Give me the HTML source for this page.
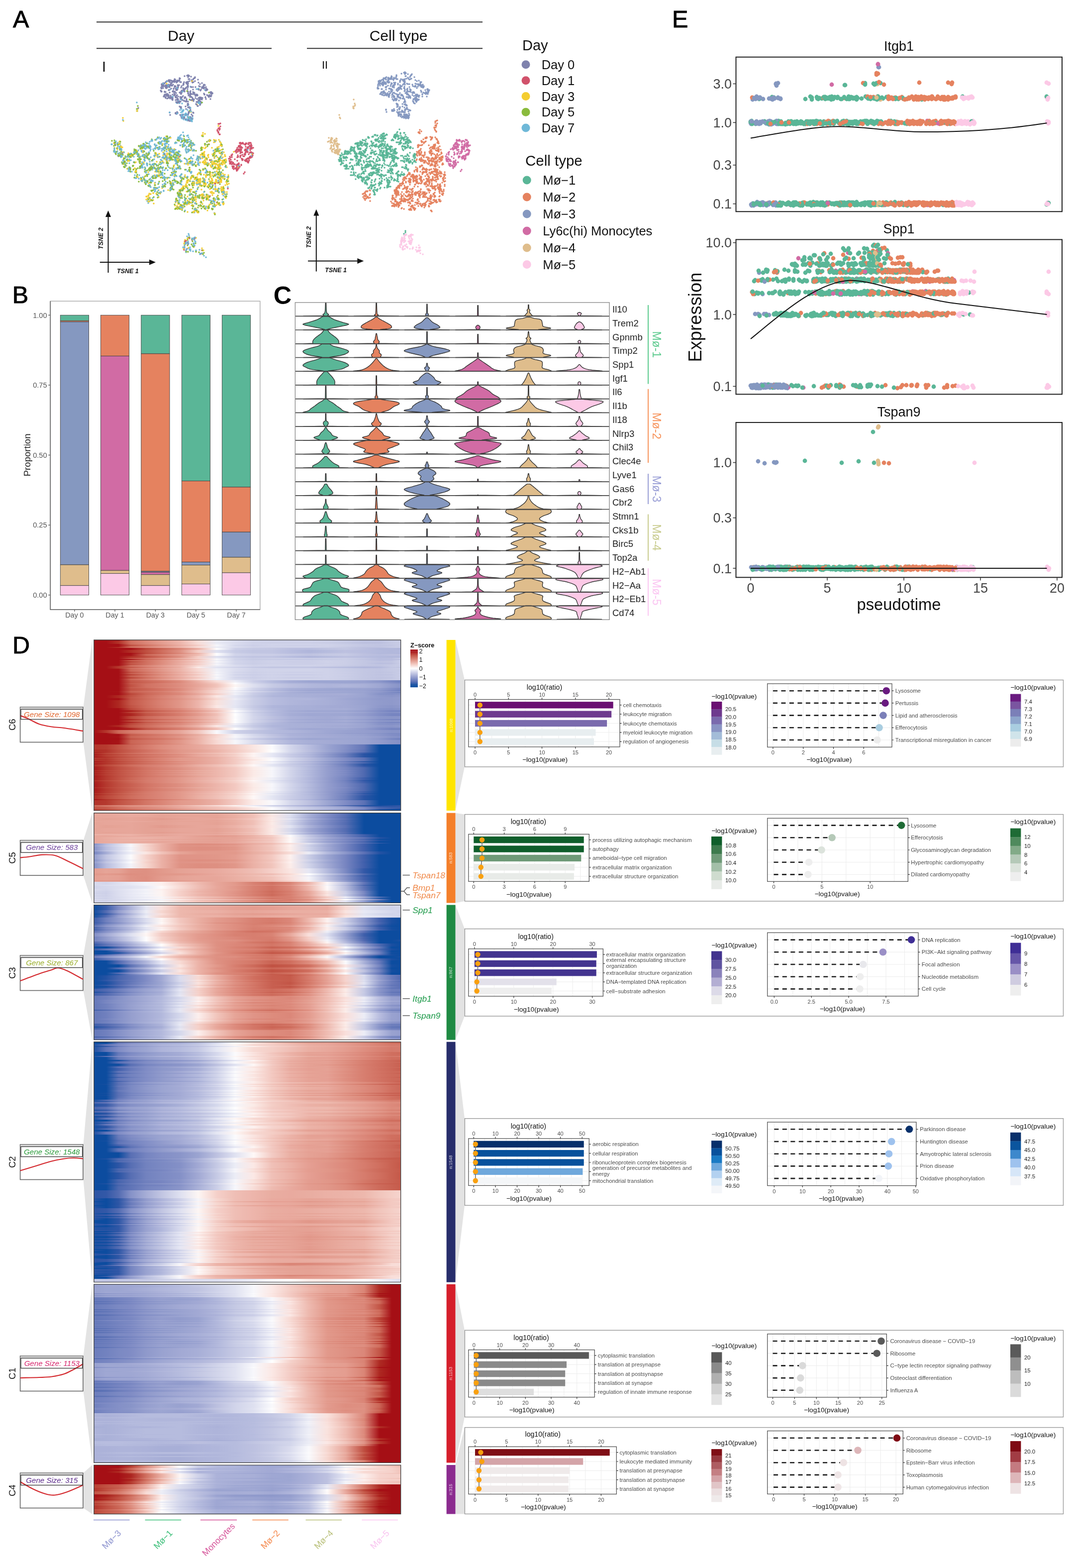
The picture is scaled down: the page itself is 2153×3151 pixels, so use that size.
<!DOCTYPE html>
<html><head><meta charset="utf-8"><title>Figure</title>
<style>html,body{margin:0;padding:0;background:#fff}svg{display:block}text{font-family:"Liberation Sans",Arial,sans-serif}</style>
</head><body>
<svg width="2153" height="3151" viewBox="0 0 2153 3151">
<rect width="2153" height="3151" fill="#fff"/>
<text x="26" y="55.3" font-size="48.5" stroke="#000" stroke-width="0.9">A</text>
<line x1="194" y1="44.2" x2="970" y2="44.2" stroke="#333" stroke-width="2" />
<line x1="194" y1="97.3" x2="546" y2="97.3" stroke="#333" stroke-width="2" />
<line x1="617" y1="97.3" x2="970" y2="97.3" stroke="#333" stroke-width="2" />
<text x="364" y="82" font-size="30" fill="#111" text-anchor="middle">Day</text>
<text x="801" y="82" font-size="30" fill="#111" text-anchor="middle">Cell type</text>
<text x="205" y="143.6" font-size="29" fill="#111">I</text>
<text x="647" y="137.5" font-size="21.5" fill="#111">II</text>
<path d="M831 205h0M807 191h0M816 238h0M791 161h0M823 195h0M814 230h0M836 202h0M818 184h0M786 170h0M806 229h0M781 194h0M798 179h0M856 189h0M800 226h0M810 170h0M759 176h0M818 230h0M818 212h0M818 235h0M819 183h0M787 179h0M847 171h0M839 193h0M817 186h0M785 173h0M776 176h0M786 179h0M771 170h0M811 169h0M835 161h0M839 193h0M814 149h0M769 191h0M813 199h0M808 236h0M789 223h0M770 171h0M765 164h0M813 183h0M839 191h0M805 162h0M815 187h0M824 222h0M813 204h0M837 196h0M764 172h0M837 191h0M813 178h0M785 159h0M796 155h0M799 195h0M827 151h0M789 173h0M814 202h0M813 205h0M834 208h0M794 200h0M807 231h0M811 162h0M841 171h0M821 238h0M855 181h0M761 178h0M847 185h0M803 220h0M782 190h0M822 195h0M801 231h0M835 173h0M778 189h0M832 193h0M820 234h0M829 187h0M814 226h0M818 185h0M794 169h0M794 199h0M813 235h0M845 169h0M774 168h0M849 189h0M792 173h0M803 218h0M776 159h0M801 176h0M793 222h0M851 176h0M819 237h0M814 163h0M776 221h0M802 218h0M812 226h0M839 201h0M817 218h0M767 179h0M804 162h0M797 159h0M768 179h0M788 155h0M860 183h0M859 179h0M825 159h0M849 190h0M782 194h0M796 198h0M793 168h0M792 157h0M780 172h0M774 157h0M810 162h0M781 156h0M767 161h0M811 198h0M850 176h0M835 199h0M760 171h0M800 191h0M800 214h0M770 168h0M773 187h0M820 190h0M763 169h0M829 170h0M825 197h0M807 173h0M833 187h0M809 225h0M796 157h0M859 180h0M839 193h0M825 180h0M790 223h0M789 175h0M809 191h0M799 190h0M798 199h0M810 225h0M787 159h0M861 182h0M804 217h0M776 180h0M770 185h0M782 178h0M803 231h0M760 177h0M863 181h0M796 157h0M780 162h0M764 164h0M780 166h0M818 232h0M814 163h0M825 195h0M810 198h0M782 191h0M776 169h0M801 181h0M760 173h0M775 167h0M817 195h0M775 169h0M785 157h0M814 220h0M797 208h0M803 176h0M763 165h0M792 196h0M800 168h0M827 158h0M841 201h0M783 191h0M793 158h0M816 153h0M841 169h0M844 170h0M822 236h0M760 170h0M860 179h0M847 175h0M811 195h0M769 170h0M783 178h0M802 178h0M778 191h0M814 145h0M776 220h0M838 199h0M839 190h0M775 175h0M838 201h0M826 181h0M771 157h0M772 183h0M803 179h0M793 194h0M782 195h0M838 202h0M804 230h0M838 169h0M830 203h0M838 177h0M799 209h0M803 231h0M799 159h0M831 199h0M818 195h0M804 164h0M811 235h0M818 180h0M837 190h0M787 154h0M799 221h0M809 234h0M823 184h0M785 173h0M803 229h0M829 191h0M777 192h0M771 185h0M800 211h0M832 185h0M819 188h0M815 236h0M759 178h0M779 187h0M838 203h0M775 191h0M813 236h0M860 189h0M832 207h0M845 167h0M814 223h0M790 187h0M788 191h0M840 193h0M795 166h0M813 147h0M816 231h0M817 187h0M820 156h0M789 173h0M792 157h0M767 190h0M802 230h0M849 173h0M819 181h0M809 198h0M764 189h0M767 179h0M827 151h0M792 202h0M839 199h0M823 169h0M788 221h0M853 187h0M792 194h0M780 190h0M788 223h0M791 223h0M813 174h0M837 201h0M842 162h0M825 222h0M803 229h0M810 161h0M833 155h0M816 187h0M763 162h0M805 174h0M857 188h0M774 186h0M820 169h0M822 228h0M809 225h0M792 186h0M765 163h0M787 184h0M775 156h0M836 174h0M835 202h0M773 187h0M792 156h0M766 168h0M802 225h0M824 155h0M842 200h0M815 231h0M838 199h0M804 225h0M769 169h0M821 184h0M789 181h0M809 223h0M782 195h0M772 165h0M846 182h0M836 190h0M838 163h0M770 171h0M791 171h0M799 183h0M821 197h0M797 181h0M823 231h0M798 225h0M806 178h0M790 159h0M799 183h0M771 159h0M771 186h0M817 158h0M803 231h0M800 228h0M812 230h0M761 164h0M763 167h0M760 171h0M858 188h0M770 172h0M818 190h0M809 160h0M834 198h0M846 165h0M783 158h0M792 222h0M768 170h0M856 185h0M786 184h0M808 173h0M850 170h0M791 194h0M831 204h0M787 167h0M806 174h0M852 174h0M844 170h0M804 171h0M805 176h0M825 153h0M843 170h0M771 162h0M839 200h0M776 167h0M822 228h0M814 170h0M772 183h0M806 159h0M818 168h0M791 201h0M797 189h0M782 191h0M769 160h0M806 231h0M797 151h0M782 193h0M781 191h0M831 200h0M814 159h0M812 146h0M812 177h0M814 236h0M777 225h0M813 177h0M815 147h0M783 165h0M804 165h0M770 188h0M787 168h0M787 158h0M815 209h0M766 187h0M836 203h0M821 224h0M780 157h0M858 186h0M813 169h0M776 160h0M835 161h0M774 165h0M792 157h0M813 210h0M851 174h0M805 177h0M797 152h0M813 216h0M816 212h0M781 190h0M804 162h0M815 153h0M771 168h0M835 196h0M805 234h0M818 216h0M775 156h0M785 157h0M840 174h0M807 179h0M788 195h0M764 168h0M797 201h0M833 199h0M792 219h0M793 222h0M782 166h0M784 178h0M807 225h0M807 190h0M770 167h0M778 164h0M782 184h0M786 157h0M822 233h0M781 191h0M803 177h0M806 191h0M769 165h0M846 171h0M798 215h0M820 220h0M819 232h0M794 188h0M819 184h0M810 225h0M814 234h0M814 222h0M767 185h0M821 238h0M839 192h0M789 199h0M793 200h0M824 193h0M821 158h0M820 169h0M814 180h0M851 186h0M847 165h0M835 168h0M857 188h0M817 211h0M861 181h0M861 183h0M850 174h0M805 196h0M789 189h0M862 183h0M770 184h0M801 194h0M786 156h0M825 195h0M835 192h0M810 162h0M789 189h0M810 161h0M823 221h0M835 200h0M764 162h0M783 159h0M843 192h0M808 235h0M855 188h0M787 153h0M800 178h0M815 205h0M822 192h0M791 192h0M828 149h0M780 164h0M775 168h0M836 202h0M837 193h0M778 164h0M810 224h0M816 235h0M812 160h0M814 166h0M818 230h0M762 164h0M771 157h0M837 205h0M821 158h0M774 167h0M776 189h0M826 185h0M815 146h0M835 202h0M812 233h0M798 210h0M830 187h0M809 198h0M785 157h0M794 198h0M805 174h0M784 178h0M813 160h0M772 168h0M761 163h0M799 192h0M781 166h0M793 194h0M785 187h0M800 170h0M852 173h0M774 158h0M847 184h0M802 196h0M788 168h0M832 185h0M803 196h0M819 219h0M775 188h0M816 147h0M820 232h0M801 233h0M777 174h0M839 200h0M793 158h0M773 191h0M823 194h0M833 174h0M792 166h0M809 234h0M793 222h0M799 193h0M820 149h0M774 187h0M792 171h0M842 195h0M794 170h0M786 181h0M766 186h0M812 164h0M792 176h0M802 226h0M785 158h0M804 175h0M775 191h0M842 192h0M810 193h0M835 174h0M777 155h0M788 184h0M816 233h0M781 162h0M812 237h0M772 192h0M802 190h0M846 173h0M844 172h0M836 199h0M830 185h0M809 214h0M816 219h0M823 160h0M823 175h0M811 225h0M830 186h0M780 160h0M826 151h0M805 198h0M844 172h0M765 168h0M837 195h0M783 188h0M835 172h0M842 192h0M804 187h0M782 158h0M787 167h0M818 212h0M814 183h0M821 190h0M781 191h0M799 193h0M798 211h0M789 221h0M764 168h0M809 209h0M830 173h0M815 231h0M861 186h0M816 230h0M807 148h0M819 178h0M780 191h0M768 167h0M802 179h0M784 159h0M797 153h0M813 167h0M818 235h0M776 167h0M805 173h0M825 182h0M769 191h0M761 167h0M832 185h0M813 162h0M808 222h0M796 199h0M791 202h0M845 165h0M813 230h0M858 194h0M807 225h0M802 202h0M849 194h0M804 215h0M812 206h0M830 185h0M767 186h0M820 195h0M834 197h0M816 220h0M807 192h0M800 228h0M799 194h0M764 163h0M796 202h0M824 179h0M811 160h0" stroke="#8598c0" stroke-width="3.5" stroke-linecap="round" fill="none"/>
<path d="M666 293h0M678 294h0M672 282h0M661 277h0M683 300h0M673 302h0M666 294h0M668 287h0M666 277h0M683 300h0M677 308h0M678 288h0M674 308h0M678 303h0M664 287h0M671 283h0M661 284h0M670 293h0M665 297h0M668 278h0M664 283h0M676 301h0M674 303h0M664 299h0M684 301h0M679 307h0M678 294h0M668 301h0M667 286h0M676 306h0M672 306h0M679 290h0M667 281h0M665 280h0M676 278h0M668 300h0M672 285h0M666 297h0M677 301h0M674 283h0M681 302h0M678 295h0M679 292h0M675 285h0M671 291h0M659 285h0M675 289h0M677 279h0M678 288h0M678 293h0M672 298h0M681 310h0M673 282h0M674 285h0M677 295h0M667 302h0M674 308h0M680 305h0M668 305h0M679 289h0M677 304h0M666 292h0M677 305h0M671 294h0M679 310h0M666 281h0M667 281h0M679 299h0M673 307h0M673 281h0M676 292h0M670 300h0M679 296h0M679 294h0M672 289h0M676 279h0M674 306h0M682 290h0M682 305h0M668 300h0M672 285h0M667 303h0M677 283h0M682 303h0M679 295h0M679 299h0M673 285h0M666 285h0M680 307h0M665 297h0M684 301h0M672 286h0M679 304h0M710 214h0M710 217h0M713 213h0M714 211h0M711 200h0M713 208h0M711 217h0M711 218h0M684 238h0M682 231h0M683 236h0" stroke="#dfbd8c" stroke-width="3.5" stroke-linecap="round" fill="none"/>
<path d="M723 323h0M756 348h0M718 290h0M696 305h0M732 304h0M694 339h0M729 312h0M696 339h0M772 313h0M793 333h0M708 339h0M720 288h0M796 275h0M727 357h0M749 339h0M777 312h0M793 300h0M791 324h0M729 308h0M769 275h0M714 309h0M824 327h0M815 295h0M740 277h0M707 303h0M825 285h0M784 309h0M707 352h0M735 291h0M792 321h0M707 321h0M769 291h0M822 327h0M758 382h0M730 362h0M763 295h0M799 286h0M794 275h0M727 288h0M787 311h0M813 295h0M767 337h0M806 350h0M735 300h0M714 305h0M747 379h0M778 292h0M723 299h0M782 366h0M812 279h0M780 293h0M746 307h0M726 312h0M767 298h0M780 371h0M778 332h0M780 373h0M768 333h0M802 286h0M698 310h0M761 343h0M794 317h0M693 305h0M819 310h0M714 315h0M762 341h0M713 308h0M692 317h0M732 360h0M775 317h0M780 342h0M727 317h0M765 291h0M825 284h0M694 306h0M814 314h0M766 313h0M727 317h0M690 315h0M774 352h0M764 274h0M762 373h0M784 339h0M717 332h0M819 321h0M693 317h0M778 305h0M686 323h0M753 377h0M713 296h0M717 316h0M798 273h0M788 342h0M821 340h0M724 284h0M794 331h0M716 317h0M796 329h0M790 308h0M755 280h0M813 326h0M756 347h0M802 273h0M730 345h0M762 346h0M833 309h0M819 318h0M796 299h0M731 324h0M793 320h0M716 323h0M763 319h0M739 289h0M783 300h0M779 307h0M732 306h0M741 378h0M788 313h0M774 293h0M732 358h0M779 373h0M736 315h0M773 292h0M743 324h0M783 300h0M751 373h0M745 347h0M758 273h0M747 334h0M691 317h0M763 331h0M833 318h0M771 312h0M782 375h0M737 336h0M768 272h0M694 333h0M795 304h0M700 304h0M702 307h0M778 310h0M727 362h0M758 341h0M805 283h0M715 347h0M747 302h0M770 322h0M825 296h0M746 379h0M764 309h0M799 359h0M702 306h0M751 335h0M765 377h0M687 323h0M757 290h0M740 332h0M754 272h0M797 331h0M743 326h0M769 334h0M776 298h0M738 330h0M800 345h0M724 289h0M747 376h0M685 330h0M756 324h0M774 331h0M737 331h0M747 362h0M693 307h0M817 314h0M742 359h0M736 366h0M820 312h0M781 333h0M772 328h0M765 290h0M753 294h0M724 308h0M791 308h0M747 324h0M755 310h0M795 274h0M755 348h0M741 277h0M734 341h0M728 341h0M801 351h0M778 377h0M819 287h0M818 286h0M785 299h0M712 299h0M770 289h0M785 310h0M704 305h0M709 334h0M763 322h0M767 278h0M725 356h0M728 358h0M732 360h0M764 312h0M783 363h0M738 288h0M779 376h0M762 331h0M754 391h0M743 358h0M726 350h0M757 309h0M801 365h0M817 287h0M783 343h0M817 336h0M708 339h0M686 318h0M727 308h0M734 290h0M725 324h0M742 333h0M811 316h0M768 364h0M833 313h0M770 318h0M736 368h0M806 313h0M735 332h0M701 339h0M835 317h0M792 326h0M780 361h0M742 331h0M724 354h0M705 309h0M776 308h0M795 300h0M767 369h0M724 300h0M735 313h0M742 277h0M779 346h0M731 346h0M744 333h0M770 275h0M762 352h0M753 338h0M785 297h0M798 307h0M778 312h0M755 304h0M747 285h0M782 334h0M766 271h0M710 297h0M759 315h0M749 302h0M711 304h0M726 317h0M769 332h0M833 311h0M785 343h0M712 304h0M719 315h0M738 354h0M817 320h0M753 365h0M730 303h0M686 320h0M758 351h0M772 278h0M735 344h0M771 273h0M721 329h0M779 301h0M822 325h0M768 288h0M801 344h0M756 347h0M764 331h0M731 323h0M738 295h0M793 307h0M781 374h0M727 356h0M746 292h0M788 312h0M811 294h0M757 339h0M800 360h0M756 343h0M778 299h0M819 281h0M757 281h0M757 382h0M796 317h0M792 362h0M744 326h0M690 328h0M794 273h0M722 350h0M772 320h0M793 332h0M767 292h0M778 271h0M740 361h0M704 327h0M781 371h0M834 324h0M753 271h0M740 277h0M812 349h0M823 319h0M714 289h0M766 278h0M793 276h0M780 371h0M749 289h0M767 364h0M795 362h0M726 287h0M786 354h0M831 312h0M793 331h0M757 320h0M732 291h0M730 337h0M788 282h0M773 323h0M737 361h0M695 305h0M781 373h0M835 310h0M686 312h0M731 310h0M743 376h0M751 327h0M705 352h0M806 277h0M781 373h0M788 323h0M698 334h0M801 352h0M786 357h0M719 353h0M813 338h0M733 288h0M777 299h0M730 348h0M711 351h0M764 306h0M723 300h0M788 295h0M769 283h0M721 298h0M705 298h0M788 304h0M767 293h0M699 307h0M723 298h0M763 353h0M740 318h0M785 298h0M768 312h0M716 309h0M722 307h0M729 340h0M771 318h0M761 297h0M711 348h0M781 307h0M766 304h0M747 284h0M713 305h0M684 318h0M765 368h0M755 360h0M774 297h0M734 301h0M766 277h0M816 285h0M825 298h0M787 310h0M711 346h0M767 363h0M718 319h0M734 369h0M808 278h0M787 356h0M797 286h0M816 280h0M779 361h0M748 293h0M743 294h0M686 322h0M784 366h0M686 321h0M705 321h0M766 293h0M707 333h0M725 316h0M696 331h0M796 315h0M781 374h0M736 302h0M767 283h0M734 306h0M772 305h0M754 339h0M728 361h0M791 334h0M794 306h0M735 315h0M683 324h0M768 279h0M808 276h0M834 314h0M754 281h0M713 332h0M703 328h0M771 303h0M806 287h0M772 269h0M715 360h0M766 294h0M793 301h0M763 283h0M751 339h0M706 320h0M766 285h0M795 317h0M720 357h0M753 388h0M797 329h0M738 325h0M820 282h0M787 345h0M783 315h0M735 356h0M752 332h0M777 308h0M812 282h0M782 334h0M810 336h0M697 309h0M752 391h0M775 278h0M812 295h0M722 298h0M793 307h0M746 372h0M790 322h0M752 309h0M701 309h0M764 305h0M822 314h0M760 294h0M750 348h0M735 303h0M824 326h0M746 307h0M789 300h0M810 301h0M693 307h0M820 321h0M733 307h0M796 349h0M782 344h0M768 307h0M797 308h0M712 350h0M778 317h0M727 339h0M692 333h0M760 280h0M777 295h0M697 336h0M748 294h0M771 280h0M820 321h0M772 278h0M743 349h0M718 355h0M741 358h0M813 323h0M817 332h0M717 312h0M706 298h0M745 330h0M755 335h0M718 294h0M750 383h0M727 336h0M754 377h0M717 310h0M778 362h0M697 309h0M786 349h0M686 330h0M729 309h0M722 293h0M693 310h0M793 302h0M832 325h0M726 288h0M834 313h0M697 332h0M719 297h0M783 309h0M727 336h0M816 288h0M766 350h0M763 370h0M748 307h0M766 352h0M703 328h0M712 303h0M758 347h0M754 362h0M801 278h0M686 324h0M820 343h0M722 327h0M782 357h0M719 288h0M728 288h0M767 355h0M742 350h0M682 324h0M706 299h0M811 324h0M751 372h0M690 316h0M719 355h0M726 305h0M763 370h0M776 352h0M763 359h0M696 322h0M786 302h0M717 329h0M725 291h0M801 318h0M770 310h0M822 282h0M808 351h0M806 273h0M774 289h0M689 311h0M751 385h0M805 354h0M749 324h0M699 307h0M799 317h0M724 310h0M747 347h0M809 323h0M776 296h0M798 333h0M724 320h0M681 321h0M805 289h0M763 301h0M775 312h0M687 327h0M684 312h0M778 302h0M686 320h0M814 289h0M744 352h0M798 347h0M761 277h0M820 321h0M750 336h0M763 294h0M754 338h0M792 333h0M760 317h0M763 292h0M697 304h0M771 313h0M766 278h0M758 324h0M711 304h0M721 293h0M736 337h0M836 310h0M800 356h0M693 316h0M771 268h0M737 362h0M747 302h0M720 289h0M690 316h0M700 305h0M720 324h0M779 315h0M742 378h0M759 272h0M786 315h0M789 280h0M733 367h0M786 294h0M776 304h0M771 320h0M704 301h0M694 303h0M732 327h0M715 313h0M814 299h0M799 319h0M818 286h0M739 311h0M754 292h0M764 379h0M728 364h0M744 326h0M792 363h0M748 293h0M823 325h0M732 291h0M782 370h0M806 323h0M757 321h0M697 304h0M818 297h0M815 319h0M731 311h0M829 321h0M745 308h0M714 353h0M836 326h0M746 366h0M740 360h0M792 324h0M796 328h0M765 312h0M775 272h0M790 322h0M802 290h0M815 335h0M716 319h0M731 323h0M693 307h0M772 354h0M768 290h0M819 281h0M763 352h0M725 310h0M778 364h0M705 302h0M781 294h0M812 351h0M823 325h0M682 321h0M798 364h0M770 284h0M734 314h0M762 286h0M771 279h0M750 373h0M783 366h0M732 313h0M801 279h0M820 320h0M811 278h0M738 336h0M742 353h0M740 357h0M770 311h0M730 282h0M763 332h0M785 375h0M736 367h0M748 375h0M780 312h0M738 291h0M796 328h0M721 309h0M758 280h0M826 296h0M759 324h0M720 353h0M811 352h0M691 323h0M745 352h0M737 331h0M741 357h0M760 317h0M796 309h0M705 320h0M732 349h0M766 356h0M744 330h0M816 336h0M698 309h0M791 318h0M749 306h0M727 286h0M736 334h0M737 320h0M792 276h0M752 381h0M793 303h0M735 288h0M789 312h0M736 324h0M713 304h0M738 357h0M684 323h0M752 306h0M765 303h0M808 336h0M836 310h0M759 331h0M808 346h0M789 347h0M769 269h0M720 300h0M800 352h0M746 315h0M762 337h0M779 367h0M768 275h0M706 346h0M707 297h0M728 293h0M721 287h0M744 323h0M793 271h0M780 367h0M696 334h0M686 320h0M807 279h0M698 309h0M769 315h0M826 296h0M759 344h0M812 277h0M727 289h0M747 339h0M816 339h0M787 361h0M751 339h0M796 334h0M803 278h0M758 347h0M779 313h0M771 277h0M785 295h0M727 285h0M793 273h0M820 295h0M738 369h0M785 341h0M776 302h0M722 292h0M823 283h0M743 331h0M691 315h0M823 319h0M731 291h0M714 307h0M750 325h0M771 294h0M747 353h0M825 295h0M778 307h0M792 274h0M726 292h0M693 308h0M748 275h0M820 341h0M768 364h0M734 334h0M717 309h0M710 352h0M771 321h0M817 338h0M688 328h0M755 310h0M763 369h0M818 323h0M751 287h0M775 313h0M761 311h0M763 341h0M752 305h0M685 314h0M708 296h0M780 370h0M724 287h0M740 333h0M746 371h0M724 284h0M712 304h0M696 335h0M750 373h0M754 328h0M790 317h0M785 348h0M720 324h0M740 378h0M799 271h0M755 283h0M732 306h0M800 353h0M777 358h0M722 356h0M755 370h0M799 353h0M795 299h0M757 283h0M772 273h0M719 292h0M790 312h0M712 302h0M818 279h0M729 365h0M728 293h0M725 315h0M755 271h0M725 298h0M776 297h0M750 275h0M734 304h0M750 339h0M819 292h0M703 305h0M691 318h0M718 314h0M746 306h0M769 314h0M777 308h0M772 316h0M755 348h0M717 328h0M757 282h0M809 299h0M822 281h0M801 353h0M761 346h0M795 270h0M824 285h0M821 288h0M770 279h0M807 278h0M719 327h0M780 312h0M795 273h0M789 342h0M763 366h0M706 298h0M683 323h0M778 291h0M734 363h0M706 300h0M776 311h0M813 351h0M741 276h0M800 275h0M715 310h0M707 340h0M709 301h0M776 306h0M721 358h0M775 313h0M780 363h0M778 374h0M696 317h0M707 352h0M717 318h0M768 359h0M815 297h0M751 337h0M728 293h0M767 293h0M798 267h0M797 317h0M769 273h0M721 321h0M721 358h0M820 312h0M801 352h0M781 299h0M792 306h0M705 321h0M726 357h0M820 284h0M809 351h0M816 296h0M758 281h0M819 340h0M697 305h0M733 313h0M791 282h0M766 354h0M785 305h0M795 306h0M720 294h0M788 282h0M721 287h0M763 352h0M741 333h0M808 295h0M685 331h0M773 322h0M786 357h0M776 298h0M697 305h0M718 331h0M710 341h0M772 268h0M771 304h0M709 337h0M773 290h0M684 313h0M811 280h0M765 278h0M738 325h0M768 306h0M791 303h0M767 343h0M820 321h0M746 332h0M788 318h0M732 345h0M780 375h0M735 366h0M748 362h0M793 360h0M756 334h0M758 281h0M781 370h0M813 281h0M709 297h0M727 307h0M736 315h0M814 294h0M826 286h0M759 345h0M790 349h0M748 372h0M785 341h0M817 324h0M744 332h0M807 350h0M816 314h0M821 293h0M698 339h0M781 346h0M738 370h0M810 279h0M694 333h0M811 289h0M723 305h0M696 309h0M819 281h0M717 289h0M767 276h0M751 292h0M759 340h0M716 289h0M783 367h0M740 275h0M759 346h0M720 331h0M794 309h0M721 331h0M694 318h0M718 287h0M770 352h0M745 298h0M816 284h0M766 313h0M760 284h0M709 335h0M799 362h0M749 337h0M757 331h0M741 331h0M801 345h0M831 315h0M807 279h0M726 286h0M789 319h0M713 314h0M715 288h0M738 371h0M747 367h0M748 350h0M747 349h0M687 308h0M772 279h0M732 304h0M799 265h0M758 381h0M753 372h0M787 303h0M770 307h0M821 325h0M815 296h0M764 370h0M685 324h0M789 318h0M764 322h0M758 330h0M798 364h0M791 321h0M796 329h0M762 322h0M752 346h0M819 284h0M726 355h0M779 307h0M717 330h0M745 373h0M771 314h0M759 381h0M817 322h0M783 296h0M709 321h0M728 332h0M793 361h0M771 282h0M779 311h0M694 306h0M752 348h0M814 275h0M771 269h0M769 312h0M783 363h0M735 284h0M805 353h0M740 334h0M722 332h0M742 318h0M726 330h0M773 361h0M834 310h0M825 323h0M756 347h0M750 349h0M773 337h0M749 351h0M834 324h0M737 334h0M781 346h0M817 323h0M758 381h0M713 305h0M767 364h0M825 285h0M731 304h0M817 285h0M786 326h0M829 327h0M783 316h0M692 310h0M785 328h0M766 367h0M750 338h0M739 329h0M784 310h0M736 280h0M726 310h0M788 314h0M743 315h0M754 332h0M741 335h0M751 372h0M787 282h0M746 284h0M736 293h0M789 315h0M793 313h0M821 282h0M763 370h0M773 273h0M731 357h0M760 350h0M686 319h0M694 334h0M733 337h0M774 278h0M731 345h0M752 386h0M698 317h0M694 309h0M772 311h0M752 385h0M732 327h0M719 356h0M795 306h0M792 316h0M741 350h0M815 286h0M751 319h0M803 352h0M688 328h0M687 325h0M755 382h0M774 285h0M692 334h0M759 380h0M826 325h0M833 322h0M736 368h0M789 340h0M811 277h0M771 277h0M758 384h0M819 311h0M811 316h0M734 290h0M748 292h0M755 291h0M806 282h0M800 280h0M789 333h0M823 282h0M735 302h0M829 329h0M696 315h0M830 298h0M772 303h0M719 352h0M735 367h0M778 315h0M812 319h0M750 346h0M725 323h0M795 278h0M761 344h0M756 292h0M807 287h0M734 290h0M748 288h0M755 295h0M721 358h0M746 309h0M699 309h0M695 333h0M695 335h0M811 280h0M761 369h0M780 310h0M749 337h0M739 332h0M782 346h0M796 316h0M773 274h0M796 270h0M706 300h0M738 332h0M725 300h0M779 372h0M804 288h0M770 298h0M682 322h0M753 310h0M767 272h0M767 293h0M759 339h0M785 294h0M684 321h0M819 291h0M787 339h0M748 352h0M759 343h0M822 282h0M785 302h0M811 302h0M773 324h0M795 299h0M768 310h0M777 311h0M733 282h0M767 355h0M821 322h0M815 298h0M779 315h0M793 316h0M716 309h0M721 324h0M823 297h0M741 325h0M822 287h0M722 356h0M767 302h0M731 359h0M713 306h0M706 302h0M810 277h0M741 333h0M791 312h0M754 311h0M761 332h0M735 293h0M695 334h0M704 335h0M732 326h0M770 314h0M777 304h0M765 304h0M757 294h0M706 295h0M726 310h0M729 287h0M825 285h0M722 299h0M727 285h0M717 308h0M765 291h0M815 297h0M728 348h0M777 270h0M723 305h0M777 307h0M820 281h0M715 288h0M779 290h0M824 307h0M805 287h0M711 302h0M683 317h0M729 281h0M773 377h0M782 299h0M799 350h0M780 376h0M784 331h0M792 318h0M789 358h0M816 331h0M710 338h0M778 374h0M703 335h0M801 278h0M718 329h0M750 274h0M768 351h0M805 285h0M686 321h0M809 293h0M737 298h0M736 367h0M720 324h0M786 335h0M809 313h0M720 355h0M792 275h0M809 276h0M805 269h0M812 267h0M803 260h0M805 267h0M820 277h0M817 275h0M815 271h0M813 267h0M815 464h0M815 467h0M812 470h0" stroke="#5ab697" stroke-width="3.5" stroke-linecap="round" fill="none"/>
<path d="M823 367h0M840 293h0M863 404h0M852 327h0M890 328h0M845 322h0M853 413h0M848 367h0M818 376h0M866 399h0M862 357h0M877 315h0M857 342h0M891 361h0M849 291h0M851 322h0M810 380h0M794 387h0M865 400h0M856 396h0M839 338h0M839 343h0M845 302h0M859 361h0M851 346h0M865 400h0M849 350h0M831 362h0M807 395h0M869 332h0M794 405h0M865 374h0M844 334h0M874 363h0M868 332h0M881 288h0M882 305h0M878 354h0M883 380h0M876 380h0M839 387h0M867 398h0M791 398h0M876 374h0M849 364h0M875 394h0M881 347h0M832 358h0M884 311h0M884 384h0M879 309h0M844 336h0M812 400h0M807 403h0M885 376h0M877 344h0M872 296h0M879 351h0M876 333h0M867 398h0M876 404h0M822 390h0M801 410h0M817 376h0M850 412h0M857 359h0M878 342h0M822 347h0M887 306h0M798 411h0M865 409h0M873 395h0M866 296h0M866 408h0M804 406h0M895 364h0M879 373h0M834 363h0M812 405h0M863 368h0M853 346h0M894 371h0M860 401h0M828 415h0M795 401h0M826 421h0M836 341h0M883 318h0M842 304h0M875 326h0M863 322h0M852 323h0M883 385h0M840 306h0M830 384h0M846 364h0M864 298h0M797 380h0M839 360h0M846 363h0M893 352h0M823 399h0M838 309h0M879 325h0M876 361h0M825 360h0M868 345h0M825 366h0M850 338h0M814 402h0M799 406h0M807 401h0M874 377h0M870 357h0M864 324h0M882 288h0M832 354h0M869 309h0M837 322h0M859 362h0M801 416h0M843 359h0M847 363h0M807 369h0M800 384h0M885 321h0M824 359h0M861 360h0M846 310h0M856 369h0M872 350h0M878 406h0M793 384h0M877 344h0M892 381h0M798 383h0M853 286h0M871 402h0M878 327h0M847 363h0M823 399h0M839 341h0M876 312h0M852 313h0M845 359h0M816 386h0M865 275h0M823 407h0M839 313h0M884 380h0M817 359h0M868 375h0M821 364h0M862 292h0M795 403h0M845 359h0M813 356h0M867 363h0M824 380h0M875 382h0M797 414h0M825 367h0M876 315h0M847 305h0M799 389h0M874 327h0M862 415h0M824 409h0M857 316h0M867 409h0M833 363h0M845 355h0M884 376h0M848 413h0M861 383h0M854 306h0M863 387h0M881 302h0M862 380h0M879 357h0M843 368h0M818 385h0M867 310h0M803 408h0M829 386h0M885 346h0M859 380h0M788 414h0M814 376h0M822 421h0M807 396h0M866 401h0M800 390h0M823 393h0M874 341h0M840 296h0M855 414h0M836 361h0M840 375h0M878 342h0M860 402h0M846 334h0M849 341h0M872 389h0M874 297h0M879 302h0M868 304h0M797 377h0M875 362h0M890 314h0M836 354h0M874 387h0M796 404h0M879 357h0M846 359h0M870 356h0M867 409h0M831 358h0M822 364h0M878 280h0M853 326h0M866 409h0M860 398h0M882 377h0M880 358h0M794 389h0M803 413h0M862 330h0M808 400h0M825 364h0M881 350h0M867 340h0M877 319h0M826 361h0M876 329h0M837 368h0M875 357h0M824 400h0M815 356h0M880 358h0M794 384h0M838 410h0M840 292h0M856 389h0M888 390h0M797 406h0M808 418h0M793 415h0M827 422h0M874 352h0M849 324h0M854 327h0M883 336h0M828 380h0M831 353h0M867 346h0M851 345h0M860 350h0M847 357h0M878 329h0M839 402h0M871 390h0M894 374h0M820 393h0M877 342h0M806 409h0M875 404h0M878 353h0M875 290h0M809 367h0M833 345h0M852 286h0M855 278h0M875 335h0M858 359h0M872 339h0M873 345h0M842 394h0M862 323h0M890 392h0M794 401h0M875 332h0M887 322h0M863 382h0M848 320h0M876 340h0M838 388h0M867 396h0M872 391h0M789 414h0M884 375h0M866 348h0M797 391h0M863 318h0M816 401h0M844 388h0M795 412h0M881 286h0M876 339h0M792 409h0M865 398h0M865 398h0M891 389h0M883 325h0M852 323h0M846 311h0M796 386h0M841 414h0M831 351h0M867 301h0M812 379h0M878 341h0M821 393h0M869 331h0M882 301h0M844 292h0M865 333h0M792 398h0M833 343h0M797 410h0M878 279h0M789 396h0M878 347h0M824 366h0M874 332h0M856 390h0M789 396h0M880 284h0M846 381h0M855 277h0M832 357h0M877 402h0M830 356h0M867 330h0M870 345h0M849 313h0M851 393h0M884 325h0M853 391h0M861 354h0M862 354h0M889 367h0M834 391h0M860 321h0M859 404h0M855 408h0M800 385h0M863 383h0M830 404h0M804 400h0M871 407h0M838 363h0M889 321h0M861 317h0M848 321h0M828 352h0M848 284h0M801 373h0M838 320h0M822 364h0M854 324h0M876 312h0M863 347h0M848 414h0M872 324h0M837 356h0M808 403h0M844 394h0M866 397h0M848 415h0M875 374h0M797 377h0M887 354h0M837 355h0M854 311h0M838 344h0M822 364h0M815 357h0M894 350h0M846 369h0M837 366h0M863 415h0M880 370h0M869 276h0M879 343h0M851 386h0M869 295h0M833 375h0M859 361h0M845 409h0M887 317h0M858 359h0M865 397h0M839 360h0M823 407h0M858 364h0M874 326h0M878 298h0M854 324h0M796 381h0M876 327h0M824 380h0M841 293h0M828 391h0M884 401h0M857 375h0M870 355h0M857 278h0M869 374h0M825 399h0M830 413h0M867 279h0M884 344h0M869 298h0M804 370h0M808 393h0M870 318h0M849 285h0M860 401h0M810 368h0M869 317h0M821 384h0M868 425h0M848 332h0M831 365h0M873 401h0M833 388h0M860 354h0M881 296h0M823 398h0M847 292h0M845 345h0M843 306h0M881 287h0M851 313h0M855 392h0M817 402h0M883 372h0M875 316h0M877 350h0M846 413h0M871 318h0M797 391h0M799 378h0M859 371h0M828 413h0M885 349h0M859 404h0M823 359h0M814 356h0M855 323h0M809 403h0M847 317h0M885 382h0M812 420h0M883 376h0M874 352h0M836 336h0M793 382h0M889 330h0M872 345h0M873 396h0M821 394h0M872 291h0M815 405h0M814 359h0M798 379h0M812 398h0M868 408h0M789 393h0M869 330h0M875 343h0M813 402h0M872 339h0M874 341h0M828 390h0M866 396h0M829 416h0M827 382h0M866 331h0M855 369h0M846 299h0M890 359h0M885 349h0M813 373h0M829 392h0M789 414h0M877 365h0M863 357h0M801 408h0M828 354h0M812 398h0M854 323h0M788 414h0M886 301h0M802 374h0M816 365h0M857 368h0M830 391h0M840 401h0M866 303h0M850 386h0M866 399h0M880 332h0M843 321h0M840 386h0M844 410h0M864 308h0M853 395h0M844 360h0M875 328h0M847 361h0M810 361h0M796 413h0M874 405h0M884 371h0M864 306h0M892 384h0M867 340h0M888 308h0M834 388h0M836 392h0M874 374h0M879 316h0M838 305h0M833 358h0M807 398h0M868 371h0M836 361h0M866 332h0M806 405h0M881 360h0M835 419h0M806 390h0M872 378h0M885 378h0M847 363h0M829 380h0M884 348h0M792 411h0M867 361h0M869 408h0M820 351h0M793 412h0M801 389h0M819 401h0M888 384h0M875 344h0M887 323h0M819 376h0M864 366h0M874 320h0M884 353h0M867 423h0M807 403h0M807 394h0M883 377h0M835 356h0M876 302h0M789 399h0M808 386h0M879 281h0M814 378h0M798 377h0M869 394h0M830 379h0M851 337h0M796 387h0M801 386h0M869 331h0M875 352h0M838 353h0M825 420h0M882 299h0M850 346h0M846 355h0M871 362h0M853 368h0M842 309h0M821 394h0M871 296h0M838 356h0M810 394h0M811 403h0M856 366h0M878 350h0M802 392h0M884 394h0M879 345h0M871 294h0M863 409h0M863 305h0M860 329h0M895 352h0M869 323h0M843 310h0M847 356h0M841 385h0M829 351h0M877 407h0M871 295h0M866 305h0M841 389h0M868 364h0M830 404h0M844 384h0M875 326h0M832 357h0M891 330h0M810 368h0M869 361h0M869 378h0M872 294h0M871 299h0M809 370h0M888 349h0M867 346h0M868 325h0M866 397h0M853 324h0M870 359h0M810 365h0M846 321h0M866 410h0M841 291h0M878 303h0M813 378h0M842 392h0M824 407h0M818 387h0M824 349h0M831 361h0M824 393h0M879 406h0M824 386h0M886 379h0M863 415h0M855 285h0M860 319h0M857 406h0M803 408h0M877 324h0M884 317h0M884 294h0M830 417h0M820 407h0M811 358h0M874 319h0M833 354h0M867 312h0M843 390h0M854 369h0M839 345h0M824 359h0M870 319h0M820 403h0M828 386h0M854 369h0M862 329h0M826 419h0M875 276h0M840 400h0M829 395h0M863 370h0M873 291h0M845 410h0M797 384h0M866 281h0M845 392h0M821 385h0M839 365h0M821 364h0M868 332h0M855 354h0M882 376h0M876 324h0M800 387h0M851 347h0M844 302h0M792 410h0M799 406h0M824 393h0M822 413h0M877 351h0M880 377h0M867 319h0M866 322h0M819 395h0M869 375h0M793 401h0M862 325h0M795 401h0M891 357h0M853 388h0M835 358h0M847 368h0M877 355h0M854 386h0M853 324h0M872 321h0M827 415h0M796 392h0M845 355h0M860 365h0M801 412h0M804 372h0M820 401h0M807 403h0M826 415h0M877 328h0M852 389h0M859 341h0M868 279h0M786 405h0M871 345h0M816 367h0M846 386h0M857 339h0M843 352h0M882 301h0M846 362h0M796 396h0M872 296h0M889 331h0M822 364h0M886 355h0M854 388h0M871 296h0M804 369h0M895 358h0M847 307h0M860 316h0M884 388h0M844 410h0M874 351h0M830 399h0M824 422h0M818 385h0M855 341h0M839 355h0M831 417h0M873 310h0M883 317h0M847 317h0M800 387h0M796 380h0M817 379h0M881 284h0M811 403h0M811 404h0M885 349h0M893 355h0M869 360h0M876 334h0M889 385h0M800 410h0M811 403h0M831 357h0M848 364h0M879 311h0M870 308h0M838 312h0M849 410h0M828 353h0M887 381h0M885 318h0M839 407h0M801 376h0M796 382h0M862 413h0M850 312h0M852 409h0M858 345h0M807 419h0M815 393h0M844 392h0M830 358h0M868 278h0M853 340h0M887 309h0M855 345h0M858 388h0M859 360h0M852 361h0M883 395h0M873 295h0M840 368h0M792 398h0M827 404h0M857 276h0M863 342h0M868 368h0M877 279h0M847 357h0M814 378h0M869 323h0M875 352h0M882 378h0M884 320h0M790 393h0M823 406h0M841 409h0M862 329h0M798 409h0M824 351h0M812 390h0M876 314h0M869 348h0M838 355h0M854 368h0M880 378h0M841 369h0M858 327h0M818 354h0M886 404h0M885 370h0M878 361h0M827 397h0M850 389h0M833 420h0M798 392h0M799 408h0M845 357h0M855 413h0M879 341h0M880 355h0M834 421h0M872 375h0M891 388h0M860 373h0M829 352h0M882 303h0M893 365h0M862 414h0M853 396h0M866 374h0M838 407h0M858 276h0M863 328h0M832 417h0M883 320h0M811 369h0M801 413h0M856 284h0M863 366h0M875 341h0M798 386h0M857 396h0M847 283h0M840 402h0M873 334h0M850 348h0M824 420h0M858 277h0M855 389h0M813 357h0M870 325h0M887 319h0M892 360h0M888 385h0M800 374h0M880 322h0M806 404h0M874 357h0M866 396h0M825 409h0M813 403h0M867 308h0M853 339h0M800 409h0M848 390h0M867 276h0M879 287h0M883 404h0M884 319h0M887 346h0M818 384h0M813 362h0M870 298h0M878 342h0M887 315h0M882 300h0M844 319h0M860 363h0M894 346h0M837 389h0M863 364h0M831 419h0M885 320h0M796 389h0M881 313h0M795 401h0M848 286h0M835 407h0M833 419h0M823 398h0M798 378h0M789 413h0M834 412h0M863 341h0M834 357h0M882 401h0M808 404h0M817 395h0M847 362h0M881 376h0M885 373h0M823 361h0M854 370h0M874 343h0M823 359h0M832 356h0M837 365h0M868 329h0M834 371h0M865 350h0M820 375h0M874 403h0M856 411h0M795 411h0M842 405h0M814 401h0M876 345h0M803 407h0M819 379h0M886 374h0M791 414h0M823 367h0M870 379h0M883 318h0M874 344h0M828 388h0M868 407h0M855 369h0M826 355h0M882 381h0M856 324h0M869 277h0M788 408h0M847 355h0M811 405h0M846 380h0M878 316h0M845 302h0M846 321h0M848 363h0M789 401h0M862 362h0M800 375h0M842 303h0M844 388h0M856 369h0M797 384h0M865 302h0M857 347h0M844 309h0M877 403h0M868 332h0M853 388h0M863 399h0M853 417h0M804 369h0M865 383h0M814 378h0M871 361h0M854 308h0M839 313h0M845 359h0M800 411h0M891 363h0M798 393h0M847 284h0M837 360h0M881 300h0M875 317h0M800 375h0M872 296h0M802 373h0M848 284h0M875 329h0M879 325h0M824 391h0M874 393h0M828 355h0M791 409h0M865 361h0M866 423h0M825 395h0M871 294h0M885 405h0M801 414h0M874 343h0M788 399h0M812 362h0M878 346h0M843 312h0M807 373h0M857 278h0M853 327h0M878 350h0M846 357h0M850 396h0M868 324h0M852 316h0M797 383h0M836 364h0M867 322h0M821 394h0M880 341h0M892 351h0M871 299h0M860 399h0M824 361h0M804 373h0M832 419h0M851 280h0M824 371h0M821 350h0M865 394h0M844 397h0M849 333h0M828 402h0M888 315h0M860 401h0M879 352h0M803 412h0M844 393h0M858 351h0M854 306h0M867 423h0M795 388h0M835 371h0M822 401h0M865 398h0M865 410h0M866 392h0M817 381h0M889 390h0M841 295h0M836 386h0M833 422h0M853 370h0M829 404h0M815 400h0M820 351h0M874 299h0M803 375h0M866 405h0M801 388h0M865 395h0M866 398h0M873 294h0M843 307h0M876 346h0M834 357h0M849 341h0M873 344h0M875 345h0M881 304h0M867 310h0M852 288h0M873 379h0M792 411h0M868 331h0M890 317h0M872 296h0M875 293h0M831 363h0M882 379h0M864 341h0M862 358h0M837 341h0M883 320h0M824 409h0M826 392h0M867 322h0M874 393h0M886 318h0M854 410h0M844 320h0M797 381h0M870 357h0M846 324h0M879 303h0M824 348h0M813 400h0M803 378h0M875 395h0M882 302h0M874 394h0M855 371h0M861 373h0M821 392h0M819 352h0M879 309h0M841 291h0M848 363h0M850 340h0M873 332h0M822 359h0M851 394h0M857 316h0M849 347h0M873 257h0M875 252h0M877 251h0M873 256h0M877 264h0M879 242h0M877 243h0M877 265h0M875 262h0M877 253h0M879 248h0M874 260h0M875 244h0M876 256h0M875 247h0M874 260h0M844 261h0M847 264h0M844 268h0M841 266h0M843 265h0M842 267h0M736 392h0M738 397h0M731 389h0M733 394h0M735 391h0M732 399h0M734 386h0M741 398h0M733 399h0M739 395h0M744 390h0M738 395h0M734 402h0M736 392h0M744 383h0M739 384h0M737 398h0M729 390h0M732 393h0M740 396h0M736 384h0M743 392h0M743 382h0M744 397h0M735 394h0M734 388h0M738 385h0M730 396h0M744 404h0M736 399h0M733 388h0M734 395h0" stroke="#e5825f" stroke-width="3.5" stroke-linecap="round" fill="none"/>
<path d="M915 325h0M913 311h0M936 281h0M919 294h0M918 283h0M921 283h0M940 288h0M928 285h0M937 282h0M913 299h0M929 319h0M938 291h0M923 283h0M930 297h0M920 308h0M898 324h0M932 313h0M918 286h0M928 304h0M935 313h0M922 314h0M928 301h0M933 299h0M914 333h0M929 298h0M908 333h0M918 282h0M919 308h0M935 293h0M928 316h0M937 311h0M910 332h0M943 302h0M929 285h0M929 305h0M899 321h0M904 330h0M903 321h0M933 300h0M900 316h0M921 326h0M902 308h0M916 327h0M919 282h0M917 330h0M939 289h0M907 324h0M911 335h0M906 300h0M898 310h0M914 335h0M899 320h0M902 311h0M936 314h0M896 314h0M913 306h0M941 291h0M928 305h0M922 314h0M932 295h0M914 331h0M915 298h0M924 281h0M903 332h0M932 317h0M897 321h0M924 314h0M916 289h0M932 283h0M935 304h0M905 321h0M910 297h0M916 289h0M904 331h0M912 294h0M916 297h0M924 309h0M943 304h0M941 287h0M938 301h0M930 298h0M938 287h0M919 302h0M938 302h0M939 289h0M917 290h0M934 290h0M938 294h0M915 324h0M915 288h0M915 289h0M914 310h0M923 281h0M917 297h0M928 286h0M905 329h0M928 297h0M914 327h0M929 317h0M915 327h0M942 294h0M944 303h0M918 296h0M937 281h0M912 329h0M919 310h0M905 330h0M920 289h0M927 308h0M935 289h0M917 288h0M932 318h0M941 292h0M899 320h0M911 298h0M929 294h0M938 293h0M934 321h0M919 282h0M908 315h0M930 316h0M921 294h0M902 329h0M934 285h0M916 332h0M920 291h0M911 338h0M900 321h0M916 294h0M913 291h0M923 291h0M899 321h0M905 324h0M929 302h0M915 294h0M934 313h0M901 307h0M937 312h0M904 323h0M918 281h0M905 334h0M916 327h0M939 288h0M919 289h0M940 301h0M935 293h0M925 283h0M917 295h0M933 292h0M937 310h0M899 323h0M943 307h0M940 309h0M942 292h0M938 290h0M912 324h0M941 308h0M910 297h0M932 317h0M924 315h0M941 311h0M942 301h0M932 295h0M929 290h0M918 290h0M940 292h0M933 318h0M929 283h0M916 322h0M916 287h0M916 290h0M931 297h0M918 299h0M898 323h0M916 327h0M922 305h0M916 327h0M917 329h0M934 321h0M919 291h0M917 289h0M941 285h0M922 315h0M942 310h0M911 326h0M939 311h0M898 310h0M936 319h0M914 309h0M931 299h0M930 314h0M940 300h0M921 301h0M939 296h0M920 326h0M933 318h0M939 282h0M921 296h0M918 295h0M906 330h0M928 295h0M942 303h0M911 337h0M945 292h0M922 282h0M940 291h0M937 282h0M922 301h0M936 317h0M934 320h0M910 333h0M902 319h0M911 335h0M914 296h0M918 296h0M912 292h0M901 325h0M903 305h0M909 299h0M929 295h0M897 314h0M912 318h0M897 318h0M934 296h0M922 301h0M922 317h0M911 301h0M939 311h0M934 291h0M931 297h0M933 314h0M924 283h0M926 305h0M926 344h0M928 341h0" stroke="#d16ba4" stroke-width="3.5" stroke-linecap="round" fill="none"/>
<path d="M807 482h0M807 480h0M804 492h0M808 485h0M813 483h0M823 475h0M823 480h0M804 495h0M827 488h0M813 475h0M822 476h0M827 473h0M823 489h0M850 511h0M808 484h0M821 485h0M819 498h0M822 477h0M811 501h0M826 472h0M808 477h0M814 493h0M814 485h0M807 492h0M838 505h0M809 501h0M830 499h0M812 473h0M807 487h0M824 488h0M845 503h0M819 496h0M817 471h0M824 485h0M824 500h0M824 484h0M830 497h0M824 490h0M811 495h0M844 497h0M810 502h0M809 482h0M807 489h0M840 505h0M842 498h0M828 484h0M810 495h0M810 484h0M809 500h0M844 498h0M843 498h0M821 474h0M823 474h0M842 503h0M807 480h0M817 491h0M809 479h0M825 472h0M814 479h0M806 489h0M825 489h0M826 476h0M826 473h0M815 484h0M830 472h0M843 503h0M816 473h0M812 482h0M805 497h0M806 484h0M826 483h0M827 487h0M815 494h0M806 486h0M827 473h0M812 478h0M826 473h0M814 500h0M826 474h0M825 489h0M817 496h0M836 502h0M822 476h0M810 497h0M838 506h0M839 504h0M810 482h0M845 509h0M827 479h0M807 492h0M812 487h0M815 471h0M823 488h0M841 503h0M829 500h0M829 481h0M814 472h0M826 491h0M827 471h0M826 487h0M813 482h0M837 497h0M842 493h0M843 505h0M809 498h0" stroke="#fcc9e6" stroke-width="3.5" stroke-linecap="round" fill="none"/>
<path d="M400 179h0M339 163h0M368 237h0M335 168h0M241 284h0M236 297h0M238 290h0M232 307h0M236 300h0M243 305h0M240 285h0M237 291h0M275 223h0M371 356h0M347 371h0M291 322h0M379 320h0M257 323h0M343 313h0M335 317h0M274 340h0M319 396h0M290 356h0M347 348h0M341 314h0M288 306h0M335 281h0M336 284h0M320 353h0M345 380h0M254 333h0M279 294h0M275 356h0M287 306h0M332 317h0M271 338h0M348 321h0M342 313h0M287 303h0M266 314h0M286 298h0M396 331h0M276 308h0M328 306h0M357 338h0M257 322h0M265 311h0M383 291h0M312 299h0M387 331h0M371 329h0M356 330h0M257 313h0M334 274h0M292 291h0M385 301h0M381 344h0M341 313h0M342 379h0M281 324h0M327 358h0M249 318h0M301 320h0M382 329h0M281 295h0M324 351h0M359 315h0M317 352h0M251 324h0M317 392h0M356 321h0M322 389h0M336 309h0M289 329h0M311 315h0M260 339h0M275 308h0M338 382h0M381 337h0M250 327h0M427 363h0M414 296h0M375 385h0M358 393h0M420 402h0M433 337h0M438 368h0M404 392h0M355 404h0M396 363h0M448 316h0M408 342h0M371 409h0M441 338h0M452 311h0M431 302h0M376 411h0M410 370h0M361 385h0M387 404h0M402 315h0M390 365h0M421 374h0M441 350h0M426 297h0M378 362h0M440 320h0M427 420h0M422 321h0M398 369h0M419 419h0M445 363h0M373 406h0M432 345h0M441 325h0M388 405h0M379 361h0M416 350h0M424 355h0M442 335h0M385 399h0M440 295h0M397 351h0M417 291h0M406 399h0M427 324h0M385 399h0M408 297h0M398 349h0M443 353h0M389 372h0M354 402h0M419 283h0M395 362h0M417 397h0M424 409h0M428 388h0M413 327h0M386 369h0M430 403h0M419 316h0M422 369h0M434 361h0M433 380h0M389 404h0M368 376h0M412 338h0M387 404h0M412 298h0M415 318h0M424 410h0M387 365h0M377 426h0M437 296h0M377 403h0M439 348h0M393 421h0M420 375h0M353 420h0M427 362h0M353 419h0M409 365h0M429 312h0M453 314h0M443 322h0M431 338h0M411 369h0M357 416h0M452 390h0M452 329h0M441 307h0M444 287h0M415 352h0M406 391h0M395 409h0M439 332h0M456 336h0M374 374h0M433 384h0M437 300h0M433 330h0M388 355h0M367 413h0M449 322h0M431 318h0M419 375h0M389 365h0M394 401h0M386 370h0M437 326h0M368 378h0M371 409h0M442 333h0M432 285h0M410 367h0M436 302h0M425 321h0M394 405h0M389 427h0M420 346h0M437 316h0M458 360h0M452 386h0M395 363h0M392 409h0M412 363h0M378 384h0M433 329h0M355 399h0M377 395h0M402 361h0M405 374h0M423 332h0M449 375h0M444 347h0M426 420h0M366 419h0M428 372h0M439 347h0M414 354h0M422 283h0M377 362h0M365 414h0M412 396h0M448 325h0M452 351h0M377 367h0M409 324h0M427 369h0M449 378h0M388 365h0M385 381h0M360 416h0M378 407h0M438 350h0M420 375h0M352 413h0M411 360h0M411 327h0M406 308h0M409 314h0M368 374h0M403 318h0M365 416h0M412 289h0M436 301h0M439 335h0M392 360h0M429 367h0M389 401h0M449 411h0M371 379h0M421 283h0M361 389h0M431 327h0M384 356h0M438 385h0M455 323h0M428 347h0M402 347h0M431 328h0M439 398h0M444 309h0M414 352h0M301 397h0M297 399h0M299 397h0M299 392h0M294 395h0M308 388h0M308 402h0M300 399h0M302 390h0M478 336h0M504 294h0M372 482h0M371 492h0M394 478h0M377 483h0" stroke="#f4cd31" stroke-width="3.5" stroke-linecap="round" fill="none"/>
<path d="M401 207h0M365 231h0M374 176h0M340 181h0M351 184h0M376 175h0M399 166h0M403 198h0M333 196h0M378 204h0M329 169h0M403 196h0M328 177h0M401 196h0M349 164h0M392 156h0M353 178h0M359 206h0M375 167h0M325 184h0M411 190h0M387 200h0M385 240h0M393 193h0M341 164h0M365 182h0M416 181h0M378 168h0M341 226h0M404 207h0M369 168h0M333 185h0M424 188h0M389 165h0M347 199h0M357 162h0M375 204h0M327 174h0M397 192h0M374 231h0M360 162h0M390 186h0M373 196h0M374 231h0M351 165h0M427 187h0M344 168h0M378 168h0M389 200h0M346 196h0M365 187h0M361 214h0M365 173h0M406 175h0M333 175h0M403 205h0M402 206h0M391 187h0M335 163h0M367 184h0M394 209h0M369 170h0M352 160h0M373 240h0M368 234h0M393 197h0M379 241h0M403 209h0M340 196h0M353 196h0M385 161h0M356 162h0M383 187h0M374 203h0M329 194h0M331 184h0M418 192h0M406 167h0M375 166h0M398 160h0M381 192h0M370 179h0M339 191h0M330 168h0M400 180h0M337 192h0M356 162h0M368 230h0M333 175h0M410 188h0M402 169h0M361 186h0M362 231h0M335 191h0M364 234h0M334 177h0M399 203h0M410 171h0M348 163h0M333 176h0M371 180h0M409 176h0M389 158h0M403 205h0M387 233h0M378 175h0M370 165h0M347 196h0M370 237h0M361 157h0M376 152h0M351 173h0M352 163h0M401 208h0M422 192h0M378 174h0M399 166h0M415 180h0M369 182h0M369 168h0M349 163h0M329 173h0M361 207h0M346 172h0M387 239h0M368 183h0M358 194h0M388 199h0M386 164h0M385 175h0M400 173h0M365 199h0M350 162h0M375 167h0M375 167h0M388 226h0M365 184h0M356 197h0M392 155h0M344 169h0M327 169h0M336 163h0M402 211h0M340 195h0M391 190h0M363 215h0M369 180h0M348 183h0M378 165h0M336 174h0M364 198h0M364 176h0M380 153h0M403 205h0M338 197h0M388 199h0M398 179h0M356 181h0M369 181h0M375 199h0M399 180h0M342 161h0M352 190h0M345 167h0M401 205h0M394 192h0M344 166h0M329 173h0M402 200h0M406 197h0M368 193h0M346 163h0M352 173h0M346 197h0M425 192h0M383 183h0M367 184h0M341 172h0M389 187h0M333 197h0M325 173h0M397 191h0M361 204h0M394 190h0M399 203h0M380 226h0M236 289h0M378 491h0M376 500h0" stroke="#7f82ad" stroke-width="3.5" stroke-linecap="round" fill="none"/>
<path d="M291 315h0M439 367h0M410 398h0M420 290h0M422 322h0M477 316h0M482 288h0M504 293h0M502 287h0M494 324h0M487 288h0M495 303h0M462 329h0M483 292h0M500 319h0M493 307h0M478 339h0M472 338h0M499 298h0M492 322h0M501 317h0M494 290h0M493 311h0M468 327h0M463 316h0M506 297h0M492 310h0M468 338h0M496 323h0M480 295h0M468 337h0M481 303h0M503 306h0M483 308h0M481 303h0M470 334h0M493 323h0M502 287h0M475 304h0M503 299h0M494 322h0M467 334h0M476 343h0M481 300h0M465 312h0M502 317h0M468 329h0M505 306h0M499 298h0M502 315h0M504 314h0M503 295h0M505 316h0M482 295h0M494 288h0M480 293h0M483 305h0M462 329h0M480 332h0M481 335h0M487 320h0M500 324h0M495 305h0M498 324h0M509 297h0M501 288h0M486 306h0M501 322h0M498 326h0M466 325h0M479 302h0M462 319h0M487 306h0M487 322h0M475 307h0M498 296h0M406 503h0M374 484h0M370 502h0M374 503h0M371 498h0" stroke="#d1526b" stroke-width="3.5" stroke-linecap="round" fill="none"/>
<path d="M381 223h0M230 282h0M242 314h0M239 313h0M235 298h0M241 307h0M249 306h0M230 286h0M242 300h0M243 294h0M242 298h0M244 305h0M282 295h0M260 310h0M294 314h0M388 332h0M356 326h0M322 388h0M352 317h0M343 298h0M342 338h0M345 378h0M367 291h0M278 321h0M345 347h0M251 328h0M288 289h0M353 318h0M339 299h0M312 339h0M267 312h0M321 295h0M301 372h0M346 338h0M366 357h0M384 292h0M382 291h0M276 305h0M292 363h0M348 368h0M321 315h0M250 324h0M307 337h0M289 359h0M300 319h0M343 352h0M318 370h0M294 308h0M359 367h0M294 343h0M315 333h0M270 357h0M264 313h0M305 323h0M275 354h0M329 374h0M320 365h0M276 351h0M331 369h0M373 283h0M312 299h0M361 320h0M315 345h0M317 397h0M339 284h0M314 354h0M354 306h0M375 306h0M291 345h0M262 341h0M378 328h0M381 337h0M328 375h0M312 312h0M267 334h0M347 363h0M331 360h0M307 356h0M313 330h0M363 339h0M340 318h0M252 333h0M251 326h0M328 300h0M262 309h0M286 298h0M353 286h0M298 373h0M336 325h0M280 318h0M293 370h0M296 296h0M346 375h0M382 302h0M296 316h0M393 326h0M329 317h0M354 328h0M296 329h0M376 357h0M299 320h0M385 326h0M375 284h0M376 358h0M255 328h0M331 362h0M262 315h0M357 309h0M354 353h0M271 302h0M334 321h0M367 283h0M307 337h0M295 296h0M279 313h0M312 281h0M345 375h0M310 377h0M261 340h0M320 289h0M286 362h0M283 320h0M366 359h0M270 305h0M377 356h0M272 346h0M344 369h0M260 323h0M291 363h0M261 310h0M282 337h0M336 274h0M273 343h0M338 295h0M352 323h0M345 380h0M324 350h0M312 377h0M350 346h0M302 375h0M260 315h0M305 280h0M381 290h0M321 337h0M365 350h0M312 372h0M252 314h0M326 327h0M344 313h0M281 335h0M382 328h0M292 338h0M399 315h0M314 357h0M295 310h0M393 333h0M349 334h0M316 378h0M259 340h0M297 342h0M284 362h0M360 311h0M256 339h0M388 288h0M342 320h0M372 292h0M313 293h0M319 300h0M286 364h0M260 339h0M368 293h0M323 345h0M351 344h0M280 315h0M386 293h0M277 311h0M300 298h0M270 300h0M294 293h0M283 335h0M370 274h0M454 333h0M418 418h0M382 381h0M422 348h0M440 379h0M444 314h0M387 396h0M417 329h0M394 389h0M441 366h0M378 407h0M366 422h0M411 368h0M425 366h0M437 356h0M417 291h0M449 386h0M433 380h0M440 387h0M362 420h0M352 420h0M360 409h0M444 362h0M390 367h0M357 420h0M414 330h0M442 348h0M371 415h0M432 402h0M436 396h0M448 380h0M408 393h0M455 395h0M360 392h0M432 306h0M439 337h0M424 326h0M365 391h0M395 410h0M402 368h0M412 290h0M419 330h0M441 318h0M402 361h0M402 349h0M427 421h0M397 380h0M449 406h0M374 373h0M392 419h0M449 355h0M412 322h0M401 341h0M357 387h0M453 335h0M438 401h0M354 399h0M391 387h0M449 354h0M394 397h0M442 370h0M430 308h0M431 404h0M449 377h0M456 390h0M401 398h0M398 364h0M372 403h0M372 392h0M440 358h0M436 302h0M420 371h0M366 398h0M428 414h0M433 369h0M388 399h0M428 420h0M407 396h0M404 405h0M441 330h0M356 415h0M364 412h0M387 419h0M427 331h0M408 358h0M386 370h0M435 302h0M459 364h0M364 393h0M441 340h0M413 370h0M443 317h0M365 382h0M424 365h0M440 358h0M420 418h0M447 309h0M423 282h0M427 333h0M457 365h0M445 328h0M370 409h0M401 395h0M360 395h0M398 417h0M372 409h0M450 379h0M393 394h0M427 367h0M422 352h0M441 408h0M417 394h0M388 396h0M439 399h0M442 352h0M443 356h0M415 401h0M386 400h0M388 377h0M387 407h0M417 375h0M380 405h0M431 410h0M417 294h0M419 416h0M362 386h0M367 383h0M384 358h0M413 369h0M406 273h0M306 403h0M372 488h0M387 485h0M377 481h0M385 491h0M394 505h0M410 508h0M408 503h0M393 489h0M407 503h0M391 479h0M377 493h0M387 494h0" stroke="#8abb3d" stroke-width="3.5" stroke-linecap="round" fill="none"/>
<path d="M379 235h0M404 199h0M386 244h0M339 174h0M368 222h0M406 206h0M412 181h0M364 226h0M378 229h0M401 207h0M399 207h0M335 164h0M377 235h0M383 174h0M355 206h0M381 217h0M369 240h0M379 240h0M373 240h0M342 180h0M376 242h0M380 237h0M373 228h0M355 207h0M360 207h0M248 306h0M242 293h0M225 290h0M242 299h0M232 291h0M237 312h0M232 287h0M236 304h0M241 309h0M241 311h0M243 316h0M240 298h0M244 301h0M249 306h0M287 329h0M258 344h0M261 344h0M357 338h0M360 281h0M349 314h0M300 296h0M377 285h0M296 366h0M352 347h0M385 345h0M320 285h0M295 351h0M361 305h0M344 378h0M337 297h0M327 337h0M346 380h0M323 346h0M369 289h0M389 301h0M328 315h0M305 338h0M362 337h0M333 339h0M302 336h0M364 351h0M311 381h0M302 337h0M257 313h0M307 364h0M320 315h0M360 279h0M350 316h0M302 293h0M306 338h0M269 315h0M306 283h0M309 338h0M350 302h0M330 277h0M397 317h0M299 350h0M344 306h0M333 293h0M295 328h0M303 300h0M365 365h0M384 287h0M321 287h0M360 322h0M357 368h0M309 331h0M358 278h0M287 356h0M358 282h0M396 318h0M352 287h0M400 316h0M333 288h0M285 303h0M288 303h0M335 324h0M325 303h0M345 312h0M299 307h0M390 303h0M362 292h0M380 285h0M331 298h0M331 289h0M355 340h0M247 329h0M370 292h0M331 291h0M284 363h0M310 378h0M325 299h0M310 313h0M384 326h0M361 354h0M325 285h0M291 294h0M262 337h0M330 355h0M286 333h0M386 288h0M253 316h0M315 390h0M363 323h0M379 294h0M308 358h0M363 353h0M328 298h0M275 309h0M301 343h0M296 332h0M378 305h0M329 384h0M310 313h0M383 287h0M247 327h0M334 289h0M336 284h0M296 318h0M365 285h0M335 317h0M324 329h0M380 342h0M292 292h0M354 318h0M324 337h0M358 276h0M261 339h0M324 349h0M352 366h0M360 339h0M315 331h0M385 346h0M333 370h0M382 328h0M315 292h0M326 317h0M289 292h0M363 277h0M276 307h0M326 352h0M385 293h0M327 371h0M306 281h0M341 312h0M333 365h0M315 342h0M362 273h0M384 318h0M346 304h0M383 346h0M341 303h0M300 372h0M292 313h0M371 355h0M346 352h0M374 284h0M331 318h0M395 321h0M311 354h0M353 323h0M361 335h0M383 289h0M335 319h0M323 386h0M259 312h0M307 323h0M291 336h0M337 342h0M306 341h0M352 287h0M295 363h0M263 322h0M296 333h0M305 356h0M380 292h0M376 325h0M321 297h0M298 295h0M337 280h0M360 276h0M289 305h0M331 277h0M331 298h0M384 296h0M324 349h0M342 316h0M285 330h0M331 308h0M296 331h0M385 287h0M247 322h0M357 324h0M315 279h0M302 303h0M301 372h0M357 281h0M376 273h0M430 404h0M416 351h0M395 368h0M429 380h0M437 400h0M444 330h0M446 294h0M433 314h0M442 333h0M431 316h0M378 381h0M365 396h0M358 394h0M372 423h0M391 427h0M439 410h0M423 365h0M362 397h0M385 390h0M419 329h0M373 408h0M431 401h0M404 407h0M366 394h0M428 372h0M433 400h0M365 392h0M433 337h0M424 370h0M365 418h0M449 393h0M383 391h0M414 415h0M380 399h0M417 367h0M362 397h0M402 413h0M396 422h0M421 402h0M434 330h0M389 414h0M359 406h0M428 347h0M447 406h0M445 382h0M434 384h0M365 381h0M421 374h0M431 428h0M436 299h0M429 415h0M393 409h0M413 347h0M357 416h0M389 414h0M440 401h0M415 345h0M296 404h0M298 408h0M307 398h0M368 497h0M371 498h0M383 501h0M374 507h0M386 479h0M374 488h0M410 514h0M379 470h0M380 473h0" stroke="#6fb8d8" stroke-width="3.5" stroke-linecap="round" fill="none"/>
<path d="M396 210h0M384 225h0M386 163h0M244 297h0M243 294h0M230 297h0M239 312h0M246 296h0M236 290h0M277 219h0M248 243h0M247 237h0M271 327h0M287 304h0M345 299h0M291 318h0M340 323h0M326 378h0M281 322h0M378 331h0M327 324h0M312 307h0M298 346h0M335 294h0M269 310h0M382 293h0M382 341h0M301 373h0M317 343h0M320 309h0M375 300h0M346 378h0M328 312h0M281 314h0M339 302h0M336 311h0M336 308h0M358 306h0M327 289h0M277 356h0M256 339h0M319 382h0M284 293h0M375 329h0M343 307h0M325 323h0M322 326h0M336 359h0M387 331h0M314 378h0M309 335h0M314 311h0M249 328h0M372 352h0M312 345h0M350 353h0M299 368h0M340 316h0M360 312h0M284 299h0M336 310h0M332 281h0M259 323h0M313 356h0M329 327h0M336 275h0M305 340h0M299 308h0M361 321h0M358 322h0M281 314h0M342 313h0M349 337h0M274 344h0M284 361h0M387 372h0M409 327h0M413 373h0M442 321h0M416 327h0M430 406h0M404 349h0M409 307h0M424 366h0M358 410h0M446 293h0M446 311h0M414 370h0M449 389h0M377 406h0M449 381h0M432 403h0M366 415h0M421 364h0M460 369h0M399 369h0M390 426h0M400 347h0M439 332h0M447 390h0M405 311h0M458 357h0M389 372h0M429 330h0M456 386h0M412 369h0M409 365h0M411 311h0M438 333h0M412 418h0M425 388h0M427 392h0M443 362h0M408 373h0M393 392h0M400 360h0M418 331h0M446 382h0M426 336h0M441 335h0M444 364h0M404 298h0M452 395h0M362 411h0M439 358h0M392 385h0M432 352h0M403 407h0M443 358h0M373 373h0M426 329h0M451 327h0M441 346h0M402 393h0M381 406h0M359 417h0M417 329h0M396 356h0M446 307h0M357 403h0M444 290h0M397 362h0M441 408h0M431 336h0M448 330h0M435 412h0M427 352h0M361 382h0M452 359h0M445 376h0M416 391h0M423 366h0M422 364h0M403 366h0M418 330h0M448 349h0M433 304h0M435 323h0M425 407h0M434 323h0M445 301h0M410 351h0M408 311h0M447 377h0M442 356h0M436 324h0M361 397h0M448 381h0M437 351h0M385 399h0M380 410h0M433 413h0M378 408h0M392 359h0M450 306h0M366 379h0M394 397h0M407 326h0M405 391h0M418 400h0M412 367h0M432 367h0M385 357h0M439 349h0M448 358h0M432 429h0M372 400h0M418 374h0M436 300h0M427 310h0M424 335h0M459 357h0M434 329h0M406 395h0M408 390h0M396 362h0M433 366h0M431 402h0M417 330h0M434 365h0M374 370h0M388 413h0M425 324h0M421 411h0M385 413h0M376 363h0M419 375h0M427 334h0M437 297h0M410 415h0M430 286h0M409 308h0M430 327h0M434 380h0M442 361h0M418 330h0M384 407h0M424 347h0M369 375h0M411 313h0M447 323h0M412 322h0M360 385h0M403 318h0M417 415h0M423 351h0M452 314h0M421 281h0M433 373h0M362 414h0M419 373h0M383 360h0M443 366h0M398 426h0M399 427h0M437 340h0M388 426h0M420 395h0M452 390h0M364 380h0M439 363h0M431 314h0M448 409h0M452 321h0M424 368h0M459 352h0M412 292h0M419 375h0M439 348h0M433 334h0M368 413h0M375 411h0M430 388h0M418 313h0M456 369h0M440 323h0M364 380h0M367 378h0M413 290h0M444 330h0M353 405h0M407 318h0M432 329h0M416 321h0M386 355h0M409 403h0M452 321h0M418 312h0M431 429h0M399 376h0M397 427h0M365 394h0M408 312h0M431 315h0M433 336h0M447 384h0M447 326h0M391 398h0M389 353h0M303 403h0M298 405h0M300 389h0M298 393h0M298 394h0M480 333h0M388 481h0M375 506h0M409 503h0M378 488h0" stroke="#f4cd31" stroke-width="3.5" stroke-linecap="round" fill="none"/>
<path d="M371 197h0M323 182h0M382 241h0M382 192h0M336 176h0M353 228h0M334 177h0M369 168h0M401 202h0M360 161h0M378 208h0M398 213h0M406 177h0M343 194h0M378 231h0M358 175h0M357 227h0M383 243h0M331 185h0M352 160h0M360 203h0M344 178h0M400 205h0M372 178h0M423 186h0M404 198h0M363 195h0M363 204h0M425 188h0M341 186h0M335 190h0M367 236h0M361 162h0M328 170h0M344 172h0M375 204h0M340 172h0M340 175h0M379 225h0M368 181h0M358 163h0M324 176h0M348 183h0M342 197h0M339 181h0M336 189h0M369 236h0M382 185h0M388 189h0M342 198h0M335 191h0M364 216h0M396 190h0M383 194h0M343 192h0M409 172h0M404 199h0M414 178h0M391 157h0M357 207h0M404 205h0M353 227h0M344 196h0M384 175h0M387 233h0M351 190h0M340 161h0M403 204h0M385 189h0M354 187h0M346 200h0M336 171h0M401 196h0M335 177h0M364 189h0M371 183h0M363 188h0M381 163h0M325 170h0M327 172h0M421 191h0M373 178h0M414 175h0M356 200h0M369 181h0M341 172h0M362 195h0M333 165h0M346 199h0M395 205h0M379 242h0M342 231h0M379 152h0M385 230h0M339 170h0M356 162h0M378 216h0M361 158h0M383 221h0M339 161h0M404 180h0M371 184h0M353 201h0M356 225h0M372 195h0M347 190h0M350 162h0M371 197h0M410 176h0M383 189h0M331 190h0M404 198h0M412 171h0M382 216h0M425 187h0M425 189h0M415 180h0M427 188h0M354 195h0M328 167h0M347 165h0M407 197h0M387 197h0M401 199h0M343 170h0M375 230h0M376 165h0M378 172h0M380 152h0M395 192h0M339 163h0M366 201h0M353 174h0M396 191h0M367 201h0M339 194h0M384 237h0M384 154h0M356 176h0M406 200h0M358 176h0M350 187h0M377 170h0M340 196h0M406 197h0M380 239h0M336 198h0M366 195h0M374 219h0M380 225h0M387 166h0M388 180h0M375 231h0M379 189h0M385 195h0M329 173h0M381 236h0M333 173h0M377 173h0M370 179h0M410 170h0M414 199h0M377 212h0M363 199h0M328 169h0M388 185h0M375 165h0M231 290h0M278 217h0M378 488h0M403 510h0" stroke="#7f82ad" stroke-width="3.5" stroke-linecap="round" fill="none"/>
<path d="M336 319h0M361 315h0M436 407h0M432 369h0M422 394h0M437 263h0M441 257h0M437 261h0M441 270h0M439 267h0M439 249h0M441 261h0M439 265h0M485 289h0M478 305h0M493 310h0M483 288h0M483 313h0M475 337h0M507 308h0M468 335h0M464 321h0M485 332h0M466 313h0M482 335h0M504 294h0M472 330h0M475 340h0M486 319h0M496 301h0M488 287h0M462 326h0M488 320h0M469 327h0M476 300h0M506 293h0M494 303h0M502 292h0M482 296h0M480 329h0M480 294h0M493 291h0M492 302h0M480 333h0M469 336h0M491 314h0M500 295h0M482 293h0M463 325h0M494 300h0M484 287h0M485 300h0M464 326h0M464 327h0M479 300h0M498 318h0M470 340h0M506 297h0M477 330h0M475 302h0M497 323h0M488 321h0M507 307h0M497 301h0M504 297h0M480 328h0M487 311h0M499 326h0M484 297h0M482 295h0M505 290h0M507 315h0M475 332h0M503 317h0M478 315h0M505 306h0M503 302h0M485 331h0M504 287h0M485 302h0M482 301h0M470 335h0M476 343h0M476 340h0M477 323h0M461 323h0M497 319h0M488 288h0M490 349h0M373 490h0M386 482h0M404 510h0M380 477h0" stroke="#d1526b" stroke-width="3.5" stroke-linecap="round" fill="none"/>
<path d="M420 186h0M380 236h0M225 283h0M229 293h0M229 303h0M238 309h0M241 312h0M244 311h0M232 286h0M247 311h0M241 289h0M230 303h0M277 213h0M320 353h0M284 294h0M334 281h0M271 357h0M358 280h0M291 294h0M263 316h0M257 311h0M277 314h0M330 319h0M338 357h0M329 279h0M281 338h0M384 327h0M354 313h0M320 352h0M281 328h0M305 384h0M297 364h0M307 330h0M259 339h0M264 309h0M363 364h0M251 329h0M249 335h0M381 319h0M330 296h0M311 329h0M319 354h0M342 383h0M349 305h0M299 296h0M371 318h0M300 338h0M357 332h0M332 375h0M295 351h0M276 310h0M283 320h0M250 325h0M358 312h0M322 344h0M317 276h0M345 376h0M322 326h0M302 366h0M260 310h0M251 318h0M295 315h0M370 282h0M346 378h0M351 363h0M297 294h0M270 303h0M331 282h0M299 374h0M351 361h0M343 366h0M349 371h0M260 336h0M346 380h0M298 311h0M399 320h0M318 287h0M267 333h0M336 275h0M279 365h0M385 287h0M347 340h0M262 315h0M258 313h0M342 300h0M307 354h0M281 317h0M319 340h0M281 316h0M342 368h0M262 315h0M357 307h0M291 341h0M380 293h0M246 329h0M327 364h0M282 335h0M369 360h0M245 326h0M400 316h0M365 362h0M255 321h0M285 330h0M344 321h0M363 325h0M309 332h0M311 372h0M340 277h0M290 316h0M300 373h0M286 314h0M284 359h0M269 326h0M355 323h0M316 386h0M278 310h0M333 281h0M345 373h0M251 325h0M381 344h0M340 308h0M388 288h0M256 320h0M335 300h0M312 358h0M299 340h0M253 333h0M328 375h0M276 310h0M304 383h0M341 364h0M314 344h0M384 297h0M256 323h0M282 334h0M371 283h0M271 303h0M274 306h0M334 279h0M323 286h0M350 362h0M262 311h0M274 347h0M331 349h0M384 326h0M296 351h0M357 365h0M346 375h0M381 319h0M283 292h0M306 336h0M290 292h0M336 285h0M323 335h0M355 326h0M317 354h0M337 367h0M320 353h0M390 291h0M256 315h0M331 373h0M304 334h0M307 321h0M358 318h0M259 315h0M316 391h0M319 388h0M391 330h0M301 373h0M354 345h0M336 283h0M384 316h0M299 295h0M394 303h0M376 286h0M326 375h0M350 300h0M296 365h0M271 307h0M355 317h0M326 338h0M335 319h0M292 354h0M280 294h0M354 364h0M366 284h0M384 283h0M403 343h0M443 359h0M440 400h0M436 301h0M427 374h0M417 352h0M407 309h0M433 350h0M423 368h0M364 389h0M442 412h0M357 389h0M381 392h0M389 386h0M372 401h0M404 302h0M439 303h0M438 393h0M390 369h0M446 355h0M418 332h0M448 342h0M411 362h0M440 340h0M446 291h0M441 344h0M405 419h0M377 385h0M421 396h0M398 397h0M413 420h0M402 371h0M410 414h0M387 413h0M388 386h0M437 406h0M381 407h0M439 321h0M378 362h0M439 347h0M455 365h0M377 378h0M365 413h0M380 371h0M422 374h0M415 391h0M408 416h0M398 394h0M439 379h0M371 411h0M399 425h0M437 384h0M357 418h0M372 408h0M399 361h0M379 383h0M374 376h0M378 384h0M382 392h0M388 392h0M397 360h0M434 324h0M427 376h0M361 390h0M385 390h0M365 392h0M383 400h0M456 362h0M411 374h0M351 411h0M381 372h0M451 360h0M409 415h0M439 356h0M395 423h0M445 290h0M376 409h0M435 313h0M393 358h0M361 388h0M426 419h0M409 398h0M420 351h0M447 401h0M357 403h0M428 347h0M387 412h0M415 394h0M394 357h0M377 408h0M417 345h0M431 282h0M396 425h0M429 355h0M420 417h0M432 413h0M362 389h0M430 308h0M379 384h0M436 366h0M410 365h0M446 306h0M369 378h0M416 285h0M424 407h0M444 357h0M453 396h0M439 304h0M368 381h0M430 401h0M431 403h0M437 299h0M437 349h0M436 301h0M450 324h0M438 399h0M309 396h0M388 495h0M389 490h0M407 509h0M391 479h0M400 507h0M386 481h0M378 478h0M408 511h0" stroke="#8abb3d" stroke-width="3.5" stroke-linecap="round" fill="none"/>
<path d="M371 234h0M373 241h0M367 225h0M368 223h0M366 223h0M365 219h0M367 184h0M341 226h0M366 236h0M356 228h0M372 231h0M374 231h0M400 205h0M379 211h0M383 235h0M399 207h0M358 203h0M395 179h0M377 235h0M366 208h0M230 298h0M233 284h0M229 305h0M243 312h0M232 305h0M237 291h0M230 303h0M238 289h0M246 308h0M240 295h0M245 315h0M237 287h0M276 223h0M342 318h0M356 329h0M387 332h0M295 367h0M328 301h0M378 300h0M312 384h0M310 313h0M344 377h0M330 297h0M291 323h0M348 344h0M318 383h0M278 302h0M362 279h0M359 337h0M361 334h0M366 279h0M327 352h0M397 314h0M303 295h0M348 305h0M297 311h0M322 279h0M255 322h0M280 352h0M311 385h0M329 383h0M318 278h0M308 331h0M339 336h0M384 317h0M318 300h0M306 283h0M293 347h0M327 327h0M332 283h0M343 381h0M365 371h0M376 322h0M265 345h0M399 323h0M342 318h0M311 291h0M347 339h0M277 309h0M336 279h0M365 350h0M291 361h0M311 298h0M343 304h0M331 298h0M398 330h0M331 369h0M350 360h0M296 297h0M353 329h0M377 344h0M327 358h0M269 326h0M293 366h0M332 284h0M318 393h0M361 334h0M316 338h0M374 341h0M377 301h0M357 313h0M355 327h0M300 309h0M347 349h0M312 299h0M384 326h0M336 284h0M309 336h0M292 341h0M351 355h0M284 303h0M322 352h0M319 368h0M292 294h0M341 357h0M260 328h0M289 297h0M338 295h0M341 302h0M324 277h0M303 316h0M318 297h0M262 309h0M304 366h0M345 300h0M347 372h0M327 338h0M312 381h0M301 340h0M301 325h0M300 293h0M401 316h0M310 320h0M271 352h0M292 299h0M372 284h0M390 302h0M322 352h0M335 283h0M350 301h0M358 279h0M357 280h0M291 298h0M274 358h0M319 315h0M327 347h0M296 311h0M320 376h0M360 304h0M337 278h0M355 317h0M383 284h0M290 320h0M311 312h0M336 322h0M374 304h0M344 317h0M360 279h0M353 347h0M365 281h0M272 358h0M379 302h0M293 299h0M332 299h0M356 311h0M270 326h0M373 356h0M352 288h0M286 292h0M332 312h0M312 367h0M379 300h0M375 295h0M324 289h0M314 342h0M296 309h0M364 271h0M380 301h0M347 302h0M336 288h0M334 317h0M300 289h0M287 337h0M315 355h0M322 387h0M278 310h0M311 290h0M301 298h0M386 288h0M367 358h0M253 333h0M324 386h0M398 327h0M313 297h0M319 296h0M364 286h0M354 338h0M260 320h0M283 357h0M300 372h0M315 352h0M263 315h0M314 343h0M304 337h0M346 352h0M335 304h0M246 328h0M337 330h0M332 316h0M297 288h0M379 304h0M387 303h0M375 283h0M306 339h0M341 309h0M321 299h0M329 297h0M342 275h0M288 311h0M369 293h0M293 286h0M344 381h0M284 329h0M351 341h0M373 319h0M374 281h0M368 266h0M369 272h0M379 276h0M378 272h0M372 401h0M440 385h0M458 376h0M402 327h0M389 365h0M386 370h0M388 398h0M410 340h0M414 347h0M435 362h0M424 403h0M439 363h0M436 396h0M420 283h0M358 407h0M410 316h0M368 406h0M440 380h0M361 387h0M372 399h0M413 290h0M424 376h0M450 388h0M418 328h0M432 346h0M395 384h0M447 305h0M376 409h0M443 356h0M435 301h0M452 355h0M384 408h0M403 371h0M418 392h0M409 361h0M410 392h0M381 384h0M453 391h0M364 416h0M442 284h0M446 384h0M447 306h0M446 318h0M363 383h0M428 404h0M392 408h0M382 386h0M440 299h0M385 398h0M387 365h0M301 404h0M503 296h0M506 313h0M506 309h0M391 494h0M392 478h0M414 517h0M373 490h0M383 504h0M391 478h0M402 510h0M374 506h0M389 494h0M382 497h0M389 495h0M391 482h0M390 489h0M380 499h0M371 492h0M390 480h0M390 494h0M402 511h0M392 485h0M393 486h0M392 477h0M390 493h0M401 502h0" stroke="#6fb8d8" stroke-width="3.5" stroke-linecap="round" fill="none"/>
<path d="M386 202h0M247 306h0M242 308h0M229 288h0M243 295h0M239 290h0M237 288h0M276 223h0M297 310h0M273 344h0M333 338h0M358 323h0M257 323h0M383 323h0M315 378h0M311 368h0M272 345h0M335 324h0M344 367h0M275 303h0M314 308h0M320 348h0M343 277h0M358 336h0M366 358h0M295 353h0M250 328h0M316 314h0M283 360h0M314 389h0M284 360h0M373 356h0M263 313h0M289 315h0M311 352h0M289 326h0M318 343h0M351 300h0M258 308h0M380 325h0M302 337h0M349 347h0M285 329h0M333 319h0M320 354h0M280 315h0M337 327h0M322 387h0M335 313h0M249 330h0M273 326h0M344 316h0M350 332h0M325 356h0M315 325h0M270 305h0M318 316h0M269 340h0M287 304h0M455 366h0M414 356h0M431 403h0M441 349h0M444 357h0M442 347h0M430 414h0M369 411h0M444 379h0M447 323h0M428 327h0M403 365h0M410 368h0M435 362h0M396 359h0M372 374h0M449 327h0M430 281h0M388 413h0M390 372h0M364 394h0M431 414h0M409 360h0M449 381h0M419 311h0M426 385h0M450 352h0M423 386h0M400 367h0M405 381h0M437 395h0M444 308h0M432 309h0M454 320h0M395 363h0M442 285h0M402 373h0M402 415h0M395 358h0M436 345h0M438 351h0M454 398h0M440 338h0M428 388h0M413 325h0M356 414h0M430 404h0M447 331h0M434 337h0M442 285h0M434 351h0M413 319h0M426 359h0M426 360h0M453 372h0M366 378h0M402 326h0M413 419h0M436 330h0M401 360h0M386 370h0M379 362h0M434 282h0M443 348h0M438 332h0M440 332h0M392 396h0M422 380h0M421 284h0M394 419h0M432 285h0M425 359h0M445 293h0M419 397h0M438 358h0M378 364h0M362 385h0M433 336h0M436 344h0M393 396h0M411 305h0M377 403h0M444 338h0M439 333h0M375 366h0M438 410h0M403 311h0M401 367h0M445 366h0M450 383h0M433 413h0M384 407h0M383 381h0M447 383h0M403 359h0M390 425h0M436 367h0M386 399h0M403 362h0M407 315h0M412 362h0M393 357h0M441 412h0M431 351h0M410 327h0M406 297h0M442 308h0M396 367h0M441 329h0M391 424h0M440 281h0M432 338h0M446 381h0M415 352h0M445 383h0M358 407h0M418 393h0M400 363h0M391 421h0M416 394h0M446 307h0M418 393h0M403 361h0M450 354h0M434 365h0M450 324h0M414 317h0M448 325h0M445 383h0M450 409h0M363 413h0M409 362h0M445 361h0M437 381h0M424 378h0M457 371h0M418 401h0M431 380h0M448 325h0M376 374h0M452 324h0M431 401h0M443 292h0M449 326h0M397 424h0M354 418h0M399 363h0M387 367h0M401 371h0M439 408h0M407 410h0M440 350h0M383 385h0M356 419h0M447 324h0M391 360h0M420 329h0M434 283h0M442 322h0M410 308h0M413 369h0M353 407h0M409 393h0M433 338h0M417 423h0M401 366h0M356 414h0M365 420h0M439 349h0M376 367h0M389 367h0M396 425h0M368 417h0M422 356h0M429 403h0M441 352h0M399 362h0M395 368h0M426 363h0M409 326h0M434 362h0M411 330h0M446 307h0M437 338h0M439 253h0M408 267h0M412 269h0M406 272h0M408 271h0M295 395h0M303 401h0M302 401h0M308 388h0M303 390h0M297 399h0M294 401h0M309 409h0M300 405h0M470 305h0M507 310h0M371 485h0M369 500h0M379 498h0M377 479h0M371 494h0M370 489h0M390 496h0M406 499h0" stroke="#f4cd31" stroke-width="3.5" stroke-linecap="round" fill="none"/>
<path d="M395 210h0M381 243h0M355 166h0M387 200h0M382 189h0M351 175h0M346 199h0M363 185h0M420 195h0M382 235h0M384 189h0M352 185h0M411 176h0M349 179h0M378 155h0M378 188h0M379 192h0M389 227h0M377 209h0M378 184h0M378 210h0M371 237h0M346 195h0M365 237h0M396 199h0M383 190h0M359 205h0M377 240h0M409 174h0M413 195h0M357 179h0M362 165h0M423 185h0M413 196h0M358 173h0M375 168h0M345 162h0M331 167h0M414 182h0M324 177h0M365 196h0M334 173h0M337 193h0M385 195h0M393 175h0M389 203h0M355 229h0M354 181h0M347 184h0M324 183h0M341 175h0M325 178h0M349 163h0M328 171h0M356 201h0M392 163h0M347 197h0M381 159h0M409 175h0M425 185h0M375 201h0M378 151h0M404 196h0M358 199h0M347 201h0M402 174h0M403 182h0M364 215h0M364 165h0M396 205h0M383 201h0M402 196h0M349 178h0M324 184h0M378 242h0M424 194h0M397 213h0M354 193h0M360 171h0M378 152h0M382 192h0M354 179h0M332 195h0M388 175h0M357 200h0M353 228h0M377 179h0M389 227h0M421 193h0M374 231h0M356 191h0M331 173h0M388 160h0M354 164h0M368 237h0M325 177h0M422 193h0M382 195h0M374 166h0M351 190h0M352 173h0M417 180h0M368 177h0M407 175h0M337 189h0M346 197h0M378 164h0M377 183h0M348 170h0M368 171h0M335 193h0M380 215h0M331 193h0M344 162h0M341 165h0M345 196h0M379 159h0M336 173h0M399 201h0M397 205h0M357 227h0M348 184h0M335 172h0M343 169h0M345 196h0M333 171h0M384 237h0M379 228h0M354 205h0M357 205h0M378 186h0M416 191h0M421 194h0M370 202h0M353 194h0M334 189h0M390 200h0M399 197h0M419 194h0M351 159h0M339 173h0M373 204h0M350 162h0M325 169h0M346 172h0M358 200h0M350 192h0M416 179h0M411 190h0M357 164h0M357 171h0M374 240h0M357 227h0M364 198h0M339 192h0M330 192h0M367 231h0M350 163h0M410 178h0M409 177h0M395 191h0M391 157h0M370 203h0M408 177h0M382 218h0M363 199h0M363 217h0M353 227h0M373 214h0M371 153h0M345 197h0M349 164h0M362 158h0M378 168h0M423 199h0M332 191h0M385 201h0M371 197h0M238 314h0M246 308h0M377 488h0" stroke="#7f82ad" stroke-width="3.5" stroke-linecap="round" fill="none"/>
<path d="M331 310h0M458 379h0M439 258h0M443 248h0M441 249h0M442 270h0M442 259h0M443 254h0M439 266h0M480 331h0M500 287h0M484 300h0M492 290h0M484 313h0M497 319h0M486 319h0M498 305h0M493 303h0M464 326h0M498 306h0M483 287h0M478 341h0M464 326h0M466 316h0M500 319h0M460 319h0M478 312h0M479 303h0M496 288h0M500 310h0M475 302h0M480 295h0M489 314h0M502 307h0M503 294h0M498 296h0M503 299h0M480 295h0M479 315h0M488 287h0M478 332h0M506 299h0M509 308h0M483 302h0M476 335h0M483 316h0M485 295h0M496 324h0M506 298h0M499 327h0M472 320h0M499 290h0M480 338h0M485 296h0M477 297h0M487 297h0M470 330h0M494 307h0M482 287h0M483 295h0M489 289h0M481 300h0M497 298h0M464 329h0M508 312h0M494 295h0M497 324h0M480 295h0M496 303h0M480 332h0M462 315h0M495 320h0M485 306h0M493 300h0M487 288h0M505 296h0M474 339h0M483 302h0M477 297h0M466 330h0M467 310h0M473 304h0M493 300h0M504 317h0M496 302h0M491 310h0M492 346h0M372 485h0M381 479h0M391 479h0" stroke="#d1526b" stroke-width="3.5" stroke-linecap="round" fill="none"/>
<path d="M381 200h0M406 206h0M376 183h0M232 292h0M233 307h0M242 285h0M241 301h0M233 310h0M231 287h0M238 313h0M234 305h0M232 308h0M237 291h0M243 309h0M275 219h0M357 306h0M271 309h0M333 296h0M279 310h0M331 303h0M325 348h0M258 312h0M255 321h0M342 311h0M281 321h0M358 326h0M300 321h0M301 342h0M359 309h0M342 316h0M291 367h0M335 328h0M267 311h0M315 340h0M341 303h0M288 295h0M320 330h0M337 333h0M356 313h0M290 361h0M296 365h0M327 337h0M332 370h0M398 319h0M327 357h0M363 312h0M334 338h0M382 325h0M323 357h0M353 317h0M336 326h0M358 337h0M304 367h0M268 333h0M330 283h0M338 328h0M308 382h0M262 339h0M284 358h0M341 304h0M353 310h0M331 298h0M352 316h0M282 325h0M251 326h0M300 307h0M318 345h0M372 282h0M277 338h0M270 326h0M360 323h0M352 351h0M300 361h0M376 287h0M388 331h0M297 312h0M336 285h0M271 304h0M282 299h0M251 336h0M294 314h0M348 314h0M366 284h0M315 378h0M291 311h0M334 315h0M370 279h0M249 318h0M336 274h0M302 367h0M312 308h0M285 294h0M306 383h0M340 310h0M356 368h0M367 295h0M380 341h0M280 325h0M343 370h0M270 307h0M362 369h0M326 292h0M303 341h0M307 358h0M304 362h0M295 288h0M349 381h0M345 318h0M361 334h0M390 302h0M309 358h0M296 354h0M357 282h0M301 330h0M372 341h0M365 358h0M262 315h0M376 282h0M343 318h0M287 297h0M387 324h0M335 327h0M340 318h0M317 311h0M249 320h0M273 301h0M304 338h0M289 289h0M318 333h0M364 358h0M284 297h0M293 370h0M290 304h0M299 309h0M267 311h0M389 291h0M335 285h0M284 333h0M247 329h0M285 363h0M366 358h0M380 301h0M297 318h0M350 311h0M306 338h0M250 336h0M330 283h0M311 337h0M377 286h0M273 303h0M262 345h0M384 287h0M316 297h0M323 346h0M309 303h0M274 340h0M363 368h0M372 285h0M277 320h0M279 293h0M351 308h0M328 376h0M290 360h0M357 367h0M378 281h0M369 359h0M301 339h0M381 290h0M347 321h0M314 343h0M348 315h0M318 337h0M353 321h0M328 375h0M337 279h0M296 351h0M252 331h0M394 334h0M360 283h0M344 316h0M302 337h0M343 377h0M249 326h0M313 357h0M386 288h0M331 360h0M343 320h0M330 310h0M290 316h0M389 290h0M363 356h0M268 341h0M332 357h0M404 298h0M427 409h0M417 332h0M408 340h0M433 337h0M440 409h0M381 382h0M386 353h0M430 414h0M424 407h0M364 412h0M372 407h0M438 383h0M407 365h0M411 315h0M362 389h0M440 318h0M416 319h0M382 364h0M359 408h0M410 365h0M388 415h0M445 307h0M386 427h0M439 347h0M361 382h0M432 415h0M386 369h0M358 390h0M421 395h0M354 419h0M431 353h0M443 347h0M429 339h0M354 401h0M415 398h0M420 414h0M454 326h0M393 357h0M373 408h0M408 399h0M459 355h0M411 375h0M433 300h0M451 322h0M442 303h0M405 299h0M432 431h0M397 394h0M411 419h0M363 384h0M431 337h0M428 313h0M360 419h0M371 396h0M438 325h0M363 382h0M360 393h0M374 399h0M444 350h0M430 311h0M436 304h0M406 397h0M420 290h0M448 300h0M394 423h0M438 325h0M404 351h0M420 360h0M389 398h0M431 324h0M422 345h0M376 409h0M403 412h0M371 425h0M417 346h0M438 300h0M405 373h0M405 414h0M389 356h0M441 320h0M433 353h0M391 402h0M455 394h0M412 289h0M405 407h0M382 390h0M435 304h0M443 347h0M399 413h0M387 403h0M382 401h0M411 367h0M396 361h0M387 373h0M446 386h0M411 385h0M363 398h0M417 333h0M445 346h0M436 304h0M425 405h0M429 399h0M413 339h0M409 398h0M360 393h0M430 398h0M406 301h0M401 392h0M439 351h0M419 377h0M425 378h0M405 296h0M416 399h0M408 274h0M305 402h0M298 401h0M381 477h0M389 496h0M374 505h0M378 506h0M394 506h0" stroke="#8abb3d" stroke-width="3.5" stroke-linecap="round" fill="none"/>
<path d="M383 217h0M364 200h0M376 231h0M382 238h0M386 241h0M402 207h0M376 241h0M381 236h0M368 235h0M328 168h0M366 230h0M374 228h0M356 177h0M387 237h0M356 228h0M377 221h0M362 221h0M385 243h0M400 207h0M381 240h0M338 172h0M376 239h0M384 224h0M366 238h0M347 194h0M399 178h0M383 241h0M371 230h0M369 221h0M365 233h0M243 299h0M236 288h0M237 308h0M230 300h0M241 307h0M224 290h0M244 302h0M244 300h0M237 294h0M232 306h0M245 313h0M275 206h0M247 241h0M293 317h0M291 362h0M314 344h0M279 315h0M380 301h0M304 283h0M389 291h0M363 292h0M331 342h0M299 306h0M384 316h0M326 347h0M389 290h0M295 330h0M347 306h0M309 353h0M398 323h0M332 278h0M288 313h0M329 317h0M307 363h0M292 314h0M289 330h0M359 305h0M323 321h0M291 323h0M349 349h0M302 359h0M286 334h0M386 330h0M328 336h0M321 387h0M345 377h0M304 283h0M377 355h0M387 325h0M313 294h0M290 292h0M353 301h0M350 303h0M286 313h0M294 346h0M311 290h0M277 311h0M248 323h0M380 291h0M308 300h0M290 321h0M359 311h0M300 320h0M330 299h0M302 331h0M329 310h0M387 319h0M333 313h0M362 314h0M342 322h0M306 363h0M258 315h0M398 319h0M331 357h0M251 329h0M384 348h0M271 305h0M254 321h0M327 376h0M350 307h0M365 324h0M374 329h0M370 294h0M326 283h0M385 326h0M315 341h0M335 319h0M330 284h0M323 330h0M351 321h0M269 307h0M279 359h0M400 332h0M360 334h0M332 295h0M328 357h0M302 296h0M322 286h0M305 363h0M325 322h0M303 363h0M317 311h0M329 308h0M285 305h0M327 342h0M343 372h0M285 293h0M309 329h0M292 294h0M315 344h0M302 375h0M390 301h0M343 312h0M257 314h0M282 315h0M314 379h0M354 323h0M364 358h0M322 289h0M292 299h0M320 276h0M341 303h0M314 281h0M322 287h0M386 287h0M360 276h0M342 297h0M285 364h0M340 319h0M362 322h0M286 326h0M384 289h0M355 287h0M331 359h0M373 301h0M375 285h0M302 331h0M356 309h0M321 339h0M322 287h0M391 291h0M355 354h0M309 337h0M385 299h0M258 339h0M288 311h0M281 295h0M348 372h0M284 337h0M285 336h0M335 357h0M353 324h0M303 376h0M317 378h0M386 331h0M363 370h0M309 378h0M347 368h0M390 329h0M399 329h0M346 351h0M382 328h0M331 369h0M301 285h0M352 319h0M339 284h0M337 316h0M339 291h0M375 283h0M375 321h0M370 287h0M326 349h0M259 341h0M317 316h0M350 308h0M375 307h0M359 304h0M386 327h0M306 331h0M286 362h0M291 290h0M380 302h0M343 296h0M389 312h0M346 305h0M342 380h0M369 291h0M374 298h0M381 280h0M429 405h0M448 386h0M445 353h0M414 418h0M362 416h0M393 420h0M360 406h0M429 303h0M415 343h0M388 405h0M403 346h0M403 319h0M382 391h0M368 413h0M431 406h0M443 347h0M425 408h0M411 365h0M431 415h0M367 418h0M429 404h0M362 416h0M410 386h0M425 322h0M429 403h0M396 371h0M433 376h0M394 385h0M449 353h0M353 405h0M415 342h0M411 360h0M407 315h0M449 400h0M430 415h0M443 412h0M450 385h0M393 392h0M441 357h0M360 406h0M391 421h0M360 397h0M435 351h0M361 402h0M454 336h0M376 409h0M395 363h0M432 284h0M427 334h0M363 391h0M398 377h0M410 363h0M400 370h0M457 356h0M446 309h0M377 406h0M443 315h0M301 398h0M480 333h0M498 301h0M387 481h0M388 505h0M389 489h0M394 503h0M374 487h0M371 495h0M375 501h0M374 489h0M388 480h0M406 509h0M390 478h0M378 485h0M379 489h0M391 493h0M381 502h0M405 509h0M374 503h0M376 475h0" stroke="#6fb8d8" stroke-width="3.5" stroke-linecap="round" fill="none"/>
<line x1="217.5" y1="548" x2="217.5" y2="434" stroke="#111" stroke-width="2" />
<polygon points="212,436 223,436 217.5,423" fill="#111" />
<line x1="200.8" y1="527" x2="302" y2="527" stroke="#111" stroke-width="2" />
<polygon points="300,521.5 300,532.5 313,527" fill="#111" />
<text x="235" y="549" font-size="12.5" fill="#111" font-weight="bold" font-style="italic">TSNE 1</text>
<text x="207" y="501" font-size="12.5" fill="#111" font-weight="bold" font-style="italic" transform="rotate(-90 207 501)">TSNE 2</text>
<line x1="635.8" y1="545.5" x2="635.8" y2="431.5" stroke="#111" stroke-width="2" />
<polygon points="630.3,433.5 641.3,433.5 635.8,420.5" fill="#111" />
<line x1="619.1" y1="524.5" x2="720.3" y2="524.5" stroke="#111" stroke-width="2" />
<polygon points="718.3,519 718.3,530 731.3,524.5" fill="#111" />
<text x="653.3" y="546.5" font-size="12.5" fill="#111" font-weight="bold" font-style="italic">TSNE 1</text>
<text x="625.3" y="498.5" font-size="12.5" fill="#111" font-weight="bold" font-style="italic" transform="rotate(-90 625.3 498.5)">TSNE 2</text>
<text x="1050" y="100.8" font-size="29" fill="#111">Day</text>
<circle cx="1057" cy="129.7" r="8.5" fill="#7f82ad"/>
<text x="1088.7" y="138.9" font-size="25.5" fill="#111">Day 0</text>
<circle cx="1057" cy="161.7" r="8.5" fill="#d1526b"/>
<text x="1088.7" y="170.9" font-size="25.5" fill="#111">Day 1</text>
<circle cx="1057" cy="193.5" r="8.5" fill="#f4cd31"/>
<text x="1088.7" y="202.7" font-size="25.5" fill="#111">Day 3</text>
<circle cx="1057" cy="225.2" r="8.5" fill="#8abb3d"/>
<text x="1088.7" y="234.4" font-size="25.5" fill="#111">Day 5</text>
<circle cx="1057" cy="257" r="8.5" fill="#6fb8d8"/>
<text x="1088.7" y="266.2" font-size="25.5" fill="#111">Day 7</text>
<text x="1056" y="332.5" font-size="29.5" fill="#111">Cell type</text>
<circle cx="1059.2" cy="362" r="8.5" fill="#5ab697"/>
<text x="1091.2" y="371.2" font-size="25.5" fill="#111">Mø−1</text>
<circle cx="1059.2" cy="396" r="8.5" fill="#e5825f"/>
<text x="1091.2" y="405.2" font-size="25.5" fill="#111">Mø−2</text>
<circle cx="1059.2" cy="430" r="8.5" fill="#8598c0"/>
<text x="1091.2" y="439.2" font-size="25.5" fill="#111">Mø−3</text>
<circle cx="1059.2" cy="464" r="8.5" fill="#d16ba4"/>
<text x="1091.2" y="473.2" font-size="25.5" fill="#111">Ly6c(hi) Monocytes</text>
<circle cx="1059.2" cy="498" r="8.5" fill="#dfbd8c"/>
<text x="1091.2" y="507.2" font-size="25.5" fill="#111">Mø−4</text>
<circle cx="1059.2" cy="531.5" r="8.5" fill="#fcc9e6"/>
<text x="1091.2" y="540.7" font-size="25.5" fill="#111">Mø−5</text>
<text x="24.8" y="609.3" font-size="48.5" stroke="#000" stroke-width="0.9">B</text>
<rect x="101.2" y="605.2" width="421.6" height="619.8" fill="none" stroke="#b0b0b0" stroke-width="1.5" />
<path d="M101.2 605.2V1225H522.8" fill="none" stroke="#666" stroke-width="1.6"/>
<text x="94.5" y="638.5" font-size="14.5" fill="#555" text-anchor="end">1.00</text>
<line x1="97" y1="633.3" x2="101.2" y2="633.3" stroke="#555" stroke-width="1.2" />
<text x="94.5" y="779.1" font-size="14.5" fill="#555" text-anchor="end">0.75</text>
<line x1="97" y1="773.9" x2="101.2" y2="773.9" stroke="#555" stroke-width="1.2" />
<text x="94.5" y="919.8" font-size="14.5" fill="#555" text-anchor="end">0.50</text>
<line x1="97" y1="914.5" x2="101.2" y2="914.5" stroke="#555" stroke-width="1.2" />
<text x="94.5" y="1060.4" font-size="14.5" fill="#555" text-anchor="end">0.25</text>
<line x1="97" y1="1055.2" x2="101.2" y2="1055.2" stroke="#555" stroke-width="1.2" />
<text x="94.5" y="1201" font-size="14.5" fill="#555" text-anchor="end">0.00</text>
<line x1="97" y1="1195.8" x2="101.2" y2="1195.8" stroke="#555" stroke-width="1.2" />
<text x="61.5" y="914.4" font-size="18.6" fill="#222" text-anchor="middle" transform="rotate(-90 61.5 914.4)">Proportion</text>
<rect x="121.3" y="633.3" width="57.2" height="11.2" fill="#5ab697" stroke="#444" stroke-width="0.9" />
<rect x="121.3" y="644.5" width="57.2" height="2.2" fill="#e5825f" stroke="#444" stroke-width="0.9" />
<rect x="121.3" y="646.8" width="57.2" height="488.2" fill="#8598c0" stroke="#444" stroke-width="0.9" />
<rect x="121.3" y="1135" width="57.2" height="41.6" fill="#dfbd8c" stroke="#444" stroke-width="0.9" />
<rect x="121.3" y="1176.7" width="57.2" height="19.1" fill="#fcc9e6" stroke="#444" stroke-width="0.9" />
<line x1="149.9" y1="1225" x2="149.9" y2="1229" stroke="#555" stroke-width="1.2" />
<text x="149.9" y="1240.5" font-size="14.3" fill="#555" text-anchor="middle">Day 0</text>
<rect x="202.4" y="633.3" width="57.2" height="82.1" fill="#e5825f" stroke="#444" stroke-width="0.9" />
<rect x="202.4" y="715.4" width="57.2" height="430.9" fill="#d16ba4" stroke="#444" stroke-width="0.9" />
<rect x="202.4" y="1146.3" width="57.2" height="6.2" fill="#dfbd8c" stroke="#444" stroke-width="0.9" />
<rect x="202.4" y="1152.5" width="57.2" height="43.3" fill="#fcc9e6" stroke="#444" stroke-width="0.9" />
<line x1="231" y1="1225" x2="231" y2="1229" stroke="#555" stroke-width="1.2" />
<text x="231" y="1240.5" font-size="14.3" fill="#555" text-anchor="middle">Day 1</text>
<rect x="283.8" y="633.3" width="57.2" height="77.6" fill="#5ab697" stroke="#444" stroke-width="0.9" />
<rect x="283.8" y="710.9" width="57.2" height="437.1" fill="#e5825f" stroke="#444" stroke-width="0.9" />
<rect x="283.8" y="1148" width="57.2" height="2" fill="#8598c0" stroke="#444" stroke-width="0.9" />
<rect x="283.8" y="1150" width="57.2" height="4.8" fill="#d16ba4" stroke="#444" stroke-width="0.9" />
<rect x="283.8" y="1154.7" width="57.2" height="21.9" fill="#dfbd8c" stroke="#444" stroke-width="0.9" />
<rect x="283.8" y="1176.7" width="57.2" height="19.1" fill="#fcc9e6" stroke="#444" stroke-width="0.9" />
<line x1="312.4" y1="1225" x2="312.4" y2="1229" stroke="#555" stroke-width="1.2" />
<text x="312.4" y="1240.5" font-size="14.3" fill="#555" text-anchor="middle">Day 3</text>
<rect x="365.3" y="633.3" width="57.2" height="333.3" fill="#5ab697" stroke="#444" stroke-width="0.9" />
<rect x="365.3" y="966.6" width="57.2" height="162.8" fill="#e5825f" stroke="#444" stroke-width="0.9" />
<rect x="365.3" y="1129.4" width="57.2" height="6.2" fill="#8598c0" stroke="#444" stroke-width="0.9" />
<rect x="365.3" y="1135.6" width="57.2" height="38" fill="#dfbd8c" stroke="#444" stroke-width="0.9" />
<rect x="365.3" y="1173.6" width="57.2" height="22.2" fill="#fcc9e6" stroke="#444" stroke-width="0.9" />
<line x1="393.9" y1="1225" x2="393.9" y2="1229" stroke="#555" stroke-width="1.2" />
<text x="393.9" y="1240.5" font-size="14.3" fill="#555" text-anchor="middle">Day 5</text>
<rect x="446.4" y="633.3" width="57.2" height="345.6" fill="#5ab697" stroke="#444" stroke-width="0.9" />
<rect x="446.4" y="978.9" width="57.2" height="90.3" fill="#e5825f" stroke="#444" stroke-width="0.9" />
<rect x="446.4" y="1069.2" width="57.2" height="50.6" fill="#8598c0" stroke="#444" stroke-width="0.9" />
<rect x="446.4" y="1119.9" width="57.2" height="31.2" fill="#dfbd8c" stroke="#444" stroke-width="0.9" />
<rect x="446.4" y="1151" width="57.2" height="44.8" fill="#fcc9e6" stroke="#444" stroke-width="0.9" />
<line x1="475" y1="1225" x2="475" y2="1229" stroke="#555" stroke-width="1.2" />
<text x="475" y="1240.5" font-size="14.3" fill="#555" text-anchor="middle">Day 7</text>
<text x="549.7" y="611" font-size="50.5" font-weight="bold">C</text>
<g stroke="#333" stroke-width="1.4" stroke-linejoin="round">
<path d="M609.9 635.3 651.9 634.5 651.2 634.1 650.2 633.4 649.3 632.7 648.9 632.1 649.3 631.6 650.1 631.1 651.1 630.6 651.9 629.9 652.4 629.1 652.8 628.2 653.1 627.1 653.4 625.9 653.6 624.5 653.7 622.9 653.8 621.2 653.9 619.2 654 616.5 654.1 613.4 654.2 610.4 654.3 608.4 655.5 608.4 655.6 610.4 655.7 613.4 655.8 616.5 655.9 619.2 656 621.2 656.1 622.9 656.2 624.5 656.4 625.9 656.7 627.1 657 628.2 657.4 629.1 657.9 629.9 658.7 630.6 659.7 631.1 660.5 631.6 660.9 632.1 660.5 632.7 659.6 633.4 658.6 634.1 657.9 634.5 699.9 635.3Z" fill="#5ab697"/>
<path d="M711.6 635.3 754.6 634.5 754.1 634.2 753.4 633.7 752.8 633.2 752.6 632.6 752.9 632.4 753.7 632.5 754.5 631.9 755.1 629.9 755.5 625.4 755.7 619 755.9 612.7 756 608.4 757.2 608.4 757.3 612.7 757.5 619 757.7 625.4 758.1 629.9 758.7 631.9 759.5 632.5 760.3 632.4 760.6 632.6 760.4 633.2 759.8 633.7 759.1 634.2 758.6 634.5 801.6 635.3Z" fill="#e5825f"/>
<path d="M813.4 635.3 856.4 634.5 856.1 633.9 855.8 633 855.5 632.1 855.4 631.3 855.7 630.9 856.3 630.8 856.9 630.3 857.4 628.6 857.6 624.8 857.7 619.7 857.8 614.6 857.8 611.1 859 611.1 859 614.6 859.1 619.7 859.2 624.8 859.4 628.6 859.9 630.3 860.5 630.8 861.1 630.9 861.4 631.3 861.3 632.1 861 633 860.6 633.9 860.4 634.5 903.4 635.3Z" fill="#8598c0"/>
<path d="M915.7 635.3 959.7 634.5 960.1 613.8 961.3 613.8 961.7 634.5 1005.7 635.3Z" fill="#d16ba4"/>
<path d="M1017.4 635.3 1054.4 634.5 1054.9 633.9 1055.7 633.1 1056.6 632.2 1057.4 631.3 1058.2 630.3 1059.2 629.3 1059.9 628.3 1060.4 627.2 1060.4 626.2 1060 625.1 1059.5 624.1 1059.4 623.2 1059.7 622.6 1060.3 622.1 1060.9 621.5 1061.4 620.5 1061.6 618.7 1061.7 616.3 1061.8 614 1061.8 612.4 1063 612.4 1063 614 1063.1 616.3 1063.2 618.7 1063.4 620.5 1063.9 621.5 1064.5 622.1 1065.1 622.6 1065.4 623.2 1065.3 624.1 1064.8 625.1 1064.4 626.2 1064.4 627.2 1064.9 628.3 1065.7 629.3 1066.6 630.3 1067.4 631.3 1068.2 632.2 1069.1 633.1 1069.9 633.9 1070.4 634.5 1107.4 635.3Z" fill="#dfbd8c"/>
<path d="M1119.7 635.3 1163.7 634.5 1163.3 634.1 1162.8 633.4 1162.2 632.7 1161.7 632.1 1161.3 631.5 1160.9 631 1160.6 630.5 1160.7 629.9 1161.2 629.3 1162.1 628.7 1163.1 628.2 1163.7 627.8 1165.7 627.8 1166.3 628.2 1167.3 628.7 1168.2 629.3 1168.7 629.9 1168.8 630.5 1168.5 631 1168.1 631.5 1167.7 632.1 1167.2 632.7 1166.6 633.4 1166.1 634.1 1165.7 634.5 1209.7 635.3Z" fill="#fcc9e6"/>
<path d="M609.9 663 652.9 662.2 650.7 661.6 647.6 660.8 643.9 659.9 639.9 658.9 635.2 658 629.8 656.9 624.4 655.8 619.9 654.9 616 654 612.5 653.2 609.9 652.4 608.9 651.6 610 650.8 612.6 650 616.2 649.1 619.9 648.1 623.9 646.8 628.5 645.4 633 644 636.9 642.6 640.1 641.2 642.8 639.6 645.1 638.2 646.9 637.2 648.2 636.5 649 636.1 649.5 635.9 649.9 635.8 659.9 635.8 660.3 635.9 660.8 636.1 661.6 636.5 662.9 637.2 664.7 638.2 667 639.6 669.7 641.2 672.9 642.6 676.8 644 681.3 645.4 685.9 646.8 689.9 648.1 693.6 649.1 697.1 650 699.8 650.8 700.9 651.6 699.9 652.4 697.3 653.2 693.8 654 689.9 654.9 685.4 655.8 680 656.9 674.6 658 669.9 658.9 665.9 659.9 662.1 660.8 659.1 661.6 656.9 662.2 699.9 663Z" fill="#5ab697"/>
<path d="M711.6 663 748.6 662.2 744.6 661.8 738.7 661.3 732.8 660.6 728.6 659.8 726.6 658.7 725.9 657.5 726 656.2 726.6 654.9 727.9 653.5 729.9 652.2 732.2 650.8 734.6 649.4 737 648 739.7 646.6 742.3 645.2 744.6 644 746.7 642.8 748.5 641.8 750.2 640.8 751.6 639.9 752.7 639 753.5 638.3 754.2 637.6 754.6 637.2 758.6 637.2 759 637.6 759.7 638.3 760.5 639 761.6 639.9 763 640.8 764.7 641.8 766.5 642.8 768.6 644 770.9 645.2 773.5 646.6 776.2 648 778.6 649.4 781 650.8 783.4 652.2 785.4 653.5 786.6 654.9 787.2 656.2 787.4 657.5 786.6 658.7 784.6 659.8 780.4 660.6 774.5 661.3 768.6 661.8 764.6 662.2 801.6 663Z" fill="#e5825f"/>
<path d="M813.4 663 852.4 662.2 848.5 661.7 842.7 660.9 837 660 833.4 658.9 832.4 657.7 833.1 656.4 834.6 654.9 836.4 653.5 838.5 652.1 841.2 650.8 844 649.4 846.4 648.1 848.2 646.7 849.8 645.2 851.1 643.9 852.4 642.6 853.6 641.4 854.8 640.2 855.7 639.2 856.4 638.5 860.4 638.5 861.1 639.2 862 640.2 863.2 641.4 864.4 642.6 865.7 643.9 867 645.2 868.6 646.7 870.4 648.1 872.8 649.4 875.6 650.8 878.3 652.1 880.4 653.5 882.2 654.9 883.7 656.4 884.4 657.7 883.4 658.9 879.8 660 874.1 660.9 868.3 661.7 864.4 662.2 903.4 663Z" fill="#8598c0"/>
<path d="M915.7 663 959.7 662.2 959.1 661.8 958.2 661.2 957.3 660.5 956.7 659.8 956.4 658.9 956.3 658 956.4 657.1 956.7 656.2 957.3 655.4 958.2 654.6 959.1 654 959.7 653.5 961.7 653.5 962.3 654 963.2 654.6 964.1 655.4 964.7 656.2 965 657.1 965.1 658 965 658.9 964.7 659.8 964.1 660.5 963.2 661.2 962.3 661.8 961.7 662.2 1005.7 663Z" fill="#d16ba4"/>
<path d="M1017.4 663 1042.4 662.2 1037 661.8 1029 661.2 1021.4 660.5 1017.4 659.8 1018.6 659 1023.2 658.2 1028.6 657.3 1032.4 656.2 1033.8 655.1 1034.2 653.8 1034.1 652.4 1034.4 650.8 1034.8 648.8 1035.2 646.5 1035.9 644.3 1037.4 642.6 1040 641.5 1043.5 640.9 1047.2 640.4 1050.4 639.9 1053.1 639.1 1055.7 638.4 1057.9 637.7 1059.4 637.2 1065.4 637.2 1066.9 637.7 1069.1 638.4 1071.7 639.1 1074.4 639.9 1077.6 640.4 1081.3 640.9 1084.8 641.5 1087.4 642.6 1088.9 644.3 1089.6 646.5 1090 648.8 1090.4 650.8 1090.7 652.4 1090.7 653.8 1091 655.1 1092.4 656.2 1096.2 657.3 1101.6 658.2 1106.2 659 1107.4 659.8 1103.4 660.5 1095.8 661.2 1087.8 661.8 1082.4 662.2 1107.4 663Z" fill="#dfbd8c"/>
<path d="M1119.7 663 1160.7 662.2 1159.4 661.7 1157.6 660.9 1155.8 660 1154.7 658.9 1154.6 657.7 1155.1 656.3 1155.9 654.8 1156.7 653.5 1157.4 652.4 1158.1 651.3 1158.9 650.3 1159.7 649.4 1160.7 648.6 1161.9 647.8 1163 647.1 1163.7 646.7 1165.7 646.7 1166.4 647.1 1167.5 647.8 1168.7 648.6 1169.7 649.4 1170.5 650.3 1171.3 651.3 1172 652.4 1172.7 653.5 1173.5 654.8 1174.3 656.3 1174.8 657.7 1174.7 658.9 1173.6 660 1171.8 660.9 1170 661.7 1168.7 662.2 1209.7 663Z" fill="#fcc9e6"/>
<path d="M609.9 690.8 628.9 689.9 628.8 689.1 628.6 688 628.6 686.6 628.9 685.3 629.5 684 630.5 682.6 631.6 681.2 632.9 679.9 634.4 678.5 636.2 677.1 638.1 675.8 639.9 674.4 641.7 673.1 643.6 671.7 645.4 670.3 646.9 669 648.2 667.5 649.3 665.9 650.3 664.5 650.9 663.5 658.9 663.5 659.5 664.5 660.5 665.9 661.6 667.5 662.9 669 664.4 670.3 666.2 671.7 668.1 673.1 669.9 674.4 671.7 675.8 673.6 677.1 675.4 678.5 676.9 679.9 678.2 681.2 679.3 682.6 680.3 684 680.9 685.3 681.2 686.6 681.1 688 681 689.1 680.9 689.9 699.9 690.8Z" fill="#5ab697"/>
<path d="M711.6 690.8 752.6 689.9 752.1 689.4 751.4 688.6 750.8 687.6 750.6 686.7 751 685.7 751.9 684.8 752.9 683.7 753.6 682.6 754 681.4 754.2 680 754.4 678.6 754.6 677.1 755 675.4 755.4 673.4 755.7 671.6 756 670.3 757.2 670.3 757.5 671.6 757.8 673.4 758.2 675.4 758.6 677.1 758.8 678.6 759 680 759.2 681.4 759.6 682.6 760.3 683.7 761.3 684.8 762.2 685.7 762.6 686.7 762.4 687.6 761.8 688.6 761.1 689.4 760.6 689.9 801.6 690.8Z" fill="#e5825f"/>
<path d="M813.4 690.8 857.4 689.9 857.8 666.3 859 666.3 859.4 689.9 903.4 690.8Z" fill="#8598c0"/>
<path d="M915.7 690.8 959.7 689.9 960.1 671.7 961.3 671.7 961.7 689.9 1005.7 690.8Z" fill="#d16ba4"/>
<path d="M1017.4 690.8 1056.4 689.9 1056.8 689.4 1057.3 688.6 1057.9 687.6 1058.4 686.7 1058.8 685.7 1059.2 684.6 1059.4 683.5 1059.4 682.6 1059 681.8 1058.3 681.1 1057.6 680.5 1057.4 679.9 1057.8 679.4 1058.7 679 1059.6 678.4 1060.4 677.1 1060.9 674.7 1061.3 671.5 1061.6 668.4 1061.8 666.3 1063 666.3 1063.2 668.4 1063.5 671.5 1063.9 674.7 1064.4 677.1 1065.2 678.4 1066.1 679 1067 679.4 1067.4 679.9 1067.2 680.5 1066.5 681.1 1065.8 681.8 1065.4 682.6 1065.4 683.5 1065.7 684.6 1066 685.7 1066.4 686.7 1066.9 687.6 1067.5 688.6 1068 689.4 1068.4 689.9 1107.4 690.8Z" fill="#dfbd8c"/>
<path d="M1119.7 690.8 1163.7 689.9 1163.2 689.3 1162.6 688.5 1162 687.5 1161.7 686.7 1162 685.9 1162.6 685.1 1163.2 684.4 1163.7 684 1165.7 684 1166.2 684.4 1166.8 685.1 1167.4 685.9 1167.7 686.7 1167.4 687.5 1166.8 688.5 1166.2 689.3 1165.7 689.9 1209.7 690.8Z" fill="#fcc9e6"/>
<path d="M609.9 718.5 646.9 717.7 641.7 716.9 634.1 715.8 626.2 714.5 619.9 713 615.5 711.5 612 709.7 609.7 707.9 608.9 706.2 609.9 704.8 612.5 703.4 616 702.1 619.9 700.8 624.6 699.4 630.1 698 635.6 696.6 639.9 695.3 642.7 694.1 644.6 693 645.9 692 646.9 691.3 662.9 691.3 663.9 692 665.1 693 667.1 694.1 669.9 695.3 674.2 696.6 679.6 698 685.2 699.4 689.9 700.8 693.8 702.1 697.3 703.4 699.9 704.8 700.9 706.2 700.1 707.9 697.8 709.7 694.3 711.5 689.9 713 683.6 714.5 675.7 715.8 668.1 716.9 662.9 717.7 699.9 718.5Z" fill="#5ab697"/>
<path d="M711.6 718.5 748.6 717.7 748.1 716.8 747.4 715.6 746.7 714.3 746.6 713 747.3 712 748.5 711 749.7 710 750.6 709 750.8 708 750.6 707 750.4 706 750.6 704.9 751.4 703.6 752.5 702.3 753.7 700.9 754.6 699.4 755.2 697.7 755.6 695.7 755.8 693.9 756 692.6 757.2 692.6 757.4 693.9 757.6 695.7 758 697.7 758.6 699.4 759.5 700.9 760.7 702.3 761.8 703.6 762.6 704.9 762.8 706 762.6 707 762.4 708 762.6 709 763.5 710 764.7 711 765.9 712 766.6 713 766.5 714.3 765.9 715.6 765.1 716.8 764.6 717.7 801.6 718.5Z" fill="#e5825f"/>
<path d="M813.4 718.5 854.4 717.7 853.3 717.1 851.8 716.4 849.6 715.5 846.4 714.4 841.4 713.2 835.1 711.7 828.7 710.3 823.4 709 819.3 707.8 815.8 706.8 813.3 705.9 812.4 704.9 813.4 703.9 816 702.8 819.5 701.8 823.4 700.8 828 699.8 833.3 698.7 838.8 697.7 843.4 696.7 847.2 695.6 850.5 694.5 853.3 693.5 855.4 692.6 856.6 692.1 857.1 691.7 857.3 691.4 857.4 691.3 859.4 691.3 859.5 691.4 859.6 691.7 860.1 692.1 861.4 692.6 863.5 693.5 866.3 694.5 869.6 695.6 873.4 696.7 878 697.7 883.5 698.7 888.8 699.8 893.4 700.8 897.3 701.8 900.8 702.8 903.4 703.9 904.4 704.9 903.5 705.9 901 706.8 897.5 707.8 893.4 709 888.1 710.3 881.7 711.7 875.4 713.2 870.4 714.4 867.2 715.5 865 716.4 863.5 717.1 862.4 717.7 903.4 718.5Z" fill="#8598c0"/>
<path d="M915.7 718.5 959.7 717.7 960.1 709 961.3 709 961.7 717.7 1005.7 718.5Z" fill="#d16ba4"/>
<path d="M1017.4 718.5 1032.4 717.7 1029 717.1 1024 716.3 1019.4 715.4 1017.4 714.4 1019.4 713.5 1024 712.6 1029 711.6 1032.4 710.3 1033.4 708.8 1033.1 707 1032.5 705.2 1032.4 703.5 1032.9 702 1033.5 700.6 1034.6 699.3 1036.4 698.1 1039.4 696.9 1043.2 695.9 1047.2 694.9 1050.4 694 1052.8 693.1 1054.8 692.4 1056.3 691.7 1057.4 691.3 1067.4 691.3 1068.5 691.7 1070 692.4 1072 693.1 1074.4 694 1077.6 694.9 1081.6 695.9 1085.4 696.9 1088.4 698.1 1090.2 699.3 1091.3 700.6 1091.9 702 1092.4 703.5 1092.3 705.2 1091.7 707 1091.4 708.8 1092.4 710.3 1095.8 711.6 1100.8 712.6 1105.4 713.5 1107.4 714.4 1105.4 715.4 1100.8 716.3 1095.8 717.1 1092.4 717.7 1107.4 718.5Z" fill="#dfbd8c"/>
<path d="M1119.7 718.5 1159.7 717.7 1159 717.1 1158 716.3 1157.1 715.4 1156.7 714.4 1157 713.4 1157.8 712.4 1158.8 711.4 1159.7 710.3 1160.5 709.4 1161.3 708.6 1162.1 707.6 1162.7 706.2 1163.2 704 1163.6 701.2 1163.9 698.5 1164.1 696.7 1165.3 696.7 1165.5 698.5 1165.8 701.2 1166.2 704 1166.7 706.2 1167.3 707.6 1168.1 708.6 1168.9 709.4 1169.7 710.3 1170.6 711.4 1171.6 712.4 1172.4 713.4 1172.7 714.4 1172.3 715.4 1171.4 716.3 1170.4 717.1 1169.7 717.7 1209.7 718.5Z" fill="#fcc9e6"/>
<path d="M609.9 746.2 649.9 745.4 645.1 744.8 638 744 630.7 743.1 624.9 742.1 621.3 741.2 618.7 740.1 616.8 739.1 614.9 738.1 612.8 737.1 610.8 736.1 609.3 735.1 608.9 734 609.7 732.7 611.4 731.3 613.9 729.9 616.9 728.5 620.8 727.1 625.6 725.7 630.6 724.3 634.9 723.1 638.6 721.9 642 720.7 644.9 719.7 646.9 719 662.9 719 664.9 719.7 667.8 720.7 671.2 721.9 674.9 723.1 679.2 724.3 684.1 725.7 689 727.1 692.9 728.5 695.9 729.9 698.4 731.3 700.1 732.7 700.9 734 700.5 735.1 699 736.1 697 737.1 694.9 738.1 693 739.1 691.1 740.1 688.5 741.2 684.9 742.1 679.1 743.1 671.8 744 664.7 744.8 659.9 745.4 699.9 746.2Z" fill="#5ab697"/>
<path d="M711.6 746.2 710.6 745.4 713.6 745.1 717.9 744.8 722.5 744.3 726.6 743.5 730 742.4 733.1 741.1 736 739.6 738.6 738.1 740.9 736.4 743 734.7 744.8 733 746.6 731.2 748.3 729.5 749.9 727.7 751.4 725.9 752.6 724.4 753.6 723.1 754.5 722 755.1 721 755.6 720.4 757.6 720.4 758.1 721 758.7 722 759.6 723.1 760.6 724.4 761.8 725.9 763.3 727.7 764.9 729.5 766.6 731.2 768.4 733 770.2 734.7 772.3 736.4 774.6 738.1 777.2 739.6 780.1 741.1 783.2 742.4 786.6 743.5 790.7 744.3 795.4 744.8 799.6 745.1 802.6 745.4 801.6 746.2Z" fill="#e5825f"/>
<path d="M813.4 746.2 856.4 745.4 856.2 745.1 856 744.7 855.7 744.2 855.4 743.5 854.9 742.6 854.1 741.5 853.6 740.4 853.4 739.4 853.8 738.7 854.7 738.2 855.6 737.6 856.4 736.7 856.9 735.1 857.3 733.1 857.6 731.2 857.8 729.9 859 729.9 859.2 731.2 859.5 733.1 859.9 735.1 860.4 736.7 861.2 737.6 862.1 738.2 863 738.7 863.4 739.4 863.2 740.4 862.6 741.5 861.9 742.6 861.4 743.5 861.1 744.2 860.8 744.7 860.6 745.1 860.4 745.4 903.4 746.2Z" fill="#8598c0"/>
<path d="M915.7 746.2 914.7 745.4 917.3 744.9 921.1 744.2 925.2 743.3 928.7 742.1 931.5 740.7 934 739 936.3 737.1 938.7 735.3 941.2 733.6 943.8 731.8 946.3 730.1 948.7 728.5 951 727 953.1 725.5 955.1 724.2 956.7 723.1 957.9 722.1 958.7 721.4 959.3 720.8 959.7 720.4 961.7 720.4 962.1 720.8 962.7 721.4 963.5 722.1 964.7 723.1 966.3 724.2 968.3 725.5 970.4 727 972.7 728.5 975.1 730.1 977.6 731.8 980.2 733.6 982.7 735.3 985.1 737.1 987.5 739 989.9 740.7 992.7 742.1 996.2 743.3 1000.3 744.2 1004.1 744.9 1006.7 745.4 1005.7 746.2Z" fill="#d16ba4"/>
<path d="M1017.4 746.2 1016.4 745.4 1017.3 745 1018.7 744.4 1020.3 743.7 1022.4 743 1025.3 742.2 1028.8 741.5 1032.1 740.6 1034.4 739.4 1035.2 737.9 1035 736.2 1034.5 734.4 1034.4 732.6 1034.4 730.8 1034.4 729 1034.9 727.3 1036.4 725.8 1039.7 724.6 1044.2 723.5 1048.8 722.6 1052.4 721.7 1054.7 720.9 1056.4 720.1 1057.6 719.4 1058.4 719 1066.4 719 1067.2 719.4 1068.4 720.1 1070.1 720.9 1072.4 721.7 1076 722.6 1080.7 723.5 1085.2 724.6 1088.4 725.8 1089.9 727.3 1090.4 729 1090.4 730.8 1090.4 732.6 1090.3 734.4 1089.8 736.2 1089.6 737.9 1090.4 739.4 1092.7 740.6 1096 741.5 1099.5 742.2 1102.4 743 1104.5 743.7 1106.2 744.4 1107.5 745 1108.4 745.4 1107.4 746.2Z" fill="#dfbd8c"/>
<path d="M1119.7 746.2 1118.7 745.4 1123.7 745 1131 744.4 1138.6 743.7 1144.7 743 1148.8 742.2 1152 741.3 1154.5 740.4 1156.7 739.4 1158.5 738.4 1159.8 737.3 1160.8 736.3 1161.7 735.3 1162.5 734.5 1163 733.7 1163.4 733.1 1163.7 732.6 1165.7 732.6 1166 733.1 1166.4 733.7 1166.9 734.5 1167.7 735.3 1168.6 736.3 1169.6 737.3 1170.9 738.4 1172.7 739.4 1174.9 740.4 1177.4 741.3 1180.6 742.2 1184.7 743 1190.8 743.7 1198.5 744.4 1205.7 745 1210.7 745.4 1209.7 746.2Z" fill="#fcc9e6"/>
<path d="M609.9 773.9 636.9 773.1 636.8 771.8 636.6 769.9 636.6 767.8 636.9 765.8 637.6 764 638.5 762.3 639.7 760.7 640.9 759 642.3 757.2 643.8 755.5 645.4 753.8 646.9 752.2 648.3 750.6 649.8 749 651 747.7 651.9 746.7 657.9 746.7 658.8 747.7 660 749 661.5 750.6 662.9 752.2 664.4 753.8 666 755.5 667.5 757.2 668.9 759 670.1 760.7 671.3 762.3 672.2 764 672.9 765.8 673.2 767.8 673.1 769.9 673 771.8 672.9 773.1 699.9 773.9Z" fill="#5ab697"/>
<path d="M711.6 773.9 755.6 773.1 756 754.9 757.2 754.9 757.6 773.1 801.6 773.9Z" fill="#e5825f"/>
<path d="M813.4 773.9 838.4 773.1 836.5 772.3 833.8 771.1 831.3 769.7 830.4 768.5 831.8 767.5 834.6 766.5 837.9 765.5 840.4 764.4 841.8 763.2 842.6 761.8 843.4 760.4 844.4 759 845.8 757.6 847.3 756.2 848.9 754.8 850.4 753.5 852 752.3 853.8 751.1 855.3 750.1 856.4 749.4 860.4 749.4 861.5 750.1 863 751.1 864.8 752.3 866.4 753.5 867.9 754.8 869.5 756.2 871 757.6 872.4 759 873.4 760.4 874.1 761.8 875 763.2 876.4 764.4 878.9 765.5 882.1 766.5 885 767.5 886.4 768.5 885.5 769.7 883 771.1 880.3 772.3 878.4 773.1 903.4 773.9Z" fill="#8598c0"/>
<path d="M915.7 773.9 959.7 773.1 960.1 767.1 961.3 767.1 961.7 773.1 1005.7 773.9Z" fill="#d16ba4"/>
<path d="M1017.4 773.9 1048.4 773.1 1049.1 772.4 1050.2 771.2 1051.3 769.9 1052.4 768.5 1053.4 767 1054.5 765.2 1055.5 763.4 1056.4 761.7 1057.2 760 1058 758.2 1058.7 756.5 1059.4 754.9 1060 753.3 1060.6 751.7 1061.1 750.4 1061.4 749.4 1063.4 749.4 1063.7 750.4 1064.2 751.7 1064.8 753.3 1065.4 754.9 1066.1 756.5 1066.8 758.2 1067.6 760 1068.4 761.7 1069.3 763.4 1070.3 765.2 1071.4 767 1072.4 768.5 1073.5 769.9 1074.7 771.2 1075.7 772.4 1076.4 773.1 1107.4 773.9Z" fill="#dfbd8c"/>
<path d="M1119.7 773.9 1162.7 773.1 1162.5 772.5 1162.1 771.7 1161.8 770.7 1161.7 769.9 1162 769.1 1162.6 768.3 1163.3 767.6 1163.7 767.1 1165.7 767.1 1166.1 767.6 1166.8 768.3 1167.4 769.1 1167.7 769.9 1167.6 770.7 1167.3 771.7 1167 772.5 1166.7 773.1 1209.7 773.9Z" fill="#fcc9e6"/>
<path d="M609.9 801.7 653.9 800.9 654.3 775.8 655.5 775.8 655.9 800.9 699.9 801.7Z" fill="#5ab697"/>
<path d="M711.6 801.7 754.6 800.9 754.4 800.3 754 799.5 753.7 798.5 753.6 797.6 753.9 797 754.5 796.5 755.1 795.6 755.6 793.5 755.8 789.4 755.9 783.7 756 778.2 756 774.4 757.2 774.4 757.2 778.2 757.3 783.7 757.4 789.4 757.6 793.5 758.1 795.6 758.7 796.5 759.3 797 759.6 797.6 759.5 798.5 759.2 799.5 758.9 800.3 758.6 800.9 801.6 801.7Z" fill="#e5825f"/>
<path d="M813.4 801.7 856.4 800.9 856.1 800 855.8 798.7 855.5 797.4 855.4 796.2 855.7 795.7 856.3 795.5 856.9 795 857.4 793.5 857.6 790.3 857.7 785.9 857.8 781.5 857.8 778.5 859 778.5 859 781.5 859.1 785.9 859.2 790.3 859.4 793.5 859.9 795 860.5 795.5 861.1 795.7 861.4 796.2 861.3 797.4 861 798.7 860.6 800 860.4 800.9 903.4 801.7Z" fill="#8598c0"/>
<path d="M915.7 801.7 916.7 800.9 917.3 800.3 918.1 799.6 919.2 798.6 920.7 797.6 922.8 796.4 925.5 795.1 928.2 793.7 930.7 792.1 932.8 790.5 934.7 788.7 936.6 787 938.7 785.3 941.1 783.9 943.7 782.4 946.3 781.1 948.7 779.9 951 778.7 953.3 777.6 955.2 776.6 956.7 775.8 957.5 775.2 957.7 774.9 957.7 774.6 957.7 774.4 963.7 774.4 963.7 774.6 963.7 774.9 963.9 775.2 964.7 775.8 966.2 776.6 968.1 777.6 970.4 778.7 972.7 779.9 975.1 781.1 977.7 782.4 980.3 783.9 982.7 785.3 984.8 787 986.7 788.7 988.6 790.5 990.7 792.1 993.2 793.7 996 795.1 998.6 796.4 1000.7 797.6 1002.2 798.6 1003.3 799.6 1004.1 800.3 1004.7 800.9 1005.7 801.7Z" fill="#d16ba4"/>
<path d="M1017.4 801.7 1060.4 800.9 1060.2 800.3 1059.8 799.4 1059.5 798.5 1059.4 797.6 1059.7 797.3 1060.3 797.3 1060.9 796.8 1061.4 794.9 1061.6 790.5 1061.7 784.5 1061.8 778.5 1061.8 774.4 1063 774.4 1063 778.5 1063.1 784.5 1063.2 790.5 1063.4 794.9 1063.9 796.8 1064.5 797.3 1065.1 797.3 1065.4 797.6 1065.3 798.5 1065 799.4 1064.7 800.3 1064.4 800.9 1107.4 801.7Z" fill="#dfbd8c"/>
<path d="M1119.7 801.7 1160.7 800.9 1160.9 800.3 1161.1 799.5 1161.4 798.5 1161.7 797.6 1161.9 796.8 1162.2 796 1162.4 795 1162.7 793.5 1163.1 791 1163.5 787.8 1163.8 784.7 1164.1 782.6 1165.3 782.6 1165.6 784.7 1165.9 787.8 1166.3 791 1166.7 793.5 1167 795 1167.2 796 1167.5 796.8 1167.7 797.6 1168 798.5 1168.3 799.5 1168.5 800.3 1168.7 800.9 1209.7 801.7Z" fill="#fcc9e6"/>
<path d="M609.9 829.4 608.9 828.6 611 828 614.1 827.2 617.3 826.3 619.9 825.3 621.5 824.4 622.6 823.4 623.6 822.4 624.9 821.2 626.7 820 628.8 818.6 630.9 817.2 632.9 815.8 634.7 814.4 636.3 813.1 638 811.7 639.9 810.3 642.1 808.9 644.6 807.5 647 806.1 648.9 804.9 650.1 804 651 803.2 651.5 802.6 651.9 802.2 657.9 802.2 658.3 802.6 658.8 803.2 659.7 804 660.9 804.9 662.8 806.1 665.1 807.5 667.6 808.9 669.9 810.3 671.8 811.7 673.5 813.1 675.1 814.4 676.9 815.8 678.9 817.2 681 818.6 683.1 820 684.9 821.2 686.2 822.4 687.2 823.4 688.3 824.4 689.9 825.3 692.5 826.3 695.7 827.2 698.8 828 700.9 828.6 699.9 829.4Z" fill="#5ab697"/>
<path d="M711.6 829.4 746.6 828.6 743.8 827.8 739.7 826.7 735.4 825.4 731.6 824 728.8 822.4 726.4 820.6 724.1 818.8 721.6 817.2 718.5 815.7 715.1 814.3 712.2 812.9 710.6 811.7 710.5 810.6 711.4 809.6 713.4 808.6 716.6 807.6 721.9 806.5 729 805.4 736.2 804.4 741.6 803.5 744.8 803 746.7 802.6 747.8 802.4 748.6 802.2 764.6 802.2 765.4 802.4 766.5 802.6 768.4 803 771.6 803.5 777 804.4 784.2 805.4 791.3 806.5 796.6 807.6 799.8 808.6 801.9 809.6 802.7 810.6 802.6 811.7 801 812.9 798.1 814.3 794.7 815.7 791.6 817.2 789.1 818.8 786.9 820.6 784.4 822.4 781.6 824 777.9 825.4 773.5 826.7 769.4 827.8 766.6 828.6 801.6 829.4Z" fill="#e5825f"/>
<path d="M813.4 829.4 848.4 828.6 840.8 828 829.5 827.2 818.7 826.3 812.4 825.3 812.6 824.4 816.9 823.4 822.4 822.4 826.4 821.2 828 820 828.6 818.7 829.2 817.3 830.4 815.8 832.4 814.2 834.8 812.4 837.5 810.6 840.4 809 843.7 807.4 847.4 805.9 850.9 804.6 853.4 803.5 854.7 802.9 855.2 802.5 855.3 802.3 855.4 802.2 861.4 802.2 861.5 802.3 861.6 802.5 862.1 802.9 863.4 803.5 865.9 804.6 869.4 805.9 873.1 807.4 876.4 809 879.3 810.6 882 812.4 884.4 814.2 886.4 815.8 887.6 817.3 888.1 818.7 888.8 820 890.4 821.2 894.4 822.4 899.9 823.4 904.2 824.4 904.4 825.3 898.1 826.3 887.3 827.2 876 828 868.4 828.6 903.4 829.4Z" fill="#8598c0"/>
<path d="M915.7 829.4 959.7 828.6 958.3 827.8 956.5 826.8 953.9 825.5 950.7 824 946.3 822.1 941 820 935.5 817.8 930.7 815.8 926.5 813.9 922.6 812.1 919.2 810.5 916.7 809 915.2 807.7 914.5 806.7 914.4 805.8 914.7 804.9 915.8 804.1 917.6 803.3 919.4 802.6 920.7 802.2 1000.7 802.2 1002 802.6 1003.8 803.3 1005.6 804.1 1006.7 804.9 1007 805.8 1007 806.7 1006.2 807.7 1004.7 809 1002.2 810.5 998.8 812.1 994.9 813.9 990.7 815.8 985.9 817.8 980.4 820 975.1 822.1 970.7 824 967.5 825.5 965 826.8 963.1 827.8 961.7 828.6 1005.7 829.4Z" fill="#d16ba4"/>
<path d="M1017.4 829.4 1016.4 828.6 1018.2 828.2 1020.8 827.7 1024 827 1027.4 826.1 1031.4 825.1 1036.1 824 1040.6 822.7 1044.4 821.2 1047.1 819.7 1049.1 818 1050.8 816.2 1052.4 814.4 1054.1 812.7 1055.7 810.9 1057.2 809.2 1058.4 807.6 1059.4 806 1060.3 804.5 1060.9 803.1 1061.4 802.2 1063.4 802.2 1063.9 803.1 1064.5 804.5 1065.4 806 1066.4 807.6 1067.6 809.2 1069.1 810.9 1070.7 812.7 1072.4 814.4 1074 816.2 1075.7 818 1077.7 819.7 1080.4 821.2 1084.2 822.7 1088.7 824 1093.4 825.1 1097.4 826.1 1100.8 827 1104 827.7 1106.6 828.2 1108.4 828.6 1107.4 829.4Z" fill="#dfbd8c"/>
<path d="M1119.7 829.4 1161.7 828.6 1160.2 827.8 1158 826.7 1155.4 825.4 1152.7 824 1149.9 822.4 1146.8 820.7 1143.5 818.9 1139.7 817.2 1135 815.4 1129.5 813.6 1124.4 811.9 1120.7 810.3 1118.3 809.1 1116.9 808.1 1116.8 807.1 1118.7 806.3 1123.5 805.5 1130.6 804.7 1138.3 804.1 1144.7 803.5 1149.6 803.1 1153.8 802.7 1157.3 802.4 1159.7 802.2 1169.7 802.2 1172.1 802.4 1175.6 802.7 1179.8 803.1 1184.7 803.5 1191.1 804.1 1198.8 804.7 1205.9 805.5 1210.7 806.3 1212.6 807.1 1212.5 808.1 1211.1 809.1 1208.7 810.3 1205 811.9 1199.9 813.6 1194.4 815.4 1189.7 817.2 1185.9 818.9 1182.6 820.7 1179.5 822.4 1176.7 824 1174 825.4 1171.4 826.7 1169.2 827.8 1167.7 828.6 1209.7 829.4Z" fill="#fcc9e6"/>
<path d="M609.9 857.1 652.9 856.3 652.3 855.5 651.3 854.3 650.4 852.9 649.9 851.7 649.8 850.6 650 849.5 650.4 848.5 650.9 847.6 651.6 847.1 652.4 846.8 653.3 846.3 653.9 844.9 654.2 841.9 654.3 837.9 654.3 834 654.3 831.3 655.5 831.3 655.5 834 655.5 837.9 655.6 841.9 655.9 844.9 656.5 846.3 657.4 846.8 658.2 847.1 658.9 847.6 659.4 848.5 659.8 849.5 660 850.6 659.9 851.7 659.4 852.9 658.5 854.3 657.5 855.5 656.9 856.3 699.9 857.1Z" fill="#5ab697"/>
<path d="M711.6 857.1 750.6 856.3 749.7 855.5 748.4 854.3 747.1 852.9 746.6 851.7 747.1 850.6 748.2 849.6 749.6 848.6 750.6 847.6 751.2 846.6 751.7 845.7 752.1 844.6 752.6 843.5 753.1 842.3 753.6 841 754.1 839.6 754.6 838.1 755 836.3 755.4 834.3 755.8 832.5 756 831.3 757.2 831.3 757.4 832.5 757.8 834.3 758.2 836.3 758.6 838.1 759.1 839.6 759.6 841 760.1 842.3 760.6 843.5 761.1 844.6 761.5 845.7 762 846.6 762.6 847.6 763.6 848.6 765 849.6 766.1 850.6 766.6 851.7 766.1 852.9 764.9 854.3 763.5 855.5 762.6 856.3 801.6 857.1Z" fill="#e5825f"/>
<path d="M813.4 857.1 857.4 856.3 857.3 855.5 857.1 854.3 856.8 852.9 856.4 851.7 855.6 850.6 854.6 849.6 853.8 848.6 853.4 847.6 853.8 846.7 854.6 845.8 855.6 844.8 856.4 843.5 856.9 841.6 857.3 839.2 857.6 836.9 857.8 835.4 859 835.4 859.2 836.9 859.5 839.2 859.9 841.6 860.4 843.5 861.2 844.8 862.2 845.8 863 846.7 863.4 847.6 863 848.6 862.1 849.6 861.1 850.6 860.4 851.7 860 852.9 859.7 854.3 859.5 855.5 859.4 856.3 903.4 857.1Z" fill="#8598c0"/>
<path d="M915.7 857.1 959.7 856.3 960.1 836.7 961.3 836.7 961.7 856.3 1005.7 857.1Z" fill="#d16ba4"/>
<path d="M1017.4 857.1 1059.4 856.3 1059.2 855.5 1058.8 854.3 1058.5 852.9 1058.4 851.7 1058.7 850.7 1059.2 849.8 1059.9 848.8 1060.4 847.6 1060.8 845.9 1061.2 844 1061.6 842.1 1061.8 840.8 1063 840.8 1063.2 842.1 1063.6 844 1064 845.9 1064.4 847.6 1064.9 848.8 1065.6 849.8 1066.1 850.7 1066.4 851.7 1066.3 852.9 1066 854.3 1065.7 855.5 1065.4 856.3 1107.4 857.1Z" fill="#dfbd8c"/>
<path d="M1119.7 857.1 1161.7 856.3 1160.8 855.5 1159.6 854.3 1158.4 852.9 1157.7 851.7 1157.8 850.6 1158.3 849.6 1159 848.6 1159.7 847.6 1160.4 846.7 1161.2 845.7 1162 844.7 1162.7 843.5 1163.2 841.9 1163.6 839.9 1163.9 838 1164.1 836.7 1165.3 836.7 1165.5 838 1165.8 839.9 1166.2 841.9 1166.7 843.5 1167.4 844.7 1168.2 845.7 1169 846.7 1169.7 847.6 1170.4 848.6 1171.1 849.6 1171.6 850.6 1171.7 851.7 1171 852.9 1169.8 854.3 1168.6 855.5 1167.7 856.3 1209.7 857.1Z" fill="#fcc9e6"/>
<path d="M609.9 884.9 642.9 884.1 640.2 883.2 636.3 882 632.6 880.7 630.9 879.4 632 878.4 634.9 877.4 638.3 876.4 640.9 875.3 642.3 874.1 643.1 872.7 643.9 871.3 644.9 869.9 646.3 868.5 648 867.2 649.6 865.8 650.9 864.4 651.9 863 652.8 861.4 653.4 860 653.9 859 655.9 859 656.4 860 657 861.4 657.9 863 658.9 864.4 660.2 865.8 661.8 867.2 663.5 868.5 664.9 869.9 665.9 871.3 666.6 872.7 667.5 874.1 668.9 875.3 671.5 876.4 674.9 877.4 677.8 878.4 678.9 879.4 677.2 880.7 673.5 882 669.6 883.2 666.9 884.1 699.9 884.9Z" fill="#5ab697"/>
<path d="M711.6 884.9 744.6 884.1 741.1 883.2 735.9 882 731 880.7 728.6 879.4 729.8 878.4 733.4 877.4 737.5 876.4 740.6 875.3 742.1 874.1 743 872.7 743.6 871.3 744.6 869.9 746 868.5 747.5 867.2 749.1 865.8 750.6 864.4 752 863 753.5 861.4 754.7 860 755.6 859 757.6 859 758.5 860 759.7 861.4 761.2 863 762.6 864.4 764.1 865.8 765.7 867.2 767.2 868.5 768.6 869.9 769.6 871.3 770.2 872.7 771.1 874.1 772.6 875.3 775.7 876.4 779.9 877.4 783.4 878.4 784.6 879.4 782.2 880.7 777.4 882 772.1 883.2 768.6 884.1 801.6 884.9Z" fill="#e5825f"/>
<path d="M813.4 884.9 854.4 884.1 852.3 883.5 849.3 882.7 846.3 881.7 844.4 880.8 844 879.9 844.5 879 845.5 877.9 846.4 876.7 847.3 875.2 848.3 873.4 849.4 871.6 850.4 869.9 851.4 868.4 852.5 867.1 853.5 865.8 854.4 864.4 855.3 863 856.1 861.4 856.9 860 857.4 859 859.4 859 859.9 860 860.6 861.4 861.5 863 862.4 864.4 863.3 865.8 864.3 867.1 865.4 868.4 866.4 869.9 867.4 871.6 868.5 873.4 869.5 875.2 870.4 876.7 871.3 877.9 872.3 879 872.8 879.9 872.4 880.8 870.5 881.7 867.5 882.7 864.5 883.5 862.4 884.1 903.4 884.9Z" fill="#8598c0"/>
<path d="M915.7 884.9 952.7 884.1 946.3 883.5 936.9 882.7 927.9 881.7 922.7 880.8 923.2 879.9 927.1 879 932.1 877.9 935.7 876.7 937 875.2 937.4 873.4 937.7 871.6 938.7 869.9 940.7 868.4 943.3 867.1 946 865.8 948.7 864.4 951.4 863 954.3 861.4 956.9 860 958.7 859 962.7 859 964.5 860 967.1 861.4 970 863 972.7 864.4 975.4 865.8 978.1 867.1 980.7 868.4 982.7 869.9 983.7 871.6 984 873.4 984.4 875.2 985.7 876.7 989.3 877.9 994.3 879 998.2 879.9 998.7 880.8 993.5 881.7 984.5 882.7 975.1 883.5 968.7 884.1 1005.7 884.9Z" fill="#d16ba4"/>
<path d="M1017.4 884.9 1058.4 884.1 1056.2 883.5 1053 882.8 1050 881.8 1048.4 880.8 1048.8 879.6 1050.5 878.3 1052.7 876.8 1054.4 875.3 1055.6 873.7 1056.6 871.9 1057.5 870.2 1058.4 868.5 1059.3 866.9 1060.2 865.4 1060.9 864 1061.4 863.1 1063.4 863.1 1063.9 864 1064.7 865.4 1065.5 866.9 1066.4 868.5 1067.3 870.2 1068.2 871.9 1069.2 873.7 1070.4 875.3 1072.1 876.8 1074.3 878.3 1076 879.6 1076.4 880.8 1074.8 881.8 1071.8 882.8 1068.6 883.5 1066.4 884.1 1107.4 884.9Z" fill="#dfbd8c"/>
<path d="M1119.7 884.9 1158.7 884.1 1155.7 883.5 1151.2 882.8 1147 881.8 1144.7 880.8 1145.2 879.6 1147.4 878.2 1150.3 876.8 1152.7 875.3 1154.6 873.9 1156.5 872.5 1158.2 871.2 1159.7 869.9 1161 868.7 1162.1 867.5 1163.1 866.5 1163.7 865.8 1165.7 865.8 1166.3 866.5 1167.3 867.5 1168.4 868.7 1169.7 869.9 1171.2 871.2 1173 872.5 1174.8 873.9 1176.7 875.3 1179.1 876.8 1182 878.2 1184.2 879.6 1184.7 880.8 1182.4 881.8 1178.2 882.8 1173.7 883.5 1170.7 884.1 1209.7 884.9Z" fill="#fcc9e6"/>
<path d="M609.9 912.6 651.9 911.8 650.8 911 649.1 909.9 647.6 908.6 646.9 907.2 647.3 905.6 648.5 903.9 649.8 902.1 650.9 900.3 651.6 898.6 652.1 896.8 652.5 895 652.9 893.5 653.3 892.2 653.7 891.1 654.1 890.1 654.3 889.5 655.5 889.5 655.7 890.1 656.1 891.1 656.5 892.2 656.9 893.5 657.3 895 657.7 896.8 658.2 898.6 658.9 900.3 660 902.1 661.3 903.9 662.5 905.6 662.9 907.2 662.2 908.6 660.6 909.9 659 911 657.9 911.8 699.9 912.6Z" fill="#5ab697"/>
<path d="M711.6 912.6 751.6 911.8 747.5 911.2 741.4 910.5 735.5 909.6 731.6 908.5 731.1 907.3 732.7 905.9 734.4 904.5 734.6 903.1 732.4 901.7 729 900.3 725.1 899 721.6 897.6 718.2 896.2 714.6 894.8 711.8 893.4 710.6 892.2 711.7 891 714.5 890 718.1 889 721.6 888.1 725.4 887.3 729.8 886.5 733.8 885.8 736.6 885.4 776.6 885.4 779.4 885.8 783.4 886.5 787.8 887.3 791.6 888.1 795.1 889 798.7 890 801.5 891 802.6 892.2 801.4 893.4 798.6 894.8 795 896.2 791.6 897.6 788.1 899 784.2 900.3 780.8 901.7 778.6 903.1 778.8 904.5 780.5 905.9 782.1 907.3 781.6 908.5 777.7 909.6 771.8 910.5 765.7 911.2 761.6 911.8 801.6 912.6Z" fill="#e5825f"/>
<path d="M813.4 912.6 857.4 911.8 857.8 908.5 859 908.5 859.4 911.8 903.4 912.6Z" fill="#8598c0"/>
<path d="M915.7 912.6 955.7 911.8 953 911.3 949.1 910.6 944.8 909.7 940.7 908.5 936.8 907.1 932.8 905.3 929 903.5 925.7 901.7 922.9 899.9 920.4 898.1 918.3 896.4 916.7 894.9 915.3 893.7 914.1 892.6 913.8 891.7 914.7 890.8 917.5 889.9 921.6 889.1 926.3 888.3 930.7 887.5 934.9 886.9 939.2 886.3 943 885.7 945.7 885.4 975.7 885.4 978.4 885.7 982.2 886.3 986.5 886.9 990.7 887.5 995.1 888.3 999.8 889.1 1003.9 889.9 1006.7 890.8 1007.6 891.7 1007.3 892.6 1006.1 893.7 1004.7 894.9 1003.1 896.4 1001 898.1 998.5 899.9 995.7 901.7 992.4 903.5 988.6 905.3 984.6 907.1 980.7 908.5 976.6 909.7 972.3 910.6 968.4 911.3 965.7 911.8 1005.7 912.6Z" fill="#d16ba4"/>
<path d="M1017.4 912.6 1059.4 911.8 1059.2 910.9 1058.8 909.7 1058.5 908.4 1058.4 907.2 1058.7 906.2 1059.2 905.4 1059.9 904.5 1060.4 903.1 1060.8 900.8 1061.2 898 1061.6 895.4 1061.8 893.5 1063 893.5 1063.2 895.4 1063.6 898 1064 900.8 1064.4 903.1 1064.9 904.5 1065.6 905.4 1066.1 906.2 1066.4 907.2 1066.3 908.4 1066 909.7 1065.7 910.9 1065.4 911.8 1107.4 912.6Z" fill="#dfbd8c"/>
<path d="M1119.7 912.6 1161.7 911.8 1160.8 911.2 1159.5 910.4 1158.2 909.5 1157.7 908.5 1158.2 907.5 1159.3 906.4 1160.7 905.4 1161.7 904.4 1162.4 903.6 1163 902.8 1163.4 902.2 1163.7 901.7 1165.7 901.7 1166 902.2 1166.5 902.8 1167 903.6 1167.7 904.4 1168.7 905.4 1170.1 906.4 1171.2 907.5 1171.7 908.5 1171.2 909.5 1170 910.4 1168.6 911.2 1167.7 911.8 1209.7 912.6Z" fill="#fcc9e6"/>
<path d="M609.9 940.3 628.9 939.5 628.7 939 628.3 938.2 628.2 937.3 628.9 936.2 630.7 935.1 633.4 933.7 636.3 932.3 638.9 930.8 641.1 929.2 643.1 927.5 645.1 925.7 646.9 924 648.7 922.1 650.4 920.2 651.9 918.4 652.9 917.2 656.9 917.2 657.9 918.4 659.4 920.2 661.1 922.1 662.9 924 664.7 925.7 666.6 927.5 668.7 929.2 670.9 930.8 673.5 932.3 676.4 933.7 679.1 935.1 680.9 936.2 681.6 937.3 681.5 938.2 681.1 939 680.9 939.5 699.9 940.3Z" fill="#5ab697"/>
<path d="M711.6 940.3 751.6 939.5 749.2 938.4 745.7 936.9 741.5 935.1 736.6 933.5 730 932.1 722 930.7 714.8 929.3 710.6 928.1 710.5 927 713.2 926 717.3 925.1 721.6 924 726.4 922.7 732.1 921.3 737.8 919.8 742.6 918.5 746.3 917.3 749.4 916.2 751.9 915.2 753.6 914.5 759.6 914.5 761.3 915.2 763.8 916.2 766.9 917.3 770.6 918.5 775.4 919.8 781.1 921.3 786.8 922.7 791.6 924 795.9 925.1 800 926 802.7 927 802.6 928.1 798.4 929.3 791.2 930.7 783.2 932.1 776.6 933.5 771.7 935.1 767.5 936.9 764 938.4 761.6 939.5 801.6 940.3Z" fill="#e5825f"/>
<path d="M813.4 940.3 856.4 939.5 855.9 938.9 855.3 938.1 854.7 937.2 854.4 936.2 854.6 935.3 855.2 934.3 855.9 933.2 856.4 932.2 856.7 931 857 929.9 857.2 928.8 857.4 928.1 859.4 928.1 859.6 928.8 859.8 929.9 860.1 931 860.4 932.2 860.9 933.2 861.6 934.3 862.2 935.3 862.4 936.2 862.1 937.2 861.5 938.1 860.9 938.9 860.4 939.5 903.4 940.3Z" fill="#8598c0"/>
<path d="M915.7 940.3 959.7 939.5 958.7 938.7 957.5 937.6 955.1 936.3 950.7 934.9 942.4 933.3 931.1 931.4 920.7 929.6 914.7 928.1 915 926.9 919.2 925.9 925.2 925 930.7 924 935.7 922.7 941.2 921.2 946.5 919.7 950.7 918.5 953.7 917.6 956 916.8 957.5 916.2 958.7 915.8 962.7 915.8 963.9 916.2 965.5 916.8 967.7 917.6 970.7 918.5 975 919.7 980.2 921.2 985.7 922.7 990.7 924 996.2 925 1002.2 925.9 1006.5 926.9 1006.7 928.1 1000.7 929.6 990.3 931.4 979 933.3 970.7 934.9 966.3 936.3 964 937.6 962.7 938.7 961.7 939.5 1005.7 940.3Z" fill="#d16ba4"/>
<path d="M1017.4 940.3 1044.4 939.5 1045.1 938.7 1046 937.5 1047.2 936.2 1048.4 934.9 1049.8 933.6 1051.3 932.2 1052.9 930.8 1054.4 929.4 1055.8 928 1057.2 926.6 1058.4 925.3 1059.4 924 1060.2 922.8 1060.7 921.6 1061.1 920.6 1061.4 919.9 1063.4 919.9 1063.7 920.6 1064.1 921.6 1064.6 922.8 1065.4 924 1066.4 925.3 1067.7 926.6 1069 928 1070.4 929.4 1071.9 930.8 1073.5 932.2 1075 933.6 1076.4 934.9 1077.6 936.2 1078.8 937.5 1079.7 938.7 1080.4 939.5 1107.4 940.3Z" fill="#dfbd8c"/>
<path d="M1119.7 940.3 1148.7 939.5 1148.5 939 1148.2 938.2 1148.1 937.3 1148.7 936.2 1150.2 935 1152.5 933.6 1154.8 932.1 1156.7 930.8 1158 929.7 1159 928.6 1159.9 927.6 1160.7 926.7 1161.6 925.9 1162.5 925.1 1163.2 924.4 1163.7 924 1165.7 924 1166.2 924.4 1167 925.1 1167.8 925.9 1168.7 926.7 1169.5 927.6 1170.4 928.6 1171.4 929.7 1172.7 930.8 1174.6 932.1 1177 933.6 1179.2 935 1180.7 936.2 1181.3 937.3 1181.2 938.2 1180.9 939 1180.7 939.5 1209.7 940.3Z" fill="#fcc9e6"/>
<path d="M609.9 968.1 653.9 967.2 654.3 951.7 655.5 951.7 655.9 967.2 699.9 968.1Z" fill="#5ab697"/>
<path d="M711.6 968.1 755.6 967.2 756 951.7 757.2 951.7 757.6 967.2 801.6 968.1Z" fill="#e5825f"/>
<path d="M813.4 968.1 850.4 967.2 849.1 966.4 847.3 965.3 845.5 963.9 844.4 962.6 844.5 961.3 845.4 959.9 846.3 958.5 846.4 957.2 845.2 955.8 843.3 954.4 841.4 953.1 840.4 951.7 840.6 950.3 841.5 948.9 842.8 947.5 844.4 946.3 846.4 945.1 849 944 851.5 943 853.4 942.2 854.6 941.6 855.5 941.3 856 941 856.4 940.8 860.4 940.8 860.8 941 861.3 941.3 862.2 941.6 863.4 942.2 865.3 943 867.8 944 870.4 945.1 872.4 946.3 874 947.5 875.3 948.9 876.2 950.3 876.4 951.7 875.4 953.1 873.5 954.4 871.6 955.8 870.4 957.2 870.5 958.5 871.4 959.9 872.3 961.3 872.4 962.6 871.3 963.9 869.5 965.3 867.7 966.4 866.4 967.2 903.4 968.1Z" fill="#8598c0"/>
<path d="M915.7 968.1 959.7 967.2 960.1 962.6 961.3 962.6 961.7 967.2 1005.7 968.1Z" fill="#d16ba4"/>
<path d="M1017.4 968.1 1059.4 967.2 1059.2 966.4 1058.8 965.2 1058.5 963.8 1058.4 962.6 1058.7 961.6 1059.2 960.7 1059.9 959.7 1060.4 958.5 1060.8 956.9 1061.2 954.9 1061.6 953 1061.8 951.7 1063 951.7 1063.2 953 1063.6 954.9 1064 956.9 1064.4 958.5 1064.9 959.7 1065.6 960.7 1066.1 961.6 1066.4 962.6 1066.3 963.8 1066 965.2 1065.7 966.4 1065.4 967.2 1107.4 968.1Z" fill="#dfbd8c"/>
<path d="M1119.7 968.1 1163.7 967.2 1163.7 964 1165.7 964 1165.7 967.2 1209.7 968.1Z" fill="#fcc9e6"/>
<path d="M609.9 995.8 648.9 995 647.2 994.4 644.8 993.7 642.4 992.8 640.9 991.7 640.6 990.5 641 989.2 641.9 987.8 642.9 986.3 644.2 984.7 645.8 982.9 647.4 981.2 648.9 979.5 650.1 977.6 651.3 975.6 652.2 973.9 652.9 972.6 656.9 972.6 657.6 973.9 658.5 975.6 659.7 977.6 660.9 979.5 662.4 981.2 664 982.9 665.6 984.7 666.9 986.3 667.9 987.8 668.8 989.2 669.2 990.5 668.9 991.7 667.4 992.8 665 993.7 662.6 994.4 660.9 995 699.9 995.8Z" fill="#5ab697"/>
<path d="M711.6 995.8 755.6 995 755.4 994.4 755 993.5 754.7 992.2 754.6 990.3 754.8 987.3 755.2 983.2 755.7 979.4 756 976.7 757.2 976.7 757.5 979.4 758 983.2 758.4 987.3 758.6 990.3 758.5 992.2 758.2 993.5 757.8 994.4 757.6 995 801.6 995.8Z" fill="#e5825f"/>
<path d="M813.4 995.8 852.4 995 847.9 994.2 841.4 993.1 834.4 991.8 828.4 990.3 823.1 988.8 817.9 987 814 985.2 812.4 983.5 814.1 982.1 818.3 980.7 823.5 979.4 828.4 978.1 833 976.7 837.9 975.3 842.6 973.9 846.4 972.6 849.3 971.4 851.5 970.3 853.2 969.3 854.4 968.6 862.4 968.6 863.6 969.3 865.3 970.3 867.5 971.4 870.4 972.6 874.2 973.9 878.9 975.3 883.8 976.7 888.4 978.1 893.3 979.4 898.5 980.7 902.7 982.1 904.4 983.5 902.8 985.2 898.9 987 893.7 988.8 888.4 990.3 882.4 991.8 875.4 993.1 868.9 994.2 864.4 995 903.4 995.8Z" fill="#8598c0"/>
<path d="M915.7 995.8 960.2 995 960.2 994.4 961.2 994.4 961.2 995 1005.7 995.8Z" fill="#d16ba4"/>
<path d="M1017.4 995.8 1032.4 995 1033 994.5 1033.9 993.8 1035 992.8 1036.4 991.7 1038.1 990.3 1040.2 988.5 1042.3 986.7 1044.4 984.9 1046.4 983.2 1048.5 981.4 1050.5 979.7 1052.4 978.1 1054.4 976.5 1056.4 974.9 1058.2 973.6 1059.4 972.6 1065.4 972.6 1066.6 973.6 1068.4 974.9 1070.4 976.5 1072.4 978.1 1074.3 979.7 1076.3 981.4 1078.4 983.2 1080.4 984.9 1082.5 986.7 1084.7 988.5 1086.7 990.3 1088.4 991.7 1089.8 992.8 1090.9 993.8 1091.8 994.5 1092.4 995 1107.4 995.8Z" fill="#dfbd8c"/>
<path d="M1119.7 995.8 1163.7 995 1163.3 994.5 1162.7 993.9 1162.1 993.2 1161.7 992.5 1161.5 991.8 1161.5 991.1 1161.5 990.4 1161.7 989.8 1162.1 989.2 1162.7 988.5 1163.3 988 1163.7 987.6 1165.7 987.6 1166.1 988 1166.7 988.5 1167.3 989.2 1167.7 989.8 1167.9 990.4 1168 991.1 1167.9 991.8 1167.7 992.5 1167.3 993.2 1166.7 993.9 1166.1 994.5 1165.7 995 1209.7 995.8Z" fill="#fcc9e6"/>
<path d="M609.9 1023.5 650.9 1022.7 650.6 1022.1 650.3 1021.3 650 1020.4 649.9 1019.4 650.2 1018.5 650.7 1017.5 651.3 1016.5 651.9 1015.4 652.4 1014.1 653 1012.8 653.5 1011.4 653.9 1009.9 654.1 1008.1 654.2 1006.2 654.3 1004.4 654.3 1003.1 655.5 1003.1 655.5 1004.4 655.6 1006.2 655.7 1008.1 655.9 1009.9 656.3 1011.4 656.8 1012.8 657.4 1014.1 657.9 1015.4 658.5 1016.5 659.1 1017.5 659.6 1018.5 659.9 1019.4 659.8 1020.4 659.5 1021.3 659.1 1022.1 658.9 1022.7 699.9 1023.5Z" fill="#5ab697"/>
<path d="M711.6 1023.5 754.6 1022.7 754.6 1022.5 754.5 1022.3 754.5 1021.5 754.6 1019.4 754.9 1015.1 755.3 1009 755.7 1003.1 756 999 757.2 999 757.5 1003.1 757.9 1009 758.3 1015.1 758.6 1019.4 758.7 1021.5 758.7 1022.3 758.6 1022.5 758.6 1022.7 801.6 1023.5Z" fill="#e5825f"/>
<path d="M813.4 1023.5 838.4 1022.7 834.5 1021.9 828.8 1020.7 822.9 1019.4 818.4 1018.1 815.6 1016.8 813.8 1015.4 812.7 1014 812.4 1012.6 813 1011.3 814.4 1009.9 816.3 1008.5 818.4 1007.2 820.6 1005.8 823.1 1004.4 825.8 1003 828.4 1001.7 831 1000.6 833.7 999.4 836.3 998.4 838.4 997.7 840.1 997.1 841.5 996.7 842.6 996.5 843.4 996.3 873.4 996.3 874.2 996.5 875.3 996.7 876.7 997.1 878.4 997.7 880.5 998.4 883.1 999.4 885.8 1000.6 888.4 1001.7 891 1003 893.6 1004.4 896.2 1005.8 898.4 1007.2 900.5 1008.5 902.4 1009.9 903.8 1011.3 904.4 1012.6 904.1 1014 903 1015.4 901.2 1016.8 898.4 1018.1 893.9 1019.4 888 1020.7 882.3 1021.9 878.4 1022.7 903.4 1023.5Z" fill="#8598c0"/>
<path d="M915.7 1023.5 959.7 1022.7 960.1 1018.1 961.3 1018.1 961.7 1022.7 1005.7 1023.5Z" fill="#d16ba4"/>
<path d="M1017.4 1023.5 1032.4 1022.7 1034.2 1022.2 1036.9 1021.4 1039.8 1020.5 1042.4 1019.4 1044.6 1018.2 1046.7 1016.8 1048.6 1015.4 1050.4 1014 1052.1 1012.7 1053.7 1011.4 1055.1 1010 1056.4 1008.5 1057.6 1006.9 1058.7 1005.1 1059.7 1003.4 1060.4 1001.7 1060.9 1000.2 1061.2 998.6 1061.3 997.2 1061.4 996.3 1063.4 996.3 1063.5 997.2 1063.7 998.6 1063.9 1000.2 1064.4 1001.7 1065.1 1003.4 1066.1 1005.1 1067.2 1006.9 1068.4 1008.5 1069.7 1010 1071.2 1011.4 1072.7 1012.7 1074.4 1014 1076.2 1015.4 1078.2 1016.8 1080.2 1018.2 1082.4 1019.4 1085 1020.5 1087.9 1021.4 1090.6 1022.2 1092.4 1022.7 1107.4 1023.5Z" fill="#dfbd8c"/>
<path d="M1119.7 1023.5 1161.7 1022.7 1161.2 1022.1 1160.6 1021.3 1160 1020.4 1159.7 1019.4 1159.9 1018.5 1160.5 1017.4 1161.1 1016.4 1161.7 1015.4 1162.2 1014.2 1162.8 1013.1 1163.3 1012 1163.7 1011.3 1165.7 1011.3 1166.1 1012 1166.6 1013.1 1167.2 1014.2 1167.7 1015.4 1168.3 1016.4 1169 1017.4 1169.5 1018.5 1169.7 1019.4 1169.4 1020.4 1168.8 1021.3 1168.2 1022.1 1167.7 1022.7 1209.7 1023.5Z" fill="#fcc9e6"/>
<path d="M609.9 1051.2 644.9 1050.4 644.4 1049.9 643.5 1049.1 642.9 1048.2 642.9 1047.2 643.9 1046 645.6 1044.7 647.4 1043.2 648.9 1041.7 649.9 1040.1 650.6 1038.4 651.3 1036.6 651.9 1034.9 652.5 1033.1 653.1 1031.1 653.6 1029.3 653.9 1028.1 655.9 1028.1 656.2 1029.3 656.7 1031.1 657.3 1033.1 657.9 1034.9 658.5 1036.6 659.1 1038.4 659.9 1040.1 660.9 1041.7 662.4 1043.2 664.2 1044.7 665.9 1046 666.9 1047.2 666.9 1048.2 666.3 1049.1 665.4 1049.9 664.9 1050.4 699.9 1051.2Z" fill="#5ab697"/>
<path d="M711.6 1051.2 754.6 1050.4 754.1 1049.8 753.5 1049 752.9 1048 752.6 1047.2 752.8 1046.8 753.4 1046.6 754 1046.1 754.6 1044.4 755 1040.9 755.4 1036.1 755.8 1031.4 756 1028.1 757.2 1028.1 757.4 1031.4 757.8 1036.1 758.2 1040.9 758.6 1044.4 759.2 1046.1 759.8 1046.6 760.4 1046.8 760.6 1047.2 760.3 1048 759.7 1049 759.1 1049.8 758.6 1050.4 801.6 1051.2Z" fill="#e5825f"/>
<path d="M813.4 1051.2 854.4 1050.4 853.3 1049.9 851.7 1049.1 850.2 1048.1 849.4 1047.2 849.6 1046.2 850.4 1045.3 851.5 1044.2 852.4 1043.1 853.2 1041.8 854 1040.4 854.7 1039 855.4 1037.6 856 1036.1 856.6 1034.6 857.1 1033.2 857.4 1032.2 859.4 1032.2 859.7 1033.2 860.2 1034.6 860.8 1036.1 861.4 1037.6 862.1 1039 862.8 1040.4 863.6 1041.8 864.4 1043.1 865.3 1044.2 866.4 1045.3 867.2 1046.2 867.4 1047.2 866.6 1048.1 865.1 1049.1 863.5 1049.9 862.4 1050.4 903.4 1051.2Z" fill="#8598c0"/>
<path d="M915.7 1051.2 958.7 1050.4 958.5 1049.9 958.1 1049.1 957.8 1048.1 957.7 1047.2 957.8 1046.3 958.1 1045.4 958.4 1044.4 958.7 1043.1 959.1 1041.1 959.5 1038.7 959.8 1036.5 960.1 1034.9 961.3 1034.9 961.6 1036.5 961.9 1038.7 962.3 1041.1 962.7 1043.1 963 1044.4 963.4 1045.4 963.6 1046.3 963.7 1047.2 963.6 1048.1 963.3 1049.1 962.9 1049.9 962.7 1050.4 1005.7 1051.2Z" fill="#d16ba4"/>
<path d="M1017.4 1051.2 1022.4 1050.4 1024.2 1050.1 1026.9 1049.5 1029.8 1048.8 1032.4 1048 1034.9 1046.9 1037.4 1045.7 1039.4 1044.4 1040.4 1043.1 1040.1 1041.8 1038.8 1040.4 1036.8 1039 1034.4 1037.6 1031.2 1036.2 1027.3 1034.8 1023.4 1033.5 1020.4 1032.2 1018.6 1031.1 1017.4 1030.1 1016.7 1029.1 1016.4 1028.1 1016.5 1027 1017.2 1025.8 1017.9 1024.8 1018.4 1024 1106.4 1024 1106.9 1024.8 1107.7 1025.8 1108.3 1027 1108.4 1028.1 1108.1 1029.1 1107.4 1030.1 1106.2 1031.1 1104.4 1032.2 1101.4 1033.5 1097.5 1034.8 1093.6 1036.2 1090.4 1037.6 1088 1039 1086 1040.4 1084.7 1041.8 1084.4 1043.1 1085.4 1044.4 1087.4 1045.7 1089.9 1046.9 1092.4 1048 1095 1048.8 1097.9 1049.5 1100.6 1050.1 1102.4 1050.4 1107.4 1051.2Z" fill="#dfbd8c"/>
<path d="M1119.7 1051.2 1159.7 1050.4 1159.4 1049.9 1159 1049.1 1158.7 1048.1 1158.7 1047.2 1159.2 1046.2 1160 1045.3 1160.9 1044.2 1161.7 1043.1 1162.3 1041.8 1162.9 1040.4 1163.3 1038.9 1163.7 1037.6 1163.9 1036.4 1164 1035.3 1164.1 1034.3 1164.1 1033.6 1165.3 1033.6 1165.3 1034.3 1165.4 1035.3 1165.5 1036.4 1165.7 1037.6 1166.1 1038.9 1166.5 1040.4 1167.1 1041.8 1167.7 1043.1 1168.5 1044.2 1169.4 1045.3 1170.2 1046.2 1170.7 1047.2 1170.7 1048.1 1170.4 1049.1 1170 1049.9 1169.7 1050.4 1209.7 1051.2Z" fill="#fcc9e6"/>
<path d="M609.9 1079 652.9 1078.2 652.7 1077.6 652.3 1076.7 652 1075.8 651.9 1074.9 652 1074.5 652.2 1074.3 652.6 1073.7 652.9 1072.2 653.3 1068.9 653.7 1064.5 654 1060.2 654.3 1057.2 655.5 1057.2 655.8 1060.2 656.1 1064.5 656.5 1068.9 656.9 1072.2 657.2 1073.7 657.5 1074.3 657.8 1074.5 657.9 1074.9 657.8 1075.8 657.5 1076.7 657.1 1077.6 656.9 1078.2 699.9 1079Z" fill="#5ab697"/>
<path d="M711.6 1079 755.6 1078.2 755.4 1077.6 755 1076.8 754.7 1075.8 754.6 1074.9 754.7 1074.2 755 1073.5 755.3 1072.5 755.6 1070.8 755.8 1067.8 755.9 1063.7 755.9 1059.9 756 1057.2 757.2 1057.2 757.3 1059.9 757.3 1063.7 757.4 1067.8 757.6 1070.8 757.9 1072.5 758.2 1073.5 758.5 1074.2 758.6 1074.9 758.5 1075.8 758.2 1076.8 757.8 1077.6 757.6 1078.2 801.6 1079Z" fill="#e5825f"/>
<path d="M813.4 1079 857.4 1078.2 857.8 1062.6 859 1062.6 859.4 1078.2 903.4 1079Z" fill="#8598c0"/>
<path d="M915.7 1079 958.7 1078.2 958 1077.3 957.1 1076.1 956.2 1074.8 955.7 1073.5 955.8 1072.6 956.4 1071.8 957.1 1070.8 957.7 1069.4 958.3 1067.2 959 1064.4 959.7 1061.8 960.1 1059.9 961.3 1059.9 961.7 1061.8 962.4 1064.4 963.1 1067.2 963.7 1069.4 964.3 1070.8 965 1071.8 965.6 1072.6 965.7 1073.5 965.2 1074.8 964.3 1076.1 963.4 1077.3 962.7 1078.2 1005.7 1079Z" fill="#d16ba4"/>
<path d="M1017.4 1079 1026.4 1078.2 1027.4 1077.6 1028.9 1076.8 1030.6 1075.8 1032.4 1074.9 1034.8 1074 1037.6 1073 1039.8 1071.9 1040.4 1070.8 1038.2 1069.5 1034 1068.2 1029.7 1066.8 1027.4 1065.4 1027.6 1064 1029.3 1062.6 1031.8 1061.2 1034.4 1059.9 1037.3 1058.8 1040.8 1057.8 1044.3 1056.8 1047.4 1055.8 1050.1 1054.7 1052.7 1053.5 1054.9 1052.5 1056.4 1051.8 1068.4 1051.8 1069.9 1052.5 1072.1 1053.5 1074.7 1054.7 1077.4 1055.8 1080.5 1056.8 1084 1057.8 1087.5 1058.8 1090.4 1059.9 1093 1061.2 1095.5 1062.6 1097.2 1064 1097.4 1065.4 1095.1 1066.8 1090.8 1068.2 1086.6 1069.5 1084.4 1070.8 1085 1071.9 1087.2 1073 1090 1074 1092.4 1074.9 1094.2 1075.8 1095.9 1076.8 1097.4 1077.6 1098.4 1078.2 1107.4 1079Z" fill="#dfbd8c"/>
<path d="M1119.7 1079 1161.7 1078.2 1160.8 1077.3 1159.5 1076.1 1158.3 1074.8 1157.7 1073.5 1158 1072.5 1158.8 1071.5 1159.8 1070.5 1160.7 1069.4 1161.5 1068.3 1162.4 1067.2 1163.2 1066.1 1163.7 1065.4 1165.7 1065.4 1166.2 1066.1 1167 1067.2 1167.9 1068.3 1168.7 1069.4 1169.6 1070.5 1170.6 1071.5 1171.4 1072.5 1171.7 1073.5 1171.1 1074.8 1169.9 1076.1 1168.6 1077.3 1167.7 1078.2 1209.7 1079Z" fill="#fcc9e6"/>
<path d="M609.9 1106.7 653.9 1105.9 654.3 1082.2 655.5 1082.2 655.9 1105.9 699.9 1106.7Z" fill="#5ab697"/>
<path d="M711.6 1106.7 755.6 1105.9 756 1082.2 757.2 1082.2 757.6 1105.9 801.6 1106.7Z" fill="#e5825f"/>
<path d="M813.4 1106.7 857.4 1105.9 857.8 1097.2 859 1097.2 859.4 1105.9 903.4 1106.7Z" fill="#8598c0"/>
<path d="M915.7 1106.7 959.7 1105.9 960.1 1098.5 961.3 1098.5 961.7 1105.9 1005.7 1106.7Z" fill="#d16ba4"/>
<path d="M1017.4 1106.7 1017.4 1105.9 1019.1 1105.5 1021.6 1105 1024.5 1104.3 1027.4 1103.4 1031 1102.4 1035.3 1101.2 1038.9 1099.9 1040.4 1098.5 1038.6 1097.2 1034.4 1095.8 1030 1094.4 1027.4 1093.1 1027.2 1092 1028.2 1091.1 1030 1090.1 1032.4 1089 1035.6 1087.7 1039.7 1086.3 1043.8 1084.9 1047.4 1083.6 1050.3 1082.4 1052.8 1081.2 1054.9 1080.2 1056.4 1079.5 1068.4 1079.5 1069.9 1080.2 1072 1081.2 1074.5 1082.4 1077.4 1083.6 1081 1084.9 1085.2 1086.3 1089.2 1087.7 1092.4 1089 1094.8 1090.1 1096.7 1091.1 1097.7 1092 1097.4 1093.1 1094.8 1094.4 1090.4 1095.8 1086.2 1097.2 1084.4 1098.5 1085.9 1099.9 1089.5 1101.2 1093.8 1102.4 1097.4 1103.4 1100.3 1104.3 1103.2 1105 1105.7 1105.5 1107.4 1105.9 1107.4 1106.7Z" fill="#dfbd8c"/>
<path d="M1119.7 1106.7 1163.7 1105.9 1164.1 1098.5 1165.3 1098.5 1165.7 1105.9 1209.7 1106.7Z" fill="#fcc9e6"/>
<path d="M609.9 1134.4 653.9 1133.6 654.3 1115.4 655.5 1115.4 655.9 1133.6 699.9 1134.4Z" fill="#5ab697"/>
<path d="M711.6 1134.4 755.6 1133.6 756 1115.4 757.2 1115.4 757.6 1133.6 801.6 1134.4Z" fill="#e5825f"/>
<path d="M813.4 1134.4 857.4 1133.6 857.8 1112.7 859 1112.7 859.4 1133.6 903.4 1134.4Z" fill="#8598c0"/>
<path d="M915.7 1134.4 959.7 1133.6 960.1 1118.1 961.3 1118.1 961.7 1133.6 1005.7 1134.4Z" fill="#d16ba4"/>
<path d="M1017.4 1134.4 1017.4 1133.6 1020 1133.2 1023.8 1132.7 1028.1 1132 1032.4 1131.2 1037.3 1130.1 1043 1128.9 1047.8 1127.6 1050.4 1126.3 1049.6 1124.9 1046.4 1123.5 1042.7 1122.1 1040.4 1120.8 1039.8 1119.7 1040 1118.8 1040.9 1117.8 1042.4 1116.7 1044.8 1115.4 1048.2 1114 1051.6 1112.6 1054.4 1111.3 1056.5 1110.1 1058.2 1108.9 1059.5 1107.9 1060.4 1107.2 1064.4 1107.2 1065.3 1107.9 1066.7 1108.9 1068.3 1110.1 1070.4 1111.3 1073.2 1112.6 1076.7 1114 1080 1115.4 1082.4 1116.7 1083.9 1117.8 1084.8 1118.8 1085 1119.7 1084.4 1120.8 1082.1 1122.1 1078.4 1123.5 1075.2 1124.9 1074.4 1126.3 1077 1127.6 1081.8 1128.9 1087.5 1130.1 1092.4 1131.2 1096.7 1132 1101 1132.7 1104.8 1133.2 1107.4 1133.6 1107.4 1134.4Z" fill="#dfbd8c"/>
<path d="M1119.7 1134.4 1162.7 1133.6 1162.5 1133.1 1162.1 1132.2 1161.8 1131.3 1161.7 1130.4 1162 1129.7 1162.6 1129.1 1163.2 1128.2 1163.7 1126.3 1163.9 1122.7 1164 1117.8 1164.1 1113.2 1164.1 1109.9 1165.3 1109.9 1165.3 1113.2 1165.4 1117.8 1165.5 1122.7 1165.7 1126.3 1166.2 1128.2 1166.8 1129.1 1167.4 1129.7 1167.7 1130.4 1167.6 1131.3 1167.3 1132.2 1167 1133.1 1166.7 1133.6 1209.7 1134.4Z" fill="#fcc9e6"/>
<path d="M609.9 1162.2 614.9 1161.4 613.4 1160.8 611.2 1160 609.3 1159 608.9 1158.1 610.5 1157.2 613.5 1156.2 616.9 1155.1 619.9 1154 622.4 1152.7 624.7 1151.4 626.9 1149.9 628.9 1148.6 630.5 1147.2 631.7 1145.8 633 1144.5 634.9 1143.1 637.6 1141.7 641 1140.2 644.3 1138.8 646.9 1137.7 648.8 1136.7 650.1 1136 651.2 1135.4 651.9 1134.9 657.9 1134.9 658.6 1135.4 659.6 1136 661 1136.7 662.9 1137.7 665.5 1138.8 668.8 1140.2 672.2 1141.7 674.9 1143.1 676.8 1144.5 678.1 1145.8 679.3 1147.2 680.9 1148.6 682.9 1149.9 685.1 1151.4 687.4 1152.7 689.9 1154 692.9 1155.1 696.3 1156.2 699.3 1157.2 700.9 1158.1 700.5 1159 698.6 1160 696.4 1160.8 694.9 1161.4 699.9 1162.2Z" fill="#5ab697"/>
<path d="M711.6 1162.2 710.6 1161.4 712.6 1161 715.5 1160.4 718.7 1159.7 721.6 1158.9 724.3 1157.9 727 1156.7 729.5 1155.4 731.6 1154 733.2 1152.4 734.4 1150.6 735.4 1148.8 736.6 1147.2 738 1145.7 739.4 1144.3 740.9 1143 742.6 1141.7 744.6 1140.6 746.8 1139.5 748.9 1138.6 750.6 1137.7 751.8 1136.8 752.6 1136 753.2 1135.4 753.6 1134.9 759.6 1134.9 760 1135.4 760.6 1136 761.4 1136.8 762.6 1137.7 764.3 1138.6 766.4 1139.5 768.6 1140.6 770.6 1141.7 772.3 1143 773.8 1144.3 775.2 1145.7 776.6 1147.2 777.8 1148.8 778.9 1150.6 780 1152.4 781.6 1154 783.7 1155.4 786.2 1156.7 788.9 1157.9 791.6 1158.9 794.5 1159.7 797.7 1160.4 800.6 1161 802.6 1161.4 801.6 1162.2Z" fill="#e5825f"/>
<path d="M813.4 1162.2 856.4 1161.4 854.8 1160.5 852.5 1159.4 849.7 1158 846.4 1156.7 841.8 1155.4 836.1 1154 831.1 1152.6 828.4 1151.3 829.4 1150.2 832.9 1149.2 836.6 1148.3 838.4 1147.2 837.4 1145.9 835 1144.5 831.8 1143 828.4 1141.7 824.3 1140.6 819.4 1139.5 815 1138.6 812.4 1137.7 812.5 1136.8 814.4 1136 816.8 1135.4 818.4 1134.9 898.4 1134.9 900 1135.4 902.4 1136 904.3 1136.8 904.4 1137.7 901.8 1138.6 897.4 1139.5 892.5 1140.6 888.4 1141.7 885 1143 881.8 1144.5 879.4 1145.9 878.4 1147.2 880.1 1148.3 883.9 1149.2 887.4 1150.2 888.4 1151.3 885.7 1152.6 880.6 1154 875 1155.4 870.4 1156.7 867.1 1158 864.3 1159.4 862 1160.5 860.4 1161.4 903.4 1162.2Z" fill="#8598c0"/>
<path d="M915.7 1162.2 918.7 1161.4 923.9 1161 931.5 1160.4 939.4 1159.7 945.7 1158.9 949.8 1157.9 952.8 1156.6 955 1155.3 956.7 1154 957.9 1152.6 958.5 1151.2 958.7 1149.8 958.7 1148.6 958.4 1147.4 957.7 1146.4 957 1145.5 956.7 1144.5 956.9 1143.4 957.5 1142.3 958.2 1141.3 958.7 1140.4 959 1139.5 959.3 1138.8 959.5 1138.1 959.7 1137.7 961.7 1137.7 961.9 1138.1 962.1 1138.8 962.4 1139.5 962.7 1140.4 963.2 1141.3 963.9 1142.3 964.5 1143.4 964.7 1144.5 964.4 1145.5 963.7 1146.4 963 1147.4 962.7 1148.6 962.7 1149.8 962.9 1151.2 963.5 1152.6 964.7 1154 966.4 1155.3 968.6 1156.6 971.6 1157.9 975.7 1158.9 982 1159.7 989.9 1160.4 997.5 1161 1002.7 1161.4 1005.7 1162.2Z" fill="#d16ba4"/>
<path d="M1017.4 1162.2 1016.4 1161.4 1016.5 1160.8 1016.5 1160.1 1017 1159.1 1018.4 1158.1 1021.3 1156.9 1025.4 1155.5 1029.5 1154.1 1032.4 1152.6 1033.7 1151.3 1034.1 1149.9 1034.1 1148.6 1034.4 1147.2 1034.9 1145.8 1035.4 1144.4 1036.1 1143 1037.4 1141.7 1039.4 1140.6 1042 1139.5 1044.8 1138.6 1047.4 1137.7 1049.9 1136.8 1052.5 1136 1054.8 1135.4 1056.4 1134.9 1068.4 1134.9 1070 1135.4 1072.3 1136 1074.9 1136.8 1077.4 1137.7 1080 1138.6 1082.8 1139.5 1085.4 1140.6 1087.4 1141.7 1088.7 1143 1089.4 1144.4 1089.9 1145.8 1090.4 1147.2 1090.7 1148.6 1090.7 1149.9 1091.1 1151.3 1092.4 1152.6 1095.3 1154.1 1099.4 1155.5 1103.5 1156.9 1106.4 1158.1 1107.8 1159.1 1108.3 1160.1 1108.3 1160.8 1108.4 1161.4 1107.4 1162.2Z" fill="#dfbd8c"/>
<path d="M1119.7 1162.2 1162.7 1161.4 1162.3 1160.8 1161.8 1160 1161.2 1159 1160.7 1158.1 1160.3 1157.2 1160 1156.2 1159.5 1155.1 1158.7 1154 1157.8 1152.8 1156.7 1151.4 1155.1 1150 1152.7 1148.6 1149 1146.9 1144.3 1145.1 1139.3 1143.3 1134.7 1141.7 1130 1140.5 1125.2 1139.4 1121.1 1138.5 1118.7 1137.7 1118.8 1136.8 1120.7 1136 1123.1 1135.4 1124.7 1134.9 1204.7 1134.9 1206.3 1135.4 1208.7 1136 1210.6 1136.8 1210.7 1137.7 1208.3 1138.5 1204.2 1139.4 1199.4 1140.5 1194.7 1141.7 1190.1 1143.3 1185.1 1145.1 1180.4 1146.9 1176.7 1148.6 1174.3 1150 1172.7 1151.4 1171.6 1152.8 1170.7 1154 1169.9 1155.1 1169.5 1156.2 1169.1 1157.2 1168.7 1158.1 1168.2 1159 1167.6 1160 1167.1 1160.8 1166.7 1161.4 1209.7 1162.2Z" fill="#fcc9e6"/>
<path d="M609.9 1189.9 608.9 1189.1 608.6 1188.2 608 1187 607.9 1185.7 608.9 1184.5 611.6 1183.4 615.6 1182.5 619.8 1181.5 622.9 1180.4 624.6 1179.1 625.5 1177.7 626.1 1176.3 626.9 1174.9 627.7 1173.5 628.3 1172.1 629.2 1170.8 630.9 1169.5 633.9 1168.2 637.8 1167 641.7 1165.8 644.9 1164.8 647.1 1164.1 648.8 1163.5 650 1163 650.9 1162.7 658.9 1162.7 659.8 1163 661 1163.5 662.7 1164.1 664.9 1164.8 668.1 1165.8 672 1167 675.9 1168.2 678.9 1169.5 680.6 1170.8 681.5 1172.1 682.1 1173.5 682.9 1174.9 683.7 1176.3 684.3 1177.7 685.2 1179.1 686.9 1180.4 690 1181.5 694.1 1182.5 698.1 1183.4 700.9 1184.5 701.9 1185.7 701.8 1187 701.2 1188.2 700.9 1189.1 699.9 1189.9Z" fill="#5ab697"/>
<path d="M711.6 1189.9 710.6 1189.1 713.6 1188.7 718 1188.2 722.6 1187.5 726.6 1186.6 729.6 1185.6 732.2 1184.5 734.5 1183.1 736.6 1181.7 738.4 1180.1 740 1178.4 741.3 1176.6 742.6 1174.9 743.7 1173.4 744.7 1172 745.6 1170.7 746.6 1169.5 747.8 1168.3 749.2 1167.3 750.5 1166.3 751.6 1165.4 752.6 1164.6 753.4 1163.8 754.1 1163.1 754.6 1162.7 758.6 1162.7 759.1 1163.1 759.8 1163.8 760.6 1164.6 761.6 1165.4 762.7 1166.3 764 1167.3 765.4 1168.3 766.6 1169.5 767.6 1170.7 768.5 1172 769.5 1173.4 770.6 1174.9 771.9 1176.6 773.2 1178.4 774.8 1180.1 776.6 1181.7 778.7 1183.1 781 1184.5 783.6 1185.6 786.6 1186.6 790.6 1187.5 795.2 1188.2 799.6 1188.7 802.6 1189.1 801.6 1189.9Z" fill="#e5825f"/>
<path d="M813.4 1189.9 856.4 1189.1 854.8 1188.3 852.5 1187.1 849.7 1185.8 846.4 1184.5 841.8 1183.1 836.1 1181.7 831.1 1180.3 828.4 1179 829.5 1177.9 833.2 1177 837 1176 838.4 1174.9 836.3 1173.6 832.2 1172.2 827.5 1170.8 823.4 1169.5 820 1168.3 816.6 1167.3 813.9 1166.3 812.4 1165.4 812.8 1164.6 814.7 1163.8 816.9 1163.1 818.4 1162.7 898.4 1162.7 899.9 1163.1 902.1 1163.8 904 1164.6 904.4 1165.4 902.9 1166.3 900.2 1167.3 896.8 1168.3 893.4 1169.5 889.3 1170.8 884.6 1172.2 880.5 1173.6 878.4 1174.9 879.8 1176 883.6 1177 887.3 1177.9 888.4 1179 885.7 1180.3 880.6 1181.7 875 1183.1 870.4 1184.5 867.1 1185.8 864.3 1187.1 862 1188.3 860.4 1189.1 903.4 1189.9Z" fill="#8598c0"/>
<path d="M915.7 1189.9 948.7 1189.1 949.4 1188.7 950.4 1188.1 951.5 1187.4 952.7 1186.6 954 1185.9 955.3 1185.1 956.6 1184.2 957.7 1183.1 958.4 1181.8 959 1180.3 959.4 1178.5 959.7 1176.3 959.9 1173 960 1169.1 960.1 1165.3 960.1 1162.7 961.3 1162.7 961.3 1165.3 961.4 1169.1 961.5 1173 961.7 1176.3 962 1178.5 962.4 1180.3 963 1181.8 963.7 1183.1 964.8 1184.2 966.1 1185.1 967.5 1185.9 968.7 1186.6 969.9 1187.4 971 1188.1 972 1188.7 972.7 1189.1 1005.7 1189.9Z" fill="#d16ba4"/>
<path d="M1017.4 1189.9 1016.4 1189.1 1016.5 1188.5 1016.5 1187.8 1017 1186.9 1018.4 1185.8 1021.3 1184.6 1025.4 1183.2 1029.5 1181.8 1032.4 1180.4 1033.8 1179 1034.3 1177.6 1034.3 1176.3 1034.4 1174.9 1034.2 1173.5 1033.7 1172.1 1033.5 1170.7 1034.4 1169.5 1036.8 1168.3 1040.3 1167.3 1044.1 1166.3 1047.4 1165.4 1050.1 1164.6 1052.7 1163.8 1054.9 1163.1 1056.4 1162.7 1068.4 1162.7 1069.9 1163.1 1072.1 1163.8 1074.7 1164.6 1077.4 1165.4 1080.7 1166.3 1084.5 1167.3 1088 1168.3 1090.4 1169.5 1091.3 1170.7 1091.1 1172.1 1090.6 1173.5 1090.4 1174.9 1090.5 1176.3 1090.5 1177.6 1091 1179 1092.4 1180.4 1095.3 1181.8 1099.4 1183.2 1103.5 1184.6 1106.4 1185.8 1107.8 1186.9 1108.3 1187.8 1108.3 1188.5 1108.4 1189.1 1107.4 1189.9Z" fill="#dfbd8c"/>
<path d="M1119.7 1189.9 1162.7 1189.1 1162.3 1188.3 1161.8 1187.1 1161.2 1185.8 1160.7 1184.5 1160.2 1183.1 1159.8 1181.7 1159.3 1180.3 1158.7 1179 1158.1 1177.9 1157.5 1177 1156.5 1176 1154.7 1174.9 1151.9 1173.6 1148.3 1172.2 1144.1 1170.8 1139.7 1169.5 1134.4 1168.3 1128.3 1167.3 1122.6 1166.3 1118.7 1165.4 1117.2 1164.6 1117.4 1163.8 1118.2 1163.1 1118.7 1162.7 1210.7 1162.7 1211.2 1163.1 1212 1163.8 1212.2 1164.6 1210.7 1165.4 1206.8 1166.3 1201.1 1167.3 1195 1168.3 1189.7 1169.5 1185.3 1170.8 1181.1 1172.2 1177.5 1173.6 1174.7 1174.9 1172.9 1176 1171.9 1177 1171.3 1177.9 1170.7 1179 1170.1 1180.3 1169.6 1181.7 1169.2 1183.1 1168.7 1184.5 1168.2 1185.8 1167.6 1187.1 1167.1 1188.3 1166.7 1189.1 1209.7 1189.9Z" fill="#fcc9e6"/>
<path d="M609.9 1217.6 608.9 1216.8 609 1216.3 609.1 1215.5 609.6 1214.6 610.9 1213.5 613.4 1212.3 616.8 1211 620.2 1209.5 622.9 1208.1 624.4 1206.7 625.3 1205.4 625.9 1204 626.9 1202.7 628.1 1201.3 629.4 1199.9 630.9 1198.5 632.9 1197.2 635.6 1195.9 638.9 1194.7 642.2 1193.5 644.9 1192.6 647 1191.8 648.6 1191.2 650 1190.7 650.9 1190.4 658.9 1190.4 659.8 1190.7 661.1 1191.2 662.8 1191.8 664.9 1192.6 667.6 1193.5 670.9 1194.7 674.2 1195.9 676.9 1197.2 678.9 1198.5 680.4 1199.9 681.7 1201.3 682.9 1202.7 683.9 1204 684.5 1205.4 685.4 1206.7 686.9 1208.1 689.6 1209.5 693 1211 696.4 1212.3 698.9 1213.5 700.1 1214.6 700.6 1215.5 700.8 1216.3 700.9 1216.8 699.9 1217.6Z" fill="#5ab697"/>
<path d="M711.6 1217.6 716.6 1216.8 719.2 1216.4 723 1215.9 727.1 1215.2 730.6 1214.4 733.5 1213.4 736.1 1212.2 738.5 1210.9 740.6 1209.5 742.5 1207.9 744.1 1206.1 745.5 1204.3 746.6 1202.7 747.4 1201.2 747.8 1199.8 748.1 1198.4 748.6 1197.2 749.3 1196.1 750 1195 750.8 1194 751.6 1193.1 752.4 1192.3 753.3 1191.5 754.1 1190.9 754.6 1190.4 758.6 1190.4 759.1 1190.9 759.9 1191.5 760.8 1192.3 761.6 1193.1 762.4 1194 763.2 1195 763.9 1196.1 764.6 1197.2 765.1 1198.4 765.4 1199.8 765.8 1201.2 766.6 1202.7 767.7 1204.3 769.1 1206.1 770.7 1207.9 772.6 1209.5 774.7 1210.9 777.1 1212.2 779.7 1213.4 782.6 1214.4 786.1 1215.2 790.2 1215.9 794 1216.4 796.6 1216.8 801.6 1217.6Z" fill="#e5825f"/>
<path d="M813.4 1217.6 856.4 1216.8 854.8 1216 852.5 1214.8 849.7 1213.5 846.4 1212.2 841.8 1210.8 836.1 1209.4 831.1 1208 828.4 1206.7 829.5 1205.7 833.2 1204.7 837 1203.7 838.4 1202.7 836.3 1201.4 832.2 1199.9 827.5 1198.5 823.4 1197.2 820 1196.1 816.6 1195 813.9 1194 812.4 1193.1 812.8 1192.3 814.7 1191.5 816.9 1190.9 818.4 1190.4 898.4 1190.4 899.9 1190.9 902.1 1191.5 904 1192.3 904.4 1193.1 902.9 1194 900.2 1195 896.8 1196.1 893.4 1197.2 889.3 1198.5 884.6 1199.9 880.5 1201.4 878.4 1202.7 879.8 1203.7 883.6 1204.7 887.3 1205.7 888.4 1206.7 885.7 1208 880.6 1209.4 875 1210.8 870.4 1212.2 867.1 1213.5 864.3 1214.8 862 1216 860.4 1216.8 903.4 1217.6Z" fill="#8598c0"/>
<path d="M915.7 1217.6 952.7 1216.8 953.2 1216.4 954 1215.8 954.9 1215.1 955.7 1214.4 956.5 1213.6 957.3 1212.9 958.1 1212 958.7 1210.8 959.1 1209.5 959.4 1208 959.5 1206.2 959.7 1204 959.9 1201 960 1197.5 960 1194.1 960.1 1191.8 961.3 1191.8 961.4 1194.1 961.4 1197.5 961.5 1201 961.7 1204 961.9 1206.2 962 1208 962.3 1209.5 962.7 1210.8 963.3 1212 964.1 1212.9 964.9 1213.6 965.7 1214.4 966.5 1215.1 967.4 1215.8 968.2 1216.4 968.7 1216.8 1005.7 1217.6Z" fill="#d16ba4"/>
<path d="M1017.4 1217.6 1016.4 1216.8 1016.5 1216.3 1016.5 1215.5 1017 1214.6 1018.4 1213.5 1021.3 1212.3 1025.4 1211 1029.5 1209.5 1032.4 1208.1 1033.8 1206.7 1034.3 1205.4 1034.3 1204 1034.4 1202.7 1034.2 1201.3 1033.7 1199.8 1033.5 1198.5 1034.4 1197.2 1036.8 1196.1 1040.3 1195 1044.1 1194 1047.4 1193.1 1050.1 1192.3 1052.7 1191.5 1054.9 1190.9 1056.4 1190.4 1068.4 1190.4 1069.9 1190.9 1072.1 1191.5 1074.7 1192.3 1077.4 1193.1 1080.7 1194 1084.5 1195 1088 1196.1 1090.4 1197.2 1091.3 1198.5 1091.1 1199.8 1090.6 1201.3 1090.4 1202.7 1090.5 1204 1090.5 1205.4 1091 1206.7 1092.4 1208.1 1095.3 1209.5 1099.4 1211 1103.5 1212.3 1106.4 1213.5 1107.8 1214.6 1108.3 1215.5 1108.3 1216.3 1108.4 1216.8 1107.4 1217.6Z" fill="#dfbd8c"/>
<path d="M1119.7 1217.6 1162.7 1216.8 1162.3 1216 1161.8 1214.8 1161.2 1213.5 1160.7 1212.2 1160.2 1210.8 1159.8 1209.4 1159.3 1208 1158.7 1206.7 1158.1 1205.7 1157.5 1204.7 1156.5 1203.7 1154.7 1202.7 1151.9 1201.4 1148.3 1199.9 1144.1 1198.5 1139.7 1197.2 1134.3 1196.1 1128.1 1195 1122.5 1194 1118.7 1193.1 1117.6 1192.3 1118.4 1191.5 1119.8 1190.9 1120.7 1190.4 1208.7 1190.4 1209.6 1190.9 1211 1191.5 1211.8 1192.3 1210.7 1193.1 1206.9 1194 1201.3 1195 1195.1 1196.1 1189.7 1197.2 1185.3 1198.5 1181.1 1199.9 1177.5 1201.4 1174.7 1202.7 1172.9 1203.7 1171.9 1204.7 1171.3 1205.7 1170.7 1206.7 1170.1 1208 1169.6 1209.4 1169.2 1210.8 1168.7 1212.2 1168.2 1213.5 1167.6 1214.8 1167.1 1216 1166.7 1216.8 1209.7 1217.6Z" fill="#fcc9e6"/>
<path d="M609.9 1244.5 608.9 1243.7 609 1243.1 609 1242.4 609.5 1241.5 610.9 1240.4 613.8 1239.2 617.9 1237.8 622 1236.4 624.9 1235 626.1 1233.6 626.4 1232.2 626.4 1230.9 626.9 1229.5 628 1228.1 629.3 1226.7 630.9 1225.3 632.9 1224.1 635.6 1222.9 638.9 1221.9 642.2 1220.9 644.9 1220 647 1219.2 648.6 1218.4 650 1217.7 650.9 1217.3 658.9 1217.3 659.8 1217.7 661.1 1218.4 662.8 1219.2 664.9 1220 667.6 1220.9 670.9 1221.9 674.2 1222.9 676.9 1224.1 678.9 1225.3 680.5 1226.7 681.8 1228.1 682.9 1229.5 683.4 1230.9 683.4 1232.2 683.6 1233.6 684.9 1235 687.8 1236.4 691.9 1237.8 696 1239.2 698.9 1240.4 700.3 1241.5 700.8 1242.4 700.8 1243.1 700.9 1243.7 699.9 1244.5Z" fill="#5ab697"/>
<path d="M711.6 1244.5 710.6 1243.7 712.7 1243.1 715.8 1242.4 719 1241.5 721.6 1240.4 723.3 1239.2 724.7 1237.8 725.7 1236.4 726.6 1235 727.1 1233.6 727.3 1232.2 727.6 1230.9 728.6 1229.5 730.5 1228.1 733.1 1226.7 735.9 1225.3 738.6 1224.1 741.2 1222.9 743.9 1221.9 746.5 1220.9 748.6 1220 750.3 1219.2 751.7 1218.4 752.8 1217.7 753.6 1217.3 759.6 1217.3 760.4 1217.7 761.5 1218.4 762.9 1219.2 764.6 1220 766.7 1220.9 769.3 1221.9 772 1222.9 774.6 1224.1 777.3 1225.3 780.1 1226.7 782.7 1228.1 784.6 1229.5 785.6 1230.9 785.9 1232.2 786.1 1233.6 786.6 1235 787.5 1236.4 788.5 1237.8 789.9 1239.2 791.6 1240.4 794.2 1241.5 797.4 1242.4 800.5 1243.1 802.6 1243.7 801.6 1244.5Z" fill="#e5825f"/>
<path d="M813.4 1244.5 856.4 1243.7 855.2 1242.9 853.5 1241.7 851.3 1240.4 848.4 1239.1 844 1237.7 838.4 1236.3 833.3 1234.9 830.4 1233.6 831.1 1232.5 834.2 1231.6 837.4 1230.6 838.4 1229.5 836.2 1228.2 832.1 1226.8 827.4 1225.4 823.4 1224.1 820 1222.9 816.6 1221.9 813.9 1220.9 812.4 1220 812.8 1219.2 814.7 1218.4 816.9 1217.7 818.4 1217.3 898.4 1217.3 899.9 1217.7 902.1 1218.4 904 1219.2 904.4 1220 902.9 1220.9 900.2 1221.9 896.8 1222.9 893.4 1224.1 889.4 1225.4 884.7 1226.8 880.6 1228.2 878.4 1229.5 879.4 1230.6 882.6 1231.6 885.7 1232.5 886.4 1233.6 883.5 1234.9 878.4 1236.3 872.8 1237.7 868.4 1239.1 865.5 1240.4 863.3 1241.7 861.6 1242.9 860.4 1243.7 903.4 1244.5Z" fill="#8598c0"/>
<path d="M915.7 1244.5 914.7 1243.7 918.6 1243.3 924.1 1242.8 930.2 1242.1 935.7 1241.2 940.5 1240.2 945.3 1239 949.5 1237.7 952.7 1236.3 954.8 1235 955.9 1233.6 956.4 1232.2 956.7 1230.9 956.5 1229.8 955.7 1228.8 954.9 1227.8 954.7 1226.8 955.3 1225.7 956.5 1224.7 957.8 1223.6 958.7 1222.7 959.2 1221.9 959.5 1221.1 959.6 1220.5 959.7 1220 961.7 1220 961.8 1220.5 962 1221.1 962.2 1221.9 962.7 1222.7 963.6 1223.6 964.9 1224.7 966.1 1225.7 966.7 1226.8 966.5 1227.8 965.7 1228.8 964.9 1229.8 964.7 1230.9 965 1232.2 965.5 1233.6 966.6 1235 968.7 1236.3 971.9 1237.7 976.1 1239 980.9 1240.2 985.7 1241.2 991.2 1242.1 997.3 1242.8 1002.8 1243.3 1006.7 1243.7 1005.7 1244.5Z" fill="#d16ba4"/>
<path d="M1017.4 1244.5 1016.4 1243.7 1016.5 1243.1 1016.5 1242.4 1017 1241.5 1018.4 1240.4 1021.3 1239.2 1025.4 1237.8 1029.5 1236.4 1032.4 1235 1033.7 1233.6 1034.2 1232.2 1034.2 1230.9 1034.4 1229.5 1034.7 1228.1 1034.8 1226.7 1035.2 1225.3 1036.4 1224.1 1038.8 1222.9 1042 1221.9 1045.4 1220.9 1048.4 1220 1050.9 1219.2 1053.2 1218.4 1055.1 1217.7 1056.4 1217.3 1068.4 1217.3 1069.7 1217.7 1071.7 1218.4 1073.9 1219.2 1076.4 1220 1079.4 1220.9 1082.8 1221.9 1086 1222.9 1088.4 1224.1 1089.6 1225.3 1090 1226.7 1090.1 1228.1 1090.4 1229.5 1090.6 1230.9 1090.7 1232.2 1091.1 1233.6 1092.4 1235 1095.3 1236.4 1099.4 1237.8 1103.5 1239.2 1106.4 1240.4 1107.8 1241.5 1108.3 1242.4 1108.3 1243.1 1108.4 1243.7 1107.4 1244.5Z" fill="#dfbd8c"/>
<path d="M1119.7 1244.5 1162.7 1243.7 1162.5 1242.9 1162.3 1241.7 1162 1240.4 1161.7 1239.1 1161.3 1237.7 1160.8 1236.4 1160.3 1235 1159.7 1233.6 1159.5 1232.2 1159.5 1230.9 1158.8 1229.5 1156.7 1228.2 1152.4 1226.7 1146.5 1225.3 1140.2 1223.9 1134.7 1222.7 1129.8 1221.7 1125 1220.9 1121 1220.1 1118.7 1219.4 1118.8 1218.8 1120.7 1218.2 1123.1 1217.6 1124.7 1217.3 1204.7 1217.3 1206.3 1217.6 1208.7 1218.2 1210.6 1218.8 1210.7 1219.4 1208.4 1220.1 1204.5 1220.9 1199.6 1221.7 1194.7 1222.7 1189.2 1223.9 1182.9 1225.3 1177 1226.7 1172.7 1228.2 1170.6 1229.5 1170 1230.9 1169.9 1232.2 1169.7 1233.6 1169.1 1235 1168.6 1236.4 1168.1 1237.7 1167.7 1239.1 1167.4 1240.4 1167.1 1241.7 1166.9 1242.9 1166.7 1243.7 1209.7 1244.5Z" fill="#fcc9e6"/>
</g>
<line x1="593.4" y1="635.3" x2="1225" y2="635.3" stroke="#444" stroke-width="1.7" />
<line x1="593.4" y1="663" x2="1225" y2="663" stroke="#444" stroke-width="1.7" />
<line x1="593.4" y1="690.8" x2="1225" y2="690.8" stroke="#444" stroke-width="1.7" />
<line x1="593.4" y1="718.5" x2="1225" y2="718.5" stroke="#444" stroke-width="1.7" />
<line x1="593.4" y1="746.2" x2="1225" y2="746.2" stroke="#444" stroke-width="1.7" />
<line x1="593.4" y1="773.9" x2="1225" y2="773.9" stroke="#444" stroke-width="1.7" />
<line x1="593.4" y1="801.7" x2="1225" y2="801.7" stroke="#444" stroke-width="1.7" />
<line x1="593.4" y1="829.4" x2="1225" y2="829.4" stroke="#444" stroke-width="1.7" />
<line x1="593.4" y1="857.1" x2="1225" y2="857.1" stroke="#444" stroke-width="1.7" />
<line x1="593.4" y1="884.9" x2="1225" y2="884.9" stroke="#444" stroke-width="1.7" />
<line x1="593.4" y1="912.6" x2="1225" y2="912.6" stroke="#444" stroke-width="1.7" />
<line x1="593.4" y1="940.3" x2="1225" y2="940.3" stroke="#444" stroke-width="1.7" />
<line x1="593.4" y1="968.1" x2="1225" y2="968.1" stroke="#444" stroke-width="1.7" />
<line x1="593.4" y1="995.8" x2="1225" y2="995.8" stroke="#444" stroke-width="1.7" />
<line x1="593.4" y1="1023.5" x2="1225" y2="1023.5" stroke="#444" stroke-width="1.7" />
<line x1="593.4" y1="1051.2" x2="1225" y2="1051.2" stroke="#444" stroke-width="1.7" />
<line x1="593.4" y1="1079" x2="1225" y2="1079" stroke="#444" stroke-width="1.7" />
<line x1="593.4" y1="1106.7" x2="1225" y2="1106.7" stroke="#444" stroke-width="1.7" />
<line x1="593.4" y1="1134.4" x2="1225" y2="1134.4" stroke="#444" stroke-width="1.7" />
<line x1="593.4" y1="1162.2" x2="1225" y2="1162.2" stroke="#444" stroke-width="1.7" />
<line x1="593.4" y1="1189.9" x2="1225" y2="1189.9" stroke="#444" stroke-width="1.7" />
<line x1="593.4" y1="1217.6" x2="1225" y2="1217.6" stroke="#444" stroke-width="1.7" />
<rect x="593.4" y="607.9" width="631.6" height="637.4" fill="none" stroke="#8c8c8c" stroke-width="1.4" />
<text x="1231" y="628" font-size="18.5" fill="#222">Il10</text>
<text x="1231" y="655.8" font-size="18.5" fill="#222">Trem2</text>
<text x="1231" y="683.5" font-size="18.5" fill="#222">Gpnmb</text>
<text x="1231" y="711.2" font-size="18.5" fill="#222">Timp2</text>
<text x="1231" y="739" font-size="18.5" fill="#222">Spp1</text>
<text x="1231" y="766.7" font-size="18.5" fill="#222">Igf1</text>
<text x="1231" y="794.4" font-size="18.5" fill="#222">Il6</text>
<text x="1231" y="822.1" font-size="18.5" fill="#222">Il1b</text>
<text x="1231" y="849.9" font-size="18.5" fill="#222">Il18</text>
<text x="1231" y="877.6" font-size="18.5" fill="#222">Nlrp3</text>
<text x="1231" y="905.3" font-size="18.5" fill="#222">Chil3</text>
<text x="1231" y="933.1" font-size="18.5" fill="#222">Clec4e</text>
<text x="1231" y="960.8" font-size="18.5" fill="#222">Lyve1</text>
<text x="1231" y="988.5" font-size="18.5" fill="#222">Gas6</text>
<text x="1231" y="1016.3" font-size="18.5" fill="#222">Cbr2</text>
<text x="1231" y="1044" font-size="18.5" fill="#222">Stmn1</text>
<text x="1231" y="1071.7" font-size="18.5" fill="#222">Cks1b</text>
<text x="1231" y="1099.4" font-size="18.5" fill="#222">Birc5</text>
<text x="1231" y="1127.2" font-size="18.5" fill="#222">Top2a</text>
<text x="1231" y="1154.9" font-size="18.5" fill="#222">H2−Ab1</text>
<text x="1231" y="1182.6" font-size="18.5" fill="#222">H2−Aa</text>
<text x="1231" y="1210.4" font-size="18.5" fill="#222">H2−Eb1</text>
<text x="1231" y="1238.1" font-size="18.5" fill="#222">Cd74</text>
<line x1="1303" y1="613" x2="1303" y2="771.6" stroke="#5ecb8f" stroke-width="2" />
<text x="1311.5" y="692.3" font-size="23" fill="#5ecb8f" text-anchor="middle" transform="rotate(90 1311.5 692.3)">Mø-1</text>
<line x1="1303" y1="781.7" x2="1303" y2="930" stroke="#f7955e" stroke-width="2" />
<text x="1311.5" y="855.9" font-size="23" fill="#f7955e" text-anchor="middle" transform="rotate(90 1311.5 855.9)">Mø-2</text>
<line x1="1303" y1="952" x2="1303" y2="1013" stroke="#9a9fd6" stroke-width="2" />
<text x="1311.5" y="982.5" font-size="23" fill="#9a9fd6" text-anchor="middle" transform="rotate(90 1311.5 982.5)">Mø-3</text>
<line x1="1303" y1="1033.5" x2="1303" y2="1126.7" stroke="#c9cc8f" stroke-width="2" />
<text x="1311.5" y="1080.1" font-size="23" fill="#c9cc8f" text-anchor="middle" transform="rotate(90 1311.5 1080.1)">Mø-4</text>
<line x1="1303" y1="1142" x2="1303" y2="1237.6" stroke="#fbc6f2" stroke-width="2" />
<text x="1311.5" y="1189.8" font-size="23" fill="#fbc6f2" text-anchor="middle" transform="rotate(90 1311.5 1189.8)">Mø-5</text>
<text x="25" y="1312.6" font-size="48.5" stroke="#000" stroke-width="0.9">D</text>
<style>.hm b{position:absolute;left:0;width:100%;overflow:hidden;display:block}.hm i{display:block;height:2px}.a{background:linear-gradient(90deg,#a50f15,#a50f15 4%,#ad2821 8%,#ba4336 12%,#cc6859 17%,#de8e80 22%,#f0c0b7 28%,#f5f5fa 34%,#d1d4ea 40%,#bfc3e1 46%,#b8bddf 52%,#b4badd 58%,#b2b8dc 64%,#aeb4da 70%,#aab1d8 76%,#aeb4da 82%,#b0b6db 88%,#b2b8dc 93%,#b8bddf 97%,#b4badd)}.b{background:linear-gradient(90deg,#a50f15,#a50f15 4%,#b13127 8%,#bf4d3f 12%,#cf6d5d 17%,#de8e80 22%,#f3cbc4 28%,#e4e6f3 34%,#cbcee7 40%,#bbbfdf 46%,#b6bcde 52%,#b4badd 58%,#b2b8dc 64%,#acb2d9 70%,#aab1d8 76%,#acb2d9 82%,#acb2d9 88%,#b6bcde 93%,#bbbfdf 97%,#b4badd)}.c{background:linear-gradient(90deg,#a50f15,#b02e25 4%,#bc483a 8%,#c75d4e 12%,#d77e6f 17%,#e39b8e 22%,#f5d0c9 28%,#e4e6f3 34%,#cdd0e8 40%,#c1c5e2 46%,#bdc1e0 52%,#bfc3e1 58%,#bdc1e0 64%,#b6bcde 70%,#b4badd 76%,#b4badd 82%,#b0b6db 88%,#b4badd 93%,#bbbfdf 97%,#bdc1e0)}.d{background:linear-gradient(90deg,#a50f15,#a50f15 4%,#b94134 8%,#c35647 12%,#d17162 17%,#de8e80 22%,#ebb1a6 28%,#fdf6f4 34%,#dadcee 40%,#c9cde6 46%,#c3c7e3 52%,#c5c9e4 58%,#c5c9e4 64%,#bfc3e1 70%,#b8bddf 76%,#b4badd 82%,#aeb4da 88%,#b0b6db 93%,#bfc3e1 97%,#bdc1e0)}.e{background:linear-gradient(90deg,#a50f15,#a50f15 12%,#ba4336 17%,#c96252 22%,#da8576 28%,#edb5ab 34%,#ffffff 40%,#d5d8ec 46%,#c1c5e2 52%,#bdc1e0 58%,#bdc1e0 64%,#b8bddf 70%,#b2b8dc 76%,#acb2d9 82%,#a8afd7 88%,#a8afd7 93%,#b0b6db 97%,#b2b8dc)}.f{background:linear-gradient(90deg,#a50f15,#a50f15 4%,#b63b30 8%,#c15243 12%,#d27364 17%,#de8e80 22%,#e9ada1 28%,#fcefed 34%,#dee0f0 40%,#cdd0e8 46%,#c3c7e3 52%,#bfc3e1 58%,#bfc3e1 70%,#b8bddf 76%,#b4badd 82%,#aeb4da 88%,#b2b8dc 93%,#c1c5e2 97%,#bfc3e1)}.g{background:linear-gradient(90deg,#a50f15,#a50f15 4%,#b13127 8%,#d06f5f 12%,#db8779 17%,#e49d90 22%,#edb5ab 28%,#f8ddd8 34%,#eaebf5 40%,#dadcee 46%,#cfd2e9 52%,#cdd0e8 58%,#cdd0e8 70%,#cbcee7 76%,#c5c9e4 82%,#bdc1e0 88%,#bdc1e0 93%,#c5c9e4 97%,#c9cde6)}.h{background:linear-gradient(90deg,#a50f15,#a50f15 8%,#cb6656 12%,#d77e6f 17%,#e19789 22%,#ecb3a8 28%,#f7d9d3 34%,#f0f1f8 40%,#dadcee 46%,#cfd2e9 52%,#d1d4ea 58%,#d1d4ea 70%,#cfd2e9 76%,#c9cde6 82%,#c3c7e3 88%,#c1c5e2 93%,#c5c9e4 97%,#c7cbe5)}.i{background:linear-gradient(90deg,#a50f15,#a50f15 8%,#bd4a3c 12%,#d06f5f 17%,#dd8c7d 22%,#e9aa9f 28%,#f3cbc4 34%,#f7f7fb 40%,#d3d6eb 46%,#cbcee7 52%,#cfd2e9 58%,#cbcee7 64%,#cbcee7 70%,#cfd2e9 76%,#cbcee7 82%,#c3c7e3 88%,#bfc3e1 93%,#c1c5e2 97%,#cbcee7)}.j{background:linear-gradient(90deg,#a50f15,#a50f15 8%,#c65b4b 12%,#d17162 17%,#dd8c7d 22%,#eaafa3 28%,#f6d4ce 34%,#eeeff7 40%,#d1d4ea 46%,#c9cde6 52%,#cdd0e8 58%,#cdd0e8 64%,#cbcee7 70%,#cdd0e8 76%,#cbcee7 82%,#c3c7e3 88%,#b8bddf 93%,#bbbfdf 97%,#c9cde6)}.k{background:linear-gradient(90deg,#a50f15,#a50f15 12%,#c96252 17%,#d57a6b 22%,#e39b8e 28%,#f0c0b7 34%,#fbfbfd 40%,#cfd2e9 46%,#c5c9e4 52%,#c5c9e4 58%,#c3c7e3 64%,#c3c7e3 70%,#c7cbe5 76%,#c9cde6 82%,#bfc3e1 88%,#b8bddf 93%,#b8bddf 97%,#bbbfdf)}.l{background:linear-gradient(90deg,#a50f15,#a50f15 8%,#a61417 12%,#ca6454 17%,#d67c6d 22%,#e39b8e 28%,#efbcb2 34%,#fdfdfe 40%,#d1d4ea 46%,#cbcee7 52%,#cbcee7 58%,#c5c9e4 64%,#bfc3e1 70%,#c5c9e4 76%,#c7cbe5 82%,#bdc1e0 88%,#b8bddf 93%,#bbbfdf 97%,#bbbfdf)}.m{background:linear-gradient(90deg,#a50f15,#a50f15 12%,#bb4638 17%,#ca6454 22%,#da8576 28%,#ebb1a6 34%,#fdfdfe 40%,#cdd0e8 46%,#c5c9e4 52%,#c3c7e3 58%,#bbbfdf 64%,#b8bddf 70%,#bfc3e1 76%,#c3c7e3 82%,#bbbfdf 88%,#b2b8dc 93%,#b2b8dc 97%,#b0b6db)}.n{background:linear-gradient(90deg,#a50f15,#a50f15 8%,#b02e25 12%,#c04f41 17%,#cf6d5d 22%,#de9082 28%,#f4cec6 34%,#e0e2f1 40%,#c7cbe5 46%,#c1c5e2 52%,#c1c5e2 58%,#b8bddf 64%,#b0b6db 70%,#b6bcde 76%,#bdc1e0 82%,#b8bddf 88%,#b4badd 93%,#b2b8dc 97%,#b4badd)}.o{background:linear-gradient(90deg,#a50f15,#a50f15 8%,#bf4d3f 12%,#cb6656 17%,#d88172 22%,#e7a69a 28%,#fae4e0 34%,#d8daed 40%,#cdd0e8 46%,#c7cbe5 52%,#c3c7e3 58%,#bbbfdf 64%,#b8bddf 70%,#bdc1e0 76%,#c1c5e2 82%,#c1c5e2 88%,#bfc3e1 93%,#bfc3e1 97%,#c5c9e4)}.p{background:linear-gradient(90deg,#a50f15,#a50f15 8%,#c35647 12%,#d06f5f 17%,#da8576 22%,#e8a89c 28%,#fbe8e5 34%,#d5d8ec 40%,#cbcee7 46%,#c7cbe5 52%,#c7cbe5 58%,#c1c5e2 64%,#b8bddf 70%,#bbbfdf 76%,#c1c5e2 82%,#bfc3e1 88%,#bdc1e0 93%,#c5c9e4 97%,#cbcee7)}.q{background:linear-gradient(90deg,#a50f15,#c65b4b 4%,#d06f5f 8%,#d98374 12%,#de9082 17%,#e19789 22%,#ebb1a6 28%,#f9dfdb 34%,#eaebf5 40%,#cdd0e8 46%,#bbbfdf 52%,#b0b6db 58%,#acb2d9 64%,#aab1d8 70%,#9fa7d3 76%,#959ece 82%,#8f99cb 88%,#8a95c9 93%,#8894c8 97%,#8490c7)}.r{background:linear-gradient(90deg,#a50f15,#b4362c 4%,#cc6859 8%,#d67c6d 12%,#dc897b 17%,#df9284 22%,#e7a69a 28%,#f2c7bf 34%,#f9f9fc 40%,#cfd2e9 46%,#c1c5e2 52%,#b6bcde 58%,#b0b6db 64%,#a8afd7 70%,#9fa7d3 76%,#99a2d0 82%,#959ece 88%,#8f99cb 93%,#8894c8 97%,#8894c8)}.s{background:linear-gradient(90deg,#a50f15,#a50f15 4%,#c65b4b 8%,#d17162 12%,#d98374 17%,#de9082 22%,#e6a497 28%,#f1c5bc 34%,#fbfbfd 40%,#d3d6eb 46%,#c5c9e4 52%,#b4badd 58%,#aab1d8 64%,#a4abd5 70%,#9da6d2 76%,#959ece 82%,#919bcc 88%,#8894c8 93%,#7d8bc4 97%,#7d8bc4)}.t{background:linear-gradient(90deg,#a50f15,#a50f15 8%,#c65b4b 12%,#cf6d5d 17%,#d67c6d 22%,#de9082 28%,#e9ada1 34%,#f6d4ce 40%,#f5f5fa 46%,#d5d8ec 52%,#bfc3e1 58%,#acb2d9 64%,#a6add6 70%,#a2a9d4 76%,#9da6d2 82%,#97a0cf 88%,#8c97ca 93%,#828ec6 97%,#7d8bc4)}.u{background:linear-gradient(90deg,#a50f15,#a50f15 4%,#a61417 8%,#ca6454 12%,#d27364 17%,#d88172 22%,#e19789 28%,#ecb3a8 34%,#f7d9d3 40%,#f7f7fb 46%,#dadcee 52%,#c3c7e3 58%,#b0b6db 64%,#a8afd7 70%,#a4abd5 76%,#9fa7d3 82%,#9ba4d1 88%,#939ccd 93%,#8894c8 97%,#8490c7)}.v{background:linear-gradient(90deg,#a50f15,#a50f15 8%,#c35647 12%,#cc6859 17%,#d37666 22%,#dd8c7d 28%,#ebb1a6 34%,#f8ddd8 40%,#ecedf6 46%,#cbcee7 52%,#b6bcde 58%,#a6add6 64%,#9da6d2 70%,#9da6d2 82%,#99a2d0 88%,#8c97ca 93%,#7b89c3 97%,#7282bf)}.w{background:linear-gradient(90deg,#a50f15,#a50f15 8%,#c15243 12%,#ca6454 17%,#d27364 22%,#dc897b 28%,#e9aa9f 34%,#f5d0c9 40%,#f9f9fc 46%,#d1d4ea 52%,#b8bddf 58%,#a8afd7 64%,#a2a9d4 70%,#9da6d2 76%,#9ba4d1 82%,#99a2d0 88%,#919bcc 93%,#828ec6 97%,#7584c0)}.x{background:linear-gradient(90deg,#a50f15,#a50f15 8%,#c75d4e 12%,#d06f5f 17%,#d88172 22%,#df9284 28%,#e9aa9f 34%,#f3c9c1 40%,#ffffff 46%,#d8daed 52%,#c3c7e3 58%,#b6bcde 64%,#b0b6db 70%,#aab1d8 76%,#a8afd7 82%,#a6add6 88%,#9da6d2 93%,#8c97ca 97%,#8490c7)}.y{background:linear-gradient(90deg,#a50f15,#a50f15 8%,#c15243 12%,#d17162 17%,#d67c6d 22%,#de8e80 28%,#e7a69a 34%,#f1c3ba 40%,#fdf6f4 46%,#dee0f0 52%,#c7cbe5 58%,#bbbfdf 64%,#b2b8dc 70%,#aeb4da 76%,#b0b6db 82%,#aab1d8 88%,#9fa7d3 93%,#919bcc 97%,#8894c8)}.z{background:linear-gradient(90deg,#a50f15,#a50f15 8%,#bb4638 12%,#cd6b5b 17%,#d47868 22%,#dc897b 28%,#e5a295 34%,#f1c3ba 40%,#ffffff 46%,#d3d6eb 52%,#bdc1e0 58%,#acb2d9 64%,#a8afd7 70%,#a4abd5 76%,#a4abd5 82%,#9ba4d1 88%,#939ccd 93%,#8c97ca 97%,#8692c8)}.A{background:linear-gradient(90deg,#a50f15,#a50f15 8%,#bb4638 12%,#cc6859 17%,#d57a6b 22%,#dd8c7d 28%,#e7a69a 34%,#f2c7bf 40%,#fdfdfe 46%,#d3d6eb 52%,#bdc1e0 58%,#acb2d9 64%,#a6add6 70%,#a2a9d4 76%,#a6add6 82%,#9ba4d1 88%,#8c97ca 93%,#8894c8 97%,#8a95c9)}.B{background:linear-gradient(90deg,#a50f15,#a50f15 8%,#ac241f 12%,#c25445 17%,#cc6859 22%,#d77e6f 28%,#e39b8e 34%,#f0c0b7 40%,#ffffff 46%,#d1d4ea 52%,#b8bddf 58%,#a6add6 64%,#9fa7d3 70%,#9fa7d3 76%,#9da6d2 82%,#939ccd 88%,#828ec6 93%,#7785c1 97%,#7785c1)}.C{background:linear-gradient(90deg,#a50f15,#a50f15 8%,#bc483a 12%,#cb6656 17%,#d47868 22%,#dc897b 28%,#e8a89c 34%,#f5d0c9 40%,#f0f1f8 46%,#c9cde6 52%,#b4badd 58%,#aab1d8 64%,#a8afd7 70%,#a6add6 76%,#a6add6 82%,#9ba4d1 88%,#8894c8 93%,#8490c7 97%,#8894c8)}.D{background:linear-gradient(90deg,#a50f15,#a50f15 4%,#ad2821 8%,#c15243 12%,#cf6d5d 17%,#d88172 22%,#e19789 28%,#edb5ab 34%,#fbe8e5 40%,#e4e6f3 46%,#c5c9e4 52%,#b0b6db 58%,#aab1d8 64%,#a8afd7 70%,#a4abd5 76%,#a2a9d4 82%,#9ba4d1 88%,#8f99cb 93%,#8a95c9 97%,#8f99cb)}.E{background:linear-gradient(90deg,#a50f15,#a50f15 4%,#ad2821 8%,#c55849 12%,#d06f5f 17%,#d98374 22%,#e19789 28%,#edb5ab 34%,#f9e2dd 40%,#e6e7f4 46%,#c9cde6 52%,#b8bddf 58%,#b0b6db 64%,#acb2d9 70%,#a8afd7 76%,#a2a9d4 82%,#99a2d0 88%,#919bcc 93%,#8f99cb 97%,#939ccd)}.F{background:linear-gradient(90deg,#a50f15,#a50f15 8%,#c25445 12%,#cd6b5b 17%,#d77e6f 22%,#df9284 28%,#e9ada1 34%,#f7d9d3 40%,#ecedf6 46%,#cbcee7 52%,#b8bddf 58%,#b0b6db 64%,#b0b6db 70%,#a8afd7 76%,#9fa7d3 82%,#97a0cf 88%,#8f99cb 93%,#8f99cb 97%,#919bcc)}.G{background:linear-gradient(90deg,#c04f41,#ca6454 4%,#d47868 8%,#d77e6f 12%,#dd8c7d 17%,#e2998b 22%,#e8a89c 28%,#eebab0 34%,#f5d0c9 40%,#fcefed 46%,#e6e7f4 52%,#c7cbe5 58%,#b0b6db 64%,#939ccd 70%,#7785c1 76%,#4562ad 82%,#0c4c9f 88%,#0c4c9f)}.H{background:linear-gradient(90deg,#cd6b5b,#d57a6b 4%,#dc897b 8%,#df9284 12%,#e39b8e 17%,#e5a295 22%,#ebb1a6 28%,#f3c9c1 34%,#f9dfdb 40%,#fdf6f4 46%,#e8e9f5 52%,#cdd0e8 58%,#b8bddf 64%,#a2a9d4 70%,#8894c8 76%,#546cb2 82%,#2452a3 88%,#144ea0 93%,#2452a3 97%,#2f57a6)}.I{background:linear-gradient(90deg,#c75d4e,#cf6d5d 4%,#d57a6b 8%,#dd8c7d 12%,#df9284 17%,#e39b8e 22%,#e8a89c 28%,#eebab0 34%,#f3c9c1 40%,#f9dfdb 46%,#fefafa 52%,#e4e6f3 58%,#cdd0e8 64%,#b8bddf 70%,#a6add6 76%,#919bcc 82%,#596fb4 88%,#365aa8 93%,#2f57a6 97%,#3358a7)}.J{background:linear-gradient(90deg,#c15243,#c55849 4%,#d06f5f 8%,#d67c6d 12%,#db8779 17%,#e09487 22%,#e8a89c 28%,#edb5ab 34%,#f0c0b7 40%,#f5d0c9 46%,#fbebe7 52%,#fbfbfd 58%,#dadcee 64%,#c7cbe5 70%,#b2b8dc 76%,#9da6d2 82%,#808cc5 88%,#4a65ae 93%,#3c5daa 97%,#395ca9)}.K{background:linear-gradient(90deg,#c25445,#c75d4e 4%,#d06f5f 8%,#d67c6d 12%,#dc897b 17%,#de9082 22%,#e59f93 28%,#ebb1a6 34%,#f0c0b7 40%,#f3cbc4 46%,#fae4e0 52%,#fdfdfe 58%,#dcdeef 64%,#c7cbe5 70%,#b4badd 76%,#9fa7d3 82%,#808cc5 88%,#4d67af 93%,#3c5daa 97%,#2854a4)}.L{background:linear-gradient(90deg,#b4362c,#bc483a 4%,#c65b4b 8%,#cc6859 12%,#d57a6b 17%,#da8576 22%,#e19789 28%,#e7a69a 34%,#edb5ab 40%,#f2c7bf 46%,#fae4e0 52%,#fbfbfd 58%,#d8daed 64%,#bfc3e1 70%,#a6add6 76%,#8c97ca 82%,#6c7dbc 88%,#1f51a2 93%,#0c4c9f 97%,#0c4c9f)}.M{background:linear-gradient(90deg,#a50f15,#a50f15 4%,#b13127 8%,#bc483a 12%,#ca6454 17%,#d17162 22%,#d88172 28%,#e09487 34%,#e7a69a 40%,#edb8ad 46%,#f8ddd8 52%,#f7f7fb 58%,#cdd0e8 64%,#b0b6db 70%,#919bcc 76%,#7785c1 82%,#4d67af 88%,#0c4c9f 93%,#0c4c9f)}.N{background:linear-gradient(90deg,#a50f15,#ad2821 4%,#bc483a 8%,#c55849 12%,#cd6b5b 17%,#d37666 22%,#dc897b 28%,#e59f93 34%,#eaafa3 40%,#efbeb5 46%,#f9e2dd 52%,#f7f7fb 58%,#cfd2e9 64%,#b0b6db 70%,#8f99cb 76%,#7785c1 82%,#526ab1 88%,#0c4c9f 93%,#0c4c9f)}.O{background:linear-gradient(90deg,#ad2821,#ba4336 4%,#c25445 8%,#cb6656 12%,#d47868 17%,#dc897b 22%,#e39b8e 28%,#e9ada1 34%,#edb8ad 40%,#f3c9c1 46%,#fbe8e5 52%,#f5f5fa 58%,#d1d4ea 64%,#b2b8dc 70%,#959ece 76%,#808cc5 82%,#4f69b0 88%,#0c4c9f 93%,#0c4c9f)}.P{background:linear-gradient(90deg,#a81919,#b5392e 4%,#c04f41 8%,#c85f50 12%,#d27364 17%,#d88172 22%,#de9082 28%,#e6a497 34%,#edb5ab 40%,#f3c9c1 46%,#fbebe7 52%,#f7f7fb 58%,#d3d6eb 64%,#b6bcde 70%,#959ece 76%,#7987c2 82%,#4f69b0 88%,#0c4c9f 93%,#0c4c9f)}.Q{background:linear-gradient(90deg,#a91d1b,#b63b30 4%,#c15243 8%,#cb6656 12%,#d57a6b 17%,#db8779 22%,#e2998b 28%,#e9aa9f 34%,#efbcb2 40%,#f5d0c9 46%,#fcefed 52%,#eeeff7 58%,#cfd2e9 64%,#b2b8dc 70%,#939ccd 76%,#7584c0 82%,#3f5fab 88%,#0c4c9f 93%,#0c4c9f)}.R{background:linear-gradient(90deg,#b02e25,#bc483a 4%,#c65b4b 8%,#cf6d5d 12%,#d67c6d 17%,#db8779 22%,#e2998b 28%,#eaafa3 34%,#f0c0b7 40%,#f6d7d0 46%,#fef8f7 52%,#e4e6f3 58%,#cbcee7 64%,#b6bcde 70%,#959ece 76%,#6e7fbd 82%,#2c55a5 88%,#0c4c9f 93%,#0c4c9f)}.S{background:linear-gradient(90deg,#a50f15,#b13127 4%,#ba4336 8%,#c35647 12%,#cc6859 17%,#d47868 22%,#dc897b 28%,#e59f93 34%,#ebb1a6 40%,#f3c9c1 46%,#fcefed 52%,#e8e9f5 58%,#c5c9e4 64%,#aeb4da 70%,#8c97ca 76%,#697bbb 82%,#2854a4 88%,#0c4c9f 93%,#0c4c9f)}.T{background:linear-gradient(90deg,#b2332a,#b5392e 4%,#c15243 8%,#c96252 12%,#d37666 17%,#da8576 22%,#e2998b 28%,#e5a295 34%,#ebb1a6 40%,#f3cbc4 46%,#fcedea 52%,#f9f9fc 58%,#d5d8ec 64%,#bdc1e0 70%,#9da6d2 76%,#808cc5 82%,#5c71b5 88%,#0c4c9f 93%,#0c4c9f)}.U{background:linear-gradient(90deg,#ae2b23,#b2332a 4%,#bf4d3f 8%,#c85f50 12%,#d17162 17%,#d98374 22%,#e19789 28%,#e5a295 34%,#ecb3a8 40%,#f3c9c1 46%,#f9e2dd 52%,#ffffff 58%,#d5d8ec 64%,#bbbfdf 70%,#9da6d2 76%,#828ec6 82%,#5e73b6 88%,#0c4c9f 93%,#0c4c9f)}.V{background:linear-gradient(90deg,#b4362c,#b63b30 4%,#c15243 8%,#cc6859 12%,#d67c6d 17%,#dd8c7d 22%,#e39b8e 28%,#e8a89c 34%,#eebab0 40%,#f4cec6 46%,#fae6e2 52%,#fbfbfd 58%,#d3d6eb 64%,#b8bddf 70%,#9ba4d1 76%,#8490c7 82%,#6376b8 88%,#0c4c9f 93%,#0c4c9f)}.W{background:linear-gradient(90deg,#edb5ab,#ebb1a6 4%,#e9ada1 8%,#ebb1a6 12%,#eaafa3 17%,#e9ada1 22%,#e9aa9f 28%,#e8a89c 34%,#e9aa9f 40%,#ecb3a8 46%,#f1c5bc 52%,#f9dfdb 58%,#f0f1f8 64%,#bfc3e1 70%,#99a2d0 76%,#808cc5 82%,#4f69b0 88%,#1f51a2 93%,#1a4fa1 97%,#1a4fa1)}.X{background:linear-gradient(90deg,#eaafa3,#eaafa3 4%,#e9ada1 8%,#ebb1a6 12%,#ecb3a8 17%,#e9aa9f 22%,#e59f93 28%,#e49d90 34%,#e59f93 40%,#e7a69a 46%,#eaafa3 52%,#efbeb5 58%,#f9dfdb 64%,#e6e7f4 70%,#b2b8dc 76%,#8a95c9 82%,#697bbb 88%,#365aa8 93%,#0c4c9f 97%,#0c4c9f)}.Y{background:linear-gradient(90deg,#e9aa9f,#eaafa3 4%,#eaafa3 8%,#ebb1a6 12%,#ecb3a8 17%,#eaafa3 22%,#e7a69a 28%,#e5a295 34%,#e7a69a 40%,#e9aa9f 46%,#eaafa3 52%,#efbcb2 58%,#f7d9d3 64%,#f0f1f8 70%,#bbbfdf 76%,#8f99cb 82%,#6c7dbc 88%,#4562ad 93%,#0c4c9f 97%,#0c4c9f)}.Z{background:linear-gradient(90deg,#e7a69a,#e9aa9f 4%,#eaafa3 8%,#eaafa3 12%,#e9aa9f 17%,#e7a69a 22%,#e7a69a 28%,#e5a295 34%,#e59f93 40%,#e7a69a 46%,#eebab0 52%,#f3cbc4 58%,#fefafa 64%,#c3c7e3 70%,#97a0cf 76%,#7785c1 82%,#4a65ae 88%,#0c4c9f 93%,#0c4c9f)}.aa{background:linear-gradient(90deg,#e7a69a,#e9ada1 4%,#ebb1a6 8%,#ecb3a8 12%,#ecb3a8 17%,#eaafa3 22%,#e9aa9f 28%,#e6a497 34%,#e5a295 40%,#e6a497 46%,#ecb3a8 52%,#f2c7bf 58%,#fef8f7 64%,#cbcee7 70%,#a2a9d4 76%,#808cc5 82%,#5c71b5 88%,#2452a3 93%,#0c4c9f 97%,#0c4c9f)}.ab{background:linear-gradient(90deg,#e7a69a,#e7a69a 4%,#e8a89c 8%,#e9aa9f 12%,#e9aa9f 28%,#e59f93 34%,#e2998b 40%,#e59f93 46%,#ecb3a8 52%,#f4cec6 58%,#fbfbfd 64%,#c1c5e2 70%,#959ece 76%,#7080be 82%,#3c5daa 88%,#0c4c9f 93%,#0c4c9f)}.ac{background:linear-gradient(90deg,#e9aa9f,#e8a89c 4%,#eaafa3 8%,#ebb1a6 12%,#e7a69a 17%,#e5a295 22%,#e8a89c 28%,#e6a497 34%,#e49d90 40%,#e5a295 46%,#ecb3a8 52%,#f3cbc4 58%,#fffdfc 64%,#c7cbe5 70%,#99a2d0 76%,#7282bf 82%,#4562ad 88%,#0c4c9f 93%,#0c4c9f)}.ad{background:linear-gradient(90deg,#e9ada1,#e9ada1 8%,#eaafa3 12%,#e9aa9f 17%,#e6a497 22%,#e9aa9f 28%,#e9aa9f 34%,#e7a69a 40%,#e6a497 46%,#edb5ab 52%,#f6d4ce 58%,#f9f9fc 64%,#c1c5e2 70%,#919bcc 76%,#6e7fbd 82%,#395ca9 88%,#0c4c9f 93%,#0c4c9f)}.ae{background:linear-gradient(90deg,#eaafa3,#e9ada1 4%,#eaafa3 8%,#ecb3a8 12%,#e9ada1 17%,#e8a89c 22%,#e9aa9f 28%,#e8a89c 34%,#e6a497 40%,#e6a497 46%,#edb5ab 52%,#f5d2cb 58%,#f9f9fc 64%,#bfc3e1 70%,#919bcc 76%,#6e7fbd 82%,#365aa8 88%,#0c4c9f 93%,#0c4c9f)}.af{background:linear-gradient(90deg,#e8a89c,#e7a69a 4%,#e8a89c 8%,#e9aa9f 12%,#e8a89c 17%,#e5a295 22%,#e6a497 28%,#e6a497 40%,#eaafa3 46%,#f0c0b7 52%,#fae6e2 58%,#dcdeef 64%,#a8afd7 70%,#808cc5 76%,#596fb4 82%,#0c4c9f 88%,#0c4c9f)}.ag{background:linear-gradient(90deg,#e6a497,#e7a69a 4%,#e7a69a 12%,#e5a295 17%,#e5a295 22%,#e7a69a 28%,#e7a69a 34%,#e5a295 40%,#e9ada1 46%,#f0c0b7 52%,#fbebe7 58%,#d5d8ec 64%,#a2a9d4 70%,#7b89c3 76%,#546cb2 82%,#0c4c9f 88%,#0c4c9f)}.ah{background:linear-gradient(90deg,#e7a69a,#e5a295 4%,#e6a497 8%,#e7a69a 12%,#e5a295 17%,#e39b8e 22%,#e5a295 28%,#e7a69a 34%,#e7a69a 40%,#ecb3a8 46%,#f2c7bf 52%,#fbe8e5 58%,#e2e4f2 64%,#aeb4da 70%,#8490c7 76%,#5c71b5 82%,#0c4c9f 88%,#0c4c9f)}.ai{background:linear-gradient(90deg,#e6a497,#e6a497 4%,#e8a89c 8%,#e9aa9f 12%,#e6a497 17%,#e59f93 22%,#e5a295 28%,#e5a295 40%,#e9aa9f 46%,#f1c3ba 52%,#fcedea 58%,#dee0f0 64%,#b0b6db 70%,#8c97ca 76%,#6578b9 82%,#0c4c9f 88%,#0c4c9f)}.aj{background:linear-gradient(90deg,#e7a69a,#e8a89c 4%,#e9ada1 8%,#e9ada1 12%,#e5a295 17%,#e49d90 22%,#e6a497 28%,#e6a497 34%,#e49d90 40%,#e8a89c 46%,#efbeb5 52%,#fbe8e5 58%,#e2e4f2 64%,#b2b8dc 70%,#8a95c9 76%,#6578b9 82%,#0c4c9f 88%,#0c4c9f)}.ak{background:linear-gradient(90deg,#ecb3a8,#ecb3a8 12%,#e9ada1 17%,#e8a89c 22%,#e9aa9f 28%,#e9aa9f 40%,#ecb3a8 46%,#f1c5bc 52%,#fbebe7 58%,#e2e4f2 64%,#b4badd 70%,#919bcc 76%,#7282bf 82%,#395ca9 88%,#0c4c9f 93%,#0c4c9f)}.al{background:linear-gradient(90deg,#e9ada1,#eaafa3 4%,#eaafa3 8%,#e8a89c 12%,#e6a497 17%,#e7a69a 22%,#e8a89c 28%,#e6a497 34%,#e6a497 40%,#edb8ad 46%,#f6d4ce 52%,#f5f5fa 58%,#bdc1e0 64%,#939ccd 70%,#7080be 76%,#3c5daa 82%,#0c4c9f 88%,#0c4c9f)}.am{background:linear-gradient(90deg,#97a0cf,#bfc3e1 4%,#dee0f0 8%,#f0f1f8 12%,#fbe8e5 17%,#f4cec6 22%,#ecb3a8 28%,#e8a89c 34%,#e6a497 40%,#e7a69a 46%,#edb8ad 52%,#f3c9c1 58%,#fbebe7 64%,#e8e9f5 70%,#c1c5e2 76%,#99a2d0 82%,#6e7fbd 88%,#4a65ae 93%,#395ca9 97%,#365aa8)}.an{background:linear-gradient(90deg,#919bcc,#bfc3e1 4%,#dee0f0 8%,#f9f9fc 12%,#f7d9d3 17%,#eebab0 22%,#e59f93 28%,#e39b8e 34%,#e59f93 40%,#e6a497 46%,#ebb1a6 52%,#f0c0b7 58%,#fae6e2 64%,#e2e4f2 70%,#b2b8dc 76%,#8c97ca 82%,#5e73b6 88%,#2c55a5 93%,#0c4c9f 97%,#0c4c9f)}.ao{background:linear-gradient(90deg,#8f99cb,#bbbfdf 4%,#dadcee 8%,#f3f3f9 12%,#f8ddd8 17%,#efbeb5 22%,#e6a497 28%,#e49d90 34%,#e59f93 40%,#e5a295 46%,#eaafa3 52%,#efbcb2 58%,#f9dfdb 64%,#e8e9f5 70%,#b6bcde 76%,#8f99cb 82%,#6376b8 88%,#365aa8 93%,#144ea0 97%,#1a4fa1)}.ap{background:linear-gradient(90deg,#8490c7,#aeb4da 4%,#d3d6eb 8%,#eaebf5 12%,#fae4e0 17%,#efbcb2 22%,#e59f93 28%,#df9284 34%,#e09487 40%,#e09487 46%,#e7a69a 52%,#eebab0 58%,#f8ddd8 64%,#ecedf6 70%,#b2b8dc 76%,#8692c8 82%,#596fb4 88%,#1f51a2 93%,#0c4c9f 97%,#0c4c9f)}.aq{background:linear-gradient(90deg,#7785c1,#9ba4d1 4%,#c7cbe5 8%,#e2e4f2 12%,#fbebe7 17%,#efbcb2 22%,#e39b8e 28%,#de9082 34%,#df9284 40%,#de9082 46%,#e59f93 52%,#ebb1a6 58%,#f6d4ce 64%,#eeeff7 70%,#b4badd 76%,#8894c8 82%,#546cb2 88%,#0c4c9f 93%,#0c4c9f)}.ar{background:linear-gradient(90deg,#8692c8,#b8bddf 4%,#d8daed 8%,#f5f5fa 12%,#f6d7d0 17%,#ecb3a8 22%,#df9284 28%,#dd8c7d 34%,#de8e80 40%,#e09487 46%,#e9aa9f 52%,#efbcb2 58%,#fae4e0 64%,#dadcee 70%,#a6add6 76%,#7987c2 82%,#4260ac 88%,#0c4c9f 93%,#0c4c9f)}.as{background:linear-gradient(90deg,#8692c8,#b8bddf 4%,#d5d8ec 8%,#f3f3f9 12%,#f6d7d0 17%,#ebb1a6 22%,#df9284 28%,#de8e80 34%,#de9082 40%,#e19789 46%,#ebb1a6 52%,#f1c5bc 58%,#fcedea 64%,#d1d4ea 70%,#a4abd5 76%,#7785c1 82%,#4260ac 88%,#0c4c9f 93%,#0c4c9f)}.at{background:linear-gradient(90deg,#939ccd,#c1c5e2 4%,#dcdeef 8%,#fbfbfd 12%,#f5d2cb 17%,#ebb1a6 22%,#e09487 28%,#e09487 34%,#e19789 40%,#e49d90 46%,#ecb3a8 52%,#f3c9c1 58%,#fdf1ef 64%,#c9cde6 70%,#9da6d2 76%,#7785c1 82%,#3f5fab 88%,#0c4c9f 93%,#0c4c9f)}.au{background:linear-gradient(90deg,#7987c2,#a6add6 4%,#d3d6eb 8%,#eeeff7 12%,#fae6e2 17%,#f1c3ba 22%,#e6a497 28%,#e2998b 34%,#e2998b 46%,#e9ada1 52%,#efbeb5 58%,#f8ddd8 64%,#eaebf5 70%,#b4badd 76%,#8c97ca 82%,#5c71b5 88%,#2452a3 93%,#0c4c9f 97%,#0c4c9f)}.av{background:linear-gradient(90deg,#7987c2,#939ccd 4%,#c3c7e3 8%,#e2e4f2 12%,#fcefed 17%,#f0c0b7 22%,#e6a497 28%,#e19789 34%,#e19789 40%,#e09487 46%,#e8a89c 52%,#edb8ad 58%,#f5d2cb 64%,#f7f7fb 70%,#bdc1e0 76%,#959ece 82%,#6779ba 88%,#3358a7 93%,#0c4c9f 97%,#0c4c9f)}.aw{background:linear-gradient(90deg,#7584c0,#9da6d2 4%,#cbcee7 8%,#eaebf5 12%,#fae4e0 17%,#edb8ad 22%,#e2998b 28%,#de8e80 34%,#de8e80 40%,#de9082 46%,#e8a89c 52%,#f0c0b7 58%,#f9dfdb 64%,#eeeff7 70%,#b6bcde 76%,#8c97ca 82%,#5e73b6 88%,#2452a3 93%,#0c4c9f 97%,#0c4c9f)}.ax{background:linear-gradient(90deg,#7080be,#9da6d2 4%,#cdd0e8 8%,#eeeff7 12%,#f8dbd5 17%,#ebb1a6 22%,#e19789 28%,#de9082 34%,#df9284 40%,#de8e80 46%,#e8a89c 52%,#efbeb5 58%,#f8ddd8 64%,#ecedf6 70%,#b4badd 76%,#8c97ca 82%,#596fb4 88%,#0c4c9f 93%,#0c4c9f)}.ay{background:linear-gradient(90deg,#97a0cf,#c7cbe5 4%,#e2e4f2 8%,#ffffff 12%,#f3c9c1 17%,#e8a89c 22%,#dc897b 28%,#de9082 34%,#df9284 40%,#e2998b 46%,#ebb1a6 52%,#f5d2cb 58%,#fdf6f4 64%,#cdd0e8 70%,#9fa7d3 76%,#7080be 82%,#2f57a6 88%,#0c4c9f 93%,#0c4c9f)}.az{background:linear-gradient(90deg,#939ccd,#c3c7e3 4%,#e2e4f2 8%,#fdfdfe 12%,#f3cbc4 17%,#e8a89c 22%,#de8e80 28%,#e2998b 34%,#e2998b 40%,#e49d90 46%,#edb5ab 52%,#f5d2cb 58%,#fdf1ef 64%,#d3d6eb 70%,#a6add6 76%,#7584c0 82%,#3358a7 88%,#0c4c9f 93%,#0c4c9f)}.aA{background:linear-gradient(90deg,#8692c8,#bbbfdf 4%,#dee0f0 8%,#fbfbfd 12%,#f5d2cb 17%,#ecb3a8 22%,#e19789 28%,#e19789 40%,#e39b8e 46%,#edb5ab 52%,#f3c9c1 58%,#fbebe7 64%,#dadcee 70%,#aab1d8 76%,#7b89c3 82%,#3c5daa 88%,#0c4c9f 93%,#0c4c9f)}.aB{background:linear-gradient(90deg,#9fa7d3,#cbcee7 4%,#eeeff7 8%,#fdf1ef 12%,#f4cec6 17%,#edb5ab 22%,#e49d90 28%,#e6a497 34%,#e39b8e 40%,#e5a295 46%,#efbcb2 52%,#f7d9d3 58%,#fefafa 64%,#cbcee7 70%,#9fa7d3 76%,#7282bf 82%,#365aa8 88%,#0c4c9f 93%,#0c4c9f)}.aC{background:linear-gradient(90deg,#e5a295,#e59f93 4%,#e5a295 8%,#e7a69a 12%,#e7a69a 17%,#e6a497 22%,#e9ada1 28%,#ecb3a8 34%,#ecb3a8 40%,#efbcb2 46%,#f0c0b7 52%,#f6d4ce 58%,#fef8f7 64%,#cbcee7 70%,#9da6d2 76%,#7080be 82%,#2f57a6 88%,#0c4c9f 93%,#0c4c9f)}.aD{background:linear-gradient(90deg,#e59f93,#e5a295 4%,#e6a497 8%,#e6a497 12%,#e5a295 17%,#e59f93 22%,#e6a497 28%,#e9aa9f 34%,#e9ada1 40%,#edb5ab 46%,#f0c0b7 52%,#f7d9d3 58%,#fdfdfe 64%,#c1c5e2 70%,#8c97ca 76%,#5c71b5 82%,#0c4c9f 88%,#0c4c9f)}.aE{background:linear-gradient(90deg,#e7a69a,#e6a497 4%,#e5a295 8%,#e7a69a 12%,#e7a69a 17%,#e6a497 22%,#e7a69a 28%,#eaafa3 34%,#ebb1a6 40%,#edb8ad 46%,#f0c0b7 52%,#f6d7d0 58%,#ffffff 64%,#c5c9e4 70%,#959ece 76%,#6074b7 82%,#0c4c9f 88%,#0c4c9f)}.aF{background:linear-gradient(90deg,#ebb1a6,#eaafa3 4%,#e9ada1 8%,#ebb1a6 12%,#ebb1a6 17%,#e8a89c 22%,#eaafa3 28%,#edb8ad 34%,#edb8ad 40%,#efbeb5 46%,#f5d0c9 52%,#fbe8e5 58%,#e4e6f3 64%,#b6bcde 70%,#8692c8 76%,#526ab1 82%,#2c55a5 88%,#0c4c9f 93%,#0c4c9f)}.aG{background:linear-gradient(90deg,#edb5ab,#ebb1a6 4%,#e9ada1 8%,#eaafa3 12%,#eaafa3 17%,#e8a89c 22%,#e9aa9f 28%,#ecb3a8 34%,#edb8ad 40%,#f0c0b7 46%,#f2c7bf 52%,#f9dfdb 58%,#fbfbfd 64%,#c7cbe5 70%,#9da6d2 76%,#6e7fbd 82%,#3c5daa 88%,#2854a4 93%,#144ea0 97%,#144ea0)}.aH{background:linear-gradient(90deg,#e9ada1,#e9aa9f 4%,#e9ada1 8%,#eaafa3 12%,#e9aa9f 17%,#e8a89c 22%,#e9ada1 28%,#ecb3a8 34%,#eebab0 40%,#f0c0b7 46%,#f1c5bc 52%,#f7d9d3 58%,#fefafa 64%,#cbcee7 70%,#99a2d0 76%,#6376b8 82%,#2452a3 88%,#0c4c9f 93%,#0c4c9f)}.aI{background:linear-gradient(90deg,#e7a69a,#e5a295 4%,#e5a295 8%,#e6a497 12%,#e5a295 17%,#e5a295 22%,#e7a69a 28%,#e9ada1 34%,#eaafa3 40%,#edb5ab 46%,#f0c0b7 52%,#f8ddd8 58%,#fbfbfd 64%,#c5c9e4 70%,#8c97ca 76%,#4764ad 82%,#0c4c9f 88%,#0c4c9f)}.aJ{background:linear-gradient(90deg,#e59f93,#e49d90 4%,#e5a295 8%,#e5a295 12%,#e49d90 17%,#e09487 22%,#e2998b 28%,#e6a497 34%,#e9aa9f 40%,#ebb1a6 46%,#eebab0 52%,#f6d4ce 58%,#fcefed 64%,#d3d6eb 70%,#97a0cf 76%,#596fb4 82%,#0c4c9f 88%,#0c4c9f)}.aK{background:linear-gradient(90deg,#e7a69a,#e8a89c 4%,#e9aa9f 8%,#e6a497 12%,#e49d90 17%,#e49d90 22%,#e6a497 28%,#e9aa9f 34%,#e9aa9f 40%,#e9ada1 46%,#edb5ab 52%,#f0c0b7 58%,#f7d9d3 64%,#fdfdfe 70%,#bdc1e0 76%,#8490c7 82%,#4a65ae 88%,#0c4c9f 93%,#0c4c9f)}.aL{background:linear-gradient(90deg,#e6a497,#e5a295 4%,#e59f93 8%,#e2998b 12%,#e39b8e 17%,#e39b8e 22%,#e59f93 28%,#e7a69a 34%,#e9aa9f 40%,#ebb1a6 46%,#edb5ab 52%,#efbeb5 58%,#f6d7d0 64%,#fdf6f4 70%,#cbcee7 76%,#959ece 82%,#5c71b5 88%,#144ea0 93%,#0c4c9f 97%,#0c4c9f)}.aM{background:linear-gradient(90deg,#e2998b,#e2998b 4%,#e19789 8%,#df9284 12%,#e09487 17%,#e19789 22%,#e2998b 28%,#e49d90 34%,#e6a497 40%,#e9ada1 46%,#ebb1a6 52%,#eebab0 58%,#f5d2cb 64%,#fdf6f4 70%,#c7cbe5 76%,#8f99cb 82%,#526ab1 88%,#0c4c9f 93%,#0c4c9f)}.aN{background:linear-gradient(90deg,#e19789,#e2998b 4%,#e19789 8%,#de8e80 12%,#de8e80 17%,#e19789 22%,#e39b8e 28%,#e59f93 34%,#e7a69a 40%,#e9aa9f 46%,#ebb1a6 52%,#eebab0 58%,#f5d2cb 64%,#fdf1ef 70%,#cdd0e8 76%,#919bcc 82%,#4d67af 88%,#0c4c9f 93%,#0c4c9f)}.aO{background:linear-gradient(90deg,#e59f93,#e5a295 4%,#e59f93 8%,#df9284 12%,#de8e80 17%,#e39b8e 22%,#e6a497 28%,#e7a69a 34%,#e7a69a 40%,#eaafa3 46%,#edb8ad 52%,#f1c3ba 58%,#f9dfdb 64%,#f5f5fa 70%,#bfc3e1 76%,#8692c8 82%,#4260ac 88%,#0c4c9f 93%,#0c4c9f)}.aP{background:linear-gradient(90deg,#e49d90,#e6a497 4%,#e5a295 8%,#df9284 12%,#de9082 17%,#e2998b 22%,#e5a295 28%,#e7a69a 34%,#e9aa9f 40%,#ecb3a8 46%,#efbeb5 52%,#f5d0c9 58%,#fae6e2 64%,#e6e7f4 70%,#b4badd 76%,#7b89c3 82%,#3358a7 88%,#0c4c9f 93%,#0c4c9f)}.aQ{background:linear-gradient(90deg,#e2998b,#e39b8e 4%,#e19789 8%,#de8e80 12%,#de9082 17%,#e19789 22%,#e2998b 28%,#e59f93 34%,#e8a89c 40%,#eaafa3 46%,#edb8ad 52%,#efbeb5 58%,#f8dbd5 64%,#ffffff 70%,#c9cde6 76%,#959ece 82%,#4f69b0 88%,#0c4c9f 93%,#0c4c9f)}.aR{background:linear-gradient(90deg,#e09487,#e19789 4%,#e19789 8%,#df9284 12%,#df9284 17%,#e19789 22%,#e49d90 28%,#e7a69a 34%,#eaafa3 40%,#ebb1a6 46%,#edb5ab 52%,#f0c0b7 58%,#f7d9d3 64%,#fdf6f4 70%,#cdd0e8 76%,#939ccd 82%,#4d67af 88%,#0c4c9f 93%,#0c4c9f)}.aS{background:linear-gradient(90deg,#d5d8ec,#dcdeef 4%,#e6e7f4 8%,#eaebf5 12%,#f3f3f9 17%,#fffdfc 22%,#fae6e2 28%,#f6d4ce 34%,#eebab0 40%,#e9aa9f 46%,#e6a497 52%,#e2998b 58%,#e9ada1 64%,#f1c5bc 70%,#fbebe7 76%,#dee0f0 82%,#a2a9d4 88%,#4764ad 93%,#365aa8 97%,#3358a7)}.aT{background:linear-gradient(90deg,#dee0f0,#e4e6f3 4%,#eaebf5 8%,#f0f1f8 12%,#ffffff 17%,#fcedea 22%,#f9dfdb 28%,#f4cec6 34%,#eebab0 40%,#ebb1a6 46%,#e8a89c 52%,#e5a295 58%,#ecb3a8 64%,#f6d4ce 70%,#fbfbfd 76%,#c3c7e3 82%,#7d8bc4 88%,#4a65ae 93%,#4260ac 97%,#3f5fab)}.aU{background:linear-gradient(90deg,#dcdeef,#e8e9f5 4%,#f0f1f8 8%,#f5f5fa 12%,#fefafa 17%,#fbe8e5 22%,#f7d9d3 28%,#f3cbc4 34%,#edb8ad 40%,#e9ada1 46%,#e7a69a 52%,#eaafa3 58%,#efbeb5 64%,#fae4e0 70%,#ecedf6 76%,#b4badd 82%,#6376b8 88%,#4764ad 93%,#4562ad 97%,#3f5fab)}.aV{background:linear-gradient(90deg,#e2e4f2,#eaebf5 4%,#f3f3f9 8%,#fdfdfe 12%,#fcedea 17%,#f8ddd8 22%,#f5d0c9 28%,#f1c3ba 34%,#ebb1a6 40%,#e6a497 46%,#e19789 52%,#e9aa9f 58%,#f2c7bf 64%,#fdf1ef 70%,#d5d8ec 76%,#97a0cf 82%,#3c5daa 88%,#3358a7 93%,#2f57a6 97%,#2f57a6)}.aW{background:linear-gradient(90deg,#e8e9f5,#ecedf6 4%,#f0f1f8 8%,#fbfbfd 12%,#fdf1ef 17%,#fae4e0 22%,#f5d0c9 28%,#f0c0b7 34%,#ecb3a8 40%,#e8a89c 46%,#e2998b 52%,#e7a69a 58%,#f1c3ba 64%,#fcedea 70%,#dadcee 76%,#959ece 82%,#2f57a6 88%,#2c55a5 93%,#2c55a5 97%,#2854a4)}.aX{background:linear-gradient(90deg,#ecedf6,#eeeff7 4%,#f7f7fb 8%,#fdfdfe 12%,#fdf4f2 17%,#fae4e0 22%,#f5d0c9 28%,#efbcb2 34%,#eaafa3 40%,#e6a497 46%,#e2998b 52%,#e8a89c 58%,#f2c7bf 64%,#fdf6f4 70%,#cbcee7 76%,#828ec6 82%,#2854a4 88%,#1f51a2 93%,#2c55a5 97%,#2c55a5)}.aY{background:linear-gradient(90deg,#e6e7f4,#ecedf6 4%,#f0f1f8 8%,#f5f5fa 12%,#fef8f7 17%,#fae4e0 22%,#f3c9c1 28%,#ebb1a6 34%,#e49d90 40%,#df9284 46%,#d98374 52%,#e19789 58%,#edb8ad 64%,#fcedea 70%,#d1d4ea 76%,#8a95c9 82%,#0c4c9f 88%,#0c4c9f)}.aZ{background:linear-gradient(90deg,#e0e2f1,#eaebf5 4%,#f0f1f8 8%,#f0f1f8 12%,#fefafa 17%,#f9e2dd 22%,#f3c9c1 28%,#e8a89c 34%,#df9284 40%,#dc897b 46%,#d67c6d 52%,#de8e80 58%,#ecb3a8 64%,#fbebe7 70%,#cfd2e9 76%,#8490c7 82%,#0c4c9f 88%,#0c4c9f)}.a0{background:linear-gradient(90deg,#e0e2f1,#eaebf5 4%,#f0f1f8 8%,#f3f3f9 12%,#fdf4f2 17%,#f8dbd5 22%,#f3c9c1 28%,#e9ada1 34%,#e2998b 40%,#de9082 46%,#da8576 52%,#e09487 58%,#edb8ad 64%,#fdf1ef 70%,#c3c7e3 76%,#7282bf 82%,#0c4c9f 88%,#0c4c9f)}.a1{background:linear-gradient(90deg,#dcdeef,#e4e6f3 4%,#e8e9f5 8%,#ecedf6 12%,#ffffff 17%,#fbe8e5 22%,#f5d2cb 28%,#edb8ad 34%,#e59f93 40%,#e2998b 46%,#dc897b 52%,#dc897b 58%,#e49d90 64%,#f7d9d3 70%,#e2e4f2 76%,#9da6d2 82%,#144ea0 88%,#0c4c9f 93%,#0c4c9f)}.a2{background:linear-gradient(90deg,#d5d8ec,#dcdeef 4%,#e0e2f1 8%,#e4e6f3 12%,#f3f3f9 17%,#fdf1ef 22%,#f7d9d3 28%,#efbeb5 34%,#e7a69a 40%,#e39b8e 46%,#dc897b 52%,#d77e6f 58%,#e09487 64%,#f3c9c1 70%,#f5f5fa 76%,#aeb4da 82%,#4764ad 88%,#0c4c9f 93%,#0c4c9f)}.a3{background:linear-gradient(90deg,#d1d4ea,#d5d8ec 4%,#dcdeef 8%,#e0e2f1 12%,#eaebf5 17%,#fefafa 22%,#f8dbd5 28%,#efbeb5 34%,#e8a89c 40%,#e19789 46%,#d88172 52%,#d17162 58%,#db8779 64%,#edb8ad 70%,#fefafa 76%,#bbbfdf 82%,#5e73b6 88%,#0c4c9f 93%,#0c4c9f)}.a4{background:linear-gradient(90deg,#d8daed,#d3d6eb 4%,#dee0f0 8%,#e8e9f5 12%,#f3f3f9 17%,#fdf1ef 22%,#f6d4ce 28%,#eebab0 34%,#e7a69a 40%,#e2998b 46%,#d88172 52%,#d17162 58%,#da8576 64%,#edb5ab 70%,#fef8f7 76%,#bdc1e0 82%,#6376b8 88%,#0c4c9f 93%,#0c4c9f)}.a5{background:linear-gradient(90deg,#d3d6eb,#cfd2e9 4%,#dcdeef 8%,#e6e7f4 12%,#f0f1f8 17%,#fdf4f2 22%,#f5d0c9 28%,#edb5ab 34%,#e7a69a 40%,#e09487 46%,#d77e6f 52%,#cd6b5b 58%,#d77e6f 64%,#e7a69a 70%,#fae6e2 76%,#c9cde6 82%,#7785c1 88%,#0c4c9f 93%,#0c4c9f)}.a6{background:linear-gradient(90deg,#cfd2e9,#cdd0e8 4%,#dcdeef 8%,#e8e9f5 12%,#f5f5fa 17%,#fdf4f2 22%,#f5d0c9 28%,#eebab0 34%,#e8a89c 40%,#df9284 46%,#d88172 52%,#d06f5f 58%,#d98374 64%,#e6a497 70%,#f9dfdb 76%,#cfd2e9 82%,#7d8bc4 88%,#0c4c9f 93%,#0c4c9f)}.a7{background:linear-gradient(90deg,#d8daed,#d3d6eb 4%,#d8daed 8%,#e2e4f2 12%,#e8e9f5 17%,#f5f5fa 22%,#fae6e2 28%,#f3cbc4 34%,#efbeb5 40%,#e9aa9f 46%,#e19789 52%,#d98374 58%,#d67c6d 64%,#df9284 70%,#f1c3ba 76%,#fdfdfe 82%,#b4badd 88%,#6c7dbc 93%,#0c4c9f 97%,#0c4c9f)}.a8{background:linear-gradient(90deg,#1f51a2,#3f5fab 4%,#6376b8 8%,#97a0cf 12%,#c9cde6 17%,#f9f9fc 22%,#f3c9c1 28%,#f0c0b7 34%,#edb8ad 40%,#eaafa3 46%,#e9ada1 52%,#e9aa9f 58%,#e9ada1 64%,#ecb3a8 70%,#ecb3a8 76%,#f1c3ba 82%,#fefafa 88%,#e6e7f4 93%,#dee0f0 97%,#dadcee)}.a9{background:linear-gradient(90deg,#0c4c9f,#1a4fa1 4%,#3f5fab 8%,#7d8bc4 12%,#b6bcde 17%,#eaebf5 22%,#f5d2cb 28%,#eebab0 34%,#ecb3a8 40%,#e9ada1 46%,#e6a497 52%,#e7a69a 58%,#e8a89c 64%,#e9ada1 70%,#e9ada1 76%,#ecb3a8 82%,#fcedea 88%,#e6e7f4 93%,#dee0f0 97%,#d5d8ec)}.ba{background:linear-gradient(90deg,#3f5fab,#4562ad 4%,#596fb4 8%,#8f99cb 12%,#bbbfdf 17%,#e8e9f5 22%,#f6d4ce 28%,#f0c0b7 34%,#eebab0 40%,#ecb3a8 46%,#eaafa3 52%,#ebb1a6 58%,#ecb3a8 64%,#edb8ad 70%,#eebab0 76%,#eebab0 82%,#fbe8e5 88%,#ecedf6 93%,#e4e6f3 97%,#dee0f0)}.bb{background:linear-gradient(90deg,#2f57a6,#365aa8 4%,#4f69b0 8%,#8490c7 12%,#b6bcde 17%,#eaebf5 22%,#f5d2cb 28%,#efbcb2 34%,#ecb3a8 40%,#e9aa9f 46%,#e8a89c 52%,#ebb1a6 58%,#edb5ab 64%,#edb5ab 70%,#ecb3a8 76%,#edb5ab 82%,#fbebe7 88%,#ecedf6 93%,#e8e9f5 97%,#e0e2f1)}.bc{background:linear-gradient(90deg,#3c5daa,#4260ac 4%,#526ab1 8%,#7b89c3 12%,#b0b6db 17%,#e4e6f3 22%,#f8ddd8 28%,#f0c0b7 34%,#eebab0 40%,#ebb1a6 46%,#e9aa9f 52%,#ebb1a6 58%,#edb8ad 64%,#ecb3a8 70%,#ebb1a6 76%,#edb5ab 82%,#fae4e0 88%,#f3f3f9 93%,#ecedf6 97%,#e4e6f3)}.bd{background:linear-gradient(90deg,#4562ad,#5c71b5 4%,#808cc5 8%,#a6add6 12%,#cdd0e8 17%,#ffffff 22%,#f1c5bc 28%,#f0c0b7 34%,#efbcb2 40%,#ecb3a8 46%,#ebb1a6 52%,#edb8ad 58%,#efbeb5 64%,#efbcb2 70%,#edb8ad 76%,#f3c9c1 82%,#ffffff 88%,#eaebf5 93%,#e6e7f4 97%,#e4e6f3)}.be{background:linear-gradient(90deg,#2854a4,#3f5fab 4%,#6376b8 8%,#959ece 12%,#c5c9e4 17%,#f9f9fc 22%,#f2c7bf 28%,#f0c0b7 34%,#edb5ab 40%,#e9aa9f 46%,#e7a69a 52%,#ebb1a6 58%,#edb8ad 64%,#edb8ad 70%,#edb5ab 76%,#f0c0b7 82%,#fef8f7 88%,#e8e9f5 93%,#e2e4f2 97%,#e2e4f2)}.bf{background:linear-gradient(90deg,#0c4c9f,#1a4fa1 4%,#4562ad 8%,#7d8bc4 12%,#b6bcde 17%,#f3f3f9 22%,#f1c5bc 28%,#ecb3a8 34%,#e9aa9f 40%,#e5a295 46%,#e49d90 52%,#e7a69a 58%,#e9aa9f 64%,#e9ada1 70%,#e9ada1 76%,#edb5ab 82%,#fbebe7 88%,#ecedf6 93%,#e0e2f1 97%,#dcdeef)}.bg{background:linear-gradient(90deg,#0c4c9f,#0c4c9f 4%,#1f51a2 8%,#7080be 12%,#b2b8dc 17%,#f7f7fb 22%,#eebab0 28%,#e7a69a 34%,#e59f93 40%,#e2998b 46%,#de9082 52%,#df9284 58%,#e2998b 64%,#e59f93 70%,#e7a69a 76%,#eaafa3 82%,#fcedea 88%,#e4e6f3 93%,#dadcee 97%,#cfd2e9)}.bh{background:linear-gradient(90deg,#0c4c9f,#0c4c9f 4%,#4764ad 8%,#8490c7 12%,#bfc3e1 17%,#fefafa 22%,#ecb3a8 28%,#ebb1a6 34%,#e7a69a 40%,#e2998b 46%,#de9082 52%,#e2998b 58%,#e49d90 64%,#e5a295 70%,#e7a69a 76%,#edb5ab 82%,#fefafa 88%,#dadcee 93%,#cdd0e8 97%,#cdd0e8)}.bi{background:linear-gradient(90deg,#0c4c9f,#0c4c9f 4%,#365aa8 8%,#7785c1 12%,#b6bcde 17%,#f7f7fb 22%,#f2c7bf 28%,#edb8ad 34%,#eaafa3 40%,#e5a295 46%,#e19789 52%,#e49d90 58%,#e6a497 64%,#e7a69a 70%,#e9aa9f 76%,#eaafa3 82%,#fbe8e5 88%,#e4e6f3 93%,#dadcee 97%,#dadcee)}.bj{background:linear-gradient(90deg,#0c4c9f,#1f51a2 4%,#5c71b5 8%,#919bcc 12%,#c3c7e3 17%,#fdfdfe 22%,#efbeb5 28%,#efbcb2 34%,#edb8ad 40%,#e9ada1 46%,#e6a497 52%,#e7a69a 58%,#e8a89c 64%,#e9ada1 70%,#ebb1a6 76%,#f0c0b7 82%,#fefafa 88%,#e2e4f2 93%,#d8daed 97%,#d8daed)}.bk{background:linear-gradient(90deg,#0c4c9f,#0c4c9f 4%,#6e7fbd 8%,#a6add6 12%,#dcdeef 17%,#fae4e0 22%,#ecb3a8 28%,#eaafa3 34%,#e7a69a 40%,#e5a295 46%,#e5a295 58%,#e6a497 64%,#e7a69a 70%,#e6a497 76%,#f3c9c1 82%,#ecedf6 88%,#dcdeef 93%,#cfd2e9 97%,#cfd2e9)}.bl{background:linear-gradient(90deg,#144ea0,#5e73b6 4%,#9da6d2 8%,#c9cde6 12%,#fbfbfd 17%,#f2c7bf 22%,#edb5ab 28%,#ebb1a6 34%,#e8a89c 40%,#e6a497 46%,#e7a69a 52%,#e9aa9f 58%,#eaafa3 64%,#e9aa9f 70%,#eaafa3 76%,#fbebe7 82%,#e4e6f3 88%,#dadcee 93%,#d1d4ea 97%,#cbcee7)}.bm{background:linear-gradient(90deg,#144ea0,#546cb2 4%,#959ece 8%,#bdc1e0 12%,#ecedf6 17%,#f6d7d0 22%,#edb8ad 28%,#ecb3a8 34%,#ebb1a6 40%,#e8a89c 46%,#e7a69a 52%,#e9aa9f 58%,#eaafa3 64%,#eaafa3 70%,#ebb1a6 76%,#fae4e0 82%,#e8e9f5 88%,#dee0f0 93%,#d5d8ec 97%,#d1d4ea)}.bn{background:linear-gradient(90deg,#0c4c9f,#395ca9 4%,#808cc5 8%,#aeb4da 12%,#e4e6f3 17%,#f9dfdb 22%,#edb8ad 28%,#eaafa3 34%,#e9aa9f 40%,#e5a295 46%,#e49d90 52%,#e59f93 58%,#e7a69a 64%,#e9aa9f 70%,#e9aa9f 76%,#f8dbd5 82%,#e2e4f2 88%,#d5d8ec 93%,#d1d4ea 97%,#d5d8ec)}.bo{background:linear-gradient(90deg,#6c7dbc,#939ccd 4%,#aeb4da 8%,#c9cde6 12%,#f7f7fb 17%,#f8ddd8 22%,#f1c3ba 28%,#e9ada1 34%,#e39b8e 40%,#de8e80 46%,#d98374 52%,#dd8c7d 58%,#e59f93 64%,#f3c9c1 70%,#f5f5fa 76%,#b2b8dc 82%,#697bbb 88%,#2854a4 93%,#0c4c9f 97%,#0c4c9f)}.bp{background:linear-gradient(90deg,#4764ad,#7b89c3 4%,#9ba4d1 8%,#b8bddf 12%,#e4e6f3 17%,#fcefed 22%,#f3c9c1 28%,#eaafa3 34%,#e39b8e 40%,#de8e80 46%,#d88172 52%,#d98374 58%,#dc897b 64%,#ebb1a6 70%,#fcefed 76%,#cbcee7 82%,#8894c8 88%,#3c5daa 93%,#144ea0 97%,#0c4c9f)}.bq{background:linear-gradient(90deg,#4a65ae,#7b89c3 4%,#97a0cf 8%,#b4badd 12%,#e2e4f2 17%,#fdf1ef 22%,#f4cec6 28%,#ecb3a8 34%,#e49d90 40%,#de8e80 46%,#d77e6f 52%,#d88172 58%,#dd8c7d 64%,#edb5ab 70%,#fcefed 76%,#cfd2e9 82%,#8c97ca 88%,#4260ac 93%,#144ea0 97%,#0c4c9f)}.br{background:linear-gradient(90deg,#3c5daa,#7080be 4%,#919bcc 8%,#b2b8dc 12%,#dcdeef 17%,#fdf6f4 22%,#f2c7bf 28%,#eaafa3 34%,#e39b8e 40%,#de9082 46%,#d88172 52%,#d67c6d 58%,#db8779 64%,#edb8ad 70%,#fdf1ef 76%,#cbcee7 82%,#8a95c9 88%,#4562ad 93%,#1a4fa1 97%,#0c4c9f)}.bs{background:linear-gradient(90deg,#5c71b5,#8490c7 4%,#a4abd5 8%,#c3c7e3 12%,#f5f5fa 17%,#f7d9d3 22%,#edb8ad 28%,#e6a497 34%,#de9082 40%,#d88172 46%,#d17162 52%,#d37666 58%,#de9082 64%,#f2c7bf 70%,#eeeff7 76%,#aab1d8 82%,#6074b7 88%,#0c4c9f 93%,#0c4c9f)}.bt{background:linear-gradient(90deg,#7584c0,#97a0cf 4%,#b6bcde 8%,#d5d8ec 12%,#fef8f7 17%,#f3cbc4 22%,#ebb1a6 28%,#e5a295 34%,#df9284 40%,#d98374 46%,#d67c6d 52%,#d88172 58%,#e5a295 64%,#f7d9d3 70%,#e2e4f2 76%,#9ba4d1 82%,#4a65ae 88%,#0c4c9f 93%,#0c4c9f)}.bu{background:linear-gradient(90deg,#828ec6,#a2a9d4 4%,#bfc3e1 8%,#dee0f0 12%,#fdf6f4 17%,#f3cbc4 22%,#eaafa3 28%,#e39b8e 34%,#de8e80 40%,#d88172 46%,#d77e6f 52%,#d98374 58%,#e8a89c 64%,#f9dfdb 70%,#dcdeef 76%,#97a0cf 82%,#3f5fab 88%,#0c4c9f 93%,#0c4c9f)}.bv{background:linear-gradient(90deg,#7282bf,#919bcc 4%,#b0b6db 8%,#cfd2e9 12%,#fdfdfe 17%,#f5d2cb 22%,#ecb3a8 28%,#e39b8e 34%,#de9082 40%,#db8779 46%,#d77e6f 52%,#d77e6f 58%,#e2998b 64%,#f5d0c9 70%,#e8e9f5 76%,#9da6d2 82%,#4a65ae 88%,#0c4c9f 93%,#0c4c9f)}.bw{background:linear-gradient(90deg,#7584c0,#8f99cb 4%,#acb2d9 8%,#cdd0e8 12%,#fdfdfe 17%,#f5d2cb 22%,#ecb3a8 28%,#e49d90 34%,#df9284 40%,#de9082 46%,#d98374 52%,#d57a6b 58%,#e09487 64%,#f3c9c1 70%,#f5f5fa 76%,#aab1d8 82%,#526ab1 88%,#0c4c9f 93%,#0c4c9f 97%,#1a4fa1)}.bx{background:linear-gradient(90deg,#526ab1,#7584c0 4%,#939ccd 8%,#b2b8dc 12%,#e2e4f2 17%,#fae6e2 22%,#eebab0 28%,#e5a295 34%,#de9082 40%,#dc897b 46%,#d47868 52%,#d06f5f 58%,#d88172 64%,#ecb3a8 70%,#fdf4f2 76%,#b8bddf 82%,#6779ba 88%,#0c4c9f 93%,#0c4c9f)}.by{background:linear-gradient(90deg,#365aa8,#5e73b6 4%,#808cc5 8%,#a4abd5 12%,#cfd2e9 17%,#fffdfc 22%,#f3c9c1 28%,#e9ada1 34%,#de9082 40%,#db8779 46%,#d88172 52%,#d37666 58%,#d98374 64%,#e9aa9f 70%,#f8dbd5 76%,#dadcee 82%,#919bcc 88%,#4f69b0 93%,#1a4fa1 97%,#0c4c9f)}.bz{background:linear-gradient(90deg,#0c4c9f,#0c4c9f 4%,#526ab1 8%,#828ec6 12%,#b0b6db 17%,#e6e7f4 22%,#f8dbd5 28%,#ecb3a8 34%,#df9284 40%,#d98374 46%,#d47868 52%,#ca6454 58%,#d06f5f 64%,#dd8c7d 70%,#efbcb2 76%,#fbfbfd 82%,#aab1d8 88%,#6779ba 93%,#0c4c9f 97%,#0c4c9f)}.bA{background:linear-gradient(90deg,#0c4c9f,#0c4c9f 8%,#5e73b6 12%,#959ece 17%,#cbcee7 22%,#fae6e2 28%,#ecb3a8 34%,#e2998b 40%,#d77e6f 46%,#cd6b5b 52%,#c15243 58%,#c65b4b 64%,#d06f5f 70%,#e5a295 76%,#fbe8e5 82%,#bfc3e1 88%,#7584c0 93%,#144ea0 97%,#0c4c9f)}.bB{background:linear-gradient(90deg,#0c4c9f,#0c4c9f 8%,#365aa8 12%,#7785c1 17%,#a8afd7 22%,#ecedf6 28%,#f5d2cb 34%,#eaafa3 40%,#e09487 46%,#d57a6b 52%,#c96252 58%,#c75d4e 64%,#d17162 70%,#dc897b 76%,#f0c0b7 82%,#eeeff7 88%,#a8afd7 93%,#6779ba 97%,#2854a4)}.bC{background:linear-gradient(90deg,#0c4c9f,#0c4c9f 8%,#4d67af 12%,#8490c7 17%,#b4badd 22%,#f7f7fb 28%,#f3c9c1 34%,#e8a89c 40%,#e09487 46%,#da8576 52%,#cf6d5d 58%,#cb6656 64%,#d27364 70%,#e09487 76%,#f5d0c9 82%,#e2e4f2 88%,#9fa7d3 93%,#6376b8 97%,#1a4fa1)}.bD{background:linear-gradient(90deg,#0c4c9f,#0c4c9f 8%,#4d67af 12%,#808cc5 17%,#acb2d9 22%,#eaebf5 28%,#f6d7d0 34%,#ecb3a8 40%,#e49d90 46%,#dd8c7d 52%,#d67c6d 58%,#d37666 64%,#d88172 70%,#df9284 76%,#f1c5bc 82%,#f5f5fa 88%,#b6bcde 93%,#808cc5 97%,#4a65ae)}.bE{background:linear-gradient(90deg,#4764ad,#6376b8 4%,#7b89c3 8%,#8c97ca 12%,#9fa7d3 17%,#b8bddf 22%,#ecedf6 28%,#f6d4ce 34%,#ecb3a8 40%,#e2998b 46%,#d98374 52%,#d37666 58%,#d88172 64%,#e19789 70%,#efbcb2 76%,#fcefed 82%,#c5c9e4 88%,#959ece 93%,#7d8bc4 97%,#7b89c3)}.bF{background:linear-gradient(90deg,#3f5fab,#576eb3 4%,#6c7dbc 8%,#7b89c3 12%,#919bcc 17%,#b0b6db 22%,#e2e4f2 28%,#f9dfdb 34%,#eebab0 40%,#e49d90 46%,#dc897b 52%,#d47868 58%,#d27364 64%,#dc897b 70%,#eaafa3 76%,#f8ddd8 82%,#dcdeef 88%,#a6add6 93%,#8894c8 97%,#7785c1)}.bG{background:linear-gradient(90deg,#0c4c9f,#3358a7 4%,#526ab1 8%,#6578b9 12%,#808cc5 17%,#a2a9d4 22%,#d8daed 28%,#fae6e2 34%,#eebab0 40%,#df9284 46%,#d47868 52%,#c96252 58%,#c65b4b 64%,#d37666 70%,#e59f93 76%,#f6d4ce 82%,#e0e2f1 88%,#a2a9d4 93%,#7785c1 97%,#5e73b6)}.bH{background:linear-gradient(90deg,#0c4c9f,#2452a3 4%,#4764ad 8%,#6074b7 12%,#808cc5 17%,#9fa7d3 22%,#dadcee 28%,#f7d9d3 34%,#e9ada1 40%,#dc897b 46%,#d06f5f 52%,#c75d4e 58%,#c65b4b 64%,#d67c6d 70%,#e6a497 76%,#f6d4ce 82%,#dadcee 88%,#959ece 93%,#697bbb 97%,#526ab1)}.bI{background:linear-gradient(90deg,#0c4c9f,#1a4fa1 4%,#4562ad 8%,#6578b9 12%,#8490c7 17%,#9da6d2 22%,#cfd2e9 28%,#f9e2dd 34%,#ebb1a6 40%,#de9082 46%,#d47868 52%,#c85f50 58%,#c35647 64%,#d47868 70%,#e59f93 76%,#f4cec6 82%,#e2e4f2 88%,#959ece 93%,#6c7dbc 97%,#5c71b5)}.bJ{background:linear-gradient(90deg,#144ea0,#395ca9 4%,#576eb3 8%,#7785c1 12%,#939ccd 17%,#a4abd5 22%,#dee0f0 28%,#f5d0c9 34%,#e6a497 40%,#db8779 46%,#d27364 52%,#c85f50 58%,#ca6454 64%,#da8576 70%,#ecb3a8 76%,#fae4e0 82%,#c7cbe5 88%,#8692c8 93%,#6074b7 97%,#5c71b5)}.bK{background:linear-gradient(90deg,#3c5daa,#526ab1 4%,#6e7fbd 8%,#8692c8 12%,#9ba4d1 17%,#aab1d8 22%,#e2e4f2 28%,#f5d2cb 34%,#e8a89c 40%,#de8e80 46%,#d57a6b 52%,#cf6d5d 58%,#d47868 64%,#e09487 70%,#efbeb5 76%,#fcedea 82%,#c5c9e4 88%,#8c97ca 93%,#6e7fbd 97%,#697bbb)}.bL{background:linear-gradient(90deg,#3f5fab,#526ab1 4%,#697bbb 8%,#8490c7 12%,#9ba4d1 17%,#aeb4da 22%,#e8e9f5 28%,#f4cec6 34%,#e8a89c 40%,#dc897b 46%,#d27364 52%,#cc6859 58%,#d27364 64%,#dd8c7d 70%,#edb8ad 76%,#fbebe7 82%,#c5c9e4 88%,#8c97ca 93%,#6e7fbd 97%,#6c7dbc)}.bM{background:linear-gradient(90deg,#6578b9,#7282bf 4%,#8692c8 8%,#97a0cf 12%,#a8afd7 17%,#b6bcde 22%,#e4e6f3 28%,#f8ddd8 34%,#edb8ad 40%,#e49d90 46%,#dd8c7d 52%,#d98374 58%,#dd8c7d 64%,#e59f93 70%,#f1c3ba 76%,#fcedea 82%,#d1d4ea 88%,#a4abd5 93%,#8a95c9 97%,#8490c7)}.bN{background:linear-gradient(90deg,#6578b9,#7080be 4%,#8490c7 8%,#959ece 12%,#a4abd5 17%,#b2b8dc 22%,#d5d8ec 28%,#fcefed 34%,#f1c5bc 40%,#e6a497 46%,#e09487 52%,#dd8c7d 58%,#db8779 64%,#e39b8e 70%,#efbcb2 76%,#f9dfdb 82%,#ecedf6 88%,#b8bddf 93%,#99a2d0 97%,#959ece)}.bO{background:linear-gradient(90deg,#6578b9,#7987c2 4%,#8894c8 8%,#959ece 12%,#a6add6 17%,#b6bcde 22%,#e0e2f1 28%,#fbe8e5 34%,#f0c0b7 40%,#e49d90 46%,#dc897b 52%,#da8576 58%,#de8e80 64%,#e5a295 70%,#f0c0b7 76%,#fbe8e5 82%,#e0e2f1 88%,#b2b8dc 93%,#97a0cf 97%,#959ece)}.bP{background:linear-gradient(90deg,#6779ba,#7785c1 4%,#8692c8 8%,#919bcc 12%,#9fa7d3 17%,#b2b8dc 22%,#cfd2e9 28%,#fef8f7 34%,#f3c9c1 40%,#e9ada1 46%,#e39b8e 52%,#de8e80 58%,#db8779 64%,#e49d90 70%,#edb8ad 76%,#f8dbd5 82%,#f3f3f9 88%,#bfc3e1 93%,#a4abd5 97%,#9da6d2)}.bQ{background:linear-gradient(90deg,#6779ba,#7282bf 4%,#8490c7 8%,#939ccd 12%,#a2a9d4 17%,#b2b8dc 22%,#cfd2e9 28%,#fef8f7 34%,#f3c9c1 40%,#ebb1a6 46%,#e6a497 52%,#e19789 58%,#de8e80 64%,#e49d90 70%,#ecb3a8 76%,#f8dbd5 82%,#f3f3f9 88%,#c5c9e4 93%,#acb2d9 97%,#a2a9d4)}.bR{background:linear-gradient(90deg,#576eb3,#697bbb 4%,#7d8bc4 8%,#8c97ca 12%,#9fa7d3 17%,#b2b8dc 22%,#d5d8ec 28%,#fdf1ef 34%,#f1c3ba 40%,#e7a69a 46%,#e39b8e 52%,#de9082 58%,#dc897b 64%,#e39b8e 70%,#edb5ab 76%,#f8dbd5 82%,#eeeff7 88%,#bfc3e1 93%,#a2a9d4 97%,#959ece)}.bS{background:linear-gradient(90deg,#6779ba,#7d8bc4 4%,#8f99cb 8%,#97a0cf 12%,#a8afd7 17%,#c3c7e3 22%,#eaebf5 28%,#f9dfdb 34%,#efbeb5 40%,#e9ada1 46%,#e9aa9f 52%,#e5a295 58%,#e49d90 64%,#e8a89c 70%,#f0c0b7 76%,#fae6e2 82%,#e2e4f2 88%,#b8bddf 93%,#a4abd5 97%,#99a2d0)}.bT{background:linear-gradient(90deg,#6c7dbc,#7785c1 4%,#8692c8 8%,#939ccd 12%,#a4abd5 17%,#bbbfdf 22%,#e0e2f1 28%,#fbe8e5 34%,#f0c0b7 40%,#e9ada1 46%,#e8a89c 52%,#e39b8e 58%,#e2998b 64%,#e7a69a 70%,#efbeb5 76%,#fae4e0 82%,#e6e7f4 88%,#bdc1e0 93%,#a6add6 97%,#9da6d2)}.bU{background:linear-gradient(90deg,#2452a3,#365aa8 4%,#7080be 8%,#8490c7 12%,#919bcc 17%,#9ba4d1 22%,#aab1d8 28%,#bfc3e1 34%,#d5d8ec 40%,#f5f5fa 46%,#fbebe7 52%,#f4cec6 58%,#efbeb5 64%,#ebb1a6 70%,#e9ada1 76%,#e7a69a 82%,#e49d90 88%,#df9284 93%,#dc897b 97%,#da8576)}.bV{background:linear-gradient(90deg,#4764ad,#5c71b5 4%,#8a95c9 8%,#97a0cf 12%,#9fa7d3 17%,#aeb4da 22%,#b8bddf 28%,#c9cde6 34%,#e0e2f1 40%,#fdfdfe 46%,#fae4e0 52%,#f3cbc4 58%,#f0c0b7 64%,#eebab0 70%,#edb8ad 76%,#e9ada1 82%,#e5a295 88%,#e19789 93%,#dd8c7d 97%,#dd8c7d)}.bW{background:linear-gradient(90deg,#144ea0,#2c55a5 4%,#6c7dbc 8%,#8692c8 12%,#959ece 17%,#a4abd5 22%,#aeb4da 28%,#bbbfdf 34%,#d1d4ea 40%,#eeeff7 46%,#fdf1ef 52%,#f6d4ce 58%,#f2c7bf 64%,#ecb3a8 70%,#e9ada1 76%,#e5a295 82%,#e19789 88%,#dd8c7d 93%,#d88172 97%,#d77e6f)}.bX{background:linear-gradient(90deg,#1f51a2,#6074b7 4%,#808cc5 8%,#939ccd 12%,#9da6d2 17%,#aeb4da 22%,#b6bcde 28%,#c5c9e4 34%,#e4e6f3 40%,#fdf6f4 46%,#f7d9d3 52%,#f4cec6 58%,#efbeb5 64%,#eaafa3 70%,#e8a89c 76%,#e49d90 82%,#de8e80 88%,#d98374 93%,#d57a6b 97%,#d67c6d)}.bY{background:linear-gradient(90deg,#0c4c9f,#0c4c9f 4%,#697bbb 8%,#808cc5 12%,#919bcc 17%,#9ba4d1 22%,#a4abd5 28%,#b6bcde 34%,#d5d8ec 40%,#fbfbfd 46%,#fae4e0 52%,#f3c9c1 58%,#ecb3a8 64%,#e5a295 70%,#e59f93 76%,#e09487 82%,#db8779 88%,#d57a6b 93%,#d06f5f 97%,#cf6d5d)}.bZ{background:linear-gradient(90deg,#0c4c9f,#0c4c9f 4%,#6578b9 8%,#7b89c3 12%,#8c97ca 17%,#9ba4d1 22%,#a6add6 28%,#bbbfdf 34%,#d5d8ec 40%,#fbfbfd 46%,#f9dfdb 52%,#f1c5bc 58%,#ebb1a6 64%,#e6a497 70%,#e6a497 76%,#e2998b 82%,#dc897b 88%,#d77e6f 93%,#d06f5f 97%,#cd6b5b)}.b0{background:linear-gradient(90deg,#0c4c9f,#0c4c9f 4%,#5c71b5 8%,#7b89c3 12%,#8f99cb 17%,#9ba4d1 22%,#a4abd5 28%,#b2b8dc 34%,#cbcee7 40%,#f0f1f8 46%,#fcedea 52%,#f4cec6 58%,#eebab0 64%,#eaafa3 70%,#e9aa9f 76%,#e2998b 82%,#dd8c7d 88%,#d77e6f 93%,#d17162 97%,#cc6859)}.b1{background:linear-gradient(90deg,#0c4c9f,#144ea0 4%,#596fb4 8%,#7282bf 12%,#828ec6 17%,#919bcc 22%,#a2a9d4 28%,#b8bddf 34%,#d8daed 40%,#fffdfc 46%,#f7d9d3 52%,#f0c0b7 58%,#e9aa9f 64%,#e49d90 70%,#e2998b 76%,#dd8c7d 82%,#d47868 88%,#cc6859 93%,#c75d4e 97%,#c75d4e)}.b2{background:linear-gradient(90deg,#0c4c9f,#0c4c9f 4%,#6074b7 8%,#7282bf 12%,#828ec6 17%,#919bcc 22%,#a2a9d4 28%,#b4badd 34%,#d1d4ea 40%,#fbfbfd 46%,#fae4e0 52%,#f3c9c1 58%,#ebb1a6 64%,#e6a497 70%,#e59f93 76%,#de8e80 82%,#d77e6f 88%,#d27364 93%,#cd6b5b 97%,#cc6859)}.b3{background:linear-gradient(90deg,#0c4c9f,#0c4c9f 4%,#4260ac 8%,#6779ba 12%,#808cc5 17%,#8c97ca 22%,#959ece 28%,#a6add6 34%,#c9cde6 40%,#f3f3f9 46%,#fcedea 52%,#f2c7bf 58%,#e9aa9f 64%,#e59f93 70%,#e5a295 76%,#df9284 82%,#d77e6f 88%,#d17162 93%,#cc6859 97%,#c85f50)}.b4{background:linear-gradient(90deg,#0c4c9f,#0c4c9f 8%,#596fb4 12%,#7584c0 17%,#828ec6 22%,#8a95c9 28%,#9ba4d1 34%,#bdc1e0 40%,#e0e2f1 46%,#fef8f7 52%,#f3cbc4 58%,#eaafa3 64%,#e5a295 70%,#e39b8e 76%,#dd8c7d 82%,#d67c6d 88%,#d17162 93%,#cc6859 97%,#c96252)}.b5{background:linear-gradient(90deg,#0c4c9f,#0c4c9f 4%,#2854a4 8%,#576eb3 12%,#7584c0 17%,#808cc5 22%,#8894c8 28%,#9fa7d3 34%,#c5c9e4 40%,#f0f1f8 46%,#fbe8e5 52%,#f1c3ba 58%,#e9aa9f 64%,#e39b8e 70%,#e09487 76%,#da8576 82%,#d27364 88%,#cc6859 93%,#c85f50 97%,#c55849)}.b6{background:linear-gradient(90deg,#0c4c9f,#1f51a2 4%,#576eb3 8%,#697bbb 12%,#7d8bc4 17%,#8894c8 22%,#939ccd 28%,#b0b6db 34%,#d8daed 40%,#fef8f7 46%,#f5d0c9 52%,#edb5ab 58%,#e6a497 64%,#e19789 70%,#de9082 76%,#d88172 82%,#cd6b5b 88%,#c85f50 93%,#c65b4b 97%,#c65b4b)}.b7{background:linear-gradient(90deg,#0c4c9f,#0c4c9f 4%,#4764ad 8%,#5e73b6 12%,#7080be 17%,#7785c1 22%,#8692c8 28%,#a6add6 34%,#c9cde6 40%,#f5f5fa 46%,#f9e2dd 52%,#f0c0b7 58%,#eaafa3 64%,#e49d90 70%,#e19789 76%,#dd8c7d 82%,#d47868 88%,#cd6b5b 93%,#c96252 97%,#c65b4b)}.b8{background:linear-gradient(90deg,#0c4c9f,#0c4c9f 4%,#4f69b0 8%,#6074b7 12%,#7584c0 17%,#7d8bc4 22%,#8a95c9 28%,#aab1d8 34%,#cbcee7 40%,#f7f7fb 46%,#f8ddd8 52%,#eebab0 58%,#e9aa9f 64%,#e49d90 70%,#e19789 76%,#dd8c7d 82%,#d57a6b 88%,#cd6b5b 93%,#c96252 97%,#c65b4b)}.b9{background:linear-gradient(90deg,#0c4c9f,#0c4c9f 4%,#2c55a5 8%,#576eb3 12%,#7282bf 17%,#7b89c3 22%,#8490c7 28%,#a2a9d4 34%,#c5c9e4 40%,#ecedf6 46%,#fbe8e5 52%,#f0c0b7 58%,#ebb1a6 64%,#e59f93 70%,#e09487 76%,#dc897b 82%,#d67c6d 88%,#d06f5f 93%,#c96252 97%,#c55849)}.ca{background:linear-gradient(90deg,#0c4c9f,#0c4c9f 8%,#4f69b0 12%,#8490c7 17%,#aeb4da 22%,#dadcee 28%,#fdf4f2 34%,#f2c7bf 40%,#e8a89c 46%,#e19789 52%,#db8779 58%,#d98374 64%,#d88172 70%,#da8576 76%,#de9082 82%,#e5a295 88%,#edb5ab 93%,#f1c3ba 97%,#f5d2cb)}.cb{background:linear-gradient(90deg,#0c4c9f,#0c4c9f 8%,#4260ac 12%,#828ec6 17%,#aeb4da 22%,#d8daed 28%,#fcedea 34%,#f0c0b7 40%,#e7a69a 46%,#e09487 52%,#da8576 58%,#d88172 64%,#d57a6b 70%,#d98374 76%,#de9082 82%,#e59f93 88%,#eaafa3 93%,#f0c0b7 97%,#f6d4ce)}.cc{background:linear-gradient(90deg,#0c4c9f,#0c4c9f 8%,#4a65ae 12%,#8692c8 17%,#b2b8dc 22%,#e0e2f1 28%,#fae4e0 34%,#edb8ad 40%,#e59f93 46%,#de9082 52%,#d98374 58%,#d67c6d 64%,#d47868 70%,#d88172 76%,#de8e80 82%,#e39b8e 88%,#e9ada1 93%,#f1c3ba 97%,#f6d4ce)}.cd{background:linear-gradient(90deg,#0c4c9f,#0c4c9f 8%,#4260ac 12%,#7b89c3 17%,#a2a9d4 22%,#cfd2e9 28%,#fef8f7 34%,#f3cbc4 40%,#eaafa3 46%,#e39b8e 52%,#db8779 58%,#d88172 64%,#d77e6f 70%,#da8576 76%,#de9082 82%,#e09487 88%,#e7a69a 93%,#efbeb5 97%,#f6d4ce)}.ce{background:linear-gradient(90deg,#0c4c9f,#0c4c9f 4%,#4d67af 8%,#828ec6 12%,#acb2d9 17%,#c9cde6 22%,#f5f5fa 28%,#f6d4ce 34%,#ecb3a8 40%,#e8a89c 46%,#e2998b 52%,#de9082 58%,#da8576 64%,#db8779 70%,#de9082 76%,#e2998b 82%,#e9ada1 88%,#efbeb5 93%,#f8dbd5 97%,#f9dfdb)}.cf{background:linear-gradient(90deg,#0c4c9f,#3f5fab 4%,#7080be 8%,#9ba4d1 12%,#c1c5e2 17%,#dadcee 22%,#fef8f7 28%,#f3cbc4 34%,#ecb3a8 40%,#e7a69a 46%,#e59f93 52%,#e2998b 58%,#de9082 64%,#e2998b 70%,#e49d90 76%,#e7a69a 82%,#efbeb5 88%,#f6d4ce 93%,#f9dfdb 97%,#f8ddd8)}.cg{background:linear-gradient(90deg,#0c4c9f,#0c4c9f 4%,#6779ba 8%,#919bcc 12%,#b6bcde 17%,#d1d4ea 22%,#f7f7fb 28%,#f6d4ce 34%,#edb8ad 40%,#e9ada1 46%,#e5a295 52%,#e49d90 58%,#e19789 64%,#e39b8e 70%,#e5a295 76%,#e6a497 82%,#edb8ad 88%,#f3c9c1 93%,#f8ddd8 97%,#fae4e0)}.ch{background:linear-gradient(90deg,#0c4c9f,#1a4fa1 4%,#6376b8 8%,#8a95c9 12%,#b2b8dc 17%,#cfd2e9 22%,#fbfbfd 28%,#f4cec6 34%,#eaafa3 40%,#e5a295 46%,#e09487 52%,#de9082 58%,#dc897b 64%,#de9082 70%,#e2998b 76%,#e6a497 82%,#efbcb2 88%,#f5d0c9 93%,#f9e2dd 97%,#f9e2dd)}.ci{background:linear-gradient(90deg,#0c4c9f,#0c4c9f 4%,#3f5fab 8%,#7584c0 12%,#9fa7d3 17%,#bfc3e1 22%,#ecedf6 28%,#f8dbd5 34%,#efbeb5 40%,#ebb1a6 46%,#e6a497 52%,#e39b8e 58%,#e09487 64%,#e09487 70%,#e2998b 76%,#e59f93 82%,#ecb3a8 88%,#f1c3ba 93%,#f5d0c9 97%,#f9dfdb)}.cj{background:linear-gradient(90deg,#2452a3,#1f51a2 4%,#2f57a6 8%,#7584c0 12%,#99a2d0 17%,#b2b8dc 22%,#d8daed 28%,#fdf6f4 34%,#f5d2cb 40%,#f1c3ba 46%,#edb8ad 52%,#e9aa9f 58%,#e6a497 64%,#e5a295 70%,#e8a89c 76%,#ebb1a6 82%,#eebab0 88%,#f3c9c1 93%,#f5d2cb 97%,#f8dbd5)}.ck{background:linear-gradient(90deg,#2c55a5,#2854a4 4%,#3358a7 8%,#7584c0 12%,#99a2d0 17%,#b0b6db 22%,#d5d8ec 28%,#fefafa 34%,#f6d7d0 40%,#f1c3ba 46%,#ecb3a8 52%,#e7a69a 58%,#e5a295 64%,#e5a295 70%,#e8a89c 76%,#eaafa3 82%,#edb8ad 88%,#f2c7bf 93%,#f4cec6 97%,#f5d2cb)}.cl{background:linear-gradient(90deg,#0c4c9f,#0c4c9f 4%,#2f57a6 8%,#7584c0 12%,#9ba4d1 17%,#b6bcde 22%,#dcdeef 28%,#fdf4f2 34%,#f4cec6 40%,#edb8ad 46%,#e8a89c 52%,#e5a295 58%,#e5a295 64%,#e59f93 70%,#e6a497 76%,#e9aa9f 82%,#ecb3a8 88%,#f0c0b7 93%,#f3c9c1 97%,#f4cec6)}.cm{background:linear-gradient(90deg,#1f51a2,#2854a4 4%,#546cb2 8%,#8692c8 12%,#a8afd7 17%,#c3c7e3 22%,#e6e7f4 28%,#fbe8e5 34%,#f2c7bf 40%,#edb5ab 46%,#e9ada1 52%,#e9aa9f 58%,#e6a497 64%,#e39b8e 70%,#e6a497 76%,#e9ada1 82%,#ecb3a8 88%,#f1c5bc 93%,#f5d2cb 97%,#f6d7d0)}.cn{background:linear-gradient(90deg,#0c4c9f,#0c4c9f 4%,#2f57a6 8%,#7785c1 12%,#9da6d2 17%,#bbbfdf 22%,#dcdeef 28%,#fdf4f2 34%,#f3cbc4 40%,#ebb1a6 46%,#e6a497 52%,#e59f93 58%,#e59f93 64%,#e19789 70%,#e49d90 76%,#e5a295 82%,#e6a497 88%,#edb8ad 93%,#f3c9c1 97%,#f5d2cb)}.co{background:linear-gradient(90deg,#2452a3,#0c4c9f 4%,#2c55a5 8%,#697bbb 12%,#939ccd 17%,#aeb4da 22%,#cdd0e8 28%,#f5f5fa 34%,#f6d7d0 40%,#efbeb5 46%,#edb5ab 52%,#e9aa9f 58%,#e8a89c 64%,#e6a497 70%,#e7a69a 76%,#e9ada1 82%,#eaafa3 88%,#efbeb5 93%,#f3c9c1 97%,#f3cbc4)}.cp{background:linear-gradient(90deg,#2c55a5,#3358a7 4%,#546cb2 8%,#8692c8 12%,#a6add6 17%,#c1c5e2 22%,#dee0f0 28%,#fdf6f4 34%,#f5d0c9 40%,#efbeb5 46%,#edb5ab 52%,#e9ada1 58%,#e9aa9f 64%,#e9ada1 70%,#ebb1a6 76%,#ecb3a8 82%,#edb8ad 88%,#f1c5bc 93%,#f4cec6 97%,#f6d4ce)}.cq{background:linear-gradient(90deg,#aab1d8,#aeb4da 4%,#b2b8dc 8%,#b8bddf 12%,#b8bddf 17%,#bdc1e0 22%,#c3c7e3 28%,#c7cbe5 34%,#cfd2e9 40%,#dee0f0 46%,#eeeff7 52%,#fffdfc 58%,#fae6e2 64%,#f9dfdb 70%,#fcefed 76%,#fdfdfe 82%,#eeeff7 88%,#dee0f0 93%,#cbcee7 97%,#c7cbe5)}.cr{background:linear-gradient(90deg,#b0b6db,#aeb4da 4%,#b0b6db 8%,#b8bddf 12%,#bdc1e0 17%,#bdc1e0 22%,#c5c9e4 28%,#c7cbe5 34%,#cdd0e8 40%,#dcdeef 46%,#ecedf6 52%,#ffffff 58%,#fbebe7 64%,#f8ddd8 70%,#fbebe7 76%,#fffdfc 82%,#eeeff7 88%,#e0e2f1 93%,#cdd0e8 97%,#c7cbe5)}.cs{background:linear-gradient(90deg,#bbbfdf,#bdc1e0 4%,#bfc3e1 8%,#c3c7e3 12%,#c5c9e4 17%,#c7cbe5 22%,#cdd0e8 28%,#cdd0e8 34%,#d3d6eb 40%,#dee0f0 46%,#f3f3f9 52%,#fdf6f4 58%,#f9e2dd 64%,#fae6e2 70%,#fcefed 76%,#ffffff 82%,#ecedf6 88%,#e0e2f1 93%,#d5d8ec 97%,#cfd2e9)}.ct{background:linear-gradient(90deg,#b0b6db,#b2b8dc 4%,#b4badd 8%,#b8bddf 12%,#bdc1e0 17%,#c3c7e3 22%,#c9cde6 28%,#c9cde6 34%,#d1d4ea 40%,#d8daed 46%,#e8e9f5 52%,#fffdfc 58%,#f9e2dd 64%,#f7d9d3 70%,#fae6e2 76%,#fef8f7 82%,#eeeff7 88%,#e2e4f2 93%,#d8daed 97%,#cdd0e8)}.cu{background:linear-gradient(90deg,#aab1d8,#b2b8dc 4%,#b4badd 8%,#b8bddf 12%,#bfc3e1 17%,#c1c5e2 22%,#c5c9e4 28%,#c9cde6 34%,#d3d6eb 40%,#dcdeef 46%,#e8e9f5 52%,#fbfbfd 58%,#fbebe7 64%,#f7d9d3 70%,#fae4e0 76%,#fefafa 82%,#f0f1f8 88%,#e8e9f5 93%,#dee0f0 97%,#d5d8ec)}.cv{background:linear-gradient(90deg,#aab1d8,#b0b6db 4%,#b4badd 8%,#b8bddf 12%,#bfc3e1 17%,#c5c9e4 22%,#c9cde6 28%,#c9cde6 34%,#d1d4ea 40%,#dcdeef 46%,#e8e9f5 52%,#ffffff 58%,#fae6e2 64%,#f6d4ce 70%,#f9e2dd 76%,#fdf6f4 82%,#f5f5fa 88%,#eaebf5 93%,#dcdeef 97%,#cfd2e9)}.cw{background:linear-gradient(90deg,#b6bcde,#b6bcde 8%,#bbbfdf 12%,#bfc3e1 17%,#c5c9e4 22%,#cbcee7 28%,#cfd2e9 34%,#d8daed 40%,#dee0f0 46%,#ecedf6 52%,#fefafa 58%,#fae6e2 64%,#f9dfdb 70%,#fae6e2 76%,#fdf4f2 82%,#f5f5fa 88%,#e8e9f5 93%,#dadcee 97%,#d3d6eb)}.cx{background:linear-gradient(90deg,#b0b6db,#b0b6db 12%,#b8bddf 17%,#c5c9e4 22%,#cbcee7 28%,#cdd0e8 34%,#d5d8ec 40%,#dee0f0 46%,#e0e2f1 52%,#f3f3f9 58%,#fdf6f4 64%,#f9dfdb 70%,#f8dbd5 76%,#fbebe7 82%,#fbfbfd 88%,#eeeff7 93%,#e4e6f3 97%,#dcdeef)}.cy{background:linear-gradient(90deg,#bbbfdf,#bfc3e1 4%,#bfc3e1 12%,#c1c5e2 17%,#cbcee7 22%,#d5d8ec 28%,#d8daed 34%,#dcdeef 40%,#e0e2f1 46%,#e6e7f4 52%,#f9f9fc 58%,#fcefed 64%,#f9dfdb 70%,#fae4e0 76%,#fdf1ef 82%,#f7f7fb 88%,#eaebf5 93%,#e2e4f2 97%,#dee0f0)}.cz{background:linear-gradient(90deg,#bfc3e1,#bfc3e1 8%,#c1c5e2 12%,#c3c7e3 17%,#cbcee7 22%,#d5d8ec 28%,#d8daed 34%,#d8daed 40%,#e0e2f1 46%,#ecedf6 52%,#ffffff 58%,#fcefed 64%,#f9dfdb 70%,#fbebe7 76%,#fefafa 82%,#f3f3f9 88%,#e6e7f4 93%,#dcdeef 97%,#d3d6eb)}.cA{background:linear-gradient(90deg,#c1c5e2,#bdc1e0 4%,#bfc3e1 8%,#c1c5e2 12%,#c1c5e2 17%,#c9cde6 22%,#d5d8ec 28%,#d8daed 34%,#d8daed 40%,#e0e2f1 46%,#e8e9f5 52%,#f5f5fa 58%,#fffdfc 64%,#fbebe7 70%,#fae4e0 76%,#fdf1ef 82%,#fdfdfe 88%,#f0f1f8 93%,#e4e6f3 97%,#dcdeef)}.cB{background:linear-gradient(90deg,#c5c9e4,#c1c5e2 4%,#c1c5e2 8%,#c3c7e3 12%,#c7cbe5 17%,#cfd2e9 22%,#dadcee 28%,#dcdeef 34%,#dcdeef 40%,#e4e6f3 46%,#ecedf6 52%,#fbfbfd 58%,#fef8f7 64%,#fbebe7 70%,#fbebe7 76%,#fefafa 82%,#fbfbfd 88%,#f3f3f9 93%,#e8e9f5 97%,#dee0f0)}.cC{background:linear-gradient(90deg,#bfc3e1,#c3c7e3 4%,#c3c7e3 12%,#c5c9e4 17%,#cbcee7 22%,#d8daed 28%,#dadcee 34%,#dcdeef 40%,#e8e9f5 46%,#f5f5fa 52%,#fffdfc 58%,#fdf1ef 64%,#f9e2dd 70%,#fcedea 76%,#fffdfc 82%,#f7f7fb 88%,#f0f1f8 93%,#e4e6f3 97%,#d5d8ec)}.cD{background:linear-gradient(90deg,#bfc3e1,#c3c7e3 4%,#c5c9e4 8%,#c9cde6 12%,#cbcee7 17%,#cfd2e9 22%,#d8daed 28%,#dcdeef 34%,#dcdeef 40%,#e4e6f3 46%,#ecedf6 52%,#f9f9fc 58%,#fef8f7 64%,#fbe8e5 70%,#fbebe7 76%,#fef8f7 82%,#f9f9fc 88%,#f0f1f8 93%,#e6e7f4 97%,#dadcee)}.cE{background:linear-gradient(90deg,#bdc1e0,#c1c5e2 4%,#c7cbe5 8%,#cdd0e8 12%,#cdd0e8 17%,#cfd2e9 22%,#d8daed 28%,#dadcee 34%,#dcdeef 40%,#e2e4f2 46%,#ecedf6 52%,#fbfbfd 58%,#fdf6f4 64%,#fae6e2 70%,#fcedea 76%,#ffffff 82%,#f0f1f8 88%,#e6e7f4 93%,#dcdeef 97%,#d8daed)}.cF{background:linear-gradient(90deg,#cdd0e8,#c9cde6 4%,#cdd0e8 8%,#d8daed 12%,#d8daed 17%,#d5d8ec 22%,#dcdeef 28%,#e0e2f1 34%,#e2e4f2 40%,#e4e6f3 46%,#eeeff7 52%,#fffdfc 58%,#fcedea 64%,#fae6e2 70%,#fdf4f2 76%,#fffdfc 82%,#f7f7fb 88%,#e8e9f5 93%,#e0e2f1 97%,#dee0f0)}.cG{background:linear-gradient(90deg,#7080be,#7785c1 4%,#808cc5 8%,#8894c8 12%,#959ece 17%,#9fa7d3 22%,#aab1d8 28%,#b0b6db 34%,#bdc1e0 40%,#cbcee7 46%,#dee0f0 52%,#ffffff 58%,#f5d2cb 64%,#edb8ad 70%,#e49d90 76%,#e09487 82%,#d98374 88%,#ae2b23 93%,#a50f15 97%,#a50f15)}.cH{background:linear-gradient(90deg,#6c7dbc,#7282bf 4%,#7b89c3 8%,#808cc5 12%,#8f99cb 17%,#99a2d0 22%,#a2a9d4 28%,#a8afd7 34%,#b4badd 40%,#c5c9e4 46%,#d3d6eb 52%,#f3f3f9 58%,#f9dfdb 64%,#eebab0 70%,#e2998b 76%,#de9082 82%,#db8779 88%,#c35647 93%,#a50f15 97%,#a50f15)}.cI{background:linear-gradient(90deg,#576eb3,#5e73b6 4%,#6c7dbc 8%,#7785c1 12%,#8490c7 17%,#8c97ca 22%,#97a0cf 28%,#a2a9d4 34%,#acb2d9 40%,#bfc3e1 46%,#cbcee7 52%,#e6e7f4 58%,#fbe8e5 64%,#edb8ad 70%,#e19789 76%,#dd8c7d 82%,#d98374 88%,#cb6656 93%,#a50f15 97%,#a50f15)}.cJ{background:linear-gradient(90deg,#697bbb,#6e7fbd 4%,#7785c1 8%,#808cc5 12%,#8f99cb 17%,#99a2d0 22%,#9ba4d1 28%,#a2a9d4 34%,#b2b8dc 40%,#c7cbe5 46%,#d5d8ec 52%,#f5f5fa 58%,#f9dfdb 64%,#edb8ad 70%,#e2998b 76%,#de9082 82%,#de8e80 88%,#d06f5f 93%,#a50f15 97%,#a50f15)}.cK{background:linear-gradient(90deg,#6376b8,#697bbb 4%,#7282bf 8%,#7987c2 12%,#8a95c9 17%,#939ccd 22%,#919bcc 28%,#99a2d0 34%,#b0b6db 40%,#c9cde6 46%,#dadcee 52%,#f9f9fc 58%,#f7d9d3 64%,#ebb1a6 70%,#de9082 76%,#da8576 82%,#d88172 88%,#ba4336 93%,#a50f15 97%,#a50f15)}.cL{background:linear-gradient(90deg,#6e7fbd,#7b89c3 4%,#828ec6 8%,#8490c7 12%,#959ece 17%,#9ba4d1 22%,#959ece 28%,#9ba4d1 34%,#b6bcde 40%,#d1d4ea 46%,#e0e2f1 52%,#fbfbfd 58%,#f8dbd5 64%,#efbcb2 70%,#e49d90 76%,#e09487 82%,#de9082 88%,#c25445 93%,#a50f15 97%,#a50f15)}.cM{background:linear-gradient(90deg,#7080be,#7b89c3 4%,#8490c7 8%,#8894c8 12%,#959ece 17%,#9da6d2 22%,#99a2d0 28%,#a2a9d4 34%,#bbbfdf 40%,#d1d4ea 46%,#dee0f0 52%,#f9f9fc 58%,#f9dfdb 64%,#efbeb5 70%,#e39b8e 76%,#de8e80 82%,#de9082 88%,#cb6656 93%,#a50f15 97%,#a50f15)}.cN{background:linear-gradient(90deg,#7b89c3,#808cc5 4%,#8490c7 8%,#8c97ca 12%,#9ba4d1 17%,#a2a9d4 22%,#a2a9d4 28%,#aeb4da 34%,#c1c5e2 40%,#d1d4ea 46%,#e0e2f1 52%,#fdfdfe 58%,#f8dbd5 64%,#edb8ad 70%,#e2998b 76%,#df9284 82%,#df9284 88%,#c75d4e 93%,#a50f15 97%,#a50f15)}.cO{background:linear-gradient(90deg,#7b89c3,#8a95c9 4%,#919bcc 8%,#959ece 12%,#9fa7d3 17%,#a4abd5 22%,#a4abd5 28%,#aeb4da 34%,#c7cbe5 40%,#dcdeef 46%,#f5f5fa 52%,#fbe8e5 58%,#f3c9c1 64%,#e9aa9f 70%,#df9284 76%,#de8e80 82%,#d47868 88%,#a50f15 93%,#a50f15)}.cP{background:linear-gradient(90deg,#808cc5,#8c97ca 4%,#939ccd 8%,#959ece 12%,#9da6d2 17%,#a4abd5 22%,#aab1d8 28%,#b4badd 34%,#c9cde6 40%,#dee0f0 46%,#fbfbfd 52%,#fae4e0 58%,#f3c9c1 64%,#e8a89c 70%,#de9082 76%,#de8e80 82%,#c96252 88%,#a50f15 93%,#a50f15)}.cQ{background:linear-gradient(90deg,#97a0cf,#9fa7d3 4%,#9fa7d3 12%,#a4abd5 17%,#acb2d9 22%,#b6bcde 28%,#c3c7e3 34%,#d1d4ea 40%,#e0e2f1 46%,#f7f7fb 52%,#fbe8e5 58%,#f3cbc4 64%,#ecb3a8 70%,#e5a295 76%,#e49d90 82%,#da8576 88%,#ad2821 93%,#a50f15 97%,#a50f15)}.cR{background:linear-gradient(90deg,#99a2d0,#9da6d2 4%,#9da6d2 8%,#a2a9d4 12%,#a8afd7 17%,#b0b6db 22%,#b8bddf 28%,#bfc3e1 34%,#cfd2e9 40%,#e0e2f1 46%,#f7f7fb 52%,#fbe8e5 58%,#f4cec6 64%,#edb8ad 70%,#e6a497 76%,#e49d90 82%,#da8576 88%,#ae2b23 93%,#a50f15 97%,#a50f15)}.cS{background:linear-gradient(90deg,#8894c8,#8c97ca 4%,#939ccd 8%,#9ba4d1 12%,#a2a9d4 17%,#acb2d9 22%,#b4badd 28%,#bbbfdf 34%,#c9cde6 40%,#dadcee 46%,#f7f7fb 52%,#fae6e2 58%,#f2c7bf 64%,#e9aa9f 70%,#e2998b 76%,#df9284 82%,#ca6454 88%,#a50f15 93%,#a50f15)}.cT{background:linear-gradient(90deg,#8490c7,#8a95c9 4%,#8f99cb 8%,#97a0cf 12%,#a2a9d4 17%,#aab1d8 22%,#aeb4da 28%,#b6bcde 34%,#c5c9e4 40%,#d3d6eb 46%,#f5f5fa 52%,#f8ddd8 58%,#efbeb5 64%,#e7a69a 70%,#e2998b 76%,#de9082 82%,#c65b4b 88%,#a50f15 93%,#a50f15)}.cU{background:linear-gradient(90deg,#7584c0,#7b89c3 4%,#808cc5 8%,#8a95c9 12%,#9ba4d1 17%,#a8afd7 22%,#acb2d9 28%,#b6bcde 34%,#c3c7e3 40%,#cdd0e8 46%,#f0f1f8 52%,#f9dfdb 58%,#efbcb2 64%,#e6a497 70%,#df9284 76%,#dc897b 82%,#c75d4e 88%,#a50f15 93%,#a50f15)}.cV{background:linear-gradient(90deg,#6779ba,#7282bf 4%,#7987c2 8%,#8692c8 12%,#959ece 17%,#9fa7d3 22%,#a4abd5 28%,#acb2d9 34%,#bfc3e1 40%,#cfd2e9 46%,#eeeff7 52%,#f9dfdb 58%,#edb8ad 64%,#e6a497 70%,#df9284 76%,#d98374 82%,#c96252 88%,#a50f15 93%,#a50f15)}.cW{background:linear-gradient(90deg,#bbbfdf,#bbbfdf 12%,#b8bddf 17%,#b8bddf 22%,#bbbfdf 28%,#b8bddf 34%,#b6bcde 40%,#bbbfdf 46%,#c5c9e4 52%,#cdd0e8 58%,#d8daed 64%,#f3f3f9 70%,#fae4e0 76%,#efbcb2 82%,#db8779 88%,#a81919 93%,#a50f15 97%,#a50f15)}.cX{background:linear-gradient(90deg,#b0b6db,#b2b8dc 4%,#b4badd 8%,#b2b8dc 12%,#b4badd 17%,#b6bcde 22%,#b8bddf 28%,#b8bddf 34%,#b2b8dc 40%,#b6bcde 46%,#c3c7e3 52%,#cdd0e8 58%,#dcdeef 64%,#f7f7fb 70%,#f8ddd8 76%,#ebb1a6 82%,#cd6b5b 88%,#a50f15 93%,#a50f15)}.cY{background:linear-gradient(90deg,#acb2d9,#b0b6db 4%,#b4badd 8%,#b6bcde 12%,#b4badd 17%,#b6bcde 22%,#b6bcde 34%,#b4badd 40%,#b4badd 46%,#bfc3e1 52%,#cdd0e8 58%,#e0e2f1 64%,#fbfbfd 70%,#f8dbd5 76%,#e9ada1 82%,#c65b4b 88%,#a50f15 93%,#a50f15)}.cZ{background:linear-gradient(90deg,#acb2d9,#acb2d9 4%,#aeb4da 8%,#aeb4da 12%,#acb2d9 17%,#a8afd7 22%,#a8afd7 28%,#aeb4da 34%,#b0b6db 40%,#b6bcde 46%,#bdc1e0 52%,#c7cbe5 58%,#dadcee 64%,#f9f9fc 70%,#f6d7d0 76%,#e7a69a 82%,#bf4d3f 88%,#a50f15 93%,#a50f15)}.c0{background:linear-gradient(90deg,#b2b8dc,#b6bcde 4%,#b6bcde 8%,#b4badd 12%,#b2b8dc 17%,#aeb4da 22%,#acb2d9 28%,#aeb4da 34%,#b2b8dc 40%,#b6bcde 46%,#bdc1e0 52%,#c7cbe5 58%,#d3d6eb 64%,#f0f1f8 70%,#f8ddd8 76%,#edb5ab 82%,#d98374 88%,#a50f15 93%,#a50f15)}.c1{background:linear-gradient(90deg,#b6bcde,#b8bddf 4%,#b8bddf 8%,#b6bcde 12%,#b4badd 17%,#b2b8dc 22%,#b4badd 28%,#bbbfdf 34%,#b6bcde 40%,#b6bcde 46%,#c1c5e2 52%,#cbcee7 58%,#d3d6eb 64%,#ecedf6 70%,#fbe8e5 76%,#f1c5bc 82%,#e09487 88%,#b5392e 93%,#a50f15 97%,#a50f15)}.c2{background:linear-gradient(90deg,#aab1d8,#aab1d8 4%,#acb2d9 8%,#acb2d9 28%,#aab1d8 34%,#a6add6 40%,#acb2d9 46%,#b6bcde 52%,#bfc3e1 58%,#cbcee7 64%,#eaebf5 70%,#f8ddd8 76%,#edb8ad 82%,#db8779 88%,#a50f15 93%,#a50f15)}.c3{background:linear-gradient(90deg,#a8afd7,#aab1d8 4%,#aeb4da 8%,#aeb4da 17%,#b2b8dc 22%,#b6bcde 28%,#b0b6db 34%,#acb2d9 40%,#b2b8dc 46%,#b6bcde 52%,#bdc1e0 58%,#c9cde6 64%,#eaebf5 70%,#fae4e0 76%,#f1c3ba 82%,#e09487 88%,#b02e25 93%,#a50f15 97%,#a50f15)}.c4{background:linear-gradient(90deg,#aeb4da,#aab1d8 4%,#aeb4da 8%,#b2b8dc 12%,#b6bcde 17%,#b6bcde 28%,#b0b6db 34%,#aeb4da 40%,#b2b8dc 46%,#b8bddf 52%,#c3c7e3 58%,#d1d4ea 64%,#eeeff7 70%,#f9e2dd 76%,#efbcb2 82%,#dc897b 88%,#a50f15 93%,#a50f15)}.c5{background:linear-gradient(90deg,#b4badd,#b2b8dc 4%,#b4badd 8%,#b6bcde 12%,#b4badd 17%,#b4badd 22%,#b6bcde 28%,#b6bcde 34%,#b4badd 40%,#b4badd 46%,#b6bcde 52%,#c1c5e2 58%,#d3d6eb 64%,#f3f3f9 70%,#f9dfdb 76%,#eebab0 82%,#dd8c7d 88%,#a50f15 93%,#a50f15)}.c6{background:linear-gradient(90deg,#acb2d9,#acb2d9 4%,#aeb4da 8%,#b2b8dc 12%,#b2b8dc 17%,#b0b6db 22%,#b0b6db 34%,#aeb4da 40%,#b2b8dc 46%,#b6bcde 52%,#bfc3e1 58%,#cbcee7 64%,#eaebf5 70%,#f8ddd8 76%,#edb5ab 82%,#da8576 88%,#a50f15 93%,#a50f15)}.c7{background:linear-gradient(90deg,#acb2d9,#acb2d9 4%,#aab1d8 8%,#acb2d9 12%,#acb2d9 22%,#aab1d8 28%,#a8afd7 34%,#aab1d8 40%,#b2b8dc 46%,#b8bddf 52%,#c3c7e3 58%,#dadcee 64%,#fffdfc 70%,#f4cec6 76%,#e49d90 82%,#b94134 88%,#a50f15 93%,#a50f15)}.c8{background:linear-gradient(90deg,#aab1d8,#a8afd7 4%,#a8afd7 8%,#aeb4da 12%,#b0b6db 17%,#aeb4da 22%,#aab1d8 28%,#a6add6 34%,#a8afd7 40%,#b2b8dc 46%,#bbbfdf 52%,#c5c9e4 58%,#e2e4f2 64%,#fdf4f2 70%,#f2c7bf 76%,#de9082 82%,#a50f15 88%,#a50f15)}.c9{background:linear-gradient(90deg,#acb2d9,#a6add6 4%,#a4abd5 8%,#acb2d9 12%,#b0b6db 17%,#aab1d8 22%,#a4abd5 28%,#9da6d2 34%,#a4abd5 40%,#b0b6db 46%,#b8bddf 52%,#c5c9e4 58%,#e4e6f3 64%,#fbebe7 70%,#efbeb5 76%,#d98374 82%,#a50f15 88%,#a50f15)}.da{background:linear-gradient(90deg,#a6add6,#9fa7d3 4%,#9fa7d3 8%,#a6add6 12%,#a8afd7 17%,#a4abd5 22%,#9fa7d3 28%,#959ece 34%,#9ba4d1 40%,#aeb4da 46%,#bbbfdf 52%,#cfd2e9 58%,#f0f1f8 64%,#f8ddd8 70%,#eaafa3 76%,#cc6859 82%,#a50f15 88%,#a50f15)}.db{background:linear-gradient(90deg,#9da6d2,#9ba4d1 4%,#9da6d2 8%,#a4abd5 12%,#a8afd7 17%,#a6add6 22%,#9fa7d3 28%,#959ece 34%,#97a0cf 40%,#a6add6 46%,#b6bcde 52%,#c7cbe5 58%,#e4e6f3 64%,#fae6e2 70%,#edb5ab 76%,#d27364 82%,#a50f15 88%,#a50f15)}.dc{background:linear-gradient(90deg,#a50f15,#a50f15 8%,#ac241f 12%,#d06f5f 17%,#eaafa3 22%,#fdf6f4 28%,#cfd2e9 34%,#acb2d9 40%,#aab1d8 46%,#a8afd7 52%,#9fa7d3 58%,#9da6d2 64%,#acb2d9 70%,#bdc1e0 76%,#e6e7f4 82%,#fcefed 88%,#f6d4ce 93%,#f5d0c9 97%,#f5d0c9)}.dd{background:linear-gradient(90deg,#a50f15,#a50f15 8%,#b5392e 12%,#d77e6f 17%,#f1c3ba 22%,#f3f3f9 28%,#bfc3e1 34%,#aab1d8 40%,#a4abd5 46%,#9fa7d3 52%,#9ba4d1 58%,#9fa7d3 64%,#acb2d9 70%,#bdc1e0 76%,#f5f5fa 82%,#fae4e0 88%,#f5d0c9 93%,#f2c7bf 97%,#f1c3ba)}.de{background:linear-gradient(90deg,#a50f15,#a50f15 8%,#b5392e 12%,#da8576 17%,#f0c0b7 22%,#fdfdfe 28%,#c9cde6 34%,#aeb4da 40%,#a6add6 46%,#a6add6 52%,#a2a9d4 58%,#a2a9d4 64%,#aeb4da 70%,#bfc3e1 76%,#f0f1f8 82%,#fbe8e5 88%,#f5d0c9 93%,#f3cbc4 97%,#f3cbc4)}.df{background:linear-gradient(90deg,#a50f15,#a50f15 4%,#ae2b23 8%,#cc6859 12%,#e9aa9f 17%,#f9e2dd 22%,#e6e7f4 28%,#b2b8dc 34%,#a8afd7 40%,#a8afd7 46%,#acb2d9 52%,#a8afd7 58%,#aeb4da 64%,#bbbfdf 70%,#d8daed 76%,#fefafa 82%,#f8dbd5 88%,#f5d0c9 93%,#f3cbc4 97%,#f3cbc4)}.dg{background:linear-gradient(90deg,#a50f15,#b63b30 4%,#d37666 8%,#e6a497 12%,#f8ddd8 17%,#f3f3f9 22%,#cbcee7 28%,#bbbfdf 34%,#b0b6db 40%,#acb2d9 46%,#aeb4da 52%,#b4badd 58%,#bfc3e1 64%,#cbcee7 70%,#f9f9fc 76%,#fbe8e5 82%,#f7d9d3 88%,#f5d2cb 93%,#f5d2cb)}.dh{background:linear-gradient(90deg,#a50f15,#a61417 4%,#c75d4e 8%,#e2998b 12%,#f8dbd5 17%,#f3f3f9 22%,#cbcee7 28%,#b6bcde 34%,#a8afd7 40%,#a2a9d4 46%,#a2a9d4 52%,#a8afd7 58%,#b8bddf 64%,#c5c9e4 70%,#f0f1f8 76%,#fbebe7 82%,#f6d4ce 88%,#f3cbc4 93%,#f2c7bf 97%,#f3c9c1)}.di{background:linear-gradient(90deg,#a50f15,#a50f15 4%,#bc483a 8%,#da8576 12%,#f3c9c1 17%,#fdfdfe 22%,#cfd2e9 28%,#b0b6db 34%,#a4abd5 40%,#9fa7d3 46%,#9da6d2 52%,#9fa7d3 58%,#aeb4da 64%,#b8bddf 70%,#e4e6f3 76%,#fdf1ef 82%,#f6d4ce 88%,#f2c7bf 93%,#f0c0b7 97%,#f0c0b7)}.dj{background:linear-gradient(90deg,#a50f15,#a50f15 8%,#b63b30 12%,#e09487 17%,#f6d7d0 22%,#eaebf5 28%,#acb2d9 34%,#97a0cf 40%,#919bcc 46%,#97a0cf 52%,#99a2d0 58%,#9fa7d3 64%,#aab1d8 70%,#c3c7e3 76%,#fdfdfe 82%,#f8dbd5 88%,#f2c7bf 93%,#f0c0b7 97%,#efbcb2)}.dk{background:linear-gradient(90deg,#a50f15,#a50f15 8%,#b13127 12%,#dc897b 17%,#f5d2cb 22%,#e6e7f4 28%,#a6add6 34%,#939ccd 40%,#8f99cb 46%,#919bcc 52%,#939ccd 58%,#99a2d0 64%,#a6add6 70%,#bfc3e1 76%,#fdfdfe 82%,#f6d7d0 88%,#f1c3ba 93%,#eebab0 97%,#edb5ab)}.dl{background:linear-gradient(90deg,#a50f15,#a50f15 8%,#b73e32 12%,#e09487 17%,#f8dbd5 22%,#dee0f0 28%,#9da6d2 34%,#939ccd 40%,#919bcc 46%,#8f99cb 52%,#8f99cb 58%,#99a2d0 64%,#a8afd7 70%,#c7cbe5 76%,#fffdfc 82%,#f6d4ce 88%,#f1c3ba 93%,#efbcb2 97%,#edb8ad)}.dm{background:linear-gradient(90deg,#a50f15,#a50f15 12%,#aa211d 17%,#d77e6f 22%,#f6d4ce 28%,#e2e4f2 34%,#a6add6 40%,#9da6d2 46%,#959ece 52%,#8f99cb 58%,#8692c8 64%,#919bcc 70%,#a8afd7 76%,#c5c9e4 82%,#fefafa 88%,#f6d7d0 93%,#f1c3ba 97%,#eebab0)}.dn{background:linear-gradient(90deg,#a50f15,#a50f15 12%,#c75d4e 17%,#e9aa9f 22%,#fdf6f4 28%,#cdd0e8 34%,#a8afd7 40%,#a2a9d4 46%,#97a0cf 52%,#919bcc 58%,#919bcc 64%,#a2a9d4 70%,#b6bcde 76%,#e2e4f2 82%,#fcedea 88%,#f3cbc4 93%,#f0c0b7 97%,#edb8ad)}.do{background:linear-gradient(90deg,#a50f15,#a50f15 8%,#b5392e 12%,#da8576 17%,#f1c5bc 22%,#f7f7fb 28%,#c3c7e3 34%,#b0b6db 40%,#aab1d8 46%,#9fa7d3 52%,#9ba4d1 58%,#9fa7d3 64%,#b2b8dc 70%,#c5c9e4 76%,#f7f7fb 82%,#fae4e0 88%,#f4cec6 93%,#f1c3ba 97%,#edb8ad)}.dp{background:linear-gradient(90deg,#a50f15,#a50f15 8%,#bc483a 12%,#de8e80 17%,#f1c3ba 22%,#ffffff 28%,#cdd0e8 34%,#b4badd 40%,#b0b6db 46%,#a8afd7 52%,#a2a9d4 58%,#a6add6 64%,#b6bcde 70%,#c5c9e4 76%,#ecedf6 82%,#fcefed 88%,#f8dbd5 93%,#f5d0c9 97%,#f1c3ba)}.dq{background:linear-gradient(90deg,#a50f15,#a50f15 4%,#ad2821 8%,#cb6656 12%,#e9aa9f 17%,#fbe8e5 22%,#dcdeef 28%,#acb2d9 34%,#aeb4da 40%,#aab1d8 46%,#a6add6 52%,#a2a9d4 58%,#aeb4da 64%,#bbbfdf 70%,#d5d8ec 76%,#fef8f7 82%,#f7d9d3 88%,#f6d4ce 93%,#f5d2cb 97%,#f1c5bc)}.dr{background:linear-gradient(90deg,#a50f15,#a50f15 8%,#c04f41 12%,#e39b8e 17%,#f7d9d3 22%,#e6e7f4 28%,#aeb4da 34%,#a2a9d4 40%,#9fa7d3 46%,#9fa7d3 58%,#aab1d8 64%,#b8bddf 70%,#cfd2e9 76%,#fefafa 82%,#f8dbd5 88%,#f5d2cb 93%,#f5d0c9 97%,#f1c3ba)}.ds{background:linear-gradient(90deg,#a81919,#b13127 4%,#c04f41 8%,#d17162 12%,#e6a497 17%,#fcefed 22%,#d5d8ec 28%,#c1c5e2 34%,#a8afd7 40%,#9da6d2 46%,#99a2d0 52%,#959ece 58%,#99a2d0 64%,#b4badd 70%,#dee0f0 76%,#f6d7d0 82%,#da8576 88%,#b4362c 93%,#a50f15 97%,#a50f15)}.dt{background:linear-gradient(90deg,#a50f15,#ad2821 4%,#bd4a3c 8%,#d27364 12%,#e9ada1 17%,#fdf4f2 22%,#d5d8ec 28%,#bbbfdf 34%,#9fa7d3 40%,#97a0cf 46%,#97a0cf 52%,#919bcc 58%,#959ece 64%,#aeb4da 70%,#dcdeef 76%,#f6d4ce 82%,#d88172 88%,#b02e25 93%,#a50f15 97%,#a50f15)}.du{background:linear-gradient(90deg,#a50f15,#a91d1b 4%,#b73e32 8%,#ca6454 12%,#e39b8e 17%,#fbe8e5 22%,#d5d8ec 28%,#b8bddf 34%,#99a2d0 40%,#8f99cb 46%,#8c97ca 52%,#8c97ca 58%,#959ece 64%,#aeb4da 70%,#dcdeef 76%,#f3cbc4 82%,#d17162 88%,#a81919 93%,#a50f15 97%,#a50f15)}.dv{background:linear-gradient(90deg,#aa211d,#ae2b23 4%,#bd4a3c 8%,#cb6656 12%,#e2998b 17%,#f6d7d0 22%,#e4e6f3 28%,#c9cde6 34%,#aeb4da 40%,#9fa7d3 46%,#9da6d2 52%,#99a2d0 58%,#959ece 64%,#aeb4da 70%,#d1d4ea 76%,#f9e2dd 82%,#e19789 88%,#c25445 93%,#a81919 97%,#a50f15)}.dw{background:linear-gradient(90deg,#a61417,#a91d1b 4%,#b63b30 8%,#c15243 12%,#da8576 17%,#f3c9c1 22%,#eaebf5 28%,#c7cbe5 34%,#a4abd5 40%,#919bcc 46%,#919bcc 52%,#8f99cb 58%,#8894c8 64%,#a4abd5 70%,#c7cbe5 76%,#fbebe7 82%,#e19789 88%,#bb4638 93%,#a50f15 97%,#a50f15)}.dx{background:linear-gradient(90deg,#b5392e,#bb4638 4%,#c25445 8%,#d06f5f 12%,#e49d90 17%,#f9e2dd 22%,#e0e2f1 28%,#c7cbe5 34%,#aab1d8 40%,#9ba4d1 46%,#99a2d0 52%,#97a0cf 58%,#99a2d0 64%,#aeb4da 70%,#dadcee 76%,#f5d2cb 82%,#d88172 88%,#b4362c 93%,#a50f15 97%,#a50f15)}.dy{background:linear-gradient(90deg,#bb4638,#c65b4b 4%,#cc6859 8%,#dc897b 12%,#f0c0b7 17%,#ffffff 22%,#d8daed 28%,#c1c5e2 34%,#aab1d8 40%,#a8afd7 46%,#a6add6 52%,#9fa7d3 58%,#acb2d9 64%,#bfc3e1 70%,#f7f7fb 76%,#edb5ab 82%,#cc6859 88%,#aa211d 93%,#a50f15 97%,#a50f15)}.dz{background:linear-gradient(90deg,#c15243,#ca6454 4%,#d57a6b 8%,#e49d90 12%,#f8dbd5 17%,#ecedf6 22%,#d1d4ea 28%,#bbbfdf 34%,#a8afd7 40%,#a6add6 46%,#a8afd7 52%,#a2a9d4 58%,#aeb4da 64%,#c3c7e3 70%,#fefafa 76%,#e9aa9f 82%,#c65b4b 88%,#aa211d 93%,#a50f15 97%,#a50f15)}.dA{background:linear-gradient(90deg,#b2332a,#bf4d3f 4%,#cd6b5b 8%,#de9082 12%,#f4cec6 17%,#eeeff7 22%,#c9cde6 28%,#b0b6db 34%,#9ba4d1 40%,#9ba4d1 46%,#9da6d2 52%,#97a0cf 58%,#a6add6 64%,#bfc3e1 70%,#fffdfc 76%,#e7a69a 82%,#bc483a 88%,#a50f15 93%,#a50f15)}.dB{background:linear-gradient(90deg,#b2332a,#c04f41 4%,#ca6454 8%,#da8576 12%,#efbcb2 17%,#fffdfc 22%,#d3d6eb 28%,#b8bddf 34%,#9fa7d3 40%,#a2a9d4 46%,#a4abd5 52%,#9ba4d1 58%,#9fa7d3 64%,#b6bcde 70%,#ecedf6 76%,#efbeb5 82%,#cf6d5d 88%,#a81919 93%,#a50f15 97%,#a50f15)}.dC{background:linear-gradient(90deg,#bc483a,#c96252 4%,#d67c6d 8%,#e49d90 12%,#f8dbd5 17%,#eeeff7 22%,#d1d4ea 28%,#b4badd 34%,#9fa7d3 40%,#a6add6 46%,#aab1d8 52%,#a2a9d4 58%,#b2b8dc 64%,#c5c9e4 70%,#fffdfc 76%,#eaafa3 82%,#c65b4b 88%,#aa211d 93%,#a50f15 97%,#a50f15)}.dD{background:linear-gradient(90deg,#c65b4b,#cb6656 4%,#d37666 8%,#df9284 12%,#f0c0b7 17%,#fdf6f4 22%,#dee0f0 28%,#c7cbe5 34%,#b0b6db 40%,#b0b6db 46%,#b2b8dc 52%,#acb2d9 58%,#b2b8dc 64%,#c5c9e4 70%,#e6e7f4 76%,#f7d9d3 82%,#de9082 88%,#c55849 93%,#b94134 97%,#b02e25)}.dE{background:linear-gradient(90deg,#bf4d3f,#c96252 4%,#d37666 8%,#e19789 12%,#f4cec6 17%,#f9f9fc 22%,#d1d4ea 28%,#b4badd 34%,#a2a9d4 40%,#a6add6 46%,#a8afd7 52%,#a2a9d4 58%,#b2b8dc 64%,#c7cbe5 70%,#f7f7fb 76%,#f1c5bc 82%,#d47868 88%,#b5392e 93%,#ac241f 97%,#a81919)}.dF{background:linear-gradient(90deg,#b94134,#c75d4e 4%,#d88172 8%,#e6a497 12%,#fae4e0 17%,#e2e4f2 22%,#c3c7e3 28%,#aab1d8 34%,#9fa7d3 40%,#9fa7d3 46%,#9da6d2 52%,#9ba4d1 58%,#b2b8dc 64%,#cbcee7 70%,#fdf1ef 76%,#e8a89c 82%,#c35647 88%,#a61417 93%,#a50f15 97%,#a50f15)}.dG{background:linear-gradient(90deg,#c04f41,#cf6d5d 4%,#de9082 8%,#edb5ab 12%,#fdf1ef 17%,#e0e2f1 22%,#c7cbe5 28%,#b0b6db 34%,#a6add6 40%,#9fa7d3 46%,#9fa7d3 52%,#a8afd7 58%,#c1c5e2 64%,#e0e2f1 70%,#f9dfdb 76%,#e49d90 82%,#bd4a3c 88%,#aa211d 93%,#a50f15 97%,#a61417)}.dH{background:linear-gradient(90deg,#c55849,#d37666 4%,#e09487 8%,#edb5ab 12%,#fcedea 17%,#e2e4f2 22%,#cdd0e8 28%,#bdc1e0 34%,#b4badd 40%,#aab1d8 46%,#a6add6 52%,#aab1d8 58%,#c1c5e2 64%,#d8daed 70%,#fcedea 76%,#e9ada1 82%,#ca6454 88%,#b63b30 93%,#ac241f 97%,#aa211d)}</style><foreignObject x="188.9" y="1286" width="616.7" height="1756.5"><div class="hm" style="position:relative;width:616.7px;height:1756.5px;overflow:hidden"><b style="top:0px;height:81px"><i class="h"></i><i class="g"></i><i class="g"></i><i class="g"></i><i class="h"></i><i class="i"></i><i class="h"></i><i class="g"></i><i class="m"></i><i class="m"></i><i class="n"></i><i class="n"></i><i class="n"></i><i class="m"></i><i class="l"></i><i class="l"></i><i class="n"></i><i class="n"></i><i class="j"></i><i class="k"></i><i class="j"></i><i class="i"></i><i class="i"></i><i class="j"></i><i class="i"></i><i class="h"></i><i class="g"></i><i class="f"></i><i class="g"></i><i class="h"></i><i class="h"></i><i class="h"></i><i class="i"></i><i class="h"></i><i class="i"></i><i class="i"></i><i class="h"></i><i class="i"></i><i class="i"></i><i class="h"></i><i class="h"></i></b><b style="top:81px;height:129px"><i class="v"></i><i class="v"></i><i class="w"></i><i class="x"></i><i class="y"></i><i class="y"></i><i class="y"></i><i class="x"></i><i class="w"></i><i class="w"></i><i class="v"></i><i class="u"></i><i class="v"></i><i class="C"></i><i class="C"></i><i class="D"></i><i class="D"></i><i class="E"></i><i class="F"></i><i class="F"></i><i class="E"></i><i class="E"></i><i class="E"></i><i class="E"></i><i class="E"></i><i class="D"></i><i class="D"></i><i class="D"></i><i class="C"></i><i class="C"></i><i class="B"></i><i class="B"></i><i class="C"></i><i class="B"></i><i class="B"></i><i class="B"></i><i class="A"></i><i class="A"></i><i class="A"></i><i class="B"></i><i class="A"></i><i class="A"></i><i class="B"></i><i class="C"></i><i class="C"></i><i class="D"></i><i class="D"></i><i class="C"></i><i class="B"></i><i class="B"></i><i class="r"></i><i class="r"></i><i class="r"></i><i class="s"></i><i class="t"></i><i class="t"></i><i class="u"></i><i class="u"></i><i class="v"></i><i class="v"></i><i class="u"></i><i class="u"></i><i class="u"></i><i class="u"></i><i class="v"></i></b><b style="top:210px;height:133px"><i class="V"></i><i class="V"></i><i class="V"></i><i class="V"></i><i class="V"></i><i class="U"></i><i class="U"></i><i class="U"></i><i class="Q"></i><i class="R"></i><i class="S"></i><i class="R"></i><i class="S"></i><i class="T"></i><i class="T"></i><i class="U"></i><i class="T"></i><i class="S"></i><i class="T"></i><i class="S"></i><i class="R"></i><i class="R"></i><i class="Q"></i><i class="P"></i><i class="P"></i><i class="P"></i><i class="O"></i><i class="P"></i><i class="O"></i><i class="P"></i><i class="O"></i><i class="P"></i><i class="P"></i><i class="Q"></i><i class="Q"></i><i class="Q"></i><i class="R"></i><i class="Q"></i><i class="Q"></i><i class="P"></i><i class="P"></i><i class="P"></i><i class="P"></i><i class="O"></i><i class="P"></i><i class="P"></i><i class="P"></i><i class="Q"></i><i class="Q"></i><i class="R"></i><i class="Q"></i><i class="R"></i><i class="R"></i><i class="R"></i><i class="R"></i><i class="S"></i><i class="T"></i><i class="T"></i><i class="T"></i><i class="T"></i><i class="T"></i><i class="H"></i><i class="I"></i><i class="J"></i><i class="K"></i><i class="L"></i><i class="K"></i></b><b style="top:347.7px;height:61.3px"><i class="ag"></i><i class="af"></i><i class="af"></i><i class="af"></i><i class="ag"></i><i class="ah"></i><i class="ah"></i><i class="ag"></i><i class="af"></i><i class="ag"></i><i class="ag"></i><i class="ag"></i><i class="ah"></i><i class="ah"></i><i class="ah"></i><i class="ag"></i><i class="ag"></i><i class="ag"></i><i class="ag"></i><i class="ah"></i><i class="ag"></i><i class="ak"></i><i class="ac"></i><i class="ab"></i><i class="aa"></i><i class="aa"></i><i class="Z"></i><i class="aa"></i><i class="Z"></i><i class="Z"></i><i class="Y"></i></b><b style="top:409px;height:50px"><i class="ar"></i><i class="as"></i><i class="at"></i><i class="as"></i><i class="as"></i><i class="as"></i><i class="as"></i><i class="at"></i><i class="au"></i><i class="au"></i><i class="au"></i><i class="at"></i><i class="at"></i><i class="at"></i><i class="at"></i><i class="at"></i><i class="as"></i><i class="as"></i><i class="at"></i><i class="at"></i><i class="as"></i><i class="as"></i><i class="as"></i><i class="as"></i><i class="as"></i></b><b style="top:459px;height:27px"><i class="aP"></i><i class="aP"></i><i class="aP"></i><i class="aP"></i><i class="aP"></i><i class="aQ"></i><i class="aQ"></i><i class="aP"></i><i class="aO"></i><i class="aO"></i><i class="aO"></i><i class="aO"></i><i class="aN"></i><i class="aO"></i></b><b style="top:486px;height:42.5px"><i class="a4"></i><i class="a4"></i><i class="a4"></i><i class="a2"></i><i class="a3"></i><i class="a3"></i><i class="a3"></i><i class="a4"></i><i class="a4"></i><i class="a5"></i><i class="a5"></i><i class="a6"></i><i class="a5"></i><i class="a5"></i><i class="a6"></i><i class="a7"></i><i class="a6"></i><i class="a7"></i><i class="a7"></i><i class="a6"></i><i class="a7"></i><i class="a6"></i></b><b style="top:532.5px;height:25.5px"><i class="bn"></i><i class="bn"></i><i class="bn"></i><i class="bn"></i><i class="bn"></i><i class="bm"></i><i class="bm"></i><i class="bm"></i><i class="bn"></i><i class="bn"></i><i class="bm"></i><i class="bm"></i><i class="bl"></i></b><b style="top:558px;height:115px"><i class="br"></i><i class="br"></i><i class="br"></i><i class="br"></i><i class="br"></i><i class="by"></i><i class="bq"></i><i class="bp"></i><i class="bo"></i><i class="bp"></i><i class="bp"></i><i class="bq"></i><i class="br"></i><i class="bs"></i><i class="bs"></i><i class="bt"></i><i class="bu"></i><i class="bu"></i><i class="bu"></i><i class="bv"></i><i class="bv"></i><i class="bv"></i><i class="bw"></i><i class="bw"></i><i class="bx"></i><i class="bx"></i><i class="by"></i><i class="by"></i><i class="by"></i><i class="bz"></i><i class="bz"></i><i class="by"></i><i class="by"></i><i class="bz"></i><i class="bz"></i><i class="bA"></i><i class="bz"></i><i class="by"></i><i class="bx"></i><i class="bw"></i><i class="bx"></i><i class="by"></i><i class="by"></i><i class="bz"></i><i class="bz"></i><i class="bz"></i><i class="bz"></i><i class="bA"></i><i class="bA"></i><i class="bA"></i><i class="bz"></i><i class="bz"></i><i class="bA"></i><i class="bA"></i><i class="bA"></i><i class="bz"></i><i class="bz"></i><i class="bA"></i></b><b style="top:673px;height:130.7px"><i class="bI"></i><i class="bH"></i><i class="bH"></i><i class="bH"></i><i class="bH"></i><i class="bG"></i><i class="bH"></i><i class="bI"></i><i class="bI"></i><i class="bI"></i><i class="bJ"></i><i class="bI"></i><i class="bI"></i><i class="bJ"></i><i class="bK"></i><i class="bL"></i><i class="bK"></i><i class="bJ"></i><i class="bK"></i><i class="bK"></i><i class="bL"></i><i class="bM"></i><i class="bN"></i><i class="bN"></i><i class="bN"></i><i class="bO"></i><i class="bP"></i><i class="bO"></i><i class="bO"></i><i class="bN"></i><i class="bM"></i><i class="bM"></i><i class="bN"></i><i class="bM"></i><i class="bM"></i><i class="bL"></i><i class="bM"></i><i class="bM"></i><i class="bN"></i><i class="bN"></i><i class="bN"></i><i class="bN"></i><i class="bN"></i><i class="bN"></i><i class="bO"></i><i class="bN"></i><i class="bN"></i><i class="bM"></i><i class="bM"></i><i class="bL"></i><i class="bL"></i><i class="bK"></i><i class="bJ"></i><i class="bK"></i><i class="bL"></i><i class="bM"></i><i class="bN"></i><i class="bN"></i><i class="bN"></i><i class="bN"></i><i class="bN"></i><i class="bM"></i><i class="bL"></i><i class="bM"></i><i class="bM"></i><i class="bN"></i></b><b style="top:807.7px;height:298.3px"><i class="bZ"></i><i class="bY"></i><i class="bX"></i><i class="bX"></i><i class="bW"></i><i class="bX"></i><i class="bX"></i><i class="bX"></i><i class="bX"></i><i class="bX"></i><i class="bY"></i><i class="bZ"></i><i class="bY"></i><i class="bY"></i><i class="bX"></i><i class="bY"></i><i class="bY"></i><i class="bZ"></i><i class="b4"></i><i class="b3"></i><i class="b2"></i><i class="b3"></i><i class="b4"></i><i class="b4"></i><i class="b3"></i><i class="b2"></i><i class="b3"></i><i class="b3"></i><i class="b3"></i><i class="b2"></i><i class="b2"></i><i class="b3"></i><i class="b2"></i><i class="b2"></i><i class="b2"></i><i class="b3"></i><i class="b2"></i><i class="b2"></i><i class="b2"></i><i class="b3"></i><i class="b0"></i><i class="b0"></i><i class="b1"></i><i class="b0"></i><i class="bZ"></i><i class="b0"></i><i class="b0"></i><i class="b0"></i><i class="bZ"></i><i class="bZ"></i><i class="b0"></i><i class="b1"></i><i class="b0"></i><i class="b1"></i><i class="b0"></i><i class="b0"></i><i class="bZ"></i><i class="bY"></i><i class="bX"></i><i class="bW"></i><i class="bV"></i><i class="bV"></i><i class="bU"></i><i class="bU"></i><i class="bU"></i><i class="bV"></i><i class="bV"></i><i class="bV"></i><i class="bW"></i><i class="bV"></i><i class="bV"></i><i class="bW"></i><i class="bW"></i><i class="bV"></i><i class="bW"></i><i class="bW"></i><i class="bX"></i><i class="bX"></i><i class="bY"></i><i class="bY"></i><i class="bX"></i><i class="bW"></i><i class="bX"></i><i class="bX"></i><i class="bW"></i><i class="bW"></i><i class="bW"></i><i class="bX"></i><i class="bY"></i><i class="bY"></i><i class="bX"></i><i class="bX"></i><i class="bX"></i><i class="bY"></i><i class="bY"></i><i class="bY"></i><i class="bZ"></i><i class="bZ"></i><i class="b0"></i><i class="b1"></i><i class="b2"></i><i class="b2"></i><i class="b2"></i><i class="b3"></i><i class="b3"></i><i class="b4"></i><i class="b3"></i><i class="b2"></i><i class="b2"></i><i class="b2"></i><i class="b3"></i><i class="b4"></i><i class="b4"></i><i class="b4"></i><i class="b4"></i><i class="b4"></i><i class="b5"></i><i class="b6"></i><i class="b7"></i><i class="b8"></i><i class="b8"></i><i class="b9"></i><i class="b9"></i><i class="b9"></i><i class="b9"></i><i class="b9"></i><i class="b9"></i><i class="b8"></i><i class="b7"></i><i class="b7"></i><i class="b8"></i><i class="b9"></i><i class="b9"></i><i class="b9"></i><i class="b9"></i><i class="b9"></i><i class="b9"></i><i class="b9"></i><i class="b8"></i><i class="b7"></i><i class="b7"></i><i class="b7"></i><i class="b6"></i><i class="b7"></i><i class="b7"></i><i class="b8"></i><i class="b8"></i><i class="b8"></i><i class="b8"></i><i class="b9"></i></b><b style="top:1106px;height:178px"><i class="cp"></i><i class="cp"></i><i class="cp"></i><i class="cp"></i><i class="cp"></i><i class="cp"></i><i class="cp"></i><i class="cp"></i><i class="co"></i><i class="co"></i><i class="co"></i><i class="cn"></i><i class="co"></i><i class="co"></i><i class="co"></i><i class="cn"></i><i class="co"></i><i class="co"></i><i class="cp"></i><i class="cp"></i><i class="cp"></i><i class="cp"></i><i class="cp"></i><i class="co"></i><i class="cp"></i><i class="cp"></i><i class="co"></i><i class="cp"></i><i class="co"></i><i class="co"></i><i class="cn"></i><i class="cn"></i><i class="cn"></i><i class="co"></i><i class="cp"></i><i class="co"></i><i class="cn"></i><i class="cj"></i><i class="cj"></i><i class="cj"></i><i class="ck"></i><i class="cl"></i><i class="cm"></i><i class="cl"></i><i class="cm"></i><i class="cm"></i><i class="cn"></i><i class="cn"></i><i class="cm"></i><i class="cn"></i><i class="cm"></i><i class="cm"></i><i class="cl"></i><i class="cm"></i><i class="cm"></i><i class="cl"></i><i class="cm"></i><i class="cm"></i><i class="cm"></i><i class="cn"></i><i class="co"></i><i class="cn"></i><i class="cn"></i><i class="co"></i><i class="cp"></i><i class="co"></i><i class="cn"></i><i class="cn"></i><i class="co"></i><i class="cp"></i><i class="cp"></i><i class="cp"></i><i class="co"></i><i class="ce"></i><i class="ce"></i><i class="cf"></i><i class="cj"></i><i class="cj"></i><i class="cl"></i><i class="ck"></i><i class="ck"></i><i class="cj"></i><i class="ck"></i><i class="cj"></i><i class="cj"></i><i class="ce"></i><i class="cf"></i><i class="cg"></i><i class="cg"></i></b><b style="top:1284px;height:6.7px"><i class="cA"></i><i class="cB"></i><i class="cA"></i><i class="cz"></i></b><b style="top:1294.8px;height:259.2px"><i class="cR"></i><i class="cQ"></i><i class="cQ"></i><i class="cR"></i><i class="cR"></i><i class="cR"></i><i class="cR"></i><i class="cQ"></i><i class="cQ"></i><i class="cP"></i><i class="cQ"></i><i class="cP"></i><i class="cQ"></i><i class="cK"></i><i class="cJ"></i><i class="cK"></i><i class="cJ"></i><i class="cI"></i><i class="cJ"></i><i class="cI"></i><i class="cH"></i><i class="cH"></i><i class="cH"></i><i class="cH"></i><i class="cH"></i><i class="cI"></i><i class="cJ"></i><i class="cI"></i><i class="cJ"></i><i class="cJ"></i><i class="cI"></i><i class="cI"></i><i class="cJ"></i><i class="cK"></i><i class="cK"></i><i class="cK"></i><i class="cL"></i><i class="cK"></i><i class="cJ"></i><i class="cK"></i><i class="cJ"></i><i class="cJ"></i><i class="cK"></i><i class="cJ"></i><i class="cI"></i><i class="cJ"></i><i class="cI"></i><i class="cJ"></i><i class="cI"></i><i class="cH"></i><i class="cH"></i><i class="cH"></i><i class="cI"></i><i class="cI"></i><i class="cH"></i><i class="cI"></i><i class="cJ"></i><i class="cK"></i><i class="cJ"></i><i class="cK"></i><i class="cJ"></i><i class="cJ"></i><i class="cJ"></i><i class="cI"></i><i class="cH"></i><i class="cH"></i><i class="cH"></i><i class="cH"></i><i class="cH"></i><i class="cH"></i><i class="cH"></i><i class="cH"></i><i class="cH"></i><i class="cU"></i><i class="cI"></i><i class="cH"></i><i class="cG"></i><i class="cG"></i><i class="cG"></i><i class="cR"></i><i class="cR"></i><i class="cQ"></i><i class="cQ"></i><i class="cP"></i><i class="cQ"></i><i class="cQ"></i><i class="cQ"></i><i class="cR"></i><i class="cQ"></i><i class="cQ"></i><i class="cQ"></i><i class="cQ"></i><i class="cQ"></i><i class="cP"></i><i class="cQ"></i><i class="cQ"></i><i class="cP"></i><i class="cK"></i><i class="cL"></i><i class="cK"></i><i class="cK"></i><i class="cJ"></i><i class="cJ"></i><i class="cI"></i><i class="cH"></i><i class="cH"></i><i class="cI"></i><i class="cI"></i><i class="cH"></i><i class="cH"></i><i class="cH"></i><i class="cH"></i><i class="cI"></i><i class="cH"></i><i class="cG"></i><i class="cG"></i><i class="cG"></i><i class="cH"></i><i class="cG"></i><i class="cN"></i><i class="cM"></i><i class="cM"></i><i class="cM"></i><i class="cM"></i><i class="cN"></i><i class="cN"></i><i class="cM"></i><i class="cM"></i><i class="cL"></i><i class="cM"></i></b><b style="top:1554px;height:99.4px"><i class="c5"></i><i class="c4"></i><i class="c4"></i><i class="c4"></i><i class="c5"></i><i class="c6"></i><i class="c6"></i><i class="c6"></i><i class="c5"></i><i class="c4"></i><i class="c5"></i><i class="c4"></i><i class="c4"></i><i class="c3"></i><i class="c3"></i><i class="c4"></i><i class="c4"></i><i class="c4"></i><i class="c4"></i><i class="c4"></i><i class="c4"></i><i class="c5"></i><i class="c4"></i><i class="c4"></i><i class="c4"></i><i class="c3"></i><i class="c3"></i><i class="c2"></i><i class="c1"></i><i class="c1"></i><i class="c1"></i><i class="c0"></i><i class="c0"></i><i class="cZ"></i><i class="cZ"></i><i class="cZ"></i><i class="cZ"></i><i class="cZ"></i><i class="cZ"></i><i class="cY"></i><i class="cY"></i><i class="cZ"></i><i class="cZ"></i><i class="cY"></i><i class="cZ"></i><i class="cZ"></i><i class="cZ"></i><i class="c0"></i><i class="c0"></i><i class="cZ"></i></b><b style="top:1658px;height:39px"><i class="do"></i><i class="do"></i><i class="dp"></i><i class="dq"></i><i class="dq"></i><i class="dp"></i><i class="dq"></i><i class="dq"></i><i class="dd"></i><i class="dc"></i><i class="dc"></i><i class="dc"></i><i class="dc"></i><i class="dd"></i><i class="dc"></i><i class="dc"></i><i class="dd"></i><i class="dd"></i><i class="de"></i><i class="dd"></i></b><b style="top:1697px;height:59.5px"><i class="dy"></i><i class="dx"></i><i class="dy"></i><i class="dx"></i><i class="dB"></i><i class="dA"></i><i class="dA"></i><i class="dz"></i><i class="dz"></i><i class="dz"></i><i class="dt"></i><i class="du"></i><i class="dt"></i><i class="ds"></i><i class="ds"></i><i class="dt"></i><i class="dB"></i><i class="dC"></i><i class="dC"></i><i class="dB"></i><i class="dC"></i><i class="dB"></i><i class="dA"></i><i class="dB"></i><i class="dB"></i><i class="dz"></i><i class="dy"></i><i class="dy"></i><i class="dy"></i><i class="dz"></i></b></div></foreignObject>
<rect x="188.9" y="1286" width="616.7" height="343" fill="none" stroke="#3a3a3a" stroke-width="1.3" />
<rect x="188.9" y="1633.7" width="616.7" height="180.8" fill="none" stroke="#3a3a3a" stroke-width="1.3" />
<rect x="188.9" y="1818.5" width="616.7" height="271.2" fill="none" stroke="#3a3a3a" stroke-width="1.3" />
<rect x="188.9" y="2093.7" width="616.7" height="483" fill="none" stroke="#3a3a3a" stroke-width="1.3" />
<rect x="188.9" y="2580.8" width="616.7" height="358.6" fill="none" stroke="#3a3a3a" stroke-width="1.3" />
<rect x="188.9" y="2944" width="616.7" height="98.5" fill="none" stroke="#3a3a3a" stroke-width="1.3" />
<rect x="187.9" y="1629.7" width="618.7" height="3.3" fill="#fff" />
<rect x="187.9" y="1815.2" width="618.7" height="2.6" fill="#fff" />
<rect x="187.9" y="2090.4" width="618.7" height="2.6" fill="#fff" />
<rect x="187.9" y="2577.4" width="618.7" height="2.7" fill="#fff" />
<rect x="187.9" y="2940.1" width="618.7" height="3.2" fill="#fff" />
<polygon points="167.5,1421 185.5,1286 185.5,1629 167.5,1491.5" fill="#e3e3e3" />
<polygon points="167.5,1688.7 185.5,1633.7 185.5,1814.5 167.5,1759.2" fill="#e3e3e3" />
<polygon points="167.5,1920 185.5,1818.5 185.5,2089.7 167.5,1990.5" fill="#e3e3e3" />
<polygon points="167.5,2300 185.5,2093.7 185.5,2576.7 167.5,2370.5" fill="#e3e3e3" />
<polygon points="167.5,2725 185.5,2580.8 185.5,2939.4 167.5,2795.5" fill="#e3e3e3" />
<polygon points="167.5,2960 185.5,2944 185.5,3042.5 167.5,3030.5" fill="#e3e3e3" />
<rect x="40.6" y="1421" width="126.3" height="70.5" fill="#fff" stroke="#666" stroke-width="1.6" />
<rect x="41.3" y="1421.7" width="124.9" height="3.6" fill="#dedede" />
<path d="M40.6 1438C43.1 1439 49.4 1441.2 55.8 1444C62.1 1446.8 70.5 1452.2 78.5 1455C86.5 1457.8 95.3 1459.2 103.8 1460.5C112.2 1461.8 118.5 1461.6 129 1463C139.5 1464.4 160.6 1468 166.9 1469" fill="none" stroke="#d42a2f" stroke-width="2.2"/>
<rect x="42" y="1425.3" width="123.6" height="20.2" fill="none" stroke="#333" stroke-width="1.3" />
<text x="104.3" y="1440.7" font-size="15.1" fill="#e0672f" text-anchor="middle" font-style="italic">Gene Size: 1098</text>
<text x="31" y="1456.2" font-size="18.5" fill="#111" text-anchor="middle" transform="rotate(-90 31 1456.2)">C6</text>
<rect x="40.6" y="1688.7" width="126.3" height="70.5" fill="#fff" stroke="#666" stroke-width="1.6" />
<rect x="41.3" y="1689.4" width="124.9" height="3.6" fill="#dedede" />
<path d="M40.6 1723.5C43.8 1723.2 52.2 1722.5 59.5 1721.5C66.9 1720.5 76.4 1718.1 84.8 1717.7C93.2 1717.3 101.6 1717 110.1 1719C118.5 1721 125.9 1725.6 135.3 1730C144.8 1734.4 161.6 1742.9 166.9 1745.5" fill="none" stroke="#d42a2f" stroke-width="2.2"/>
<rect x="42" y="1693" width="123.6" height="20.2" fill="none" stroke="#333" stroke-width="1.3" />
<text x="104.3" y="1708.4" font-size="15.1" fill="#6a3d9a" text-anchor="middle" font-style="italic">Gene Size: 583</text>
<text x="31" y="1724" font-size="18.5" fill="#111" text-anchor="middle" transform="rotate(-90 31 1724)">C5</text>
<rect x="40.6" y="1920" width="126.3" height="70.5" fill="#fff" stroke="#666" stroke-width="1.6" />
<rect x="41.3" y="1920.7" width="124.9" height="3.6" fill="#dedede" />
<path d="M40.6 1971C46.9 1968.7 68 1960.7 78.5 1957C89 1953.3 97.4 1951 103.8 1949C110.1 1947 111.1 1944.7 116.4 1945C121.6 1945.3 126.9 1947.2 135.3 1951C143.7 1954.8 161.6 1965.2 166.9 1968" fill="none" stroke="#d42a2f" stroke-width="2.2"/>
<rect x="42" y="1924.3" width="123.6" height="20.2" fill="none" stroke="#333" stroke-width="1.3" />
<text x="104.3" y="1939.7" font-size="15.1" fill="#9aae2a" text-anchor="middle" font-style="italic">Gene Size: 867</text>
<text x="31" y="1955.2" font-size="18.5" fill="#111" text-anchor="middle" transform="rotate(-90 31 1955.2)">C3</text>
<rect x="40.6" y="2300" width="126.3" height="70.5" fill="#fff" stroke="#666" stroke-width="1.6" />
<rect x="41.3" y="2300.7" width="124.9" height="3.6" fill="#dedede" />
<path d="M40.6 2352.5C45.9 2350.9 61.6 2346.2 72.2 2343C82.7 2339.8 94.3 2335.9 103.8 2333.5C113.2 2331.1 121.6 2329.6 129 2328.5C136.4 2327.4 141.6 2327 148 2327C154.3 2327 163.7 2328.2 166.9 2328.5" fill="none" stroke="#d42a2f" stroke-width="2.2"/>
<rect x="42" y="2304.3" width="123.6" height="20.2" fill="none" stroke="#333" stroke-width="1.3" />
<text x="104.3" y="2319.7" font-size="15.1" fill="#2a9a3a" text-anchor="middle" font-style="italic">Gene Size: 1548</text>
<text x="31" y="2335.2" font-size="18.5" fill="#111" text-anchor="middle" transform="rotate(-90 31 2335.2)">C2</text>
<rect x="40.6" y="2725" width="126.3" height="70.5" fill="#fff" stroke="#666" stroke-width="1.6" />
<rect x="41.3" y="2725.7" width="124.9" height="3.6" fill="#dedede" />
<path d="M40.6 2769C46.9 2768.8 68 2768.4 78.5 2768C89 2767.6 95.3 2767.7 103.8 2766.5C112.2 2765.3 121.6 2763.4 129 2761C136.4 2758.6 141.6 2755.3 148 2752C154.3 2748.7 163.7 2742.8 166.9 2741" fill="none" stroke="#d42a2f" stroke-width="2.2"/>
<rect x="42" y="2729.3" width="123.6" height="20.2" fill="none" stroke="#333" stroke-width="1.3" />
<text x="104.3" y="2744.7" font-size="15.1" fill="#d6276e" text-anchor="middle" font-style="italic">Gene Size: 1153</text>
<text x="31" y="2760.2" font-size="18.5" fill="#111" text-anchor="middle" transform="rotate(-90 31 2760.2)">C1</text>
<rect x="40.6" y="2960" width="126.3" height="70.5" fill="#fff" stroke="#666" stroke-width="1.6" />
<rect x="41.3" y="2960.7" width="124.9" height="3.6" fill="#dedede" />
<path d="M40.6 2977.7C44.8 2980.1 57.4 2987.9 65.9 2992C74.3 2996.1 83.8 2999.9 91.1 3002C98.5 3004.1 102.7 3005.2 110.1 3004.5C117.4 3003.8 125.9 3001.3 135.3 2998C144.8 2994.7 161.6 2986.8 166.9 2984.6" fill="none" stroke="#d42a2f" stroke-width="2.2"/>
<rect x="42" y="2964.3" width="123.6" height="20.2" fill="none" stroke="#333" stroke-width="1.3" />
<text x="104.3" y="2979.7" font-size="15.1" fill="#5b2a8a" text-anchor="middle" font-style="italic">Gene Size: 315</text>
<text x="31" y="2995.2" font-size="18.5" fill="#111" text-anchor="middle" transform="rotate(-90 31 2995.2)">C4</text>
<defs><linearGradient id="zs" x1="0" y1="0" x2="0" y2="1"><stop offset="0%" stop-color="#a50f15"/><stop offset="12.5%" stop-color="#c55849"/><stop offset="25%" stop-color="#de9082"/><stop offset="37.5%" stop-color="#f2c7bf"/><stop offset="50%" stop-color="#ffffff"/><stop offset="62.5%" stop-color="#cbcee7"/><stop offset="75%" stop-color="#97a0cf"/><stop offset="87.5%" stop-color="#6074b7"/><stop offset="100%" stop-color="#0c4c9f"/></linearGradient></defs>
<text x="825" y="1300.5" font-size="12.5" fill="#111" font-weight="bold">Z−score</text>
<rect x="824.9" y="1308.3" width="15" height="69.8" fill="url(#zs)" />
<rect x="824.9" y="1305.3" width="15" height="3" fill="#a50f15" />
<rect x="824.9" y="1378.1" width="15" height="3.1" fill="#0c4c9f" />
<text x="842.5" y="1312.7" font-size="12.5" fill="#111">2</text>
<text x="842.5" y="1330.2" font-size="12.5" fill="#111">1</text>
<text x="842.5" y="1347.7" font-size="12.5" fill="#111">0</text>
<text x="842.5" y="1365.2" font-size="12.5" fill="#111">−1</text>
<text x="842.5" y="1382.7" font-size="12.5" fill="#111">−2</text>
<polygon points="915.5,1286 934,1366.5 934,1541 915.5,1629" fill="#e3e3e3" />
<rect x="897.6" y="1286" width="17.9" height="343" fill="#ffe500" />
<text x="909.5" y="1457.5" font-size="9" fill="#fff" text-anchor="middle" transform="rotate(-90 909.5 1457.5)" fill-opacity="0.75">n:1098</text>
<polygon points="915.5,1633.7 934,1636.6 934,1811 915.5,1814.5" fill="#e3e3e3" />
<rect x="897.6" y="1633.7" width="17.9" height="180.8" fill="#f47f2a" />
<text x="909.5" y="1724.1" font-size="9" fill="#fff" text-anchor="middle" transform="rotate(-90 909.5 1724.1)" fill-opacity="0.75">n:583</text>
<polygon points="915.5,1818.5 934,1866.6 934,2042 915.5,2089.7" fill="#e3e3e3" />
<rect x="897.6" y="1818.5" width="17.9" height="271.2" fill="#1f8a43" />
<text x="909.5" y="1954.1" font-size="9" fill="#fff" text-anchor="middle" transform="rotate(-90 909.5 1954.1)" fill-opacity="0.75">n:867</text>
<polygon points="915.5,2093.7 934,2247.7 934,2422.3 915.5,2576.7" fill="#e3e3e3" />
<rect x="897.6" y="2093.7" width="17.9" height="483" fill="#272d6b" />
<text x="909.5" y="2335.2" font-size="9" fill="#fff" text-anchor="middle" transform="rotate(-90 909.5 2335.2)" fill-opacity="0.75">n:1548</text>
<polygon points="915.5,2580.8 934,2673.3 934,2847.6 915.5,2939.4" fill="#e3e3e3" />
<rect x="897.6" y="2580.8" width="17.9" height="358.6" fill="#d51f2b" />
<text x="909.5" y="2760.1" font-size="9" fill="#fff" text-anchor="middle" transform="rotate(-90 909.5 2760.1)" fill-opacity="0.75">n:1153</text>
<polygon points="915.5,2944 934,2868.6 934,3042.4 915.5,3042.5" fill="#e3e3e3" />
<rect x="897.6" y="2944" width="17.9" height="98.5" fill="#8b2b8f" />
<text x="909.5" y="2993.2" font-size="9" fill="#fff" text-anchor="middle" transform="rotate(-90 909.5 2993.2)" fill-opacity="0.75">n:315</text>
<line x1="809.5" y1="1758.6" x2="823.9" y2="1758.6" stroke="#555" stroke-width="1.4" />
<text x="829.3" y="1764.8" font-size="17.3" fill="#f08a4b" font-style="italic">Tspan18</text>
<line x1="809.5" y1="1828.8" x2="823.9" y2="1828.8" stroke="#555" stroke-width="1.4" />
<text x="829.3" y="1835" font-size="17.3" fill="#1e9a4a" font-style="italic">Spp1</text>
<line x1="809.5" y1="2006.8" x2="823.9" y2="2006.8" stroke="#555" stroke-width="1.4" />
<text x="829.3" y="2013" font-size="17.3" fill="#1e9a4a" font-style="italic">Itgb1</text>
<line x1="809.5" y1="2041" x2="823.9" y2="2041" stroke="#555" stroke-width="1.4" />
<text x="829.3" y="2047.2" font-size="17.3" fill="#1e9a4a" font-style="italic">Tspan9</text>
<path d="M806 1791H812L818 1784H824M812 1791L818 1798H824" fill="none" stroke="#555" stroke-width="1.4"/>
<text x="829.3" y="1789.7" font-size="17.3" fill="#f08a4b" font-style="italic">Bmp1</text>
<text x="829.3" y="1804.7" font-size="17.3" fill="#f08a4b" font-style="italic">Tspan7</text>
<line x1="188" y1="3054.5" x2="260.6" y2="3054.5" stroke="#8f95d0" stroke-width="1.5" />
<text x="228.3" y="3098" font-size="17.5" fill="#8f95d0" text-anchor="middle" transform="rotate(-45 228.3 3098)">Mø−3</text>
<line x1="291.6" y1="3054.5" x2="364.2" y2="3054.5" stroke="#3dbf7a" stroke-width="1.5" />
<text x="331.9" y="3098" font-size="17.5" fill="#3dbf7a" text-anchor="middle" transform="rotate(-45 331.9 3098)">Mø−1</text>
<line x1="402.9" y1="3054.5" x2="476.2" y2="3054.5" stroke="#d6559a" stroke-width="1.5" />
<text x="443.5" y="3098" font-size="17.5" fill="#d6559a" text-anchor="middle" transform="rotate(-45 443.5 3098)">Monocytes</text>
<line x1="507.3" y1="3054.5" x2="579.8" y2="3054.5" stroke="#f58a4f" stroke-width="1.5" />
<text x="547.5" y="3098" font-size="17.5" fill="#f58a4f" text-anchor="middle" transform="rotate(-45 547.5 3098)">Mø−2</text>
<line x1="614.5" y1="3054.5" x2="687" y2="3054.5" stroke="#b9c07a" stroke-width="1.5" />
<text x="654.8" y="3098" font-size="17.5" fill="#b9c07a" text-anchor="middle" transform="rotate(-45 654.8 3098)">Mø−4</text>
<line x1="727.4" y1="3054.5" x2="799.9" y2="3054.5" stroke="#f9c4f0" stroke-width="1.5" />
<text x="767.6" y="3098" font-size="17.5" fill="#f9c4f0" text-anchor="middle" transform="rotate(-45 767.6 3098)">Mø−5</text>
<rect x="934.4" y="1366.5" width="1203.1" height="174.5" fill="#fff" stroke="#9a9a9a" stroke-width="1.4" /><rect x="934.4" y="1636.6" width="1203.1" height="174.4" fill="#fff" stroke="#9a9a9a" stroke-width="1.4" /><rect x="934.4" y="1866.6" width="1203.1" height="175.4" fill="#fff" stroke="#9a9a9a" stroke-width="1.4" /><rect x="934.4" y="2247.7" width="1203.1" height="174.6" fill="#fff" stroke="#9a9a9a" stroke-width="1.4" /><rect x="934.4" y="2673.3" width="1203.1" height="174.3" fill="#fff" stroke="#9a9a9a" stroke-width="1.4" /><rect x="934.4" y="2868.6" width="1203.1" height="173.8" fill="#fff" stroke="#9a9a9a" stroke-width="1.4" />
<path d="M955 1405.6V1500.9M988.6 1405.6V1500.9M1022.2 1405.6V1500.9M1055.9 1405.6V1500.9M1089.5 1405.6V1500.9M1123.1 1405.6V1500.9M1156.8 1405.6V1500.9M1190.4 1405.6V1500.9M1224 1405.6V1500.9M941.8 1416.9H1246M941.8 1435.2H1246M941.8 1453.6H1246M941.8 1471.9H1246M941.8 1490.3H1246M1553.9 1373.9V1501.4M1584.3 1373.9V1501.4M1614.7 1373.9V1501.4M1645.1 1373.9V1501.4M1675.5 1373.9V1501.4M1705.9 1373.9V1501.4M1736.3 1373.9V1501.4M1766.7 1373.9V1501.4M1542.7 1388.2H1793M1542.7 1412.9H1793M1542.7 1437.6H1793M1542.7 1462.3H1793M1542.7 1487H1793M952.3 1676.4V1771.3M982.9 1676.4V1771.3M1013.6 1676.4V1771.3M1044.2 1676.4V1771.3M1074.9 1676.4V1771.3M1105.5 1676.4V1771.3M1136.2 1676.4V1771.3M1166.8 1676.4V1771.3M941.8 1687.7H1184.3M941.8 1706H1184.3M941.8 1724.4H1184.3M941.8 1742.8H1184.3M941.8 1761.1H1184.3M1555.5 1644.3V1771.4M1603.9 1644.3V1771.4M1652.3 1644.3V1771.4M1700.8 1644.3V1771.4M1749.2 1644.3V1771.4M1797.6 1644.3V1771.4M1542.7 1658.6H1825.3M1542.7 1683.3H1825.3M1542.7 1708H1825.3M1542.7 1732.7H1825.3M1542.7 1757.4H1825.3M953.9 1906.8V2002M993.4 1906.8V2002M1032.8 1906.8V2002M1072.2 1906.8V2002M1111.7 1906.8V2002M1151.2 1906.8V2002M1190.6 1906.8V2002M941.8 1918.1H1212.4M941.8 1936.4H1212.4M941.8 1954.8H1212.4M941.8 1973.1H1212.4M941.8 1991.5H1212.4M1556.3 1874.3V2001.8M1593.8 1874.3V2001.8M1631.2 1874.3V2001.8M1668.6 1874.3V2001.8M1706.1 1874.3V2001.8M1743.5 1874.3V2001.8M1781 1874.3V2001.8M1818.5 1874.3V2001.8M1542.7 1888.6H1846M1542.7 1913.3H1846M1542.7 1938H1846M1542.7 1962.7H1846M1542.7 1987.4H1846M952.3 2288V2382.4M974.1 2288V2382.4M995.9 2288V2382.4M1017.7 2288V2382.4M1039.5 2288V2382.4M1061.2 2288V2382.4M1083 2288V2382.4M1104.8 2288V2382.4M1126.6 2288V2382.4M1148.4 2288V2382.4M1170.2 2288V2382.4M941.8 2299.3H1184.3M941.8 2317.7H1184.3M941.8 2336H1184.3M941.8 2354.4H1184.3M941.8 2372.7H1184.3M1556.3 2255V2382.6M1584.8 2255V2382.6M1613.2 2255V2382.6M1641.6 2255V2382.6M1670.1 2255V2382.6M1698.5 2255V2382.6M1727 2255V2382.6M1755.5 2255V2382.6M1783.9 2255V2382.6M1812.3 2255V2382.6M1840.8 2255V2382.6M1542.7 2269.3H1842M1542.7 2294H1842M1542.7 2318.7H1842M1542.7 2343.4H1842M1542.7 2368.1H1842M952.7 2712.6V2807.7M978.6 2712.6V2807.7M1004.5 2712.6V2807.7M1030.3 2712.6V2807.7M1056.2 2712.6V2807.7M1082.1 2712.6V2807.7M1108 2712.6V2807.7M1133.8 2712.6V2807.7M1159.7 2712.6V2807.7M1185.6 2712.6V2807.7M941.8 2723.9H1195.2M941.8 2742.2H1195.2M941.8 2760.6H1195.2M941.8 2779H1195.2M941.8 2797.3H1195.2M1553.5 2680.7V2807.9M1575.4 2680.7V2807.9M1597.3 2680.7V2807.9M1619.3 2680.7V2807.9M1641.2 2680.7V2807.9M1663.1 2680.7V2807.9M1685 2680.7V2807.9M1707 2680.7V2807.9M1728.9 2680.7V2807.9M1750.8 2680.7V2807.9M1772.8 2680.7V2807.9M1542.7 2695H1782.3M1542.7 2719.7H1782.3M1542.7 2744.4H1782.3M1542.7 2769.1H1782.3M1542.7 2793.8H1782.3M955 2907.3V3002.5M986.7 2907.3V3002.5M1018.4 2907.3V3002.5M1050 2907.3V3002.5M1081.7 2907.3V3002.5M1113.4 2907.3V3002.5M1145 2907.3V3002.5M1176.7 2907.3V3002.5M1208.4 2907.3V3002.5M941.8 2918.6H1239.3M941.8 2937H1239.3M941.8 2955.3H1239.3M941.8 2973.7H1239.3M941.8 2992H1239.3M1555 2875.5V3002.3M1585.8 2875.5V3002.3M1616.5 2875.5V3002.3M1647.2 2875.5V3002.3M1678 2875.5V3002.3M1708.8 2875.5V3002.3M1739.5 2875.5V3002.3M1770.2 2875.5V3002.3M1801 2875.5V3002.3M1542.7 2889.8H1815.3M1542.7 2914.5H1815.3M1542.7 2939.2H1815.3M1542.7 2963.9H1815.3M1542.7 2988.6H1815.3" stroke="#ececec" stroke-width="1" fill="none"/>
<rect x="955" y="1410.2" width="277.7" height="13.3" fill="#6a0f72" />
<rect x="955" y="1428.6" width="274.2" height="13.3" fill="#6e3a8e" />
<rect x="955" y="1446.9" width="265.2" height="13.3" fill="#7a6aad" />
<rect x="955" y="1465.3" width="242.5" height="13.3" fill="#e8eef0" />
<rect x="955" y="1483.6" width="239" height="13.3" fill="#e8eef0" />
<path d="M964.8 1416.9L964.8 1435.2L964.8 1453.6L964.8 1471.9L964.8 1490.3" stroke="#666" stroke-width="1.5" fill="none"/>
<rect x="1430" y="1410" width="21.4" height="15.5" fill="#6a0f72" />
<rect x="1430" y="1425.2" width="21.4" height="15.5" fill="#6e3a8e" />
<rect x="1430" y="1440.4" width="21.4" height="15.5" fill="#7a6aad" />
<rect x="1430" y="1455.6" width="21.4" height="15.5" fill="#8a94c4" />
<rect x="1430" y="1470.9" width="21.4" height="15.5" fill="#a3bcd8" />
<rect x="1430" y="1486.1" width="21.4" height="15.5" fill="#c6dde6" />
<rect x="1430" y="1501.3" width="21.4" height="15.5" fill="#e8eef0" />
<rect x="2031" y="1394.6" width="21.4" height="15.4" fill="#6a1b80" />
<rect x="2031" y="1409.7" width="21.4" height="15.4" fill="#7a55a0" />
<rect x="2031" y="1424.7" width="21.4" height="15.4" fill="#7b7fb8" />
<rect x="2031" y="1439.8" width="21.4" height="15.4" fill="#8ea6cc" />
<rect x="2031" y="1454.8" width="21.4" height="15.4" fill="#a9cde0" />
<rect x="2031" y="1469.9" width="21.4" height="15.4" fill="#d0e4ea" />
<rect x="2031" y="1484.9" width="21.4" height="15.4" fill="#ececec" />
<rect x="952.3" y="1681" width="221.4" height="13.3" fill="#0f5e2b" />
<rect x="952.3" y="1699.4" width="221.4" height="13.3" fill="#0f5e2b" />
<rect x="952.3" y="1717.8" width="216" height="13.3" fill="#6f9a78" />
<rect x="952.3" y="1736.1" width="202.7" height="13.3" fill="#e8ebe8" />
<rect x="952.3" y="1754.5" width="201.5" height="13.3" fill="#e8ebe8" />
<path d="M969 1687.7L969 1706L969 1724.4L966.8 1742.8L966.8 1761.1" stroke="#666" stroke-width="1.5" fill="none"/>
<rect x="1430" y="1681" width="21.4" height="17.9" fill="#0f5e2b" />
<rect x="1430" y="1698.6" width="21.4" height="17.9" fill="#3d7a4d" />
<rect x="1430" y="1716.2" width="21.4" height="17.9" fill="#6f9a78" />
<rect x="1430" y="1733.8" width="21.4" height="17.9" fill="#a3bfa8" />
<rect x="1430" y="1751.3" width="21.4" height="17.9" fill="#cfdccf" />
<rect x="1430" y="1768.9" width="21.4" height="17.9" fill="#e8ebe8" />
<rect x="2031" y="1664.6" width="21.4" height="17.9" fill="#1e6b35" />
<rect x="2031" y="1682.2" width="21.4" height="17.9" fill="#4f8a5d" />
<rect x="2031" y="1699.8" width="21.4" height="17.9" fill="#82aa88" />
<rect x="2031" y="1717.4" width="21.4" height="17.9" fill="#b5c9b8" />
<rect x="2031" y="1735" width="21.4" height="17.9" fill="#dce3dc" />
<rect x="2031" y="1752.6" width="21.4" height="17.9" fill="#eeeeee" />
<rect x="953.9" y="1911.4" width="246" height="13.3" fill="#43348f" />
<rect x="953.9" y="1929.8" width="244.8" height="13.3" fill="#43348f" />
<rect x="953.9" y="1948.1" width="244.8" height="13.3" fill="#43348f" />
<rect x="953.9" y="1966.5" width="164.8" height="13.3" fill="#e3e1ea" />
<rect x="953.9" y="1984.8" width="155" height="13.3" fill="#eeeeee" />
<path d="M960.5 1918.1L960.5 1936.4L960.5 1954.8L958.6 1973.1L958.6 1991.5" stroke="#666" stroke-width="1.5" fill="none"/>
<rect x="1430" y="1911.5" width="21.4" height="18" fill="#43348f" />
<rect x="1430" y="1929.2" width="21.4" height="18" fill="#5f54a0" />
<rect x="1430" y="1946.9" width="21.4" height="18" fill="#8a82bb" />
<rect x="1430" y="1964.6" width="21.4" height="18" fill="#b3aed3" />
<rect x="1430" y="1982.3" width="21.4" height="18" fill="#dcdae8" />
<rect x="1430" y="2000" width="21.4" height="18" fill="#eeeeee" />
<rect x="2031" y="1894.6" width="21.4" height="21.4" fill="#3f2e96" />
<rect x="2031" y="1915.7" width="21.4" height="21.4" fill="#6656a8" />
<rect x="2031" y="1936.8" width="21.4" height="21.4" fill="#9a8fc6" />
<rect x="2031" y="1958" width="21.4" height="21.4" fill="#cfcce0" />
<rect x="2031" y="1979.1" width="21.4" height="21.4" fill="#eeeeee" />
<rect x="952.3" y="2292.7" width="221.4" height="13.3" fill="#08306b" />
<rect x="952.3" y="2311" width="221.4" height="13.3" fill="#08519c" />
<rect x="952.3" y="2329.3" width="221.4" height="13.3" fill="#08519c" />
<rect x="952.3" y="2347.7" width="219.1" height="13.3" fill="#6fa8dc" />
<rect x="952.3" y="2366.1" width="217.1" height="13.3" fill="#f4f6f8" />
<path d="M955.8 2299.3L955.8 2317.7L955.8 2336L955.8 2354.4L955.8 2372.7" stroke="#666" stroke-width="1.5" fill="none"/>
<rect x="1430" y="2292.2" width="21.4" height="15.4" fill="#08306b" />
<rect x="1430" y="2307.3" width="21.4" height="15.4" fill="#08519c" />
<rect x="1430" y="2322.3" width="21.4" height="15.4" fill="#1a7ac4" />
<rect x="1430" y="2337.4" width="21.4" height="15.4" fill="#6fa8dc" />
<rect x="1430" y="2352.5" width="21.4" height="15.4" fill="#b3d1f0" />
<rect x="1430" y="2367.6" width="21.4" height="15.4" fill="#deebf7" />
<rect x="1430" y="2382.6" width="21.4" height="15.4" fill="#f4f6f9" />
<rect x="2031" y="2275.8" width="21.4" height="17.9" fill="#08306b" />
<rect x="2031" y="2293.4" width="21.4" height="17.9" fill="#0b559e" />
<rect x="2031" y="2311" width="21.4" height="17.9" fill="#3d88cc" />
<rect x="2031" y="2328.6" width="21.4" height="17.9" fill="#9ec2ee" />
<rect x="2031" y="2346.2" width="21.4" height="17.9" fill="#d6e6f8" />
<rect x="2031" y="2363.8" width="21.4" height="17.9" fill="#f2f4f8" />
<rect x="952.7" y="2717.2" width="231.2" height="13.3" fill="#595959" />
<rect x="952.7" y="2735.6" width="186.3" height="13.3" fill="#8a8a8a" />
<rect x="952.7" y="2753.9" width="183.5" height="13.3" fill="#8a8a8a" />
<rect x="952.7" y="2772.3" width="183.5" height="13.3" fill="#8a8a8a" />
<rect x="952.7" y="2790.7" width="120.3" height="13.3" fill="#dedede" />
<path d="M957.3 2723.9L957.3 2742.2L957.3 2760.6L957.3 2779L957.3 2797.3" stroke="#666" stroke-width="1.5" fill="none"/>
<rect x="1430" y="2717.3" width="21.4" height="21.4" fill="#595959" />
<rect x="1430" y="2738.4" width="21.4" height="21.4" fill="#8a8a8a" />
<rect x="1430" y="2759.6" width="21.4" height="21.4" fill="#b0b0b0" />
<rect x="1430" y="2780.7" width="21.4" height="21.4" fill="#d0d0d0" />
<rect x="1430" y="2801.9" width="21.4" height="21.4" fill="#e3e3e3" />
<rect x="2031" y="2701.4" width="21.4" height="26.7" fill="#5a5a5a" />
<rect x="2031" y="2727.8" width="21.4" height="26.7" fill="#8f8f8f" />
<rect x="2031" y="2754.2" width="21.4" height="26.7" fill="#bdbdbd" />
<rect x="2031" y="2780.6" width="21.4" height="26.7" fill="#dadada" />
<rect x="955" y="2912" width="270.7" height="13.3" fill="#7f0f16" />
<rect x="955" y="2930.3" width="217.2" height="13.3" fill="#d4a4a8" />
<rect x="955" y="2948.7" width="190.2" height="13.3" fill="#efeaea" />
<rect x="955" y="2967" width="187.9" height="13.3" fill="#efeaea" />
<rect x="955" y="2985.4" width="187.9" height="13.3" fill="#efeaea" />
<path d="M966.4 2918.6L968.7 2937L962.9 2955.3L962.9 2973.7L962.9 2992" stroke="#666" stroke-width="1.5" fill="none"/>
<rect x="1430" y="2912" width="21.4" height="13.6" fill="#7f0f16" />
<rect x="1430" y="2925.2" width="21.4" height="13.6" fill="#973a40" />
<rect x="1430" y="2938.5" width="21.4" height="13.6" fill="#ae5d62" />
<rect x="1430" y="2951.8" width="21.4" height="13.6" fill="#c47f83" />
<rect x="1430" y="2965" width="21.4" height="13.6" fill="#d4a4a8" />
<rect x="1430" y="2978.2" width="21.4" height="13.6" fill="#e1c5c7" />
<rect x="1430" y="2991.5" width="21.4" height="13.6" fill="#ebdfe0" />
<rect x="1430" y="3004.8" width="21.4" height="13.6" fill="#efeaea" />
<rect x="2031" y="2896" width="21.4" height="21.4" fill="#7f0a14" />
<rect x="2031" y="2917.1" width="21.4" height="21.4" fill="#a23c44" />
<rect x="2031" y="2938.2" width="21.4" height="21.4" fill="#c47a80" />
<rect x="2031" y="2959.3" width="21.4" height="21.4" fill="#ddb6b9" />
<rect x="2031" y="2980.4" width="21.4" height="21.4" fill="#eee3e4" />
<path d="M1553.9 1388.2H1781.8M1553.9 1412.9H1779.5M1553.9 1437.6H1775.5M1553.9 1462.3H1767.5M1553.9 1487H1763.5M1555.5 1658.6H1812.1M1555.5 1683.3H1672.6M1555.5 1708H1651.5M1555.5 1732.7H1626M1555.5 1757.4H1624.4M1556.3 1888.6H1832M1556.3 1913.3H1775M1556.3 1938H1735.2M1556.3 1962.7H1729.2M1556.3 1987.4H1728.4M1556.3 2269.3H1828M1556.3 2294H1792.2M1556.3 2318.7H1787M1556.3 2343.4H1785.8M1556.3 2368.1H1766.7M1553.5 2695H1771.5M1553.5 2719.7H1762.7M1553.5 2744.4H1613.3M1553.5 2769.1H1609.3M1553.5 2793.8H1607.7M1555 2889.8H1803M1555 2914.5H1724.5M1555 2939.2H1695.8M1555 2963.9H1684.6M1555 2988.6H1684.6" stroke="#222" stroke-width="2.6" stroke-dasharray="9 7.5" fill="none"/>
<path d="M964.8 1416.9h0M964.8 1435.2h0M964.8 1453.6h0M964.8 1471.9h0M964.8 1490.3h0" stroke="#f9a00f" stroke-width="10.4" stroke-linecap="round" fill="none"/>
<path d="M969 1687.7h0M969 1706h0M969 1724.4h0M966.8 1742.8h0M966.8 1761.1h0" stroke="#f9a00f" stroke-width="10.4" stroke-linecap="round" fill="none"/>
<path d="M960.5 1918.1h0M960.5 1936.4h0M960.5 1954.8h0M958.6 1973.1h0M958.6 1991.5h0" stroke="#f9a00f" stroke-width="10.4" stroke-linecap="round" fill="none"/>
<path d="M955.8 2299.3h0M955.8 2317.7h0M955.8 2336h0M955.8 2354.4h0M955.8 2372.7h0" stroke="#f9a00f" stroke-width="10.4" stroke-linecap="round" fill="none"/>
<path d="M957.3 2723.9h0M957.3 2742.2h0M957.3 2760.6h0M957.3 2779h0M957.3 2797.3h0" stroke="#f9a00f" stroke-width="10.4" stroke-linecap="round" fill="none"/>
<path d="M966.4 2918.6h0M968.7 2937h0M962.9 2955.3h0M962.9 2973.7h0M962.9 2992h0" stroke="#f9a00f" stroke-width="10.4" stroke-linecap="round" fill="none"/>
<circle cx="1781.8" cy="1388.2" r="7.3" fill="#6a1b80"/><circle cx="1779.5" cy="1412.9" r="7.3" fill="#6a1b80"/><circle cx="1775.5" cy="1437.6" r="7.3" fill="#7b7fb8"/><circle cx="1767.5" cy="1462.3" r="7.3" fill="#a9cde0"/><circle cx="1763.5" cy="1487" r="7.3" fill="#ececec"/><circle cx="1812.1" cy="1658.6" r="7.3" fill="#1e6b35"/><circle cx="1672.6" cy="1683.3" r="7.3" fill="#b5c9b8"/><circle cx="1651.5" cy="1708" r="7.3" fill="#dce3dc"/><circle cx="1626" cy="1732.7" r="7.3" fill="#eeeeee"/><circle cx="1624.4" cy="1757.4" r="7.3" fill="#eeeeee"/><circle cx="1832" cy="1888.6" r="7.3" fill="#3f2e96"/><circle cx="1775" cy="1913.3" r="7.3" fill="#9a8fc6"/><circle cx="1735.2" cy="1938" r="7.3" fill="#e8e8ec"/><circle cx="1729.2" cy="1962.7" r="7.3" fill="#eeeeee"/><circle cx="1728.4" cy="1987.4" r="7.3" fill="#eeeeee"/><circle cx="1828" cy="2269.3" r="7.3" fill="#08306b"/><circle cx="1792.2" cy="2294" r="7.3" fill="#9ec2ee"/><circle cx="1787" cy="2318.7" r="7.3" fill="#9ec2ee"/><circle cx="1785.8" cy="2343.4" r="7.3" fill="#9ec2ee"/><circle cx="1766.7" cy="2368.1" r="7.3" fill="#f2f4f8"/><circle cx="1771.5" cy="2695" r="7.3" fill="#5a5a5a"/><circle cx="1762.7" cy="2719.7" r="7.3" fill="#5a5a5a"/><circle cx="1613.3" cy="2744.4" r="7.3" fill="#dadada"/><circle cx="1609.3" cy="2769.1" r="7.3" fill="#dadada"/><circle cx="1607.7" cy="2793.8" r="7.3" fill="#dadada"/><circle cx="1803" cy="2889.8" r="7.3" fill="#7f0a14"/><circle cx="1724.5" cy="2914.5" r="7.3" fill="#ddb6b9"/><circle cx="1695.8" cy="2939.2" r="7.3" fill="#eee3e4"/><circle cx="1684.6" cy="2963.9" r="7.3" fill="#efe6e7"/><circle cx="1684.6" cy="2988.6" r="7.3" fill="#efe6e7"/>
<rect x="941.8" y="1405.6" width="304.2" height="95.3" fill="none" stroke="#555" stroke-width="1.3" /><rect x="1542.7" y="1373.9" width="250.3" height="127.5" fill="none" stroke="#555" stroke-width="1.3" /><rect x="941.8" y="1676.4" width="242.5" height="94.9" fill="none" stroke="#555" stroke-width="1.3" /><rect x="1542.7" y="1644.3" width="282.6" height="127.1" fill="none" stroke="#555" stroke-width="1.3" /><rect x="941.8" y="1906.8" width="270.6" height="95.2" fill="none" stroke="#555" stroke-width="1.3" /><rect x="1542.7" y="1874.3" width="303.3" height="127.5" fill="none" stroke="#555" stroke-width="1.3" /><rect x="941.8" y="2288" width="242.5" height="94.4" fill="none" stroke="#555" stroke-width="1.3" /><rect x="1542.7" y="2255" width="299.3" height="127.6" fill="none" stroke="#555" stroke-width="1.3" /><rect x="941.8" y="2712.6" width="253.4" height="95.1" fill="none" stroke="#555" stroke-width="1.3" /><rect x="1542.7" y="2680.7" width="239.6" height="127.2" fill="none" stroke="#555" stroke-width="1.3" /><rect x="941.8" y="2907.3" width="297.5" height="95.2" fill="none" stroke="#555" stroke-width="1.3" /><rect x="1542.7" y="2875.5" width="272.6" height="126.8" fill="none" stroke="#555" stroke-width="1.3" />
<path d="M955 1402.1v3.5M955 1500.9v3.5M1022.2 1402.1v3.5M1022.2 1500.9v3.5M1089.5 1402.1v3.5M1089.5 1500.9v3.5M1156.8 1402.1v3.5M1156.8 1500.9v3.5M1224 1402.1v3.5M1224 1500.9v3.5M1246 1416.9h3.5M1246 1435.2h3.5M1246 1453.6h3.5M1246 1471.9h3.5M1246 1490.3h3.5M1553.9 1501.4v3.5M1614.7 1501.4v3.5M1675.5 1501.4v3.5M1736.3 1501.4v3.5M1793 1388.2h3.5M1793 1412.9h3.5M1793 1437.6h3.5M1793 1462.3h3.5M1793 1487h3.5M952.3 1672.9v3.5M952.3 1771.3v3.5M1013.6 1672.9v3.5M1013.6 1771.3v3.5M1074.9 1672.9v3.5M1074.9 1771.3v3.5M1136.2 1672.9v3.5M1136.2 1771.3v3.5M1184.3 1687.7h3.5M1184.3 1706h3.5M1184.3 1724.4h3.5M1184.3 1742.8h3.5M1184.3 1761.1h3.5M1555.5 1771.4v3.5M1652.3 1771.4v3.5M1749.2 1771.4v3.5M1825.3 1658.6h3.5M1825.3 1683.3h3.5M1825.3 1708h3.5M1825.3 1732.7h3.5M1825.3 1757.4h3.5M953.9 1903.3v3.5M953.9 2002v3.5M1032.8 1903.3v3.5M1032.8 2002v3.5M1111.7 1903.3v3.5M1111.7 2002v3.5M1190.6 1903.3v3.5M1190.6 2002v3.5M1212.4 1918.1h3.5M1212.4 1936.4h3.5M1212.4 1954.8h3.5M1212.4 1973.1h3.5M1212.4 1991.5h3.5M1556.3 2001.8v3.5M1631.2 2001.8v3.5M1706.1 2001.8v3.5M1781 2001.8v3.5M1846 1888.6h3.5M1846 1913.3h3.5M1846 1938h3.5M1846 1962.7h3.5M1846 1987.4h3.5M952.3 2284.5v3.5M952.3 2382.4v3.5M995.9 2284.5v3.5M995.9 2382.4v3.5M1039.5 2284.5v3.5M1039.5 2382.4v3.5M1083 2284.5v3.5M1083 2382.4v3.5M1126.6 2284.5v3.5M1126.6 2382.4v3.5M1170.2 2284.5v3.5M1170.2 2382.4v3.5M1184.3 2299.3h3.5M1184.3 2317.7h3.5M1184.3 2336h3.5M1184.3 2354.4h3.5M1184.3 2372.7h3.5M1556.3 2382.6v3.5M1613.2 2382.6v3.5M1670.1 2382.6v3.5M1727 2382.6v3.5M1783.9 2382.6v3.5M1840.8 2382.6v3.5M1842 2269.3h3.5M1842 2294h3.5M1842 2318.7h3.5M1842 2343.4h3.5M1842 2368.1h3.5M952.7 2709.1v3.5M952.7 2807.7v3.5M1004.5 2709.1v3.5M1004.5 2807.7v3.5M1056.2 2709.1v3.5M1056.2 2807.7v3.5M1108 2709.1v3.5M1108 2807.7v3.5M1159.7 2709.1v3.5M1159.7 2807.7v3.5M1195.2 2723.9h3.5M1195.2 2742.2h3.5M1195.2 2760.6h3.5M1195.2 2779h3.5M1195.2 2797.3h3.5M1553.5 2807.9v3.5M1597.3 2807.9v3.5M1641.2 2807.9v3.5M1685 2807.9v3.5M1728.9 2807.9v3.5M1772.8 2807.9v3.5M1782.3 2695h3.5M1782.3 2719.7h3.5M1782.3 2744.4h3.5M1782.3 2769.1h3.5M1782.3 2793.8h3.5M955 2903.8v3.5M955 3002.5v3.5M1018.4 2903.8v3.5M1018.4 3002.5v3.5M1081.7 2903.8v3.5M1081.7 3002.5v3.5M1145 2903.8v3.5M1145 3002.5v3.5M1208.4 2903.8v3.5M1208.4 3002.5v3.5M1239.3 2918.6h3.5M1239.3 2937h3.5M1239.3 2955.3h3.5M1239.3 2973.7h3.5M1239.3 2992h3.5M1555 3002.3v3.5M1616.5 3002.3v3.5M1678 3002.3v3.5M1739.5 3002.3v3.5M1801 3002.3v3.5M1815.3 2889.8h3.5M1815.3 2914.5h3.5M1815.3 2939.2h3.5M1815.3 2963.9h3.5M1815.3 2988.6h3.5" stroke="#333" stroke-width="1.2" fill="none"/>
<g font-size="11.3" fill="#4d4d4d"><text x="1252.6" y="1420.9">cell chemotaxis</text><text x="1252.6" y="1439.2">leukocyte migration</text><text x="1252.6" y="1457.6">leukocyte chemotaxis</text><text x="1252.6" y="1475.9">myeloid leukocyte migration</text><text x="1252.6" y="1494.3">regulation of angiogenesis</text><text x="1799.8" y="1392.2">Lysosome</text><text x="1799.8" y="1416.9">Pertussis</text><text x="1799.8" y="1441.6">Lipid and atherosclerosis</text><text x="1799.8" y="1466.3">Efferocytosis</text><text x="1799.8" y="1491">Transcriptional misregulation in cancer</text><text x="1190.9" y="1691.7">process utilizing autophagic mechanism</text><text x="1190.9" y="1710">autophagy</text><text x="1190.9" y="1728.4">ameboidal−type cell migration</text><text x="1190.9" y="1746.8">extracellular matrix organization</text><text x="1190.9" y="1765.1">extracellular structure organization</text><text x="1831.3" y="1662.6">Lysosome</text><text x="1831.3" y="1687.3">Efferocytosis</text><text x="1831.3" y="1712">Glycosaminoglycan degradation</text><text x="1831.3" y="1736.7">Hypertrophic cardiomyopathy</text><text x="1831.3" y="1761.4">Dilated cardiomyopathy</text><text x="1218.6" y="1922.1">extracellular matrix organization</text><text x="1218.6" y="1933.2">external encapsulating structure</text><text x="1218.6" y="1945.2">organization</text><text x="1218.6" y="1958.8">extracellular structure organization</text><text x="1218.6" y="1977.1">DNA−templated DNA replication</text><text x="1218.6" y="1995.5">cell−substrate adhesion</text><text x="1852.8" y="1892.6">DNA replication</text><text x="1852.8" y="1917.3">PI3K−Akt signaling pathway</text><text x="1852.8" y="1942">Focal adhesion</text><text x="1852.8" y="1966.7">Nucleotide metabolism</text><text x="1852.8" y="1991.4">Cell cycle</text><text x="1190.9" y="2303.3">aerobic respiration</text><text x="1190.9" y="2321.7">cellular respiration</text><text x="1190.9" y="2340">ribonucleoprotein complex biogenesis</text><text x="1190.9" y="2351.2">generation of precursor metabolites and</text><text x="1190.9" y="2363.2">energy</text><text x="1190.9" y="2376.7">mitochondrial translation</text><text x="1849.2" y="2273.3">Parkinson disease</text><text x="1849.2" y="2298">Huntington disease</text><text x="1849.2" y="2322.7">Amyotrophic lateral sclerosis</text><text x="1849.2" y="2347.4">Prion disease</text><text x="1849.2" y="2372.1">Oxidative phosphorylation</text><text x="1201.8" y="2727.9">cytoplasmic translation</text><text x="1201.8" y="2746.2">translation at presynapse</text><text x="1201.8" y="2764.6">translation at postsynapse</text><text x="1201.8" y="2783">translation at synapse</text><text x="1201.8" y="2801.3">regulation of innate immune response</text><text x="1789.4" y="2699">Coronavirus disease − COVID−19</text><text x="1789.4" y="2723.7">Ribosome</text><text x="1789.4" y="2748.4">C−type lectin receptor signaling pathway</text><text x="1789.4" y="2773.1">Osteoclast differentiation</text><text x="1789.4" y="2797.8">Influenza A</text><text x="1245.6" y="2922.6">cytoplasmic translation</text><text x="1245.6" y="2941">leukocyte mediated immunity</text><text x="1245.6" y="2959.3">translation at presynapse</text><text x="1245.6" y="2977.7">translation at postsynapse</text><text x="1245.6" y="2996">translation at synapse</text><text x="1821.7" y="2893.8">Coronavirus disease − COVID−19</text><text x="1821.7" y="2918.5">Ribosome</text><text x="1821.7" y="2943.2">Epstein−Barr virus infection</text><text x="1821.7" y="2967.9">Toxoplasmosis</text><text x="1821.7" y="2992.6">Human cytomegalovirus infection</text></g>
<g font-size="11" fill="#4d4d4d" text-anchor="middle"><text x="955" y="1399.6">0</text><text x="955" y="1515.9">0</text><text x="1022.2" y="1399.6">5</text><text x="1022.2" y="1515.9">5</text><text x="1089.5" y="1399.6">10</text><text x="1089.5" y="1515.9">10</text><text x="1156.8" y="1399.6">15</text><text x="1156.8" y="1515.9">15</text><text x="1224" y="1399.6">20</text><text x="1224" y="1515.9">20</text><text x="1553.9" y="1516.4">0</text><text x="1614.7" y="1516.4">2</text><text x="1675.5" y="1516.4">4</text><text x="1736.3" y="1516.4">6</text><text x="952.3" y="1670.4">0</text><text x="952.3" y="1786.3">0</text><text x="1013.6" y="1670.4">3</text><text x="1013.6" y="1786.3">3</text><text x="1074.9" y="1670.4">6</text><text x="1074.9" y="1786.3">6</text><text x="1136.2" y="1670.4">9</text><text x="1136.2" y="1786.3">9</text><text x="1555.5" y="1786.4">0</text><text x="1652.3" y="1786.4">5</text><text x="1749.2" y="1786.4">10</text><text x="953.9" y="1900.8">0</text><text x="953.9" y="2017">0</text><text x="1032.8" y="1900.8">10</text><text x="1032.8" y="2017">10</text><text x="1111.7" y="1900.8">20</text><text x="1111.7" y="2017">20</text><text x="1190.6" y="1900.8">30</text><text x="1190.6" y="2017">30</text><text x="1556.3" y="2016.8">0.0</text><text x="1631.2" y="2016.8">2.5</text><text x="1706.1" y="2016.8">5.0</text><text x="1781" y="2016.8">7.5</text><text x="952.3" y="2282">0</text><text x="952.3" y="2397.4">0</text><text x="995.9" y="2282">10</text><text x="995.9" y="2397.4">10</text><text x="1039.5" y="2282">20</text><text x="1039.5" y="2397.4">20</text><text x="1083" y="2282">30</text><text x="1083" y="2397.4">30</text><text x="1126.6" y="2282">40</text><text x="1126.6" y="2397.4">40</text><text x="1170.2" y="2282">50</text><text x="1170.2" y="2397.4">50</text><text x="1556.3" y="2397.6">0</text><text x="1613.2" y="2397.6">10</text><text x="1670.1" y="2397.6">20</text><text x="1727" y="2397.6">30</text><text x="1783.9" y="2397.6">40</text><text x="1840.8" y="2397.6">50</text><text x="952.7" y="2706.6">0</text><text x="952.7" y="2822.7">0</text><text x="1004.5" y="2706.6">10</text><text x="1004.5" y="2822.7">10</text><text x="1056.2" y="2706.6">20</text><text x="1056.2" y="2822.7">20</text><text x="1108" y="2706.6">30</text><text x="1108" y="2822.7">30</text><text x="1159.7" y="2706.6">40</text><text x="1159.7" y="2822.7">40</text><text x="1553.5" y="2822.9">0</text><text x="1597.3" y="2822.9">5</text><text x="1641.2" y="2822.9">10</text><text x="1685" y="2822.9">15</text><text x="1728.9" y="2822.9">20</text><text x="1772.8" y="2822.9">25</text><text x="955" y="2901.3">0</text><text x="955" y="3017.5">0</text><text x="1018.4" y="2901.3">5</text><text x="1018.4" y="3017.5">5</text><text x="1081.7" y="2901.3">10</text><text x="1081.7" y="3017.5">10</text><text x="1145" y="2901.3">15</text><text x="1145" y="3017.5">15</text><text x="1208.4" y="2901.3">20</text><text x="1208.4" y="3017.5">20</text><text x="1555" y="3017.3">0</text><text x="1616.5" y="3017.3">5</text><text x="1678" y="3017.3">10</text><text x="1739.5" y="3017.3">15</text><text x="1801" y="3017.3">20</text></g>
<g font-size="13.7" fill="#111" text-anchor="middle"><text x="1094.5" y="1385.6" font-size="14.1">log10(ratio)</text><text x="1095.5" y="1531.4">−log10(pvalue)</text><text x="1475.8" y="1403.6">−log10(pvalue)</text><text x="1666.8" y="1531.4">−log10(pvalue)</text><text x="2076.8" y="1386">−log10(pvalue)</text><text x="1062.3" y="1656.4" font-size="14.1">log10(ratio)</text><text x="1063.3" y="1801.8">−log10(pvalue)</text><text x="1475.8" y="1673.6">−log10(pvalue)</text><text x="1683" y="1801.4">−log10(pvalue)</text><text x="2076.8" y="1656">−log10(pvalue)</text><text x="1077.2" y="1886.8" font-size="14.1">log10(ratio)</text><text x="1078.2" y="2032.5">−log10(pvalue)</text><text x="1475.8" y="1903.6">−log10(pvalue)</text><text x="1693.3" y="2031.8">−log10(pvalue)</text><text x="2076.8" y="1886">−log10(pvalue)</text><text x="1062.3" y="2268" font-size="14.1">log10(ratio)</text><text x="1063.3" y="2412.9">−log10(pvalue)</text><text x="1475.8" y="2284.4">−log10(pvalue)</text><text x="1691.3" y="2412.6">−log10(pvalue)</text><text x="2076.8" y="2267.6">−log10(pvalue)</text><text x="1068" y="2692.6" font-size="14.1">log10(ratio)</text><text x="1069" y="2838.2">−log10(pvalue)</text><text x="1475.8" y="2709.4">−log10(pvalue)</text><text x="1661.5" y="2837.9">−log10(pvalue)</text><text x="2076.8" y="2693.7">−log10(pvalue)</text><text x="1091.2" y="2887.3" font-size="14.1">log10(ratio)</text><text x="1092.2" y="3033">−log10(pvalue)</text><text x="1475.8" y="2904">−log10(pvalue)</text><text x="1678" y="3032.3">−log10(pvalue)</text><text x="2076.8" y="2888">−log10(pvalue)</text></g>
<g font-size="11.4" fill="#222"><text x="1458" y="1429.4">20.5</text><text x="1458" y="1444.6">20.0</text><text x="1458" y="1459.8">19.5</text><text x="1458" y="1475.1">19.0</text><text x="1458" y="1490.3">18.5</text><text x="1458" y="1505.5">18.0</text><text x="2059" y="1413.9">7.4</text><text x="2059" y="1428.9">7.3</text><text x="2059" y="1444">7.2</text><text x="2059" y="1459">7.1</text><text x="2059" y="1474.1">7.0</text><text x="2059" y="1489.1">6.9</text><text x="1458" y="1702.8">10.8</text><text x="1458" y="1720.4">10.6</text><text x="1458" y="1738">10.4</text><text x="1458" y="1755.5">10.2</text><text x="1458" y="1773.1">10.0</text><text x="2059" y="1686.4">12</text><text x="2059" y="1704">10</text><text x="2059" y="1721.6">8</text><text x="2059" y="1739.2">6</text><text x="2059" y="1756.8">4</text><text x="1458" y="1933.4">30.0</text><text x="1458" y="1951.1">27.5</text><text x="1458" y="1968.8">25.0</text><text x="1458" y="1986.5">22.5</text><text x="1458" y="2004.2">20.0</text><text x="2059" y="1919.9">9</text><text x="2059" y="1941">8</text><text x="2059" y="1962.2">7</text><text x="2059" y="1983.3">6</text><text x="1458" y="2311.5">50.75</text><text x="1458" y="2326.5">50.50</text><text x="1458" y="2341.6">50.25</text><text x="1458" y="2356.7">50.00</text><text x="1458" y="2371.8">49.75</text><text x="1458" y="2386.8">49.50</text><text x="2059" y="2297.6">47.5</text><text x="2059" y="2315.2">45.0</text><text x="2059" y="2332.8">42.5</text><text x="2059" y="2350.4">40.0</text><text x="2059" y="2368">37.5</text><text x="1458" y="2742.6">40</text><text x="1458" y="2763.8">35</text><text x="1458" y="2784.9">30</text><text x="1458" y="2806.1">25</text><text x="2059" y="2732">20</text><text x="2059" y="2758.4">15</text><text x="2059" y="2784.8">10</text><text x="1458" y="2929.4">21</text><text x="1458" y="2942.7">20</text><text x="1458" y="2955.9">19</text><text x="1458" y="2969.2">18</text><text x="1458" y="2982.4">17</text><text x="1458" y="2995.7">16</text><text x="1458" y="3008.9">15</text><text x="2059" y="2921.3">20.0</text><text x="2059" y="2942.4">17.5</text><text x="2059" y="2963.5">15.0</text><text x="2059" y="2984.6">12.5</text></g>
<text x="1351" y="54.8" font-size="48.5" stroke="#000" stroke-width="0.9">E</text>
<svg x="1479.5" y="114.7" width="655.5" height="310.5" overflow="hidden"><g transform="translate(-1479.5 -114.7)">
<path d="M1523 407h0M1544 409h0M1547 407h0M1555 409h0M1532 411h0M1540 409h0M1553 409h0M1510 248h0M1529 248h0M1515 247h0M1548 249h0M1558 246h0M1542 246h0M1550 250h0M1510 249h0M1551 199h0M1514 197h0M1560 169h0" stroke="#8598c0" stroke-width="8.8" stroke-linecap="round" fill="none"/>
<path d="M1781 407h0M1720 409h0M1737 409h0M1896 412h0M1694 408h0M1650 410h0M1712 407h0M1609 412h0M1595 407h0M1732 409h0M1618 408h0M1674 409h0M1581 411h0M1798 407h0M1613 413h0M1681 409h0M1564 411h0M1659 410h0M1696 412h0M1523 409h0M1581 411h0M1747 408h0M1782 407h0M1641 407h0M1684 411h0M1799 406h0M1762 410h0M1776 408h0M1750 413h0M1915 409h0M1592 411h0M1641 411h0M1753 412h0M1702 411h0M1738 410h0M1635 406h0M1798 412h0M1579 410h0M1694 412h0M1615 407h0M1812 407h0M1568 407h0M1718 409h0M1749 408h0M1585 408h0M1745 407h0M1677 409h0M1779 412h0M1708 407h0M1536 409h0M1572 408h0M1751 413h0M1704 408h0M1688 408h0M1609 413h0M1653 407h0M1686 409h0M1754 409h0M2104 411h0M1546 250h0M1771 244h0M1511 243h0M1687 248h0M1571 249h0M1606 246h0M1612 245h0M1645 247h0M1565 243h0M1724 246h0M1788 248h0M1673 247h0M1580 249h0M1770 247h0M1722 249h0M1744 249h0M1654 250h0M1610 244h0M1828 247h0M1682 244h0M1806 248h0M1662 249h0M1763 244h0M1713 245h0M1769 245h0M1598 245h0M1632 245h0M1567 246h0M1649 249h0M1574 249h0M1678 245h0M1667 244h0M1696 249h0M1519 249h0M1706 245h0M1806 246h0M1735 245h0M1646 247h0M1624 244h0M1548 247h0M1599 249h0M1892 248h0M1676 249h0M1616 249h0M1683 243h0M1757 249h0M1706 247h0M1754 244h0M1708 249h0M1714 249h0M1907 248h0M1590 244h0M1756 245h0M1552 195h0M1629 194h0M1762 198h0M1758 198h0M1706 194h0M1752 196h0M1806 199h0M1715 198h0M1711 195h0M1800 199h0M1662 198h0M1758 197h0M1659 199h0M1718 197h0M1786 196h0M1710 196h0M1761 198h0M1674 196h0M1652 198h0M1732 198h0M1723 197h0M1750 199h0M1713 196h0M1782 195h0M1668 195h0M1935 194h0M1770 167h0" stroke="#5ab697" stroke-width="8.8" stroke-linecap="round" fill="none"/>
<path d="M1614 410h0M1589 412h0M1675 245h0M1789 198h0M1672 170h0" stroke="#d16ba4" stroke-width="8.8" stroke-linecap="round" fill="none"/>
<path d="M1904 412h0M1855 407h0M1544 408h0M1793 410h0M1827 406h0M1914 406h0M1807 409h0M1879 410h0M1857 407h0M1697 410h0M1898 409h0M1837 407h0M1918 413h0M1832 410h0M1896 410h0M1789 409h0M1842 412h0M1585 407h0M1687 413h0M1901 412h0M1901 410h0M1843 408h0M1828 407h0M1779 410h0M1897 408h0M1905 409h0M1911 408h0M1791 407h0M1915 411h0M1840 246h0M1790 249h0M1835 244h0M1920 249h0M1869 249h0M1889 249h0M1903 244h0M1787 246h0M1862 249h0M1829 245h0M1877 244h0M1807 247h0M1728 246h0M1908 245h0M1774 248h0M1799 249h0M1906 243h0M1625 245h0M1893 248h0M1874 248h0M1826 246h0M1905 249h0M1829 244h0M1829 248h0M1824 245h0M1902 245h0M1766 249h0M1892 243h0M1827 248h0M1868 243h0M1664 249h0M1774 249h0M1843 248h0M1752 247h0M1904 248h0M1838 247h0M1838 248h0M1898 244h0M1865 246h0M1794 246h0M1861 196h0M1897 200h0M1786 199h0M1800 196h0M1764 194h0M1833 194h0M1919 195h0M1920 195h0M1858 195h0M1655 196h0M1800 196h0M1900 200h0M1898 195h0M1816 199h0M1906 200h0M1863 197h0M1921 196h0M1913 169h0M1906 166h0M1765 148h0" stroke="#e5825f" stroke-width="8.8" stroke-linecap="round" fill="none"/>
<path d="M1767 412h0M1769 411h0M1762 197h0" stroke="#dfbd8c" stroke-width="8.8" stroke-linecap="round" fill="none"/>
<path d="M1930 407h0M1954 412h0M1933 413h0M1947 411h0M1941 410h0M1948 408h0M1923 412h0M1931 412h0M1952 411h0M2106 407h0M2104 410h0M1934 249h0M1940 244h0M1939 247h0M1946 244h0M1949 249h0M1927 244h0M1935 247h0M2105 244h0M2105 244h0M1939 196h0M2104 196h0M2107 196h0M2108 168h0" stroke="#fcc9e6" stroke-width="8.8" stroke-linecap="round" fill="none"/>
<path d="M1536 409h0M1560 409h0M1541 413h0M1544 411h0M1545 411h0M1522 406h0M1520 245h0M1522 248h0M1563 249h0M1509 244h0M1528 245h0M1509 247h0M1521 248h0M1547 243h0M1515 247h0M1519 248h0M1513 247h0M1549 249h0M1528 196h0M1534 199h0M1569 198h0M1564 197h0M1564 167h0M1560 168h0" stroke="#8598c0" stroke-width="8.8" stroke-linecap="round" fill="none"/>
<path d="M1616 409h0M1658 413h0M1692 407h0M1799 410h0M1703 408h0M1644 410h0M1749 407h0M1630 409h0M1589 410h0M1700 412h0M1739 407h0M1655 412h0M1642 409h0M1654 407h0M1760 412h0M1642 411h0M1590 411h0M1671 409h0M1620 409h0M1688 410h0M1716 410h0M1779 411h0M1751 411h0M1690 412h0M1607 409h0M1583 409h0M1633 409h0M1612 409h0M1599 407h0M1718 412h0M1751 411h0M1824 413h0M1649 410h0M1748 407h0M1912 411h0M1652 408h0M1568 413h0M1595 413h0M1776 412h0M1590 412h0M1533 407h0M1902 410h0M1606 412h0M1703 411h0M1672 410h0M1688 411h0M1707 407h0M1792 409h0M1848 407h0M1748 409h0M1689 407h0M1622 411h0M1686 410h0M1665 409h0M1746 409h0M1752 409h0M1726 410h0M1584 410h0M1627 408h0M1583 408h0M1701 408h0M2108 408h0M1656 244h0M1664 246h0M1725 249h0M1748 246h0M1739 243h0M1540 248h0M1625 245h0M1591 244h0M1612 247h0M1803 245h0M1605 248h0M1636 244h0M1569 247h0M1652 247h0M1742 243h0M1702 243h0M1590 244h0M1602 244h0M1669 249h0M1705 246h0M1677 246h0M1801 249h0M1559 247h0M1722 246h0M1585 244h0M1734 245h0M1536 245h0M1621 244h0M1614 248h0M1742 246h0M1587 245h0M1801 246h0M1561 246h0M1757 249h0M1619 249h0M1743 246h0M1645 246h0M1673 244h0M1766 244h0M1665 245h0M1641 246h0M1637 246h0M1667 244h0M1803 249h0M1569 249h0M1579 247h0M1797 245h0M1691 249h0M1628 249h0M1633 247h0M1712 248h0M1676 244h0M1556 196h0M1632 200h0M1632 196h0M1619 199h0M1761 199h0M1724 197h0M1642 195h0M1853 200h0M1674 198h0M1768 199h0M1647 197h0M1708 198h0M1645 199h0M1675 199h0M1678 195h0M1717 197h0M1796 197h0M1740 194h0M1846 197h0M1671 200h0M1745 198h0M1722 200h0M1765 194h0M1775 198h0M1661 197h0M1699 171h0M1698 171h0M1756 168h0M1761 169h0" stroke="#5ab697" stroke-width="8.8" stroke-linecap="round" fill="none"/>
<path d="M1865 412h0M1846 407h0M1778 411h0M1864 243h0" stroke="#d16ba4" stroke-width="8.8" stroke-linecap="round" fill="none"/>
<path d="M1898 411h0M1870 408h0M1886 408h0M1866 409h0M1807 408h0M1861 408h0M1897 408h0M1861 412h0M1832 408h0M1754 408h0M1910 412h0M1849 407h0M1664 411h0M1839 410h0M1617 407h0M1872 408h0M1872 407h0M1919 408h0M1886 412h0M1902 413h0M1650 409h0M1882 412h0M1879 407h0M1892 407h0M1863 410h0M1907 413h0M1682 410h0M1784 248h0M1852 247h0M1813 246h0M1854 245h0M1917 244h0M1656 245h0M1890 245h0M1849 248h0M1882 247h0M1642 249h0M1772 249h0M1875 245h0M1850 244h0M1853 244h0M1875 249h0M1880 247h0M1910 249h0M1848 244h0M1829 248h0M1772 248h0M1813 247h0M1865 244h0M1780 246h0M1832 248h0M1899 246h0M1835 243h0M1847 246h0M1772 248h0M1879 245h0M1898 247h0M1915 196h0M1792 196h0M1866 199h0M1756 195h0M1845 196h0M1873 194h0M1768 199h0M1697 197h0M1852 194h0M1885 196h0M1846 197h0M1849 198h0M1906 195h0M1813 195h0M1841 194h0M1886 197h0M1808 197h0M1777 170h0M1914 166h0" stroke="#e5825f" stroke-width="8.8" stroke-linecap="round" fill="none"/>
<path d="M1765 411h0M1770 200h0" stroke="#dfbd8c" stroke-width="8.8" stroke-linecap="round" fill="none"/>
<path d="M1955 407h0M1955 410h0M1927 412h0M1932 408h0M1927 411h0M1924 409h0M1923 411h0M1947 411h0M1945 248h0M1932 243h0M1943 249h0M1949 245h0M1959 247h0M1955 196h0M1941 197h0M1947 198h0M1934 196h0" stroke="#fcc9e6" stroke-width="8.8" stroke-linecap="round" fill="none"/>
<path d="M1515 413h0M1534 407h0M1540 410h0M1554 412h0M1559 407h0M1528 408h0M1519 411h0M1515 409h0M1532 407h0M1545 408h0M1511 413h0M1534 412h0M1513 409h0M1526 409h0M1552 247h0M1564 249h0M1561 243h0M1544 249h0M1526 249h0M1554 247h0M1541 248h0M1553 249h0M1537 244h0M1521 244h0M1552 198h0M1528 198h0M1549 198h0M1513 200h0M1557 198h0M1569 199h0M1520 196h0M1525 197h0M1560 169h0M1766 135h0" stroke="#8598c0" stroke-width="8.8" stroke-linecap="round" fill="none"/>
<path d="M1816 412h0M1788 410h0M1644 411h0M1705 407h0M1654 412h0M1696 409h0M1800 409h0M1750 407h0M1564 412h0M1786 409h0M1552 409h0M1599 408h0M1719 412h0M1689 413h0M1719 408h0M1705 408h0M1677 411h0M1757 410h0M1709 413h0M1574 408h0M1585 407h0M1630 411h0M1781 409h0M1728 411h0M1612 408h0M1786 411h0M1541 411h0M1697 407h0M1570 412h0M1719 412h0M1693 409h0M1681 408h0M1631 413h0M1629 407h0M1684 408h0M1667 407h0M1752 407h0M1734 409h0M1700 411h0M1608 410h0M1643 407h0M1708 408h0M1589 409h0M1731 412h0M1514 409h0M1764 410h0M1650 407h0M1738 412h0M1761 247h0M1670 248h0M1734 249h0M1735 244h0M1651 249h0M1619 249h0M1601 249h0M1706 246h0M1867 247h0M1567 246h0M1743 245h0M1730 244h0M1758 247h0M1537 244h0M1823 249h0M1629 244h0M1669 248h0M1583 249h0M1789 245h0M1616 248h0M1653 247h0M1749 245h0M1743 245h0M1512 249h0M1570 244h0M1651 248h0M1588 249h0M1586 248h0M1579 250h0M1576 249h0M1713 247h0M1656 245h0M1702 249h0M1736 244h0M1634 247h0M1718 244h0M1641 243h0M1509 245h0M1653 248h0M1633 244h0M1670 247h0M1510 246h0M1621 246h0M1900 246h0M1908 248h0M1628 248h0M1618 247h0M1737 246h0M1721 246h0M1736 244h0M1526 199h0M1802 197h0M1664 197h0M1710 197h0M1755 197h0M1708 199h0M1763 200h0M1697 195h0M1656 195h0M1746 197h0M1690 199h0M1742 195h0M1720 198h0M1665 198h0M1768 197h0M1643 198h0M1683 197h0M1773 196h0M1765 194h0M1684 196h0M1713 196h0M1815 197h0M1659 195h0M1684 195h0M1702 199h0M1743 196h0M1644 197h0M1661 196h0M2104 194h0M1739 168h0M1739 167h0" stroke="#5ab697" stroke-width="8.8" stroke-linecap="round" fill="none"/>
<path d="M1842 248h0M1825 245h0M1721 247h0M1765 129h0" stroke="#d16ba4" stroke-width="8.8" stroke-linecap="round" fill="none"/>
<path d="M1770 410h0M1776 409h0M1774 412h0M1555 407h0M1893 408h0M1607 409h0M1893 408h0M1884 409h0M1808 412h0M1846 407h0M1836 411h0M1807 410h0M1825 409h0M1565 411h0M1914 413h0M1814 408h0M1888 412h0M1839 409h0M1781 409h0M1857 413h0M1875 409h0M1810 410h0M1845 410h0M1903 407h0M1636 410h0M1909 408h0M1883 408h0M1797 412h0M1855 412h0M1662 408h0M1768 407h0M1688 408h0M1907 243h0M1793 247h0M1661 245h0M1623 249h0M1636 249h0M1878 245h0M1901 244h0M1674 247h0M1837 249h0M1811 246h0M1729 248h0M1665 243h0M1785 249h0M1850 248h0M1838 247h0M1787 246h0M1877 247h0M1883 246h0M1819 247h0M1847 248h0M1850 243h0M1912 246h0M1807 246h0M1824 245h0M1805 249h0M1846 246h0M1849 243h0M1802 245h0M1880 244h0M1891 247h0M1822 248h0M1903 246h0M1841 246h0M1846 247h0M1702 245h0M1874 248h0M1828 249h0M1881 243h0M1849 249h0M1675 243h0M1863 246h0M1512 196h0M1828 198h0M1809 197h0M1842 196h0M1786 194h0M1863 197h0M1843 200h0M1847 200h0M1859 200h0M1855 196h0M1894 195h0M1916 197h0M1744 194h0M1921 194h0M1873 199h0M1837 200h0M1852 198h0M1885 194h0M1882 199h0M1795 199h0M1735 167h0M1848 166h0" stroke="#e5825f" stroke-width="8.8" stroke-linecap="round" fill="none"/>
<path d="M1765 412h0M1764 169h0" stroke="#dfbd8c" stroke-width="8.8" stroke-linecap="round" fill="none"/>
<path d="M1923 406h0M1931 409h0M1929 408h0M1945 406h0M1957 409h0M1953 412h0M1928 407h0M1950 409h0M1937 411h0M1948 407h0M1924 410h0M1935 409h0M1938 411h0M2107 410h0M1958 245h0M1958 246h0M1939 244h0M1945 247h0M1923 249h0M1940 244h0M1938 248h0M1944 245h0M1931 248h0M1949 247h0M1942 248h0M1933 245h0M1950 250h0M1956 243h0M2108 245h0M2107 248h0M1953 196h0M1937 199h0M1948 196h0M1950 195h0M2107 197h0" stroke="#fcc9e6" stroke-width="8.8" stroke-linecap="round" fill="none"/>
<path d="M1560 408h0M1526 411h0M1510 411h0M1519 409h0M1525 411h0M1556 411h0M1560 413h0M1530 411h0M1533 244h0M1522 248h0M1542 246h0M1561 249h0M1540 247h0M1511 244h0M1545 249h0M1519 246h0M1550 244h0M1544 244h0M1553 200h0M1546 198h0M1516 197h0M1565 197h0M1527 196h0M1521 194h0M1564 196h0M1525 198h0M1553 198h0M1555 196h0M1519 199h0M1555 197h0M1561 172h0M1767 135h0" stroke="#8598c0" stroke-width="8.8" stroke-linecap="round" fill="none"/>
<path d="M1687 409h0M1570 413h0M1705 408h0M1772 412h0M1736 408h0M1528 412h0M1679 410h0M1719 409h0M1521 408h0M1706 407h0M1660 412h0M1747 412h0M1704 412h0M1662 407h0M1529 412h0M1623 409h0M1722 406h0M1651 409h0M1759 407h0M1809 410h0M1564 413h0M1625 411h0M1772 409h0M1591 410h0M1715 407h0M1540 411h0M1646 411h0M1603 409h0M1629 410h0M1723 412h0M1527 409h0M1637 412h0M1718 411h0M1649 412h0M1742 408h0M1816 410h0M1767 408h0M1597 407h0M1749 407h0M1515 411h0M1713 410h0M1684 409h0M1697 412h0M1600 407h0M1745 407h0M1613 412h0M1769 411h0M1600 411h0M1757 412h0M1604 410h0M1709 245h0M1610 248h0M1754 245h0M1597 245h0M1644 244h0M1772 245h0M1763 243h0M1798 244h0M1652 249h0M1761 245h0M1649 244h0M1753 245h0M1640 248h0M1725 246h0M1721 244h0M1588 245h0M1744 244h0M1660 248h0M1715 247h0M1639 248h0M1638 249h0M1702 249h0M1773 249h0M1637 249h0M1605 246h0M1625 248h0M1696 243h0M1759 247h0M1693 244h0M1640 244h0M1755 248h0M1785 246h0M1791 243h0M1706 250h0M1677 244h0M1568 247h0M1595 249h0M1557 245h0M1566 249h0M1721 248h0M1553 246h0M1600 247h0M1566 247h0M1616 249h0M1643 246h0M1544 248h0M1881 247h0M1700 247h0M1819 248h0M1637 245h0M1721 248h0M1751 243h0M1630 247h0M1953 244h0M1667 247h0M1672 194h0M1822 199h0M1684 195h0M1658 195h0M1708 198h0M1722 195h0M1670 199h0M1746 198h0M1706 199h0M1748 197h0M1658 196h0M1757 198h0M1692 199h0M1739 170h0M1762 167h0M1758 170h0" stroke="#5ab697" stroke-width="8.8" stroke-linecap="round" fill="none"/>
<path d="M1664 408h0M1886 248h0M1765 129h0" stroke="#d16ba4" stroke-width="8.8" stroke-linecap="round" fill="none"/>
<path d="M1796 410h0M1899 411h0M1811 411h0M1775 407h0M1785 411h0M1756 409h0M1872 412h0M1844 408h0M1789 409h0M1821 408h0M1865 409h0M1812 409h0M1832 413h0M1895 408h0M1871 411h0M1901 410h0M1856 412h0M1821 412h0M1833 409h0M1864 408h0M1709 412h0M1903 407h0M1870 413h0M1916 413h0M1799 413h0M1806 408h0M1841 407h0M1901 412h0M1824 411h0M1783 411h0M1838 407h0M1885 408h0M1846 409h0M1844 411h0M1586 246h0M1870 248h0M1648 248h0M1734 249h0M1695 246h0M1839 245h0M1916 247h0M1916 245h0M1913 245h0M1910 244h0M1913 246h0M1837 246h0M1844 249h0M1851 249h0M1893 248h0M1689 249h0M1878 248h0M1904 249h0M1700 244h0M1869 248h0M1549 249h0M1791 245h0M1783 246h0M1790 247h0M1770 247h0M1571 246h0M1895 245h0M1795 246h0M1775 249h0M1917 247h0M1824 243h0M1829 249h0M1844 245h0M1892 245h0M1787 243h0M1855 244h0M1824 246h0M1919 246h0M1919 245h0M1913 248h0M1834 195h0M1912 198h0M1846 195h0M1868 196h0M1892 198h0M1887 196h0M1909 197h0M1750 195h0M1827 196h0M1915 198h0M1892 197h0M1881 199h0M1875 196h0M1867 196h0M1824 199h0M1874 194h0M1891 199h0M1819 200h0M1876 197h0M1767 165h0M1762 147h0M1762 150h0" stroke="#e5825f" stroke-width="8.8" stroke-linecap="round" fill="none"/>
<path d="M1770 409h0M1766 408h0M1762 196h0" stroke="#dfbd8c" stroke-width="8.8" stroke-linecap="round" fill="none"/>
<path d="M1930 412h0M1928 409h0M1928 412h0M1949 408h0M2106 410h0M1950 249h0M1955 246h0M1952 248h0M1958 249h0M1927 248h0M1932 248h0M1940 244h0M2106 246h0M2108 247h0M1946 196h0M1953 194h0M2106 200h0M2104 166h0" stroke="#fcc9e6" stroke-width="8.8" stroke-linecap="round" fill="none"/>
</g></svg>
<rect x="1479.5" y="114.7" width="655.5" height="310.5" fill="none" stroke="#222" stroke-width="2" />
<text x="1807" y="102.2" font-size="27" fill="#111" text-anchor="middle">Itgb1</text>
<svg x="1479.5" y="481.4" width="655.5" height="310.9" overflow="hidden"><g transform="translate(-1479.5 -481.4)">
<path d="M1579 779h0M1524 780h0M1549 774h0M1521 774h0M1545 773h0M1571 778h0M1536 773h0M1512 779h0M1524 779h0M1579 778h0M1571 776h0M1544 776h0M1566 775h0M1548 779h0M1562 774h0M1525 777h0M1513 775h0M1537 777h0M1544 777h0M1548 775h0M1575 773h0M1572 775h0M1560 775h0M1550 775h0M1520 778h0M1568 773h0M1564 774h0M1574 775h0M1568 778h0M1570 778h0M1541 632h0M1526 548h0" stroke="#8598c0" stroke-width="8.8" stroke-linecap="round" fill="none"/>
<path d="M1557 776h0M1512 775h0M1556 776h0M1567 776h0M1531 777h0M1744 777h0M1715 774h0M1751 773h0M1605 775h0M1877 777h0M1631 635h0M1595 632h0M1633 630h0M1785 630h0M1665 633h0M1622 633h0M1790 634h0M1790 630h0M1808 632h0M1589 633h0M1593 634h0M1722 634h0M1589 634h0M1557 631h0M1561 632h0M1790 629h0M1564 631h0M1744 633h0M1691 632h0M1651 634h0M1695 629h0M1680 635h0M1715 630h0M1734 632h0M1594 631h0M1704 629h0M1621 634h0M1648 634h0M1793 634h0M1667 631h0M1772 632h0M1579 629h0M1803 634h0M1674 629h0M1774 632h0M1726 630h0M1588 635h0M1681 634h0M1762 633h0M1737 632h0M1678 630h0M1637 634h0M1546 589h0M1512 587h0M1591 590h0M1554 589h0M1569 590h0M1517 591h0M1604 590h0M1629 588h0M1627 589h0M1701 589h0M1788 587h0M1716 586h0M1905 588h0M1695 588h0M1735 590h0M1727 590h0M1749 590h0M1735 590h0M1773 587h0M1733 590h0M1754 585h0M1738 586h0M1807 590h0M1692 592h0M1743 590h0M1696 588h0M1697 588h0M1641 588h0M1902 592h0M1688 589h0M1709 588h0M1744 588h0M1764 589h0M1678 586h0M1718 588h0M1673 588h0M1692 588h0M1654 592h0M1887 586h0M1721 591h0M1886 587h0M1689 586h0M1698 591h0M1755 592h0M1731 587h0M1736 589h0M1687 586h0M1770 590h0M1755 591h0M1750 591h0M1640 587h0M1613 566h0M1529 563h0M1531 564h0M1595 561h0M1579 562h0M1554 562h0M1579 566h0M1617 563h0M1544 563h0M1646 562h0M1730 561h0M1722 560h0M1671 564h0M1725 565h0M1823 560h0M1673 563h0M1809 566h0M1761 565h0M1709 566h0M1654 563h0M1801 563h0M1653 560h0M1658 564h0M1660 564h0M1667 564h0M1683 565h0M1768 560h0M1738 565h0M1707 562h0M1635 566h0M1671 562h0M1688 566h0M1728 564h0M1816 562h0M1786 566h0M1758 566h0M1686 563h0M1714 565h0M1750 562h0M1669 565h0M1534 548h0M1643 544h0M1643 544h0M1540 542h0M1525 544h0M1559 546h0M1676 548h0M1706 542h0M1847 547h0M1814 546h0M1786 542h0M1732 545h0M1711 546h0M1736 545h0M1740 548h0M1797 544h0M1751 548h0M1735 545h0M1719 544h0M1695 545h0M1709 548h0M1780 542h0M1736 547h0M1712 543h0M1742 542h0M1700 548h0M1726 545h0M1803 543h0M1716 542h0M1725 548h0M1790 543h0M1773 543h0M1728 544h0M1709 544h0M1764 529h0M1738 529h0M1618 531h0M1705 530h0M1625 529h0M1716 530h0M1690 531h0M1647 530h0M1751 530h0M1719 530h0M1654 530h0M1759 529h0M1689 529h0M1752 533h0M1657 532h0M1594 531h0M1756 529h0M1747 534h0M1659 530h0M1685 528h0M1741 532h0M1763 531h0M1706 534h0M1628 518h0M1716 519h0M1627 519h0M1737 521h0M1661 522h0M1758 520h0M1725 510h0M1757 511h0M1760 507h0M1743 500h0M1783 503h0M1769 502h0M1761 495h0M1755 494h0M1757 492h0" stroke="#5ab697" stroke-width="8.8" stroke-linecap="round" fill="none"/>
<path d="M1615 779h0M1786 590h0M1724 561h0M1785 509h0" stroke="#d16ba4" stroke-width="8.8" stroke-linecap="round" fill="none"/>
<path d="M1652 779h0M1832 774h0M1833 774h0M1723 777h0M1898 779h0M1656 777h0M1659 775h0M1780 774h0M1843 776h0M1893 633h0M1903 633h0M1903 634h0M1831 631h0M1797 630h0M1879 634h0M1891 632h0M1857 631h0M1783 633h0M1605 634h0M1759 629h0M1855 634h0M1879 629h0M1829 631h0M1751 635h0M1606 635h0M1889 631h0M1689 630h0M1861 629h0M1775 630h0M1710 629h0M1805 634h0M1827 632h0M1853 630h0M1883 631h0M1512 587h0M1903 591h0M1865 587h0M1880 591h0M1898 588h0M1858 587h0M1829 587h0M1640 590h0M1916 589h0M1654 589h0M1891 590h0M1906 586h0M1826 589h0M1660 591h0M1871 591h0M1836 587h0M1901 589h0M1706 587h0M1861 586h0M1803 589h0M1773 587h0M1856 588h0M1887 590h0M1808 590h0M1917 587h0M1885 587h0M1907 587h0M1842 587h0M1773 592h0M1796 587h0M1830 589h0M1816 590h0M1906 587h0M1839 589h0M1888 586h0M1834 589h0M1851 591h0M1798 589h0M1767 589h0M1842 587h0M1665 590h0M1708 587h0M1547 562h0M1537 565h0M1636 561h0M1839 562h0M1777 564h0M1901 561h0M1883 563h0M1912 566h0M1831 561h0M1914 560h0M1881 564h0M1886 561h0M1828 562h0M1849 563h0M1907 566h0M1701 560h0M1806 566h0M1880 564h0M1884 562h0M1918 564h0M1682 566h0M1814 563h0M1870 561h0M1744 563h0M1899 564h0M1822 560h0M1910 563h0M1875 562h0M1700 562h0M1781 560h0M1875 565h0M1830 560h0M1888 561h0M1830 563h0M1783 560h0M1687 565h0M1906 563h0M1562 548h0M1650 547h0M1646 544h0M1821 547h0M1824 548h0M1789 547h0M1743 542h0M1814 542h0M1756 546h0M1823 548h0M1841 548h0M1667 543h0M1829 542h0M1809 543h0M1824 543h0M1785 542h0M1833 547h0M1854 542h0M1860 547h0M1884 544h0M1849 544h0M1830 534h0M1771 534h0M1675 519h0M1647 519h0M1787 517h0M1732 518h0M1706 520h0M1778 498h0M1761 493h0" stroke="#e5825f" stroke-width="8.8" stroke-linecap="round" fill="none"/>
<path d="M1764 634h0M1764 542h0M1764 544h0M1769 504h0" stroke="#dfbd8c" stroke-width="8.8" stroke-linecap="round" fill="none"/>
<path d="M1945 778h0M1937 775h0M1937 780h0M2109 777h0M1933 630h0M1927 633h0M1953 633h0M2107 629h0M1940 587h0M1930 588h0M1942 564h0" stroke="#fcc9e6" stroke-width="8.8" stroke-linecap="round" fill="none"/>
<path d="M1555 778h0M1518 779h0M1570 775h0M1548 774h0M1527 779h0M1543 773h0M1583 780h0M1534 775h0M1510 775h0M1557 779h0M1567 777h0M1553 779h0M1509 775h0M1539 779h0M1516 775h0M1567 777h0M1561 776h0M1576 776h0M1513 775h0M1540 777h0M1541 777h0M1526 777h0M1553 778h0M1518 631h0M1540 631h0" stroke="#8598c0" stroke-width="8.8" stroke-linecap="round" fill="none"/>
<path d="M1554 779h0M1560 773h0M1528 776h0M1545 773h0M1546 777h0M1747 773h0M1636 776h0M1670 774h0M1749 776h0M1688 779h0M1727 778h0M1662 775h0M1764 776h0M1731 778h0M1766 631h0M1620 635h0M1781 630h0M1891 633h0M1579 631h0M1691 632h0M1905 629h0M1590 635h0M1634 630h0M1856 633h0M1711 634h0M1558 631h0M1735 630h0M1651 634h0M1579 633h0M1556 632h0M1634 635h0M1630 631h0M1735 635h0M1757 631h0M1788 629h0M1786 630h0M1579 631h0M1631 635h0M1808 629h0M1588 633h0M1770 634h0M1556 631h0M1778 630h0M1629 634h0M1767 632h0M1560 629h0M1797 629h0M1631 632h0M1576 631h0M1703 630h0M1688 633h0M1619 634h0M1671 629h0M1656 631h0M1655 629h0M1591 587h0M1587 586h0M1521 588h0M1558 586h0M1568 586h0M1574 590h0M1605 589h0M1712 591h0M1852 588h0M1704 589h0M1766 586h0M1720 587h0M1825 589h0M1722 587h0M1657 589h0M1650 586h0M1717 587h0M1681 589h0M1739 588h0M1750 590h0M1718 589h0M1752 585h0M1767 587h0M1804 589h0M1753 588h0M1801 587h0M1687 589h0M1710 587h0M1707 586h0M1872 590h0M1705 587h0M1877 591h0M1729 589h0M1669 590h0M1670 590h0M1820 591h0M1662 588h0M1765 590h0M1773 592h0M1709 592h0M1711 589h0M1652 587h0M1682 586h0M1749 587h0M1666 591h0M1711 588h0M1780 591h0M1743 592h0M1948 588h0M1533 561h0M1576 563h0M1516 565h0M1622 564h0M1608 564h0M1586 562h0M1622 565h0M1561 560h0M1640 566h0M1706 561h0M1707 564h0M1661 563h0M1643 565h0M1859 564h0M1657 564h0M1727 562h0M1690 565h0M1680 564h0M1688 563h0M1676 562h0M1686 564h0M1685 565h0M1745 562h0M1705 565h0M1796 561h0M1737 560h0M1670 561h0M1713 565h0M1786 564h0M1698 561h0M1727 562h0M1906 560h0M1665 565h0M1731 560h0M1696 566h0M1665 566h0M1860 561h0M1636 561h0M1882 563h0M1737 563h0M1765 564h0M1619 548h0M1542 546h0M1627 545h0M1577 542h0M1653 545h0M1598 543h0M1644 548h0M1624 544h0M1742 542h0M1805 546h0M1789 546h0M1675 547h0M1743 544h0M1742 546h0M1716 548h0M1807 544h0M1713 545h0M1688 547h0M1706 543h0M1785 546h0M1810 543h0M1758 544h0M1682 548h0M1738 547h0M1694 544h0M1755 543h0M1793 547h0M1741 546h0M1716 542h0M1698 546h0M1679 546h0M1817 546h0M1780 547h0M1821 545h0M1730 545h0M1715 542h0M1855 547h0M1651 531h0M1691 532h0M1674 532h0M1743 530h0M1734 528h0M1735 531h0M1650 533h0M1730 529h0M1743 529h0M1683 530h0M1674 531h0M1598 534h0M1748 529h0M1619 532h0M1615 531h0M1655 533h0M1629 530h0M1596 532h0M1721 531h0M1713 530h0M1630 520h0M1753 517h0M1777 519h0M1763 522h0M1755 509h0M1727 508h0M1755 511h0M1747 507h0M1784 512h0M1636 513h0M1770 503h0M1765 492h0" stroke="#5ab697" stroke-width="8.8" stroke-linecap="round" fill="none"/>
<path d="M1585 778h0M1690 774h0M1665 590h0M1732 591h0M1744 590h0M1727 591h0M1798 563h0M1918 563h0M1705 508h0" stroke="#d16ba4" stroke-width="8.8" stroke-linecap="round" fill="none"/>
<path d="M1552 776h0M1537 777h0M1529 775h0M1904 778h0M1811 778h0M1804 780h0M1688 773h0M1690 777h0M1822 774h0M1696 777h0M1698 631h0M1852 633h0M1692 633h0M1877 629h0M1896 630h0M1891 632h0M1894 632h0M1720 629h0M1883 630h0M1840 631h0M1835 629h0M1918 630h0M1874 631h0M1821 633h0M1861 629h0M1864 629h0M1820 630h0M1902 633h0M1834 634h0M1835 632h0M1610 629h0M1776 630h0M1802 632h0M1786 632h0M1884 629h0M1783 633h0M1780 633h0M1584 589h0M1514 591h0M1769 589h0M1857 591h0M1840 587h0M1904 590h0M1695 585h0M1892 587h0M1846 588h0M1743 586h0M1848 587h0M1802 589h0M1774 589h0M1740 590h0M1886 589h0M1829 592h0M1775 588h0M1834 586h0M1811 588h0M1798 591h0M1681 585h0M1897 591h0M1853 590h0M1748 586h0M1804 590h0M1856 589h0M1749 586h0M1810 588h0M1824 587h0M1854 591h0M1854 586h0M1905 561h0M1897 565h0M1715 562h0M1853 560h0M1858 562h0M1882 563h0M1774 566h0M1901 562h0M1846 564h0M1813 564h0M1785 565h0M1778 566h0M1894 564h0M1909 565h0M1872 563h0M1863 561h0M1686 561h0M1809 566h0M1771 561h0M1900 566h0M1859 566h0M1800 564h0M1800 561h0M1919 566h0M1857 566h0M1833 566h0M1832 565h0M1914 564h0M1834 565h0M1897 566h0M1864 561h0M1678 563h0M1913 564h0M1831 547h0M1786 544h0M1842 548h0M1784 547h0M1715 545h0M1800 543h0M1835 546h0M1773 546h0M1829 546h0M1773 542h0M1733 546h0M1808 543h0M1758 545h0M1798 544h0M1694 542h0M1775 543h0M1823 542h0M1780 543h0M1692 546h0M1671 542h0M1840 547h0M1879 546h0M1806 529h0M1643 529h0M1664 532h0M1815 531h0M1830 530h0M1791 520h0M1657 509h0M1764 504h0M1755 504h0M1773 499h0" stroke="#e5825f" stroke-width="8.8" stroke-linecap="round" fill="none"/>
<path d="M1761 519h0" stroke="#dfbd8c" stroke-width="8.8" stroke-linecap="round" fill="none"/>
<path d="M1934 777h0M2106 779h0M2106 774h0M2104 779h0M2105 629h0M1944 586h0M1930 591h0M1935 585h0M1937 565h0M1958 566h0M1951 564h0" stroke="#fcc9e6" stroke-width="8.8" stroke-linecap="round" fill="none"/>
<path d="M1511 779h0M1559 775h0M1581 778h0M1582 776h0M1571 778h0M1543 778h0M1520 780h0M1567 775h0M1567 778h0M1535 779h0M1556 773h0M1522 773h0M1520 777h0M1551 774h0M1570 777h0M1557 778h0M1548 775h0M1564 773h0M1570 779h0M1512 776h0M1514 777h0M1561 777h0M1528 775h0M1564 774h0M1522 777h0M1513 779h0M1581 779h0M1535 774h0M1541 777h0M1526 632h0M1536 631h0M1524 631h0M1527 633h0M1546 633h0M1533 591h0M1561 546h0" stroke="#8598c0" stroke-width="8.8" stroke-linecap="round" fill="none"/>
<path d="M1720 776h0M1665 779h0M1603 776h0M1720 774h0M1600 775h0M1541 634h0M1527 635h0M1581 633h0M1578 634h0M1710 635h0M1597 633h0M1578 634h0M1661 633h0M1574 630h0M1752 635h0M1694 629h0M1635 632h0M1574 634h0M1709 635h0M1600 632h0M1582 635h0M1605 635h0M1691 630h0M1588 633h0M1604 633h0M1576 629h0M1663 633h0M1814 635h0M1645 634h0M1570 629h0M1817 633h0M1789 629h0M1584 633h0M1785 633h0M1755 632h0M1694 635h0M1593 630h0M1695 630h0M1722 634h0M1728 629h0M1634 632h0M1755 634h0M1715 631h0M1570 634h0M1568 630h0M1676 632h0M1720 629h0M1636 629h0M1929 634h0M1950 632h0M1599 591h0M1568 591h0M1552 589h0M1575 592h0M1592 590h0M1596 587h0M1602 588h0M1579 587h0M1627 591h0M1588 590h0M1706 585h0M1666 587h0M1709 590h0M1662 590h0M1656 589h0M1762 588h0M1667 585h0M1647 591h0M1760 588h0M1820 590h0M1659 590h0M1768 590h0M1670 587h0M1719 589h0M1806 589h0M1688 589h0M1816 587h0M1633 587h0M1737 588h0M1723 588h0M1705 586h0M1706 588h0M1738 585h0M1720 588h0M1699 588h0M1712 589h0M1812 588h0M1702 591h0M1674 587h0M1683 585h0M1813 589h0M1746 587h0M1744 591h0M1726 589h0M1720 586h0M1693 586h0M1894 590h0M1711 587h0M1730 588h0M1730 588h0M1801 592h0M1816 589h0M1817 588h0M1755 586h0M1738 590h0M1758 587h0M1819 591h0M1704 589h0M1720 591h0M1535 564h0M1564 565h0M1674 561h0M1725 562h0M1760 565h0M1913 565h0M1776 565h0M1732 564h0M1675 561h0M1665 564h0M1682 562h0M1652 566h0M1901 566h0M1657 561h0M1805 566h0M1661 565h0M1785 561h0M1643 562h0M1704 561h0M1673 564h0M1885 562h0M1706 563h0M1692 565h0M1746 563h0M1678 563h0M1674 561h0M1640 563h0M1642 560h0M1761 562h0M1901 565h0M1700 561h0M1667 565h0M1714 561h0M1665 565h0M1660 565h0M1791 561h0M1698 560h0M1799 564h0M1640 563h0M1637 566h0M1639 562h0M1563 545h0M1726 547h0M1708 544h0M1763 548h0M1755 544h0M1723 547h0M1741 542h0M1669 545h0M1792 545h0M1716 544h0M1811 542h0M1709 542h0M1809 542h0M1816 544h0M1718 548h0M1781 543h0M1744 545h0M1799 544h0M1759 546h0M1715 546h0M1703 547h0M1682 548h0M1740 548h0M1772 544h0M1728 545h0M1748 546h0M1763 543h0M1773 542h0M1689 528h0M1716 533h0M1761 532h0M1671 534h0M1633 528h0M1746 531h0M1664 529h0M1778 529h0M1593 532h0M1758 529h0M1732 533h0M1600 532h0M1658 533h0M1748 530h0M1647 534h0M1695 529h0M1760 534h0M1816 532h0M1602 534h0M1598 530h0M1613 523h0M1781 520h0M1701 518h0M1617 522h0M1649 522h0M1698 521h0M1736 518h0M1754 517h0M1755 521h0M1765 519h0M1655 511h0M1638 513h0M1754 507h0M1768 508h0M1698 503h0M1737 499h0M1706 499h0M1762 495h0" stroke="#5ab697" stroke-width="8.8" stroke-linecap="round" fill="none"/>
<path d="M1815 591h0M1916 590h0M1861 585h0M1874 563h0M1755 561h0M1869 566h0M1680 544h0M1707 544h0M1605 519h0M1767 502h0" stroke="#d16ba4" stroke-width="8.8" stroke-linecap="round" fill="none"/>
<path d="M1560 777h0M1580 775h0M1562 778h0M1557 774h0M1921 775h0M1666 776h0M1667 776h0M1832 775h0M1814 774h0M1866 774h0M1904 774h0M1886 631h0M1875 631h0M1842 631h0M1873 635h0M1914 630h0M1823 631h0M1792 630h0M1879 633h0M1871 631h0M1775 630h0M1867 633h0M1865 631h0M1735 634h0M1655 633h0M1805 630h0M1844 633h0M1859 633h0M1815 630h0M1660 630h0M1821 631h0M1661 631h0M1899 631h0M1865 633h0M1877 634h0M1895 632h0M1754 587h0M1915 587h0M1825 587h0M1876 586h0M1848 588h0M1773 591h0M1871 589h0M1843 587h0M1827 587h0M1758 589h0M1905 586h0M1918 591h0M1822 588h0M1840 588h0M1832 590h0M1868 586h0M1881 590h0M1847 590h0M1817 588h0M1749 592h0M1848 591h0M1843 588h0M1785 587h0M1897 585h0M1808 591h0M1838 588h0M1905 591h0M1800 591h0M1836 586h0M1864 587h0M1893 587h0M1879 586h0M1831 590h0M1815 591h0M1915 586h0M1914 586h0M1796 588h0M1746 588h0M1661 562h0M1898 563h0M1904 566h0M1869 564h0M1859 561h0M1857 563h0M1663 566h0M1798 566h0M1913 564h0M1795 566h0M1882 564h0M1847 565h0M1789 560h0M1806 564h0M1857 562h0M1880 564h0M1862 566h0M1810 560h0M1872 562h0M1900 564h0M1815 566h0M1817 561h0M1751 564h0M1787 565h0M1880 563h0M1836 564h0M1892 564h0M1832 562h0M1823 562h0M1811 565h0M1872 565h0M1854 561h0M1876 562h0M1830 548h0M1795 543h0M1796 548h0M1795 544h0M1841 545h0M1804 548h0M1809 546h0M1838 548h0M1832 542h0M1827 547h0M1814 545h0M1826 546h0M1730 548h0M1846 542h0M1815 546h0M1844 548h0M1793 546h0M1708 543h0M1694 548h0M1847 548h0M1849 545h0M1864 546h0M1886 544h0M1830 534h0M1826 531h0M1741 529h0M1816 532h0M1808 528h0M1814 517h0M1810 517h0M1748 510h0" stroke="#e5825f" stroke-width="8.8" stroke-linecap="round" fill="none"/>
<path d="M1764 630h0M1761 632h0M1768 591h0M1767 564h0M1765 547h0M1765 530h0M1763 529h0M1759 508h0M1763 512h0" stroke="#dfbd8c" stroke-width="8.8" stroke-linecap="round" fill="none"/>
<path d="M1957 779h0M1926 776h0M1929 635h0M1956 634h0M1938 631h0M1929 630h0M2105 630h0M1930 591h0M1955 586h0M1958 587h0M1942 586h0M1956 589h0M2104 586h0M2105 589h0M2104 589h0M1933 564h0M1959 546h0" stroke="#fcc9e6" stroke-width="8.8" stroke-linecap="round" fill="none"/>
<path d="M1527 777h0M1510 775h0M1577 774h0M1568 777h0M1573 779h0M1579 779h0M1575 775h0M1531 773h0M1579 775h0M1564 779h0M1549 775h0M1522 774h0M1577 776h0M1517 774h0M1580 776h0M1558 775h0M1561 776h0M1579 777h0M1559 778h0M1557 775h0M1578 778h0M1540 778h0M1521 777h0M1512 775h0M1543 777h0M1569 776h0M1575 774h0M1526 780h0M1542 778h0M1529 780h0M1531 776h0M1518 775h0M1528 779h0M1514 779h0M1526 778h0M1515 774h0M1518 775h0M1559 774h0M1519 775h0M1538 773h0M1537 566h0" stroke="#8598c0" stroke-width="8.8" stroke-linecap="round" fill="none"/>
<path d="M1533 775h0M1729 774h0M1681 776h0M1594 776h0M1744 774h0M1591 774h0M1690 775h0M1797 779h0M1613 779h0M1681 774h0M1773 777h0M1691 776h0M1583 631h0M1642 632h0M1592 630h0M1586 632h0M1598 631h0M1823 631h0M1678 632h0M1713 635h0M1693 634h0M1726 633h0M1738 634h0M1636 629h0M1578 629h0M1573 631h0M1706 629h0M1894 632h0M1593 629h0M1752 630h0M1674 632h0M1725 635h0M1600 631h0M1706 630h0M1750 629h0M1642 633h0M1877 630h0M1556 631h0M1795 635h0M1674 633h0M1710 634h0M1639 634h0M1581 630h0M1585 635h0M1656 629h0M1591 631h0M1651 632h0M1898 631h0M1867 630h0M1937 632h0M1599 591h0M1524 590h0M1532 589h0M1590 587h0M1567 589h0M1525 589h0M1513 586h0M1619 587h0M1591 588h0M1585 586h0M1567 588h0M1597 586h0M1606 586h0M1626 587h0M1590 586h0M1737 585h0M1643 588h0M1807 586h0M1877 589h0M1789 589h0M1824 587h0M1633 590h0M1775 589h0M1786 591h0M1652 586h0M1708 591h0M1690 586h0M1783 589h0M1683 590h0M1685 586h0M1704 586h0M1766 590h0M1693 590h0M1701 589h0M1688 592h0M1650 592h0M1767 586h0M1824 588h0M1789 589h0M1714 592h0M1740 588h0M1674 587h0M1668 591h0M1639 586h0M1731 591h0M1725 589h0M1744 585h0M1688 588h0M1863 587h0M1802 585h0M1768 589h0M1642 586h0M1688 589h0M1730 589h0M1595 564h0M1606 562h0M1518 563h0M1543 561h0M1586 560h0M1621 565h0M1572 565h0M1705 561h0M1684 564h0M1746 564h0M1701 566h0M1663 565h0M1657 565h0M1686 566h0M1777 566h0M1655 565h0M1659 560h0M1689 566h0M1727 561h0M1706 560h0M1635 562h0M1648 561h0M1905 566h0M1709 561h0M1730 564h0M1825 561h0M1662 564h0M1763 565h0M1680 560h0M1814 561h0M1651 565h0M1638 561h0M1758 565h0M1715 564h0M1668 564h0M1695 563h0M1640 565h0M1694 566h0M1790 563h0M1806 563h0M1722 566h0M1692 560h0M1722 564h0M1603 546h0M1585 544h0M1543 543h0M1558 543h0M1598 546h0M1646 545h0M1812 546h0M1728 543h0M1802 547h0M1772 545h0M1677 548h0M1776 545h0M1679 547h0M1825 544h0M1684 546h0M1726 543h0M1668 547h0M1744 544h0M1766 545h0M1672 542h0M1746 543h0M1694 546h0M1763 546h0M1754 545h0M1678 546h0M1689 546h0M1748 544h0M1750 542h0M1716 548h0M1689 543h0M1801 548h0M1711 548h0M1755 528h0M1712 530h0M1710 531h0M1660 532h0M1662 534h0M1755 534h0M1748 528h0M1629 534h0M1767 534h0M1614 532h0M1719 529h0M1641 530h0M1747 530h0M1592 531h0M1660 534h0M1825 531h0M1736 532h0M1747 517h0M1617 517h0M1648 519h0M1664 517h0M1750 520h0M1767 522h0M1764 517h0M1670 510h0M1709 509h0M1738 508h0M1747 513h0M1768 512h0M1770 510h0M1768 501h0M1695 499h0M1705 502h0" stroke="#5ab697" stroke-width="8.8" stroke-linecap="round" fill="none"/>
<path d="M1887 590h0M1835 586h0M1690 590h0M1637 588h0M1675 590h0M1694 566h0M1739 546h0" stroke="#d16ba4" stroke-width="8.8" stroke-linecap="round" fill="none"/>
<path d="M1915 776h0M1862 779h0M1861 774h0M1844 773h0M1860 633h0M1815 635h0M1906 629h0M1906 629h0M1727 631h0M1902 632h0M1825 634h0M1881 629h0M1685 633h0M1860 631h0M1836 629h0M1704 632h0M1889 631h0M1847 635h0M1867 631h0M1800 631h0M1863 632h0M1894 630h0M1889 587h0M1915 590h0M1753 587h0M1918 589h0M1802 587h0M1897 591h0M1899 591h0M1839 587h0M1776 590h0M1899 589h0M1817 591h0M1850 586h0M1906 590h0M1842 589h0M1900 590h0M1888 591h0M1885 588h0M1859 589h0M1884 590h0M1791 589h0M1872 587h0M1857 590h0M1866 588h0M1916 591h0M1773 589h0M1886 590h0M1906 589h0M1788 587h0M1912 589h0M1776 589h0M1800 587h0M1839 586h0M1901 588h0M1886 589h0M1891 589h0M1834 587h0M1868 588h0M1524 564h0M1792 566h0M1835 562h0M1912 565h0M1908 565h0M1832 561h0M1844 565h0M1838 566h0M1806 563h0M1844 562h0M1637 566h0M1827 561h0M1804 566h0M1754 560h0M1692 562h0M1791 561h0M1681 563h0M1885 563h0M1865 560h0M1832 564h0M1640 564h0M1828 564h0M1915 566h0M1901 563h0M1664 564h0M1852 561h0M1915 563h0M1889 566h0M1837 565h0M1894 561h0M1710 565h0M1787 563h0M1900 563h0M1556 547h0M1560 545h0M1814 543h0M1847 546h0M1793 547h0M1766 544h0M1774 548h0M1810 547h0M1789 543h0M1823 545h0M1818 542h0M1689 548h0M1801 544h0M1847 544h0M1835 548h0M1807 543h0M1843 546h0M1835 542h0M1838 545h0M1834 548h0M1847 543h0M1780 544h0M1862 548h0M1628 530h0M1794 529h0M1800 530h0M1675 532h0M1770 532h0M1817 529h0M1805 518h0M1695 512h0" stroke="#e5825f" stroke-width="8.8" stroke-linecap="round" fill="none"/>
<path d="M1767 632h0" stroke="#dfbd8c" stroke-width="8.8" stroke-linecap="round" fill="none"/>
<path d="M1939 780h0M1955 775h0M1935 629h0M1941 631h0M1954 634h0M1926 632h0M2105 631h0M2107 634h0M1933 588h0M1930 590h0M1937 591h0M1943 590h0M2108 591h0M2105 588h0M2108 546h0" stroke="#fcc9e6" stroke-width="8.8" stroke-linecap="round" fill="none"/>
</g></svg>
<rect x="1479.5" y="481.4" width="655.5" height="310.9" fill="none" stroke="#222" stroke-width="2" />
<text x="1807" y="468.9" font-size="27" fill="#111" text-anchor="middle">Spp1</text>
<svg x="1479.5" y="849" width="655.5" height="311.3" overflow="hidden"><g transform="translate(-1479.5 -849)">
<path d="M1533 1140h0M1536 1141h0M1548 1142h0M1545 1142h0M1531 1145h0M1534 1140h0M1534 1141h0M1545 1141h0M1532 1142h0M1549 1141h0M1516 1141h0M1546 1143h0M1544 1143h0" stroke="#8598c0" stroke-width="8.8" stroke-linecap="round" fill="none"/>
<path d="M1698 1143h0M1956 1140h0M1826 1140h0M1684 1142h0M1677 1140h0M1624 1140h0M1652 1143h0M1655 1142h0M1712 1140h0M1658 1141h0M1577 1145h0M1687 1142h0M1649 1140h0M1807 1141h0M1947 1145h0M1632 1140h0M1574 1145h0M1598 1143h0M1576 1143h0M1750 1143h0M1609 1145h0M1635 1140h0M1723 1141h0M1527 1143h0M1589 1142h0M1596 1144h0M1721 1144h0M1570 1139h0M1633 1145h0M1591 1142h0M1688 1139h0M1590 1142h0M1670 1144h0M1665 1143h0M1515 1144h0M1533 1144h0M1611 1141h0M1550 1140h0M1702 1140h0M1587 1144h0M1615 1143h0M1619 1145h0M1665 1142h0M1770 1141h0M1818 1145h0M1793 1142h0M1660 1139h0M1700 1140h0M1709 1139h0M1677 1142h0M1710 1142h0M1690 1145h0M1585 1140h0M1620 1141h0M1581 1142h0M1559 1144h0M1658 1139h0M1731 1140h0M1708 1144h0M1682 1143h0M1687 1144h0M1579 1141h0M1718 1145h0M1733 1142h0" stroke="#5ab697" stroke-width="8.8" stroke-linecap="round" fill="none"/>
<path d="M1580 1144h0" stroke="#d16ba4" stroke-width="8.8" stroke-linecap="round" fill="none"/>
<path d="M1899 1142h0M1786 1141h0M1835 1139h0M1873 1145h0M1917 1143h0M1784 1141h0M1903 1143h0M1858 1144h0M1883 1141h0M1514 1140h0M1909 1140h0M1513 1142h0M1848 1140h0M1779 1145h0M1810 1140h0M1909 1145h0M1603 1139h0M1854 1144h0M1773 1141h0M1898 1141h0M1811 1143h0M1894 1142h0M1836 1139h0M1869 1140h0M1600 1143h0M1903 1139h0M1820 1139h0M1916 1144h0M1897 1139h0M1915 1145h0M1678 1140h0M1818 1145h0M1831 1145h0M1834 1141h0M1897 1144h0M1792 1142h0M1909 1145h0M1777 1140h0M1777 930h0" stroke="#e5825f" stroke-width="8.8" stroke-linecap="round" fill="none"/>
<path d="M1760 1143h0M1766 930h0M1765 859h0" stroke="#dfbd8c" stroke-width="8.8" stroke-linecap="round" fill="none"/>
<path d="M1952 1139h0M1948 1145h0M1930 1142h0M1938 1145h0M1941 1144h0M1953 1140h0M1950 1145h0M1934 1142h0M1949 1143h0M1931 1142h0M1928 1142h0M1944 1144h0M1937 1144h0M2105 1139h0M2108 1143h0M1959 930h0" stroke="#fcc9e6" stroke-width="8.8" stroke-linecap="round" fill="none"/>
<path d="M1555 1143h0M1547 1145h0M1548 1144h0M1513 1143h0M1515 1143h0M1546 1139h0M1564 1143h0M1523 1141h0M1532 1140h0M1556 929h0" stroke="#8598c0" stroke-width="8.8" stroke-linecap="round" fill="none"/>
<path d="M1717 1140h0M1700 1145h0M1689 1144h0M1784 1141h0M1522 1142h0M1785 1141h0M1931 1141h0M1675 1140h0M1707 1139h0M1688 1141h0M1717 1142h0M1710 1144h0M1653 1140h0M1784 1142h0M1606 1143h0M1536 1143h0M1593 1145h0M1752 1145h0M1770 1141h0M1649 1140h0M1766 1141h0M1741 1139h0M1626 1139h0M1599 1141h0M1717 1143h0M1724 1142h0M1512 1142h0M1652 1145h0M1783 1139h0M1519 1143h0M1710 1145h0M1541 1143h0M1889 1141h0M1526 1141h0M1629 1140h0M1597 1142h0M1625 1139h0M1791 1143h0M1662 1139h0M1668 1143h0M1682 1144h0M1700 1142h0M1807 1141h0M1516 1140h0M1780 1144h0M1732 1143h0M1759 1142h0M1718 1143h0M1542 1141h0M1955 1142h0M1744 1143h0M1631 1141h0M1744 1144h0M1705 1144h0M1737 1140h0M1712 1143h0M1541 1141h0M1731 1140h0M1717 1140h0M1797 1145h0M1645 1139h0M1704 1145h0M1612 1144h0M1916 1145h0M1568 1145h0M1621 1139h0M1924 1145h0M1535 1142h0M1814 1145h0M1631 1144h0M1517 1142h0M1525 1140h0M1662 1142h0M1770 1143h0M1648 1142h0M1616 1139h0M1552 1142h0M1640 1140h0M1695 1141h0M1747 1140h0M1603 1142h0M1757 930h0" stroke="#5ab697" stroke-width="8.8" stroke-linecap="round" fill="none"/>
<path d="M1868 1142h0M1860 1142h0M1856 1142h0M1835 1139h0M1842 1142h0M1555 1140h0M1819 1140h0M1796 1145h0M1887 1141h0M1845 1145h0M1712 1140h0M1873 1142h0M1873 1145h0M1910 1143h0M1800 1144h0M1902 1142h0M1837 1142h0M1904 1141h0M1813 1143h0M1854 1139h0M1828 1143h0M1826 1143h0M1896 1141h0M1893 1142h0M1776 1140h0M1914 1140h0M1885 1139h0M1866 1142h0M1904 1142h0M1908 1143h0M1871 1142h0M1792 1142h0M1860 1143h0M1919 1145h0M1856 1143h0" stroke="#e5825f" stroke-width="8.8" stroke-linecap="round" fill="none"/>
<path d="M1761 1144h0" stroke="#dfbd8c" stroke-width="8.8" stroke-linecap="round" fill="none"/>
<path d="M1932 1144h0M1923 1145h0M2108 1145h0M2109 1142h0" stroke="#fcc9e6" stroke-width="8.8" stroke-linecap="round" fill="none"/>
<path d="M1547 1139h0M1554 1142h0M1535 1141h0M1516 1140h0M1547 1141h0M1564 1140h0M1560 1140h0M1554 1141h0M1514 1141h0M1550 1143h0M1552 1141h0M1524 927h0M1537 931h0M1559 930h0" stroke="#8598c0" stroke-width="8.8" stroke-linecap="round" fill="none"/>
<path d="M1551 1145h0M1572 1140h0M1826 1141h0M1587 1139h0M1613 1140h0M1869 1144h0M1923 1139h0M1571 1141h0M1757 1144h0M1554 1139h0M1582 1144h0M1604 1145h0M1699 1145h0M1567 1139h0M1691 1142h0M1574 1140h0M1590 1143h0M1795 1141h0M1722 1143h0M1650 1144h0M1655 1145h0M1580 1145h0M1619 1140h0M1583 1139h0M1615 1139h0M1601 1140h0M1928 1142h0M1721 1142h0M1614 1145h0M1555 1143h0M1584 1140h0M1803 1139h0M1534 1144h0M1712 1139h0M1602 1141h0M1518 1144h0M1606 1144h0M1857 1141h0M1659 1139h0M1632 1142h0M1869 1143h0M1793 1143h0M1736 1145h0M1698 1142h0M1693 1143h0M1738 1144h0M1636 1144h0M1617 1140h0M1562 1140h0M1624 1142h0M1720 1141h0M1825 1139h0M1740 1140h0M1583 1142h0M1628 1145h0M1585 1142h0M1676 1142h0M1631 1141h0M1594 1144h0M1589 1143h0M1680 1145h0M1692 930h0M1755 868h0" stroke="#5ab697" stroke-width="8.8" stroke-linecap="round" fill="none"/>
<path d="M1591 1141h0M1578 1139h0" stroke="#d16ba4" stroke-width="8.8" stroke-linecap="round" fill="none"/>
<path d="M1913 1142h0M1828 1144h0M1888 1139h0M1824 1142h0M1795 1143h0M1898 1145h0M1587 1144h0M1799 1139h0M1585 1141h0M1906 1143h0M1859 1139h0M1844 1142h0M1875 1141h0M1791 1143h0M1689 1142h0M1891 1139h0M1836 1144h0M1799 1142h0M1882 1141h0M1903 1144h0M1883 1140h0M1890 1144h0M1788 1143h0M1842 1139h0M1789 1144h0M1774 1142h0M1872 1142h0M1790 1145h0M1813 1143h0M1749 1145h0M1907 1145h0M1800 1144h0M1660 1140h0M1749 1140h0M1890 1143h0M1876 1143h0M1864 1141h0M1821 1145h0M1862 1142h0M1860 1144h0M1898 1140h0M1865 1144h0M1809 1144h0M1902 1142h0M1821 1139h0M1824 1141h0M1863 1142h0" stroke="#e5825f" stroke-width="8.8" stroke-linecap="round" fill="none"/>
<path d="M1766 933h0" stroke="#dfbd8c" stroke-width="8.8" stroke-linecap="round" fill="none"/>
<path d="M1943 1145h0M1943 1141h0M1936 1139h0M1945 1143h0M1939 1139h0M1957 1145h0M1923 1139h0M1942 1144h0M1958 1143h0M1928 1144h0M1932 1141h0M1946 1143h0M2108 1143h0" stroke="#fcc9e6" stroke-width="8.8" stroke-linecap="round" fill="none"/>
<path d="M1564 1139h0M1540 1143h0M1521 1144h0M1552 1143h0M1552 1141h0M1518 1140h0M1546 1139h0M1510 1140h0M1520 1139h0M1524 1141h0M1514 1141h0M1540 1142h0M1519 1143h0M1556 1141h0M1561 929h0" stroke="#8598c0" stroke-width="8.8" stroke-linecap="round" fill="none"/>
<path d="M1580 1139h0M1737 1143h0M1629 1141h0M1812 1144h0M1605 1141h0M1549 1139h0M1675 1140h0M1588 1142h0M1751 1139h0M1720 1139h0M1513 1145h0M1608 1139h0M1730 1144h0M1707 1141h0M1594 1143h0M1753 1139h0M1655 1142h0M1828 1139h0M1638 1142h0M1591 1144h0M1705 1145h0M1545 1140h0M1582 1143h0M1695 1144h0M1692 1140h0M1718 1140h0M1629 1144h0M1670 1142h0M1660 1143h0M1594 1141h0M1926 1141h0M1655 1142h0M1767 1145h0M1718 1141h0M1620 1142h0M1577 1140h0M1578 1144h0M1802 1139h0M1752 1143h0M1666 1139h0M1807 1143h0M1782 1142h0M1674 1144h0M1533 1142h0M1754 1143h0M1687 1139h0M1549 1143h0M1690 1144h0M1615 1144h0M1683 1141h0M1628 1144h0M1748 1140h0M1762 1142h0M1573 1144h0M1556 1141h0M1593 1142h0M1706 1141h0M1807 1141h0M1725 1144h0M1649 1144h0M1716 1141h0M1580 1144h0M1746 1145h0M1756 1142h0M1618 926h0M1726 927h0" stroke="#5ab697" stroke-width="8.8" stroke-linecap="round" fill="none"/>
<path d="M1914 1144h0" stroke="#d16ba4" stroke-width="8.8" stroke-linecap="round" fill="none"/>
<path d="M1825 1143h0M1857 1144h0M1904 1141h0M1730 1142h0M1772 1141h0M1908 1143h0M1860 1139h0M1798 1141h0M1879 1143h0M1892 1140h0M1906 1140h0M1809 1143h0M1889 1145h0M1598 1142h0M1758 1144h0M1878 1140h0M1723 1141h0M1883 1142h0M1640 1144h0M1910 1140h0M1828 1139h0M1819 1141h0M1591 1144h0M1739 1144h0M1921 1141h0M1905 1143h0M1781 1143h0M1793 1142h0M1654 1142h0M1860 1143h0M1859 1141h0M1838 1140h0M1909 1144h0M1871 1141h0M1608 1140h0M1787 931h0" stroke="#e5825f" stroke-width="8.8" stroke-linecap="round" fill="none"/>
<path d="M1762 1145h0M1765 926h0M1766 857h0" stroke="#dfbd8c" stroke-width="8.8" stroke-linecap="round" fill="none"/>
<path d="M1952 1139h0M1935 1145h0M1957 1141h0M1943 1140h0M1947 1142h0M1952 1141h0M1931 1145h0M1929 1143h0M1951 1141h0M1931 1143h0M1932 1145h0M1930 1140h0M1928 1140h0M1945 1143h0M2107 1142h0" stroke="#fcc9e6" stroke-width="8.8" stroke-linecap="round" fill="none"/>
</g></svg>
<rect x="1479.5" y="849" width="655.5" height="311.3" fill="none" stroke="#222" stroke-width="2" />
<text x="1807" y="836.5" font-size="27" fill="#111" text-anchor="middle">Tspan9</text>
<path d="M1509 277.5 C1580 265 1650 252 1698 254.5 C1750 256 1800 265 1852 265 C1930 265 2010 262 2104.5 247.3" fill="none" stroke="#111" stroke-width="2"/>
<path d="M1509 681 C1560 640 1640 566 1708.7 563.4 C1760 563 1840 600 1918.6 609.5 C1990 618 2050 625 2104.5 632" fill="none" stroke="#111" stroke-width="2"/>
<line x1="1509" y1="1142" x2="2104.5" y2="1142" stroke="#111" stroke-width="2" />
<line x1="1473.5" y1="168.4" x2="1479.5" y2="168.4" stroke="#333" stroke-width="1.5" />
<text x="1471" y="178.1" font-size="27" fill="#444" text-anchor="end">3.0</text>
<line x1="1473.5" y1="246.3" x2="1479.5" y2="246.3" stroke="#333" stroke-width="1.5" />
<text x="1471" y="256" font-size="27" fill="#444" text-anchor="end">1.0</text>
<line x1="1473.5" y1="331.7" x2="1479.5" y2="331.7" stroke="#333" stroke-width="1.5" />
<text x="1471" y="341.4" font-size="27" fill="#444" text-anchor="end">0.3</text>
<line x1="1473.5" y1="409.6" x2="1479.5" y2="409.6" stroke="#333" stroke-width="1.5" />
<text x="1471" y="419.3" font-size="27" fill="#444" text-anchor="end">0.1</text>
<line x1="1473.5" y1="487.6" x2="1479.5" y2="487.6" stroke="#333" stroke-width="1.5" />
<text x="1471" y="497.3" font-size="27" fill="#444" text-anchor="end">10.0</text>
<line x1="1473.5" y1="632" x2="1479.5" y2="632" stroke="#333" stroke-width="1.5" />
<text x="1471" y="641.7" font-size="27" fill="#444" text-anchor="end">1.0</text>
<line x1="1473.5" y1="776.4" x2="1479.5" y2="776.4" stroke="#333" stroke-width="1.5" />
<text x="1471" y="786.1" font-size="27" fill="#444" text-anchor="end">0.1</text>
<line x1="1473.5" y1="929.5" x2="1479.5" y2="929.5" stroke="#333" stroke-width="1.5" />
<text x="1471" y="939.2" font-size="27" fill="#444" text-anchor="end">1.0</text>
<line x1="1473.5" y1="1040.6" x2="1479.5" y2="1040.6" stroke="#333" stroke-width="1.5" />
<text x="1471" y="1050.3" font-size="27" fill="#444" text-anchor="end">0.3</text>
<line x1="1473.5" y1="1142" x2="1479.5" y2="1142" stroke="#333" stroke-width="1.5" />
<text x="1471" y="1151.7" font-size="27" fill="#444" text-anchor="end">0.1</text>
<line x1="1509" y1="1160.3" x2="1509" y2="1166.5" stroke="#333" stroke-width="1.5" />
<text x="1509" y="1190.6" font-size="27" fill="#444" text-anchor="middle">0</text>
<line x1="1663" y1="1160.3" x2="1663" y2="1166.5" stroke="#333" stroke-width="1.5" />
<text x="1663" y="1190.6" font-size="27" fill="#444" text-anchor="middle">5</text>
<line x1="1817" y1="1160.3" x2="1817" y2="1166.5" stroke="#333" stroke-width="1.5" />
<text x="1817" y="1190.6" font-size="27" fill="#444" text-anchor="middle">10</text>
<line x1="1971" y1="1160.3" x2="1971" y2="1166.5" stroke="#333" stroke-width="1.5" />
<text x="1971" y="1190.6" font-size="27" fill="#444" text-anchor="middle">15</text>
<line x1="2125" y1="1160.3" x2="2125" y2="1166.5" stroke="#333" stroke-width="1.5" />
<text x="2125" y="1190.6" font-size="27" fill="#444" text-anchor="middle">20</text>
<text x="1807" y="1226.4" font-size="32.7" fill="#111" text-anchor="middle">pseudotime</text>
<text x="1410" y="637.6" font-size="36.4" fill="#111" text-anchor="middle" transform="rotate(-90 1410 637.6)">Expression</text>
</svg></body></html>
